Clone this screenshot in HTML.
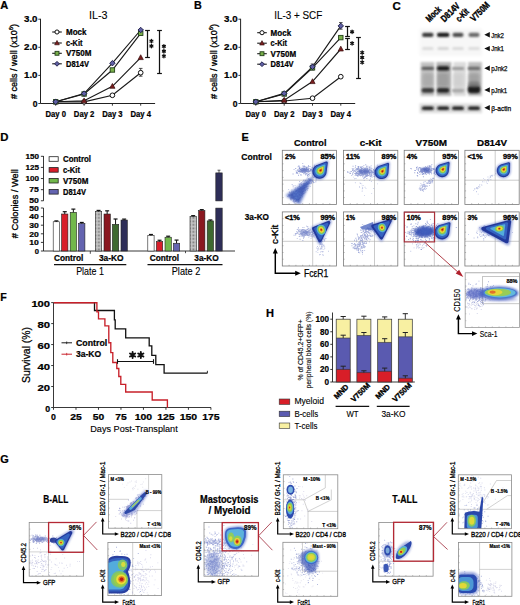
<!DOCTYPE html>
<html><head><meta charset="utf-8"><style>
html,body{margin:0;padding:0;background:#fff;width:520px;height:605px;overflow:hidden;}
svg{display:block;font-family:"Liberation Sans", sans-serif;}
text[font-weight=bold]{stroke:#000;stroke-width:0.22px;}
text[font-weight=normal]{stroke:#000;stroke-width:0.12px;}
</style></head><body>
<svg width="520" height="605" viewBox="0 0 520 605">
<defs>
<filter id="bl05" x="-20%" y="-20%" width="140%" height="140%"><feGaussianBlur stdDeviation="0.45"/></filter>
<filter id="bl07" x="-30%" y="-80%" width="160%" height="260%"><feGaussianBlur stdDeviation="0.95"/></filter>
<filter id="bl1" x="-30%" y="-30%" width="160%" height="160%"><feGaussianBlur stdDeviation="0.9"/></filter>
<filter id="bl2" x="-30%" y="-30%" width="160%" height="160%"><feGaussianBlur stdDeviation="1.8"/></filter>
<pattern id="dots" width="1.4" height="1.4" patternUnits="userSpaceOnUse"><rect width="1.4" height="1.4" fill="#c4c4c4"/><rect width="0.7" height="0.7" fill="#7a7a7a"/></pattern>
</defs>
<rect width="520" height="605" fill="#fff"/>
<text x="0.20" y="9.00" font-size="10.8" font-weight="bold" fill="#000" textLength="8.0" lengthAdjust="spacingAndGlyphs">A</text>
<line x1="40.50" y1="18.80" x2="40.50" y2="103.50" stroke="#222" stroke-width="1.0"/>
<line x1="40.50" y1="103.50" x2="155.10" y2="103.50" stroke="#222" stroke-width="1.0"/>
<line x1="38.30" y1="19.20" x2="40.50" y2="19.20" stroke="#222" stroke-width="0.9"/>
<text x="37.50" y="22.20" font-size="8.6" font-weight="bold" fill="#000" text-anchor="end" textLength="13.5" lengthAdjust="spacingAndGlyphs">3.0</text>
<line x1="38.30" y1="47.30" x2="40.50" y2="47.30" stroke="#222" stroke-width="0.9"/>
<text x="37.50" y="50.30" font-size="8.6" font-weight="bold" fill="#000" text-anchor="end" textLength="13.5" lengthAdjust="spacingAndGlyphs">2.0</text>
<line x1="38.30" y1="75.40" x2="40.50" y2="75.40" stroke="#222" stroke-width="0.9"/>
<text x="37.50" y="78.40" font-size="8.6" font-weight="bold" fill="#000" text-anchor="end" textLength="13.5" lengthAdjust="spacingAndGlyphs">1.0</text>
<line x1="38.30" y1="103.50" x2="40.50" y2="103.50" stroke="#222" stroke-width="0.9"/>
<text x="37.50" y="106.50" font-size="8.6" font-weight="bold" fill="#000" text-anchor="end">0</text>
<line x1="55.70" y1="103.50" x2="55.70" y2="105.70" stroke="#222" stroke-width="0.9"/>
<text x="55.70" y="116.70" font-size="8.3" font-weight="bold" fill="#000" text-anchor="middle" textLength="20.5" lengthAdjust="spacingAndGlyphs">Day 0</text>
<line x1="84.10" y1="103.50" x2="84.10" y2="105.70" stroke="#222" stroke-width="0.9"/>
<text x="84.10" y="116.70" font-size="8.3" font-weight="bold" fill="#000" text-anchor="middle" textLength="20.5" lengthAdjust="spacingAndGlyphs">Day 2</text>
<line x1="112.40" y1="103.50" x2="112.40" y2="105.70" stroke="#222" stroke-width="0.9"/>
<text x="112.40" y="116.70" font-size="8.3" font-weight="bold" fill="#000" text-anchor="middle" textLength="20.5" lengthAdjust="spacingAndGlyphs">Day 3</text>
<line x1="140.70" y1="103.50" x2="140.70" y2="105.70" stroke="#222" stroke-width="0.9"/>
<text x="140.70" y="116.70" font-size="8.3" font-weight="bold" fill="#000" text-anchor="middle" textLength="20.5" lengthAdjust="spacingAndGlyphs">Day 4</text>
<text x="89.00" y="18.90" font-size="10.8" font-weight="normal" fill="#000" textLength="18.5" lengthAdjust="spacingAndGlyphs">IL-3</text>
<text x="16.50" y="61.5" font-size="9.2" font-weight="normal" style="stroke-width:0.32px" text-anchor="middle" textLength="75" lengthAdjust="spacingAndGlyphs" transform="rotate(-90 16.50 61.5)"># cells / well (x10<tspan font-size="6" dy="-3.6">6</tspan><tspan dy="3.6">)</tspan></text>
<line x1="52.20" y1="32.00" x2="61.80" y2="32.00" stroke="#1a1a1a" stroke-width="1.1"/>
<circle cx="57.00" cy="32.00" r="2.07" fill="#fff" stroke="#111" stroke-width="1.0"/>
<text x="66.00" y="35.00" font-size="8.2" font-weight="bold" fill="#000" textLength="20.5" lengthAdjust="spacingAndGlyphs">Mock</text>
<line x1="52.20" y1="43.00" x2="61.80" y2="43.00" stroke="#1a1a1a" stroke-width="1.1"/>
<path d="M54.70,44.77 L59.30,44.77 L57.00,40.47Z" fill="#7a1e1e" stroke="#3a1010" stroke-width="0.7"/>
<text x="66.00" y="46.00" font-size="8.2" font-weight="bold" fill="#000" textLength="16.5" lengthAdjust="spacingAndGlyphs">c-Kit</text>
<line x1="52.20" y1="53.30" x2="61.80" y2="53.30" stroke="#1a1a1a" stroke-width="1.1"/>
<rect x="55.05" y="51.34" width="3.91" height="3.91" fill="#7ab04a" stroke="#22401a" stroke-width="0.9"/>
<text x="66.00" y="56.30" font-size="8.2" font-weight="bold" fill="#000" textLength="25.5" lengthAdjust="spacingAndGlyphs">V750M</text>
<line x1="52.20" y1="63.80" x2="61.80" y2="63.80" stroke="#1a1a1a" stroke-width="1.1"/>
<path d="M57.00,61.38 L59.41,63.80 L57.00,66.22 L54.59,63.80Z" fill="#6060a4" stroke="#1a1a44" stroke-width="0.9"/>
<text x="66.00" y="66.80" font-size="8.2" font-weight="bold" fill="#000" textLength="23" lengthAdjust="spacingAndGlyphs">D814V</text>
<polyline points="55.70,101.80 84.10,101.80 112.40,95.30 140.70,72.70" fill="none" stroke="#1a1a1a" stroke-width="1.15"/>
<polyline points="55.70,101.80 84.10,100.80 112.40,86.30 140.70,57.60" fill="none" stroke="#1a1a1a" stroke-width="1.15"/>
<polyline points="55.70,101.80 84.10,94.00 112.40,70.00 140.70,33.30" fill="none" stroke="#1a1a1a" stroke-width="1.15"/>
<polyline points="55.70,101.80 84.10,93.60 112.40,63.20 140.70,30.00" fill="none" stroke="#1a1a1a" stroke-width="1.15"/>
<line x1="140.70" y1="68.40" x2="140.70" y2="76.20" stroke="#222" stroke-width="0.8"/>
<line x1="138.90" y1="68.40" x2="142.50" y2="68.40" stroke="#222" stroke-width="0.8"/>
<line x1="138.90" y1="76.20" x2="142.50" y2="76.20" stroke="#222" stroke-width="0.8"/>
<circle cx="55.70" cy="101.80" r="2.34" fill="#fff" stroke="#111" stroke-width="1.0"/>
<circle cx="84.10" cy="101.80" r="2.34" fill="#fff" stroke="#111" stroke-width="1.0"/>
<circle cx="112.40" cy="95.30" r="2.34" fill="#fff" stroke="#111" stroke-width="1.0"/>
<circle cx="140.70" cy="72.70" r="2.34" fill="#fff" stroke="#111" stroke-width="1.0"/>
<path d="M53.10,103.80 L58.30,103.80 L55.70,98.94Z" fill="#7a1e1e" stroke="#3a1010" stroke-width="0.7"/>
<path d="M81.50,102.80 L86.70,102.80 L84.10,97.94Z" fill="#7a1e1e" stroke="#3a1010" stroke-width="0.7"/>
<path d="M109.80,88.30 L115.00,88.30 L112.40,83.44Z" fill="#7a1e1e" stroke="#3a1010" stroke-width="0.7"/>
<path d="M138.10,59.60 L143.30,59.60 L140.70,54.74Z" fill="#7a1e1e" stroke="#3a1010" stroke-width="0.7"/>
<rect x="53.49" y="99.59" width="4.42" height="4.42" fill="#7ab04a" stroke="#22401a" stroke-width="0.9"/>
<rect x="81.89" y="91.79" width="4.42" height="4.42" fill="#7ab04a" stroke="#22401a" stroke-width="0.9"/>
<rect x="110.19" y="67.79" width="4.42" height="4.42" fill="#7ab04a" stroke="#22401a" stroke-width="0.9"/>
<rect x="138.49" y="31.09" width="4.42" height="4.42" fill="#7ab04a" stroke="#22401a" stroke-width="0.9"/>
<path d="M55.70,99.07 L58.43,101.80 L55.70,104.53 L52.97,101.80Z" fill="#6060a4" stroke="#1a1a44" stroke-width="0.9"/>
<path d="M84.10,90.87 L86.83,93.60 L84.10,96.33 L81.37,93.60Z" fill="#6060a4" stroke="#1a1a44" stroke-width="0.9"/>
<path d="M112.40,60.47 L115.13,63.20 L112.40,65.93 L109.67,63.20Z" fill="#6060a4" stroke="#1a1a44" stroke-width="0.9"/>
<path d="M140.70,27.27 L143.43,30.00 L140.70,32.73 L137.97,30.00Z" fill="#6060a4" stroke="#1a1a44" stroke-width="0.9"/>
<line x1="147.50" y1="30.50" x2="147.50" y2="57.50" stroke="#111" stroke-width="1.25"/>
<line x1="145.10" y1="30.50" x2="149.90" y2="30.50" stroke="#111" stroke-width="1.2"/>
<line x1="145.10" y1="57.50" x2="149.90" y2="57.50" stroke="#111" stroke-width="1.2"/>
<path d="M151.40,39.45L151.40,42.85M152.87,40.30L149.93,42.00M152.87,42.00L149.93,40.30" stroke="#111" stroke-width="1.3" stroke-linecap="round"/>
<path d="M151.40,44.35L151.40,47.75M152.87,45.20L149.93,46.90M152.87,46.90L149.93,45.20" stroke="#111" stroke-width="1.3" stroke-linecap="round"/>
<line x1="159.50" y1="30.50" x2="159.50" y2="73.50" stroke="#111" stroke-width="1.25"/>
<line x1="157.10" y1="30.50" x2="161.90" y2="30.50" stroke="#111" stroke-width="1.2"/>
<line x1="157.10" y1="73.50" x2="161.90" y2="73.50" stroke="#111" stroke-width="1.2"/>
<path d="M163.90,44.60L163.90,48.00M165.37,45.45L162.43,47.15M165.37,47.15L162.43,45.45" stroke="#111" stroke-width="1.3" stroke-linecap="round"/>
<path d="M163.90,49.50L163.90,52.90M165.37,50.35L162.43,52.05M165.37,52.05L162.43,50.35" stroke="#111" stroke-width="1.3" stroke-linecap="round"/>
<path d="M163.90,54.40L163.90,57.80M165.37,55.25L162.43,56.95M165.37,56.95L162.43,55.25" stroke="#111" stroke-width="1.3" stroke-linecap="round"/>
<text x="194.00" y="8.80" font-size="10.8" font-weight="bold" fill="#000" textLength="7.8" lengthAdjust="spacingAndGlyphs">B</text>
<line x1="240.60" y1="18.80" x2="240.60" y2="103.50" stroke="#222" stroke-width="1.0"/>
<line x1="240.60" y1="103.50" x2="355.20" y2="103.50" stroke="#222" stroke-width="1.0"/>
<line x1="238.40" y1="19.20" x2="240.60" y2="19.20" stroke="#222" stroke-width="0.9"/>
<text x="237.60" y="22.20" font-size="8.6" font-weight="bold" fill="#000" text-anchor="end" textLength="13.5" lengthAdjust="spacingAndGlyphs">3.0</text>
<line x1="238.40" y1="47.30" x2="240.60" y2="47.30" stroke="#222" stroke-width="0.9"/>
<text x="237.60" y="50.30" font-size="8.6" font-weight="bold" fill="#000" text-anchor="end" textLength="13.5" lengthAdjust="spacingAndGlyphs">2.0</text>
<line x1="238.40" y1="75.40" x2="240.60" y2="75.40" stroke="#222" stroke-width="0.9"/>
<text x="237.60" y="78.40" font-size="8.6" font-weight="bold" fill="#000" text-anchor="end" textLength="13.5" lengthAdjust="spacingAndGlyphs">1.0</text>
<line x1="238.40" y1="103.50" x2="240.60" y2="103.50" stroke="#222" stroke-width="0.9"/>
<text x="237.60" y="106.50" font-size="8.6" font-weight="bold" fill="#000" text-anchor="end">0</text>
<line x1="255.80" y1="103.50" x2="255.80" y2="105.70" stroke="#222" stroke-width="0.9"/>
<text x="255.80" y="116.70" font-size="8.3" font-weight="bold" fill="#000" text-anchor="middle" textLength="20.5" lengthAdjust="spacingAndGlyphs">Day 0</text>
<line x1="284.20" y1="103.50" x2="284.20" y2="105.70" stroke="#222" stroke-width="0.9"/>
<text x="284.20" y="116.70" font-size="8.3" font-weight="bold" fill="#000" text-anchor="middle" textLength="20.5" lengthAdjust="spacingAndGlyphs">Day 2</text>
<line x1="312.50" y1="103.50" x2="312.50" y2="105.70" stroke="#222" stroke-width="0.9"/>
<text x="312.50" y="116.70" font-size="8.3" font-weight="bold" fill="#000" text-anchor="middle" textLength="20.5" lengthAdjust="spacingAndGlyphs">Day 3</text>
<line x1="340.80" y1="103.50" x2="340.80" y2="105.70" stroke="#222" stroke-width="0.9"/>
<text x="340.80" y="116.70" font-size="8.3" font-weight="bold" fill="#000" text-anchor="middle" textLength="20.5" lengthAdjust="spacingAndGlyphs">Day 4</text>
<text x="274.20" y="18.90" font-size="10.8" font-weight="normal" fill="#000" textLength="48" lengthAdjust="spacingAndGlyphs">IL-3 + SCF</text>
<text x="216.50" y="61.5" font-size="9.2" font-weight="normal" style="stroke-width:0.32px" text-anchor="middle" textLength="75" lengthAdjust="spacingAndGlyphs" transform="rotate(-90 216.50 61.5)"># cells / well (x10<tspan font-size="6" dy="-3.6">6</tspan><tspan dy="3.6">)</tspan></text>
<line x1="257.20" y1="32.70" x2="266.80" y2="32.70" stroke="#1a1a1a" stroke-width="1.1"/>
<circle cx="262.00" cy="32.70" r="2.07" fill="#fff" stroke="#111" stroke-width="1.0"/>
<text x="270.60" y="35.70" font-size="8.2" font-weight="bold" fill="#000" textLength="20.5" lengthAdjust="spacingAndGlyphs">Mock</text>
<line x1="257.20" y1="43.20" x2="266.80" y2="43.20" stroke="#1a1a1a" stroke-width="1.1"/>
<path d="M259.70,44.97 L264.30,44.97 L262.00,40.67Z" fill="#7a1e1e" stroke="#3a1010" stroke-width="0.7"/>
<text x="270.60" y="46.20" font-size="8.2" font-weight="bold" fill="#000" textLength="16.5" lengthAdjust="spacingAndGlyphs">c-Kit</text>
<line x1="257.20" y1="53.70" x2="266.80" y2="53.70" stroke="#1a1a1a" stroke-width="1.1"/>
<rect x="260.05" y="51.75" width="3.91" height="3.91" fill="#7ab04a" stroke="#22401a" stroke-width="0.9"/>
<text x="270.60" y="56.70" font-size="8.2" font-weight="bold" fill="#000" textLength="25.5" lengthAdjust="spacingAndGlyphs">V750M</text>
<line x1="257.20" y1="64.20" x2="266.80" y2="64.20" stroke="#1a1a1a" stroke-width="1.1"/>
<path d="M262.00,61.79 L264.42,64.20 L262.00,66.62 L259.58,64.20Z" fill="#6060a4" stroke="#1a1a44" stroke-width="0.9"/>
<text x="270.60" y="67.20" font-size="8.2" font-weight="bold" fill="#000" textLength="23" lengthAdjust="spacingAndGlyphs">D814V</text>
<polyline points="255.80,101.80 284.20,101.00 312.50,98.20 340.80,76.70" fill="none" stroke="#1a1a1a" stroke-width="1.15"/>
<polyline points="255.80,101.80 284.20,100.20 312.50,81.60 340.80,49.00" fill="none" stroke="#1a1a1a" stroke-width="1.15"/>
<polyline points="255.80,101.80 284.20,94.00 312.50,67.80 340.80,37.60" fill="none" stroke="#1a1a1a" stroke-width="1.15"/>
<polyline points="255.80,101.80 284.20,93.40 312.50,66.80 340.80,25.90" fill="none" stroke="#1a1a1a" stroke-width="1.15"/>
<line x1="340.80" y1="22.60" x2="340.80" y2="29.20" stroke="#222" stroke-width="0.8"/>
<line x1="339.00" y1="22.60" x2="342.60" y2="22.60" stroke="#222" stroke-width="0.8"/>
<line x1="339.00" y1="29.20" x2="342.60" y2="29.20" stroke="#222" stroke-width="0.8"/>
<line x1="312.50" y1="64.00" x2="312.50" y2="70.00" stroke="#222" stroke-width="0.8"/>
<line x1="310.70" y1="64.00" x2="314.30" y2="64.00" stroke="#222" stroke-width="0.8"/>
<line x1="310.70" y1="70.00" x2="314.30" y2="70.00" stroke="#222" stroke-width="0.8"/>
<circle cx="255.80" cy="101.80" r="2.34" fill="#fff" stroke="#111" stroke-width="1.0"/>
<circle cx="284.20" cy="101.00" r="2.34" fill="#fff" stroke="#111" stroke-width="1.0"/>
<circle cx="312.50" cy="98.20" r="2.34" fill="#fff" stroke="#111" stroke-width="1.0"/>
<circle cx="340.80" cy="76.70" r="2.34" fill="#fff" stroke="#111" stroke-width="1.0"/>
<path d="M253.20,103.80 L258.40,103.80 L255.80,98.94Z" fill="#7a1e1e" stroke="#3a1010" stroke-width="0.7"/>
<path d="M281.60,102.20 L286.80,102.20 L284.20,97.34Z" fill="#7a1e1e" stroke="#3a1010" stroke-width="0.7"/>
<path d="M309.90,83.60 L315.10,83.60 L312.50,78.74Z" fill="#7a1e1e" stroke="#3a1010" stroke-width="0.7"/>
<path d="M338.20,51.00 L343.40,51.00 L340.80,46.14Z" fill="#7a1e1e" stroke="#3a1010" stroke-width="0.7"/>
<rect x="253.59" y="99.59" width="4.42" height="4.42" fill="#7ab04a" stroke="#22401a" stroke-width="0.9"/>
<rect x="281.99" y="91.79" width="4.42" height="4.42" fill="#7ab04a" stroke="#22401a" stroke-width="0.9"/>
<rect x="310.29" y="65.59" width="4.42" height="4.42" fill="#7ab04a" stroke="#22401a" stroke-width="0.9"/>
<rect x="338.59" y="35.39" width="4.42" height="4.42" fill="#7ab04a" stroke="#22401a" stroke-width="0.9"/>
<path d="M255.80,99.07 L258.53,101.80 L255.80,104.53 L253.07,101.80Z" fill="#6060a4" stroke="#1a1a44" stroke-width="0.9"/>
<path d="M284.20,90.67 L286.93,93.40 L284.20,96.13 L281.47,93.40Z" fill="#6060a4" stroke="#1a1a44" stroke-width="0.9"/>
<path d="M312.50,64.07 L315.23,66.80 L312.50,69.53 L309.77,66.80Z" fill="#6060a4" stroke="#1a1a44" stroke-width="0.9"/>
<path d="M340.80,23.17 L343.53,25.90 L340.80,28.63 L338.07,25.90Z" fill="#6060a4" stroke="#1a1a44" stroke-width="0.9"/>
<line x1="347.50" y1="26.50" x2="347.50" y2="36.50" stroke="#111" stroke-width="1.25"/>
<line x1="345.10" y1="26.50" x2="349.90" y2="26.50" stroke="#111" stroke-width="1.2"/>
<line x1="345.10" y1="36.50" x2="349.90" y2="36.50" stroke="#111" stroke-width="1.2"/>
<path d="M352.10,30.10L352.10,33.50M353.57,30.95L350.63,32.65M353.57,32.65L350.63,30.95" stroke="#111" stroke-width="1.3" stroke-linecap="round"/>
<line x1="347.50" y1="38.50" x2="347.50" y2="49.50" stroke="#111" stroke-width="1.25"/>
<line x1="345.10" y1="38.50" x2="349.90" y2="38.50" stroke="#111" stroke-width="1.2"/>
<line x1="345.10" y1="49.50" x2="349.90" y2="49.50" stroke="#111" stroke-width="1.2"/>
<path d="M352.10,41.70L352.10,45.10M353.57,42.55L350.63,44.25M353.57,44.25L350.63,42.55" stroke="#111" stroke-width="1.3" stroke-linecap="round"/>
<line x1="358.50" y1="37.50" x2="358.50" y2="78.50" stroke="#111" stroke-width="1.25"/>
<line x1="356.10" y1="37.50" x2="360.90" y2="37.50" stroke="#111" stroke-width="1.2"/>
<line x1="356.10" y1="78.50" x2="360.90" y2="78.50" stroke="#111" stroke-width="1.2"/>
<path d="M362.20,50.90L362.20,54.30M363.67,51.75L360.73,53.45M363.67,53.45L360.73,51.75" stroke="#111" stroke-width="1.3" stroke-linecap="round"/>
<path d="M362.20,55.80L362.20,59.20M363.67,56.65L360.73,58.35M363.67,58.35L360.73,56.65" stroke="#111" stroke-width="1.3" stroke-linecap="round"/>
<path d="M362.20,60.70L362.20,64.10M363.67,61.55L360.73,63.25M363.67,63.25L360.73,61.55" stroke="#111" stroke-width="1.3" stroke-linecap="round"/>
<text x="392.60" y="9.90" font-size="10.8" font-weight="bold" fill="#000" textLength="8.3" lengthAdjust="spacingAndGlyphs">C</text>
<text x="429.60" y="22.40" font-size="9.4" font-weight="bold" fill="#000" textLength="17.5" lengthAdjust="spacingAndGlyphs" transform="rotate(-45 429.60 22.40)" style="stroke-width:0.4px">Mock</text>
<text x="444.60" y="22.40" font-size="9.4" font-weight="bold" fill="#000" textLength="22.5" lengthAdjust="spacingAndGlyphs" transform="rotate(-45 444.60 22.40)" style="stroke-width:0.4px">D814V</text>
<text x="459.40" y="22.40" font-size="9.4" font-weight="bold" fill="#000" textLength="14.5" lengthAdjust="spacingAndGlyphs" transform="rotate(-45 459.40 22.40)" style="stroke-width:0.4px">c-Kit</text>
<text x="474.00" y="22.00" font-size="9.4" font-weight="bold" fill="#000" textLength="23" lengthAdjust="spacingAndGlyphs" transform="rotate(-45 474.00 22.00)" style="stroke-width:0.4px">V750M</text>
<rect x="419.50" y="28.50" width="62.50" height="27.50" fill="#f7f7f7" stroke="none" stroke-width="0.6" filter="url(#bl2)"/>
<rect x="422.05" y="32.80" width="11.50" height="4.20" rx="2.10" fill="#3a3a3a" opacity="1.0" filter="url(#bl07)"/>
<rect x="436.95" y="32.80" width="12.50" height="4.20" rx="2.10" fill="#1a1a1a" opacity="1.0" filter="url(#bl07)"/>
<rect x="452.50" y="32.80" width="11.00" height="4.20" rx="2.10" fill="#4e4e4e" opacity="1.0" filter="url(#bl07)"/>
<rect x="468.50" y="32.80" width="11.00" height="4.20" rx="2.10" fill="#6a6a6a" opacity="1.0" filter="url(#bl07)"/>
<rect x="422.05" y="46.90" width="11.50" height="3.00" rx="1.50" fill="#dcdcdc" opacity="1.0" filter="url(#bl07)"/>
<rect x="437.45" y="46.90" width="11.50" height="3.00" rx="1.50" fill="#d4d4d4" opacity="1.0" filter="url(#bl07)"/>
<rect x="452.25" y="46.90" width="11.50" height="3.00" rx="1.50" fill="#dadada" opacity="1.0" filter="url(#bl07)"/>
<rect x="468.25" y="46.90" width="11.50" height="3.00" rx="1.50" fill="#dcdcdc" opacity="1.0" filter="url(#bl07)"/>
<rect x="420.60" y="62.00" width="13.70" height="34.00" fill="#c4c4c4" stroke="none" stroke-width="0.6" filter="url(#bl1)"/>
<rect x="436.40" y="62.00" width="14.90" height="34.00" fill="#b4b4b4" stroke="none" stroke-width="0.6" filter="url(#bl1)"/>
<rect x="453.40" y="62.00" width="12.60" height="34.00" fill="#dcdcdc" stroke="none" stroke-width="0.6" filter="url(#bl1)"/>
<rect x="468.20" y="62.00" width="13.70" height="34.00" fill="#c0c0c0" stroke="none" stroke-width="0.6" filter="url(#bl1)"/>
<rect x="422.30" y="73.00" width="11.00" height="14.00" rx="3.00" fill="#9a9a9a" opacity="0.55" filter="url(#bl2)"/>
<rect x="437.70" y="73.00" width="11.00" height="14.00" rx="3.00" fill="#8e8e8e" opacity="0.55" filter="url(#bl2)"/>
<rect x="452.50" y="73.00" width="11.00" height="14.00" rx="3.00" fill="#c8c8c8" opacity="0.55" filter="url(#bl2)"/>
<rect x="468.50" y="73.00" width="11.00" height="14.00" rx="3.00" fill="#8a8a8a" opacity="0.55" filter="url(#bl2)"/>
<rect x="421.55" y="66.70" width="12.50" height="3.40" rx="1.70" fill="#5a5a5a" opacity="1.0" filter="url(#bl07)"/>
<rect x="436.95" y="66.30" width="12.50" height="4.20" rx="2.10" fill="#151515" opacity="1.0" filter="url(#bl07)"/>
<rect x="451.75" y="66.90" width="12.50" height="3.00" rx="1.50" fill="#9a9a9a" opacity="1.0" filter="url(#bl07)"/>
<rect x="467.75" y="66.80" width="12.50" height="3.20" rx="1.60" fill="#6a6a6a" opacity="1.0" filter="url(#bl07)"/>
<rect x="421.55" y="88.00" width="12.50" height="4.80" rx="2.40" fill="#3a3a3a" opacity="1.0" filter="url(#bl07)"/>
<rect x="436.95" y="88.00" width="12.50" height="4.80" rx="2.40" fill="#262626" opacity="1.0" filter="url(#bl07)"/>
<rect x="451.75" y="88.80" width="12.50" height="3.60" rx="1.80" fill="#a8a8a8" opacity="1.0" filter="url(#bl07)"/>
<rect x="467.75" y="85.65" width="12.50" height="7.50" rx="3.00" fill="#1e1e1e" opacity="1.0" filter="url(#bl07)"/>
<rect x="468.25" y="81.50" width="11.50" height="6.00" rx="3.00" fill="#6a6a6a" opacity="0.6" filter="url(#bl1)"/>
<rect x="419.50" y="103.40" width="62.50" height="9.80" fill="#dedede" stroke="none" stroke-width="0.6" filter="url(#bl1)"/>
<rect x="421.80" y="106.50" width="12.00" height="3.60" rx="1.80" fill="#1a1a1a" opacity="1.0" filter="url(#bl07)"/>
<rect x="437.20" y="106.50" width="12.00" height="3.60" rx="1.80" fill="#1a1a1a" opacity="1.0" filter="url(#bl07)"/>
<rect x="452.00" y="106.50" width="12.00" height="3.60" rx="1.80" fill="#1a1a1a" opacity="1.0" filter="url(#bl07)"/>
<rect x="468.00" y="106.50" width="12.00" height="3.60" rx="1.80" fill="#1a1a1a" opacity="1.0" filter="url(#bl07)"/>
<path d="M484.3,34.80 L489.8,32.10 L489.8,37.50Z" fill="#111"/>
<text x="491.20" y="37.60" font-size="7.8" font-weight="normal" fill="#000" textLength="12.8" lengthAdjust="spacingAndGlyphs" style="stroke-width:0.25px">Jnk2</text>
<path d="M484.3,48.60 L489.8,45.90 L489.8,51.30Z" fill="#111"/>
<text x="491.20" y="51.40" font-size="7.8" font-weight="normal" fill="#000" textLength="12.8" lengthAdjust="spacingAndGlyphs" style="stroke-width:0.25px">Jnk1</text>
<path d="M484.3,68.20 L489.8,65.50 L489.8,70.90Z" fill="#111"/>
<text x="491.20" y="71.00" font-size="7.8" font-weight="normal" fill="#000" textLength="16.3" lengthAdjust="spacingAndGlyphs" style="stroke-width:0.25px">pJnk2</text>
<path d="M484.3,89.90 L489.8,87.20 L489.8,92.60Z" fill="#111"/>
<text x="491.20" y="92.70" font-size="7.8" font-weight="normal" fill="#000" textLength="16.0" lengthAdjust="spacingAndGlyphs" style="stroke-width:0.25px">pJnk1</text>
<path d="M484.3,107.80 L489.8,105.10 L489.8,110.50Z" fill="#111"/>
<text x="491.20" y="110.60" font-size="7.8" font-weight="normal" fill="#000" textLength="20.0" lengthAdjust="spacingAndGlyphs" style="stroke-width:0.25px">β-actin</text>
<text x="0.20" y="140.60" font-size="10.8" font-weight="bold" fill="#000" textLength="8.2" lengthAdjust="spacingAndGlyphs">D</text>
<line x1="43.50" y1="156.00" x2="43.50" y2="200.80" stroke="#222" stroke-width="0.9"/>
<line x1="40.90" y1="156.30" x2="43.50" y2="156.30" stroke="#222" stroke-width="0.9"/>
<text x="38.90" y="159.00" font-size="7.6" font-weight="bold" fill="#000" text-anchor="end" textLength="13.5" lengthAdjust="spacingAndGlyphs">150</text>
<line x1="40.90" y1="167.42" x2="43.50" y2="167.42" stroke="#222" stroke-width="0.9"/>
<text x="38.90" y="170.12" font-size="7.6" font-weight="bold" fill="#000" text-anchor="end" textLength="13.5" lengthAdjust="spacingAndGlyphs">125</text>
<line x1="40.90" y1="178.54" x2="43.50" y2="178.54" stroke="#222" stroke-width="0.9"/>
<text x="38.90" y="181.24" font-size="7.6" font-weight="bold" fill="#000" text-anchor="end" textLength="13.5" lengthAdjust="spacingAndGlyphs">100</text>
<line x1="40.90" y1="189.66" x2="43.50" y2="189.66" stroke="#222" stroke-width="0.9"/>
<text x="38.90" y="192.36" font-size="7.6" font-weight="bold" fill="#000" text-anchor="end" textLength="9.6" lengthAdjust="spacingAndGlyphs">75</text>
<line x1="40.90" y1="200.78" x2="43.50" y2="200.78" stroke="#222" stroke-width="0.9"/>
<text x="38.90" y="203.48" font-size="7.6" font-weight="bold" fill="#000" text-anchor="end" textLength="9.6" lengthAdjust="spacingAndGlyphs">50</text>
<line x1="43.50" y1="208.00" x2="43.50" y2="251.00" stroke="#222" stroke-width="0.9"/>
<line x1="40.90" y1="208.00" x2="43.50" y2="208.00" stroke="#222" stroke-width="0.9"/>
<text x="38.90" y="210.70" font-size="7.6" font-weight="bold" fill="#000" text-anchor="end" textLength="9.6" lengthAdjust="spacingAndGlyphs">50</text>
<line x1="40.90" y1="216.60" x2="43.50" y2="216.60" stroke="#222" stroke-width="0.9"/>
<text x="38.90" y="219.30" font-size="7.6" font-weight="bold" fill="#000" text-anchor="end" textLength="9.6" lengthAdjust="spacingAndGlyphs">40</text>
<line x1="40.90" y1="225.20" x2="43.50" y2="225.20" stroke="#222" stroke-width="0.9"/>
<text x="38.90" y="227.90" font-size="7.6" font-weight="bold" fill="#000" text-anchor="end" textLength="9.6" lengthAdjust="spacingAndGlyphs">30</text>
<line x1="40.90" y1="233.80" x2="43.50" y2="233.80" stroke="#222" stroke-width="0.9"/>
<text x="38.90" y="236.50" font-size="7.6" font-weight="bold" fill="#000" text-anchor="end" textLength="9.6" lengthAdjust="spacingAndGlyphs">20</text>
<line x1="40.90" y1="242.40" x2="43.50" y2="242.40" stroke="#222" stroke-width="0.9"/>
<text x="38.90" y="245.10" font-size="7.6" font-weight="bold" fill="#000" text-anchor="end" textLength="9.6" lengthAdjust="spacingAndGlyphs">10</text>
<line x1="40.90" y1="251.00" x2="43.50" y2="251.00" stroke="#222" stroke-width="0.9"/>
<text x="38.90" y="253.70" font-size="7.6" font-weight="bold" fill="#000" text-anchor="end">0</text>
<line x1="43.50" y1="251.00" x2="235.00" y2="251.00" stroke="#222" stroke-width="0.9"/>
<line x1="90.30" y1="251.00" x2="90.30" y2="253.80" stroke="#222" stroke-width="0.8"/>
<line x1="185.50" y1="251.00" x2="185.50" y2="253.20" stroke="#222" stroke-width="0.8"/>
<text x="17.70" y="203.70" font-size="9.3" font-weight="normal" fill="#000" text-anchor="middle" textLength="69" lengthAdjust="spacingAndGlyphs" transform="rotate(-90 17.70 203.70)" style="stroke-width:0.32px"># Colonies / Well</text>
<rect x="49.10" y="156.70" width="9.10" height="4.60" fill="#ffffff" stroke="#222" stroke-width="0.8"/>
<text x="63.00" y="162.00" font-size="8.2" font-weight="bold" fill="#000" textLength="28" lengthAdjust="spacingAndGlyphs">Control</text>
<rect x="49.10" y="167.60" width="9.10" height="4.60" fill="#d81e2a" stroke="#222" stroke-width="0.8"/>
<text x="63.00" y="172.90" font-size="8.2" font-weight="bold" fill="#000" textLength="17" lengthAdjust="spacingAndGlyphs">c-Kit</text>
<rect x="49.10" y="178.40" width="9.10" height="4.60" fill="#72b84c" stroke="#222" stroke-width="0.8"/>
<text x="63.00" y="183.70" font-size="8.2" font-weight="bold" fill="#000" textLength="25.5" lengthAdjust="spacingAndGlyphs">V750M</text>
<rect x="49.10" y="189.50" width="9.10" height="4.60" fill="#6464b0" stroke="#222" stroke-width="0.8"/>
<text x="63.00" y="194.80" font-size="8.2" font-weight="bold" fill="#000" textLength="23" lengthAdjust="spacingAndGlyphs">D814V</text>
<rect x="53.20" y="221.76" width="6.30" height="29.24" fill="#ffffff" stroke="#222" stroke-width="0.6"/>
<line x1="56.35" y1="221.76" x2="56.35" y2="220.90" stroke="#111" stroke-width="1.0"/>
<line x1="54.35" y1="220.90" x2="58.35" y2="220.90" stroke="#111" stroke-width="1.2"/>
<rect x="61.60" y="214.02" width="6.30" height="36.98" fill="#d81e2a" stroke="#222" stroke-width="0.6"/>
<line x1="64.75" y1="214.02" x2="64.75" y2="211.70" stroke="#111" stroke-width="1.0"/>
<line x1="62.75" y1="211.70" x2="66.75" y2="211.70" stroke="#111" stroke-width="1.2"/>
<rect x="70.20" y="212.30" width="6.30" height="38.70" fill="#72b84c" stroke="#222" stroke-width="0.6"/>
<line x1="73.35" y1="212.30" x2="73.35" y2="209.12" stroke="#111" stroke-width="1.0"/>
<line x1="71.35" y1="209.12" x2="75.35" y2="209.12" stroke="#111" stroke-width="1.2"/>
<rect x="78.60" y="223.48" width="6.30" height="27.52" fill="#6464b0" stroke="#222" stroke-width="0.6"/>
<line x1="81.75" y1="223.48" x2="81.75" y2="222.45" stroke="#111" stroke-width="1.0"/>
<line x1="79.75" y1="222.45" x2="83.75" y2="222.45" stroke="#111" stroke-width="1.2"/>
<rect x="95.40" y="211.44" width="6.30" height="39.56" fill="#a8a8a8" stroke="#222" stroke-width="0.6" style="fill:url(#dots)"/>
<line x1="98.55" y1="211.44" x2="98.55" y2="210.41" stroke="#111" stroke-width="1.0"/>
<line x1="96.55" y1="210.41" x2="100.55" y2="210.41" stroke="#111" stroke-width="1.2"/>
<rect x="104.00" y="214.02" width="6.30" height="36.98" fill="#8a1820" stroke="#222" stroke-width="0.6"/>
<line x1="107.15" y1="214.02" x2="107.15" y2="210.84" stroke="#111" stroke-width="1.0"/>
<line x1="105.15" y1="210.84" x2="109.15" y2="210.84" stroke="#111" stroke-width="1.2"/>
<rect x="112.40" y="224.34" width="6.30" height="26.66" fill="#3e6a30" stroke="#222" stroke-width="0.6"/>
<line x1="115.55" y1="224.34" x2="115.55" y2="219.01" stroke="#111" stroke-width="1.0"/>
<line x1="113.55" y1="219.01" x2="117.55" y2="219.01" stroke="#111" stroke-width="1.2"/>
<rect x="121.00" y="220.04" width="6.30" height="30.96" fill="#2e2e58" stroke="#222" stroke-width="0.6"/>
<line x1="124.15" y1="220.04" x2="124.15" y2="219.10" stroke="#111" stroke-width="1.0"/>
<line x1="122.15" y1="219.10" x2="126.15" y2="219.10" stroke="#111" stroke-width="1.2"/>
<rect x="147.80" y="235.52" width="6.30" height="15.48" fill="#ffffff" stroke="#222" stroke-width="0.6"/>
<line x1="150.95" y1="235.52" x2="150.95" y2="234.49" stroke="#111" stroke-width="1.0"/>
<line x1="148.95" y1="234.49" x2="152.95" y2="234.49" stroke="#111" stroke-width="1.2"/>
<rect x="156.40" y="241.54" width="6.30" height="9.46" fill="#d81e2a" stroke="#222" stroke-width="0.6"/>
<line x1="159.55" y1="241.54" x2="159.55" y2="240.25" stroke="#111" stroke-width="1.0"/>
<line x1="157.55" y1="240.25" x2="161.55" y2="240.25" stroke="#111" stroke-width="1.2"/>
<rect x="165.00" y="237.24" width="6.30" height="13.76" fill="#72b84c" stroke="#222" stroke-width="0.6"/>
<line x1="168.15" y1="237.24" x2="168.15" y2="236.21" stroke="#111" stroke-width="1.0"/>
<line x1="166.15" y1="236.21" x2="170.15" y2="236.21" stroke="#111" stroke-width="1.2"/>
<rect x="173.40" y="243.26" width="6.30" height="7.74" fill="#6464b0" stroke="#222" stroke-width="0.6"/>
<line x1="176.55" y1="243.26" x2="176.55" y2="240.08" stroke="#111" stroke-width="1.0"/>
<line x1="174.55" y1="240.08" x2="178.55" y2="240.08" stroke="#111" stroke-width="1.2"/>
<rect x="190.00" y="216.60" width="6.30" height="34.40" fill="#a8a8a8" stroke="#222" stroke-width="0.6" style="fill:url(#dots)"/>
<line x1="193.15" y1="216.60" x2="193.15" y2="215.66" stroke="#111" stroke-width="1.0"/>
<line x1="191.15" y1="215.66" x2="195.15" y2="215.66" stroke="#111" stroke-width="1.2"/>
<rect x="198.60" y="210.58" width="6.30" height="40.42" fill="#8a1820" stroke="#222" stroke-width="0.6"/>
<line x1="201.75" y1="210.58" x2="201.75" y2="209.64" stroke="#111" stroke-width="1.0"/>
<line x1="199.75" y1="209.64" x2="203.75" y2="209.64" stroke="#111" stroke-width="1.2"/>
<rect x="207.20" y="220.90" width="6.30" height="30.10" fill="#3e6a30" stroke="#222" stroke-width="0.6"/>
<line x1="210.35" y1="220.90" x2="210.35" y2="219.96" stroke="#111" stroke-width="1.0"/>
<line x1="208.35" y1="219.96" x2="212.35" y2="219.96" stroke="#111" stroke-width="1.2"/>
<rect x="215.80" y="172.90" width="6.40" height="28.00" fill="#2e2e58" stroke="#222" stroke-width="0.6"/>
<rect x="215.80" y="208.10" width="6.40" height="42.90" fill="#2e2e58" stroke="#222" stroke-width="0.6"/>
<line x1="219.00" y1="172.90" x2="219.00" y2="170.20" stroke="#222" stroke-width="0.7"/>
<line x1="217.50" y1="170.20" x2="220.50" y2="170.20" stroke="#222" stroke-width="0.7"/>
<text x="68.70" y="260.80" font-size="8.2" font-weight="bold" fill="#000" text-anchor="middle" textLength="29.4" lengthAdjust="spacingAndGlyphs">Control</text>
<text x="111.30" y="260.80" font-size="8.2" font-weight="bold" fill="#000" text-anchor="middle" textLength="24.7" lengthAdjust="spacingAndGlyphs">3a-KO</text>
<text x="164.40" y="260.80" font-size="8.2" font-weight="bold" fill="#000" text-anchor="middle" textLength="29.4" lengthAdjust="spacingAndGlyphs">Control</text>
<text x="206.60" y="260.80" font-size="8.2" font-weight="bold" fill="#000" text-anchor="middle" textLength="24.5" lengthAdjust="spacingAndGlyphs">3a-KO</text>
<line x1="54.00" y1="264.70" x2="126.30" y2="264.70" stroke="#111" stroke-width="1.2"/>
<line x1="147.50" y1="264.70" x2="222.50" y2="264.70" stroke="#111" stroke-width="1.2"/>
<text x="90.00" y="275.20" font-size="10.4" font-weight="normal" fill="#000" text-anchor="middle" textLength="27.7" lengthAdjust="spacingAndGlyphs">Plate 1</text>
<text x="186.00" y="275.20" font-size="10.4" font-weight="normal" fill="#000" text-anchor="middle" textLength="28.5" lengthAdjust="spacingAndGlyphs">Plate 2</text>
<text x="241.40" y="140.90" font-size="10.8" font-weight="bold" fill="#000" textLength="7.3" lengthAdjust="spacingAndGlyphs">E</text>
<text x="310.25" y="145.80" font-size="9.6" font-weight="bold" fill="#000" text-anchor="middle" textLength="32.5" lengthAdjust="spacingAndGlyphs">Control</text>
<text x="370.65" y="145.80" font-size="9.6" font-weight="bold" fill="#000" text-anchor="middle" textLength="22" lengthAdjust="spacingAndGlyphs">c-Kit</text>
<text x="431.35" y="145.80" font-size="9.6" font-weight="bold" fill="#000" text-anchor="middle" textLength="31.5" lengthAdjust="spacingAndGlyphs">V750M</text>
<text x="492.05" y="145.80" font-size="9.6" font-weight="bold" fill="#000" text-anchor="middle" textLength="30" lengthAdjust="spacingAndGlyphs">D814V</text>
<text x="241.30" y="160.00" font-size="9.0" font-weight="bold" fill="#000" textLength="30.5" lengthAdjust="spacingAndGlyphs">Control</text>
<text x="244.80" y="219.80" font-size="9.0" font-weight="bold" fill="#000" textLength="24.2" lengthAdjust="spacingAndGlyphs">3a-KO</text>
<clipPath id="c1"><rect x="282.3" y="150.3" width="54.3" height="54.1"/></clipPath>
<g clip-path="url(#c1)">
<line x1="312.70" y1="150.30" x2="312.70" y2="204.40" stroke="#a8a8a8" stroke-width="0.6"/>
<line x1="282.30" y1="180.20" x2="336.60" y2="180.20" stroke="#a8a8a8" stroke-width="0.6"/>
<path d="M287.0,195.5 L299.5,203.6 L311.5,178.0 Z" fill="#5a70c8" stroke="#5a70c8" stroke-width="3" stroke-linejoin="round" opacity="0.45" filter="url(#bl1)"/>
<path d="M288.5,195.5 L298.8,202.0 L309.5,180.5 Z" fill="#3050b0" stroke="#3050b0" stroke-width="1.5" stroke-linejoin="round" opacity="0.8" filter="url(#bl1)"/>
<ellipse cx="296.50" cy="194.50" rx="3.00" ry="4.50" fill="#5a80d0" opacity="0.7" transform="rotate(25 296.50 194.50)" filter="url(#bl1)"/>
<path d="M298.8 194.6h0.9v0.9h-0.9zM294.7 200.8h0.9v0.9h-0.9zM300.8 187.8h0.9v0.9h-0.9zM301.2 189.4h0.9v0.9h-0.9zM289.8 197.3h0.9v0.9h-0.9zM292.3 197.6h0.9v0.9h-0.9zM299.4 191.1h0.9v0.9h-0.9zM293.6 193.4h0.9v0.9h-0.9zM305.5 188.9h0.9v0.9h-0.9zM297.4 190.1h0.9v0.9h-0.9zM313.2 182.3h0.9v0.9h-0.9zM297.4 194.6h0.9v0.9h-0.9zM294.7 197.8h0.9v0.9h-0.9zM308.1 183.7h0.9v0.9h-0.9zM290.7 192.1h0.9v0.9h-0.9zM296.2 189.9h0.9v0.9h-0.9zM302.2 188.7h0.9v0.9h-0.9zM294.7 195.2h0.9v0.9h-0.9zM302.9 183.9h0.9v0.9h-0.9zM303.0 188.1h0.9v0.9h-0.9zM298.3 188.7h0.9v0.9h-0.9zM307.7 188.2h0.9v0.9h-0.9zM292.5 191.3h0.9v0.9h-0.9zM307.5 180.6h0.9v0.9h-0.9zM304.2 183.2h0.9v0.9h-0.9zM299.5 204.1h0.9v0.9h-0.9zM298.8 190.7h0.9v0.9h-0.9zM299.1 188.0h0.9v0.9h-0.9zM288.6 195.8h0.9v0.9h-0.9zM299.1 184.5h0.9v0.9h-0.9zM307.5 180.5h0.9v0.9h-0.9zM305.2 190.0h0.9v0.9h-0.9zM298.6 183.6h0.9v0.9h-0.9zM310.6 180.9h0.9v0.9h-0.9zM299.6 189.1h0.9v0.9h-0.9zM304.2 184.4h0.9v0.9h-0.9zM307.1 189.7h0.9v0.9h-0.9zM295.8 193.1h0.9v0.9h-0.9zM297.9 191.0h0.9v0.9h-0.9zM299.3 189.4h0.9v0.9h-0.9zM294.2 196.3h0.9v0.9h-0.9zM306.5 184.1h0.9v0.9h-0.9zM292.8 196.5h0.9v0.9h-0.9zM309.8 183.2h0.9v0.9h-0.9zM288.5 194.1h0.9v0.9h-0.9zM309.2 182.0h0.9v0.9h-0.9zM308.1 183.5h0.9v0.9h-0.9zM297.4 189.3h0.9v0.9h-0.9zM301.8 196.3h0.9v0.9h-0.9zM288.9 191.5h0.9v0.9h-0.9zM293.9 195.7h0.9v0.9h-0.9zM301.7 190.9h0.9v0.9h-0.9zM302.4 187.2h0.9v0.9h-0.9zM299.0 190.8h0.9v0.9h-0.9zM292.7 186.3h0.9v0.9h-0.9zM302.7 183.3h0.9v0.9h-0.9zM298.6 186.3h0.9v0.9h-0.9zM288.4 195.1h0.9v0.9h-0.9zM309.5 181.6h0.9v0.9h-0.9zM303.4 179.6h0.9v0.9h-0.9zM297.4 190.3h0.9v0.9h-0.9zM303.8 186.9h0.9v0.9h-0.9zM293.0 199.5h0.9v0.9h-0.9zM294.1 196.5h0.9v0.9h-0.9zM297.2 192.2h0.9v0.9h-0.9zM293.2 196.0h0.9v0.9h-0.9zM291.7 196.6h0.9v0.9h-0.9zM308.6 181.8h0.9v0.9h-0.9zM303.8 187.6h0.9v0.9h-0.9zM298.7 193.5h0.9v0.9h-0.9zM300.8 195.0h0.9v0.9h-0.9zM312.7 181.1h0.9v0.9h-0.9zM298.9 188.7h0.9v0.9h-0.9zM292.3 197.1h0.9v0.9h-0.9zM296.8 191.7h0.9v0.9h-0.9zM298.1 200.8h0.9v0.9h-0.9zM293.7 201.9h0.9v0.9h-0.9zM292.1 195.1h0.9v0.9h-0.9zM303.8 190.7h0.9v0.9h-0.9zM310.8 179.7h0.9v0.9h-0.9zM307.7 181.3h0.9v0.9h-0.9zM296.0 189.9h0.9v0.9h-0.9zM293.9 196.1h0.9v0.9h-0.9zM304.3 181.3h0.9v0.9h-0.9zM297.6 193.2h0.9v0.9h-0.9zM313.2 181.9h0.9v0.9h-0.9zM308.9 183.0h0.9v0.9h-0.9zM302.5 181.0h0.9v0.9h-0.9zM292.5 192.1h0.9v0.9h-0.9zM290.3 198.1h0.9v0.9h-0.9zM290.2 198.0h0.9v0.9h-0.9zM305.9 186.6h0.9v0.9h-0.9zM306.9 176.5h0.9v0.9h-0.9zM311.8 180.4h0.9v0.9h-0.9zM309.4 179.2h0.9v0.9h-0.9zM296.1 195.8h0.9v0.9h-0.9zM295.1 196.1h0.9v0.9h-0.9zM310.9 183.1h0.9v0.9h-0.9zM305.3 179.8h0.9v0.9h-0.9zM307.1 183.3h0.9v0.9h-0.9zM288.7 194.1h0.9v0.9h-0.9zM303.3 180.1h0.9v0.9h-0.9zM304.7 182.9h0.9v0.9h-0.9zM306.7 183.4h0.9v0.9h-0.9zM298.9 194.4h0.9v0.9h-0.9zM292.7 185.2h0.9v0.9h-0.9zM301.8 194.5h0.9v0.9h-0.9zM292.2 194.2h0.9v0.9h-0.9zM295.9 199.9h0.9v0.9h-0.9zM309.8 185.9h0.9v0.9h-0.9zM296.4 199.6h0.9v0.9h-0.9zM299.2 181.0h0.9v0.9h-0.9zM296.2 190.8h0.9v0.9h-0.9zM289.9 198.3h0.9v0.9h-0.9zM309.4 178.5h0.9v0.9h-0.9zM308.2 178.8h0.9v0.9h-0.9zM301.9 193.3h0.9v0.9h-0.9zM291.1 191.3h0.9v0.9h-0.9zM294.8 193.5h0.9v0.9h-0.9zM303.7 188.7h0.9v0.9h-0.9zM294.3 192.6h0.9v0.9h-0.9zM309.5 181.2h0.9v0.9h-0.9zM294.5 188.9h0.9v0.9h-0.9zM309.5 181.5h0.9v0.9h-0.9zM301.1 192.9h0.9v0.9h-0.9zM300.0 187.1h0.9v0.9h-0.9zM303.2 190.8h0.9v0.9h-0.9zM294.2 195.7h0.9v0.9h-0.9zM290.6 199.5h0.9v0.9h-0.9zM298.7 188.2h0.9v0.9h-0.9zM303.8 183.0h0.9v0.9h-0.9zM300.3 188.0h0.9v0.9h-0.9zM301.9 188.1h0.9v0.9h-0.9zM300.8 186.8h0.9v0.9h-0.9zM294.5 193.3h0.9v0.9h-0.9zM304.2 192.5h0.9v0.9h-0.9zM302.1 188.1h0.9v0.9h-0.9zM294.6 185.2h0.9v0.9h-0.9zM300.6 184.3h0.9v0.9h-0.9zM304.5 185.1h0.9v0.9h-0.9zM297.1 187.5h0.9v0.9h-0.9zM309.4 179.8h0.9v0.9h-0.9zM307.7 188.2h0.9v0.9h-0.9zM291.4 189.6h0.9v0.9h-0.9zM305.3 191.6h0.9v0.9h-0.9zM291.2 194.5h0.9v0.9h-0.9zM291.6 195.6h0.9v0.9h-0.9zM295.4 194.5h0.9v0.9h-0.9zM289.3 195.2h0.9v0.9h-0.9zM306.5 178.6h0.9v0.9h-0.9zM292.5 195.1h0.9v0.9h-0.9zM289.3 192.3h0.9v0.9h-0.9zM309.6 182.5h0.9v0.9h-0.9zM309.8 179.7h0.9v0.9h-0.9zM291.7 184.0h0.9v0.9h-0.9zM307.9 182.8h0.9v0.9h-0.9zM290.6 192.9h0.9v0.9h-0.9zM298.3 193.4h0.9v0.9h-0.9zM292.4 193.3h0.9v0.9h-0.9zM294.4 202.8h0.9v0.9h-0.9zM301.3 187.5h0.9v0.9h-0.9zM297.1 192.5h0.9v0.9h-0.9zM302.4 185.8h0.9v0.9h-0.9zM310.6 179.3h0.9v0.9h-0.9zM307.3 184.0h0.9v0.9h-0.9zM295.4 193.5h0.9v0.9h-0.9zM291.2 198.6h0.9v0.9h-0.9zM290.7 194.3h0.9v0.9h-0.9zM302.3 194.1h0.9v0.9h-0.9zM293.1 191.4h0.9v0.9h-0.9zM296.0 199.1h0.9v0.9h-0.9zM303.6 183.8h0.9v0.9h-0.9zM295.6 201.2h0.9v0.9h-0.9zM300.1 191.7h0.9v0.9h-0.9zM295.0 201.2h0.9v0.9h-0.9zM305.9 182.0h0.9v0.9h-0.9zM292.4 198.0h0.9v0.9h-0.9zM307.7 181.3h0.9v0.9h-0.9zM298.1 188.4h0.9v0.9h-0.9zM311.1 182.1h0.9v0.9h-0.9zM297.6 195.8h0.9v0.9h-0.9zM297.2 196.5h0.9v0.9h-0.9zM292.7 197.3h0.9v0.9h-0.9zM294.9 195.7h0.9v0.9h-0.9zM295.2 191.4h0.9v0.9h-0.9zM299.8 197.1h0.9v0.9h-0.9zM301.3 189.9h0.9v0.9h-0.9zM292.7 201.0h0.9v0.9h-0.9zM299.2 198.1h0.9v0.9h-0.9zM301.9 188.3h0.9v0.9h-0.9zM288.2 189.2h0.9v0.9h-0.9zM293.2 197.9h0.9v0.9h-0.9zM305.5 180.8h0.9v0.9h-0.9zM308.3 183.1h0.9v0.9h-0.9zM294.9 187.6h0.9v0.9h-0.9zM310.5 179.3h0.9v0.9h-0.9zM299.0 194.0h0.9v0.9h-0.9zM300.8 183.6h0.9v0.9h-0.9zM298.1 190.5h0.9v0.9h-0.9zM293.4 197.1h0.9v0.9h-0.9zM291.4 197.5h0.9v0.9h-0.9zM291.5 193.7h0.9v0.9h-0.9zM294.7 200.4h0.9v0.9h-0.9zM301.0 182.3h0.9v0.9h-0.9zM296.0 193.5h0.9v0.9h-0.9zM301.4 191.7h0.9v0.9h-0.9zM291.4 193.9h0.9v0.9h-0.9zM310.6 180.2h0.9v0.9h-0.9zM309.4 178.5h0.9v0.9h-0.9zM310.0 179.4h0.9v0.9h-0.9zM296.4 192.7h0.9v0.9h-0.9zM298.1 191.5h0.9v0.9h-0.9zM298.6 188.0h0.9v0.9h-0.9zM300.6 188.9h0.9v0.9h-0.9zM290.0 198.8h0.9v0.9h-0.9zM299.3 192.0h0.9v0.9h-0.9zM293.2 200.6h0.9v0.9h-0.9zM295.2 194.7h0.9v0.9h-0.9zM299.1 183.9h0.9v0.9h-0.9zM303.2 185.3h0.9v0.9h-0.9zM306.3 186.0h0.9v0.9h-0.9zM295.3 190.8h0.9v0.9h-0.9zM312.0 180.7h0.9v0.9h-0.9zM305.9 188.7h0.9v0.9h-0.9zM293.8 201.2h0.9v0.9h-0.9zM299.7 182.8h0.9v0.9h-0.9zM305.8 184.7h0.9v0.9h-0.9zM300.0 187.4h0.9v0.9h-0.9zM302.5 190.9h0.9v0.9h-0.9zM304.8 179.8h0.9v0.9h-0.9zM304.6 189.7h0.9v0.9h-0.9zM302.9 183.3h0.9v0.9h-0.9zM296.1 195.7h0.9v0.9h-0.9zM297.8 192.0h0.9v0.9h-0.9zM293.9 198.7h0.9v0.9h-0.9zM301.1 184.3h0.9v0.9h-0.9zM302.2 185.5h0.9v0.9h-0.9zM287.2 195.9h0.9v0.9h-0.9zM306.7 183.0h0.9v0.9h-0.9zM298.9 185.8h0.9v0.9h-0.9zM306.6 188.7h0.9v0.9h-0.9zM296.9 195.6h0.9v0.9h-0.9zM291.1 197.1h0.9v0.9h-0.9zM298.3 199.1h0.9v0.9h-0.9zM307.5 186.3h0.9v0.9h-0.9zM297.6 190.9h0.9v0.9h-0.9zM298.6 187.9h0.9v0.9h-0.9zM300.0 183.5h0.9v0.9h-0.9zM304.4 187.1h0.9v0.9h-0.9zM296.0 194.6h0.9v0.9h-0.9zM304.9 183.3h0.9v0.9h-0.9zM293.6 202.3h0.9v0.9h-0.9zM290.8 197.3h0.9v0.9h-0.9zM307.2 188.0h0.9v0.9h-0.9zM303.6 184.9h0.9v0.9h-0.9zM302.2 192.3h0.9v0.9h-0.9zM303.1 193.1h0.9v0.9h-0.9zM297.7 198.8h0.9v0.9h-0.9zM310.8 179.7h0.9v0.9h-0.9zM299.5 189.7h0.9v0.9h-0.9z" fill="#3a4eb0" opacity="0.4"/>
<path d="M315.8 178.6h0.9v0.9h-0.9zM310.7 178.5h0.9v0.9h-0.9zM311.1 180.3h0.9v0.9h-0.9zM312.8 177.3h0.9v0.9h-0.9zM307.6 175.2h0.9v0.9h-0.9zM309.6 178.8h0.9v0.9h-0.9zM312.7 173.1h0.9v0.9h-0.9zM313.8 177.0h0.9v0.9h-0.9zM311.5 180.7h0.9v0.9h-0.9zM308.5 178.7h0.9v0.9h-0.9zM307.9 178.1h0.9v0.9h-0.9zM311.2 178.9h0.9v0.9h-0.9zM309.5 178.6h0.9v0.9h-0.9zM315.6 177.9h0.9v0.9h-0.9zM309.0 180.0h0.9v0.9h-0.9zM307.9 176.2h0.9v0.9h-0.9zM315.0 175.4h0.9v0.9h-0.9zM308.9 175.2h0.9v0.9h-0.9zM308.8 173.5h0.9v0.9h-0.9zM315.4 181.6h0.9v0.9h-0.9zM310.8 177.3h0.9v0.9h-0.9zM309.7 180.4h0.9v0.9h-0.9zM310.1 180.3h0.9v0.9h-0.9zM314.8 175.0h0.9v0.9h-0.9zM310.6 178.8h0.9v0.9h-0.9zM311.5 181.3h0.9v0.9h-0.9zM313.6 182.0h0.9v0.9h-0.9zM314.1 175.8h0.9v0.9h-0.9zM315.4 181.0h0.9v0.9h-0.9zM311.6 175.7h0.9v0.9h-0.9zM315.6 179.8h0.9v0.9h-0.9zM312.6 179.1h0.9v0.9h-0.9zM313.8 176.1h0.9v0.9h-0.9zM308.7 178.7h0.9v0.9h-0.9zM316.3 177.7h0.9v0.9h-0.9zM312.2 180.0h0.9v0.9h-0.9zM310.9 178.5h0.9v0.9h-0.9zM308.1 174.2h0.9v0.9h-0.9zM313.2 176.7h0.9v0.9h-0.9zM313.0 180.5h0.9v0.9h-0.9z" fill="#3a4eb0" opacity="0.35"/>
<path d="M305.4 170.8h0.9v0.9h-0.9zM306.6 174.0h0.9v0.9h-0.9zM300.8 169.8h0.9v0.9h-0.9zM316.9 166.1h0.9v0.9h-0.9zM301.6 170.1h0.9v0.9h-0.9zM304.7 170.6h0.9v0.9h-0.9zM302.9 170.5h0.9v0.9h-0.9zM304.2 171.3h0.9v0.9h-0.9zM295.3 168.0h0.9v0.9h-0.9zM304.0 167.7h0.9v0.9h-0.9zM299.2 171.1h0.9v0.9h-0.9zM301.0 171.1h0.9v0.9h-0.9zM307.4 170.4h0.9v0.9h-0.9zM306.3 169.6h0.9v0.9h-0.9zM297.5 169.7h0.9v0.9h-0.9zM306.1 168.7h0.9v0.9h-0.9zM303.5 171.3h0.9v0.9h-0.9zM300.0 171.1h0.9v0.9h-0.9zM312.6 168.7h0.9v0.9h-0.9zM304.7 169.5h0.9v0.9h-0.9zM311.1 170.4h0.9v0.9h-0.9zM308.1 168.4h0.9v0.9h-0.9zM303.9 169.8h0.9v0.9h-0.9zM295.8 172.7h0.9v0.9h-0.9zM308.1 166.3h0.9v0.9h-0.9zM307.4 169.5h0.9v0.9h-0.9zM306.1 170.5h0.9v0.9h-0.9zM297.1 169.4h0.9v0.9h-0.9zM310.9 168.7h0.9v0.9h-0.9zM299.3 167.1h0.9v0.9h-0.9zM298.4 170.5h0.9v0.9h-0.9zM311.8 170.7h0.9v0.9h-0.9zM305.1 174.3h0.9v0.9h-0.9zM301.6 168.5h0.9v0.9h-0.9zM306.4 170.9h0.9v0.9h-0.9zM299.3 167.5h0.9v0.9h-0.9zM305.3 170.3h0.9v0.9h-0.9zM298.0 169.4h0.9v0.9h-0.9zM301.5 170.7h0.9v0.9h-0.9zM303.5 169.6h0.9v0.9h-0.9zM302.4 171.9h0.9v0.9h-0.9zM310.4 169.1h0.9v0.9h-0.9zM307.9 168.3h0.9v0.9h-0.9zM304.3 171.3h0.9v0.9h-0.9zM311.0 169.0h0.9v0.9h-0.9zM303.7 170.2h0.9v0.9h-0.9zM297.1 169.8h0.9v0.9h-0.9zM300.9 170.5h0.9v0.9h-0.9zM298.8 165.8h0.9v0.9h-0.9zM304.2 170.3h0.9v0.9h-0.9zM301.5 171.6h0.9v0.9h-0.9zM302.7 168.6h0.9v0.9h-0.9zM306.2 166.7h0.9v0.9h-0.9zM300.9 169.8h0.9v0.9h-0.9zM307.9 169.5h0.9v0.9h-0.9zM305.4 168.5h0.9v0.9h-0.9zM305.4 173.1h0.9v0.9h-0.9zM300.8 174.5h0.9v0.9h-0.9zM301.0 169.8h0.9v0.9h-0.9zM304.8 171.8h0.9v0.9h-0.9zM298.3 165.6h0.9v0.9h-0.9zM306.8 171.4h0.9v0.9h-0.9zM306.9 175.1h0.9v0.9h-0.9zM304.9 170.3h0.9v0.9h-0.9zM308.3 170.5h0.9v0.9h-0.9zM311.7 167.3h0.9v0.9h-0.9zM302.3 162.9h0.9v0.9h-0.9zM307.7 169.1h0.9v0.9h-0.9zM308.3 174.1h0.9v0.9h-0.9zM304.0 169.3h0.9v0.9h-0.9zM301.7 168.1h0.9v0.9h-0.9zM301.1 171.1h0.9v0.9h-0.9zM304.2 169.9h0.9v0.9h-0.9zM303.2 171.6h0.9v0.9h-0.9zM306.3 169.5h0.9v0.9h-0.9zM307.1 169.5h0.9v0.9h-0.9zM298.7 172.7h0.9v0.9h-0.9zM306.1 167.9h0.9v0.9h-0.9zM309.0 170.5h0.9v0.9h-0.9zM296.8 173.0h0.9v0.9h-0.9zM305.5 171.6h0.9v0.9h-0.9zM304.9 169.5h0.9v0.9h-0.9zM296.9 171.7h0.9v0.9h-0.9zM304.1 169.2h0.9v0.9h-0.9zM305.6 170.0h0.9v0.9h-0.9zM307.1 169.1h0.9v0.9h-0.9zM303.8 165.5h0.9v0.9h-0.9zM302.1 171.2h0.9v0.9h-0.9zM310.1 169.1h0.9v0.9h-0.9zM303.4 173.0h0.9v0.9h-0.9zM302.5 171.3h0.9v0.9h-0.9zM311.7 169.9h0.9v0.9h-0.9zM309.6 168.4h0.9v0.9h-0.9zM305.0 169.6h0.9v0.9h-0.9zM304.5 172.1h0.9v0.9h-0.9zM315.0 168.5h0.9v0.9h-0.9zM301.4 170.8h0.9v0.9h-0.9zM299.1 170.8h0.9v0.9h-0.9zM306.6 169.2h0.9v0.9h-0.9zM306.4 166.7h0.9v0.9h-0.9zM307.5 166.7h0.9v0.9h-0.9zM300.8 168.7h0.9v0.9h-0.9zM302.2 171.5h0.9v0.9h-0.9zM304.4 169.0h0.9v0.9h-0.9zM306.5 173.0h0.9v0.9h-0.9zM304.0 170.5h0.9v0.9h-0.9zM309.7 170.3h0.9v0.9h-0.9zM298.1 174.8h0.9v0.9h-0.9zM314.2 165.8h0.9v0.9h-0.9zM303.8 170.6h0.9v0.9h-0.9zM308.4 171.1h0.9v0.9h-0.9zM302.7 167.7h0.9v0.9h-0.9zM304.5 171.9h0.9v0.9h-0.9zM299.0 167.7h0.9v0.9h-0.9zM303.9 165.9h0.9v0.9h-0.9zM302.8 168.9h0.9v0.9h-0.9zM306.1 168.4h0.9v0.9h-0.9zM299.9 169.0h0.9v0.9h-0.9zM303.8 168.5h0.9v0.9h-0.9zM304.1 171.3h0.9v0.9h-0.9zM309.5 173.2h0.9v0.9h-0.9zM300.4 169.0h0.9v0.9h-0.9zM292.6 173.6h0.9v0.9h-0.9zM300.7 169.7h0.9v0.9h-0.9zM306.4 167.1h0.9v0.9h-0.9zM306.1 169.7h0.9v0.9h-0.9zM295.6 170.4h0.9v0.9h-0.9zM309.5 166.1h0.9v0.9h-0.9zM307.7 170.2h0.9v0.9h-0.9zM306.2 170.7h0.9v0.9h-0.9zM310.0 169.4h0.9v0.9h-0.9zM308.0 169.0h0.9v0.9h-0.9zM307.3 168.2h0.9v0.9h-0.9zM303.5 173.3h0.9v0.9h-0.9zM306.0 169.5h0.9v0.9h-0.9zM298.7 168.2h0.9v0.9h-0.9zM304.9 171.7h0.9v0.9h-0.9zM306.0 170.8h0.9v0.9h-0.9zM303.8 172.5h0.9v0.9h-0.9zM302.2 168.7h0.9v0.9h-0.9zM308.1 169.9h0.9v0.9h-0.9zM302.7 168.6h0.9v0.9h-0.9zM302.8 171.0h0.9v0.9h-0.9zM305.6 167.4h0.9v0.9h-0.9zM306.0 170.2h0.9v0.9h-0.9zM299.4 171.3h0.9v0.9h-0.9zM302.7 169.1h0.9v0.9h-0.9zM307.7 172.4h0.9v0.9h-0.9zM300.8 170.7h0.9v0.9h-0.9zM300.0 174.4h0.9v0.9h-0.9zM301.7 172.2h0.9v0.9h-0.9zM301.0 171.4h0.9v0.9h-0.9zM314.2 164.7h0.9v0.9h-0.9zM302.0 170.8h0.9v0.9h-0.9zM303.6 168.5h0.9v0.9h-0.9zM313.9 170.0h0.9v0.9h-0.9zM296.4 171.5h0.9v0.9h-0.9zM296.1 172.1h0.9v0.9h-0.9zM301.3 170.1h0.9v0.9h-0.9zM309.8 170.0h0.9v0.9h-0.9zM297.6 166.4h0.9v0.9h-0.9zM309.4 171.3h0.9v0.9h-0.9zM300.2 171.5h0.9v0.9h-0.9zM306.3 171.1h0.9v0.9h-0.9zM293.6 169.2h0.9v0.9h-0.9zM308.1 171.3h0.9v0.9h-0.9zM308.1 164.9h0.9v0.9h-0.9zM304.8 170.8h0.9v0.9h-0.9zM315.7 167.9h0.9v0.9h-0.9zM302.5 169.9h0.9v0.9h-0.9zM308.1 168.9h0.9v0.9h-0.9zM309.3 168.2h0.9v0.9h-0.9zM305.2 168.7h0.9v0.9h-0.9zM304.7 168.4h0.9v0.9h-0.9zM296.7 172.0h0.9v0.9h-0.9zM305.4 168.7h0.9v0.9h-0.9zM304.9 171.8h0.9v0.9h-0.9zM299.5 169.6h0.9v0.9h-0.9zM306.5 170.9h0.9v0.9h-0.9zM302.5 165.6h0.9v0.9h-0.9zM309.7 170.5h0.9v0.9h-0.9zM304.1 169.2h0.9v0.9h-0.9zM305.2 168.9h0.9v0.9h-0.9zM299.3 168.3h0.9v0.9h-0.9zM301.3 168.6h0.9v0.9h-0.9zM298.7 171.1h0.9v0.9h-0.9zM298.0 171.1h0.9v0.9h-0.9zM299.3 170.5h0.9v0.9h-0.9zM310.3 170.2h0.9v0.9h-0.9zM300.6 169.9h0.9v0.9h-0.9zM304.7 166.3h0.9v0.9h-0.9zM301.2 170.1h0.9v0.9h-0.9zM301.8 170.0h0.9v0.9h-0.9zM307.4 171.3h0.9v0.9h-0.9zM308.2 171.0h0.9v0.9h-0.9zM302.7 169.8h0.9v0.9h-0.9zM302.8 169.2h0.9v0.9h-0.9zM303.2 166.4h0.9v0.9h-0.9zM302.5 169.8h0.9v0.9h-0.9zM299.5 169.8h0.9v0.9h-0.9z" fill="#3a4eb0" opacity="0.55"/>
<ellipse cx="304.00" cy="169.80" rx="4.50" ry="1.80" fill="#3a52b4" opacity="0.5" transform="rotate(0 304.00 169.80)" filter="url(#bl1)"/>
<path d="M327.20,161.90 L325.80,172.60 L325.60,173.56 L325.26,174.47 L324.78,175.33 L324.18,176.11 L323.47,176.78 L322.67,177.34 L321.79,177.78 L320.86,178.08 L319.89,178.23 L318.91,178.24 L317.94,178.10 L317.01,177.81 L316.12,177.39 L315.31,176.84 L314.59,176.17 L313.98,175.41 L313.50,174.56 L313.14,173.65 L312.93,172.69 L312.86,171.71 L312.94,170.74 L313.17,169.78 L313.53,168.88 L314.03,168.03 L314.65,167.28 L315.38,166.62 L316.20,166.08 L317.09,165.67Z" fill="#4a60c0" stroke="#4a60c0" stroke-width="3.12" stroke-linejoin="round" opacity="0.55" filter="url(#bl1)"/>
<g filter="url(#bl05)"><path d="M326.50,162.80 L325.25,172.35 L325.07,173.21 L324.77,174.03 L324.34,174.79 L323.81,175.48 L323.18,176.09 L322.46,176.59 L321.68,176.98 L320.84,177.24 L319.98,177.38 L319.10,177.39 L318.24,177.26 L317.40,177.01 L316.61,176.63 L315.89,176.14 L315.25,175.54 L314.70,174.86 L314.27,174.10 L313.95,173.29 L313.76,172.43 L313.70,171.56 L313.77,170.69 L313.97,169.84 L314.30,169.03 L314.75,168.28 L315.30,167.60 L315.95,167.01 L316.68,166.53 L317.47,166.17Z" fill="#22389a" stroke="#22389a" stroke-width="2.60" stroke-linejoin="round"/><path d="M325.69,163.85 L324.61,172.06 L324.46,172.80 L324.20,173.51 L323.83,174.16 L323.37,174.76 L322.83,175.28 L322.21,175.71 L321.54,176.04 L320.82,176.27 L320.08,176.39 L319.33,176.39 L318.58,176.29 L317.86,176.07 L317.19,175.74 L316.56,175.32 L316.01,174.81 L315.54,174.22 L315.17,173.57 L314.90,172.87 L314.73,172.14 L314.68,171.38 L314.74,170.64 L314.92,169.90 L315.20,169.21 L315.58,168.56 L316.06,167.98 L316.61,167.47 L317.24,167.06 L317.93,166.74Z" fill="#3462c0" stroke="#3462c0" stroke-width="2.24" stroke-linejoin="round"/><path d="M324.53,165.35 L323.70,171.65 L323.59,172.22 L323.38,172.76 L323.10,173.26 L322.75,173.72 L322.33,174.12 L321.86,174.45 L321.34,174.71 L320.79,174.88 L320.22,174.97 L319.65,174.98 L319.08,174.89 L318.52,174.73 L318.00,174.48 L317.52,174.15 L317.10,173.76 L316.74,173.31 L316.45,172.81 L316.25,172.27 L316.12,171.71 L316.08,171.13 L316.13,170.56 L316.26,170.00 L316.48,169.46 L316.77,168.96 L317.14,168.52 L317.56,168.13 L318.05,167.81 L318.57,167.57Z" fill="#52acdc" stroke="#52acdc" stroke-width="1.72" stroke-linejoin="round"/><path d="M323.60,166.55 L322.98,171.33 L322.89,171.75 L322.73,172.16 L322.52,172.55 L322.25,172.89 L321.94,173.19 L321.58,173.44 L321.19,173.64 L320.77,173.77 L320.34,173.84 L319.90,173.84 L319.47,173.78 L319.05,173.65 L318.66,173.47 L318.29,173.22 L317.97,172.92 L317.70,172.58 L317.48,172.20 L317.33,171.79 L317.23,171.37 L317.20,170.93 L317.24,170.50 L317.34,170.07 L317.50,169.66 L317.72,169.29 L318.00,168.95 L318.32,168.66 L318.69,168.42 L319.09,168.23Z" fill="#86c852" stroke="#86c852" stroke-width="1.30" stroke-linejoin="round"/><path d="M322.79,167.60 L322.34,171.04 L322.27,171.35 L322.16,171.64 L322.01,171.92 L321.82,172.17 L321.59,172.38 L321.33,172.56 L321.05,172.70 L320.75,172.80 L320.44,172.85 L320.13,172.85 L319.81,172.81 L319.51,172.71 L319.23,172.58 L318.97,172.40 L318.74,172.19 L318.54,171.94 L318.38,171.67 L318.27,171.38 L318.20,171.07 L318.18,170.75 L318.21,170.44 L318.28,170.13 L318.40,169.84 L318.56,169.57 L318.76,169.33 L318.99,169.12 L319.25,168.94 L319.54,168.81Z" fill="#eedc36" stroke="#eedc36" stroke-width="0.94" stroke-linejoin="round"/><path d="M321.98,168.65 L321.70,170.75 L321.66,170.94 L321.59,171.12 L321.50,171.29 L321.38,171.44 L321.24,171.57 L321.09,171.68 L320.91,171.77 L320.73,171.83 L320.54,171.86 L320.35,171.86 L320.16,171.83 L319.97,171.78 L319.80,171.69 L319.64,171.58 L319.50,171.45 L319.38,171.30 L319.28,171.14 L319.22,170.96 L319.17,170.77 L319.16,170.58 L319.18,170.39 L319.22,170.20 L319.29,170.02 L319.39,169.85 L319.51,169.71 L319.65,169.58 L319.82,169.47 L319.99,169.39Z" fill="#e07a22" stroke="#e07a22" stroke-width="0.57" stroke-linejoin="round"/><path d="M321.34,169.48 L321.20,170.53 L321.18,170.62 L321.15,170.71 L321.10,170.79 L321.04,170.87 L320.97,170.94 L320.89,170.99 L320.81,171.03 L320.72,171.06 L320.62,171.08 L320.52,171.08 L320.43,171.07 L320.34,171.04 L320.25,171.00 L320.17,170.94 L320.10,170.88 L320.04,170.80 L319.99,170.72 L319.96,170.63 L319.94,170.53 L319.93,170.44 L319.94,170.34 L319.96,170.25 L320.00,170.16 L320.05,170.08 L320.11,170.00 L320.18,169.94 L320.26,169.89 L320.35,169.85Z" fill="#b81a12" stroke="#b81a12" stroke-width="0.29" stroke-linejoin="round"/></g>
</g>
<rect x="282.3" y="150.3" width="54.3" height="54.1" fill="none" stroke="#7a7a7a" stroke-width="0.8"/>
<path d="M289.1 204.4v-1.2M282.3 157.1h1.2M295.9 204.4v-1.2M282.3 163.8h1.2M302.7 204.4v-1.2M282.3 170.6h1.2M309.4 204.4v-1.2M282.3 177.4h1.2M316.2 204.4v-1.2M282.3 184.1h1.2M323.0 204.4v-1.2M282.3 190.9h1.2M329.8 204.4v-1.2M282.3 197.6h1.2" stroke="#7a7a7a" stroke-width="0.5"/>
<text x="284.90" y="158.50" font-size="7.3" font-weight="bold" fill="#000" textLength="10.5" lengthAdjust="spacingAndGlyphs" style="stroke-width:0.35px">2%</text>
<text x="335.20" y="158.50" font-size="7.3" font-weight="bold" fill="#000" text-anchor="end" textLength="14.8" lengthAdjust="spacingAndGlyphs" style="stroke-width:0.35px">85%</text>
<clipPath id="c2"><rect x="343.5" y="150.3" width="54.3" height="54.1"/></clipPath>
<g clip-path="url(#c2)">
<line x1="374.50" y1="150.30" x2="374.50" y2="204.40" stroke="#a8a8a8" stroke-width="0.6"/>
<line x1="343.50" y1="180.20" x2="397.80" y2="180.20" stroke="#a8a8a8" stroke-width="0.6"/>
<path d="M367.2 171.1h0.9v0.9h-0.9zM376.9 164.7h0.9v0.9h-0.9zM362.7 166.8h0.9v0.9h-0.9zM370.1 178.4h0.9v0.9h-0.9zM348.5 171.8h0.9v0.9h-0.9zM367.2 170.7h0.9v0.9h-0.9zM367.4 165.7h0.9v0.9h-0.9zM369.3 172.5h0.9v0.9h-0.9zM364.1 170.0h0.9v0.9h-0.9zM368.0 170.2h0.9v0.9h-0.9zM365.4 170.2h0.9v0.9h-0.9zM350.1 171.4h0.9v0.9h-0.9zM365.3 173.5h0.9v0.9h-0.9zM358.6 171.4h0.9v0.9h-0.9zM367.8 171.9h0.9v0.9h-0.9zM371.7 176.7h0.9v0.9h-0.9zM358.4 166.5h0.9v0.9h-0.9zM369.3 175.5h0.9v0.9h-0.9zM369.7 173.6h0.9v0.9h-0.9zM360.2 169.6h0.9v0.9h-0.9zM369.5 169.1h0.9v0.9h-0.9zM352.8 168.9h0.9v0.9h-0.9zM379.5 176.5h0.9v0.9h-0.9zM359.7 169.6h0.9v0.9h-0.9zM365.4 169.6h0.9v0.9h-0.9zM372.1 171.3h0.9v0.9h-0.9zM357.3 174.9h0.9v0.9h-0.9zM360.4 172.1h0.9v0.9h-0.9zM363.9 170.7h0.9v0.9h-0.9zM366.0 169.7h0.9v0.9h-0.9zM352.6 165.8h0.9v0.9h-0.9zM356.1 169.5h0.9v0.9h-0.9zM363.9 171.6h0.9v0.9h-0.9zM367.4 171.8h0.9v0.9h-0.9zM359.1 169.7h0.9v0.9h-0.9zM350.9 171.1h0.9v0.9h-0.9zM367.0 172.9h0.9v0.9h-0.9zM363.2 171.0h0.9v0.9h-0.9zM369.8 171.5h0.9v0.9h-0.9zM368.6 173.0h0.9v0.9h-0.9zM365.3 174.9h0.9v0.9h-0.9zM360.4 170.6h0.9v0.9h-0.9zM359.0 169.4h0.9v0.9h-0.9zM373.6 176.1h0.9v0.9h-0.9zM364.1 173.0h0.9v0.9h-0.9zM371.3 173.6h0.9v0.9h-0.9zM371.5 168.2h0.9v0.9h-0.9zM360.0 172.7h0.9v0.9h-0.9zM372.9 171.8h0.9v0.9h-0.9zM358.7 170.6h0.9v0.9h-0.9zM359.9 169.3h0.9v0.9h-0.9zM373.3 169.9h0.9v0.9h-0.9zM364.1 177.1h0.9v0.9h-0.9zM371.3 172.4h0.9v0.9h-0.9zM360.2 172.6h0.9v0.9h-0.9zM374.1 173.1h0.9v0.9h-0.9zM371.8 171.8h0.9v0.9h-0.9zM367.2 171.0h0.9v0.9h-0.9zM366.6 174.9h0.9v0.9h-0.9zM355.1 171.3h0.9v0.9h-0.9zM365.5 170.0h0.9v0.9h-0.9zM362.1 173.5h0.9v0.9h-0.9zM376.4 173.1h0.9v0.9h-0.9zM366.0 167.5h0.9v0.9h-0.9zM376.0 171.7h0.9v0.9h-0.9zM363.8 168.6h0.9v0.9h-0.9zM363.6 168.7h0.9v0.9h-0.9zM364.4 172.7h0.9v0.9h-0.9zM364.2 172.2h0.9v0.9h-0.9zM358.7 175.2h0.9v0.9h-0.9zM360.0 166.8h0.9v0.9h-0.9zM362.8 169.5h0.9v0.9h-0.9zM357.7 170.6h0.9v0.9h-0.9zM365.8 168.4h0.9v0.9h-0.9zM363.1 175.2h0.9v0.9h-0.9zM368.2 171.1h0.9v0.9h-0.9zM364.8 171.2h0.9v0.9h-0.9zM363.7 173.4h0.9v0.9h-0.9zM363.4 165.2h0.9v0.9h-0.9zM363.9 169.2h0.9v0.9h-0.9zM368.0 169.9h0.9v0.9h-0.9zM364.9 177.2h0.9v0.9h-0.9zM357.5 168.6h0.9v0.9h-0.9zM355.2 165.3h0.9v0.9h-0.9zM352.4 172.4h0.9v0.9h-0.9zM360.0 166.6h0.9v0.9h-0.9zM354.8 173.1h0.9v0.9h-0.9zM359.2 170.5h0.9v0.9h-0.9zM366.0 175.0h0.9v0.9h-0.9zM376.0 174.2h0.9v0.9h-0.9zM364.9 172.0h0.9v0.9h-0.9zM375.2 175.2h0.9v0.9h-0.9zM362.1 172.7h0.9v0.9h-0.9zM365.8 171.6h0.9v0.9h-0.9zM360.9 168.1h0.9v0.9h-0.9zM360.7 167.5h0.9v0.9h-0.9zM371.6 172.9h0.9v0.9h-0.9zM356.5 175.1h0.9v0.9h-0.9zM369.5 166.5h0.9v0.9h-0.9zM375.4 173.6h0.9v0.9h-0.9zM376.8 168.3h0.9v0.9h-0.9zM367.3 172.6h0.9v0.9h-0.9zM365.3 171.9h0.9v0.9h-0.9zM370.5 167.6h0.9v0.9h-0.9zM356.3 167.9h0.9v0.9h-0.9zM360.5 169.9h0.9v0.9h-0.9zM366.3 172.2h0.9v0.9h-0.9zM364.2 169.7h0.9v0.9h-0.9zM361.3 174.0h0.9v0.9h-0.9zM368.7 171.8h0.9v0.9h-0.9zM362.0 175.5h0.9v0.9h-0.9zM360.3 173.2h0.9v0.9h-0.9zM371.2 170.8h0.9v0.9h-0.9zM369.1 168.6h0.9v0.9h-0.9zM370.3 172.0h0.9v0.9h-0.9zM354.2 173.2h0.9v0.9h-0.9zM358.5 174.8h0.9v0.9h-0.9zM359.8 171.1h0.9v0.9h-0.9zM365.8 170.6h0.9v0.9h-0.9zM365.6 170.1h0.9v0.9h-0.9zM368.2 171.5h0.9v0.9h-0.9zM365.3 164.3h0.9v0.9h-0.9zM371.2 171.6h0.9v0.9h-0.9zM352.9 171.7h0.9v0.9h-0.9zM366.9 174.3h0.9v0.9h-0.9zM357.3 175.5h0.9v0.9h-0.9zM363.0 177.7h0.9v0.9h-0.9zM363.1 173.3h0.9v0.9h-0.9zM361.7 168.6h0.9v0.9h-0.9zM370.8 173.9h0.9v0.9h-0.9zM373.5 173.7h0.9v0.9h-0.9zM360.4 167.2h0.9v0.9h-0.9zM360.0 169.7h0.9v0.9h-0.9zM358.9 173.0h0.9v0.9h-0.9zM366.0 170.8h0.9v0.9h-0.9zM365.1 171.1h0.9v0.9h-0.9zM365.3 173.5h0.9v0.9h-0.9zM369.9 169.7h0.9v0.9h-0.9zM354.7 175.2h0.9v0.9h-0.9zM364.7 174.4h0.9v0.9h-0.9zM353.8 170.6h0.9v0.9h-0.9zM364.2 167.8h0.9v0.9h-0.9zM360.8 173.4h0.9v0.9h-0.9zM370.7 175.6h0.9v0.9h-0.9zM358.6 167.9h0.9v0.9h-0.9zM367.2 173.9h0.9v0.9h-0.9zM365.2 168.1h0.9v0.9h-0.9zM368.8 173.6h0.9v0.9h-0.9zM367.4 170.2h0.9v0.9h-0.9zM365.9 173.6h0.9v0.9h-0.9zM360.5 166.7h0.9v0.9h-0.9zM366.0 172.8h0.9v0.9h-0.9zM364.1 173.8h0.9v0.9h-0.9zM360.4 171.3h0.9v0.9h-0.9zM362.1 173.0h0.9v0.9h-0.9zM373.9 170.8h0.9v0.9h-0.9zM376.7 175.5h0.9v0.9h-0.9zM368.9 173.0h0.9v0.9h-0.9zM375.0 171.0h0.9v0.9h-0.9zM363.3 168.7h0.9v0.9h-0.9zM366.9 175.0h0.9v0.9h-0.9zM367.3 172.6h0.9v0.9h-0.9zM362.8 171.9h0.9v0.9h-0.9zM355.2 174.2h0.9v0.9h-0.9zM361.5 168.6h0.9v0.9h-0.9zM359.3 169.4h0.9v0.9h-0.9zM369.3 174.3h0.9v0.9h-0.9zM355.6 173.9h0.9v0.9h-0.9zM369.5 170.0h0.9v0.9h-0.9zM354.8 169.6h0.9v0.9h-0.9zM360.1 172.4h0.9v0.9h-0.9zM361.8 166.2h0.9v0.9h-0.9zM365.4 167.5h0.9v0.9h-0.9zM369.6 168.4h0.9v0.9h-0.9zM359.7 169.3h0.9v0.9h-0.9zM360.6 174.9h0.9v0.9h-0.9zM369.3 173.1h0.9v0.9h-0.9zM366.0 167.5h0.9v0.9h-0.9zM360.8 170.1h0.9v0.9h-0.9zM357.9 172.8h0.9v0.9h-0.9zM359.4 169.7h0.9v0.9h-0.9zM357.5 166.2h0.9v0.9h-0.9zM367.7 175.0h0.9v0.9h-0.9zM365.1 169.0h0.9v0.9h-0.9zM347.2 171.9h0.9v0.9h-0.9zM371.5 172.3h0.9v0.9h-0.9zM369.7 175.3h0.9v0.9h-0.9zM371.0 170.4h0.9v0.9h-0.9zM370.5 173.5h0.9v0.9h-0.9zM354.5 170.4h0.9v0.9h-0.9zM355.2 171.2h0.9v0.9h-0.9zM367.6 168.7h0.9v0.9h-0.9zM351.3 174.9h0.9v0.9h-0.9zM366.3 175.3h0.9v0.9h-0.9zM355.8 174.3h0.9v0.9h-0.9zM376.9 176.7h0.9v0.9h-0.9zM362.7 172.2h0.9v0.9h-0.9zM363.0 174.1h0.9v0.9h-0.9zM370.4 171.7h0.9v0.9h-0.9zM355.6 173.4h0.9v0.9h-0.9zM361.1 173.1h0.9v0.9h-0.9zM365.6 175.7h0.9v0.9h-0.9zM371.1 170.3h0.9v0.9h-0.9zM366.2 176.1h0.9v0.9h-0.9zM360.7 172.6h0.9v0.9h-0.9zM371.4 174.8h0.9v0.9h-0.9zM367.2 168.1h0.9v0.9h-0.9zM356.2 172.1h0.9v0.9h-0.9zM366.4 178.1h0.9v0.9h-0.9zM358.7 174.5h0.9v0.9h-0.9zM368.8 167.2h0.9v0.9h-0.9zM358.9 171.9h0.9v0.9h-0.9zM360.9 171.1h0.9v0.9h-0.9zM366.9 169.4h0.9v0.9h-0.9zM366.9 169.8h0.9v0.9h-0.9zM360.6 172.9h0.9v0.9h-0.9zM360.4 172.2h0.9v0.9h-0.9zM373.9 171.6h0.9v0.9h-0.9zM363.1 173.4h0.9v0.9h-0.9zM361.7 174.3h0.9v0.9h-0.9zM356.0 173.1h0.9v0.9h-0.9zM360.8 169.4h0.9v0.9h-0.9zM375.0 169.3h0.9v0.9h-0.9zM374.9 173.2h0.9v0.9h-0.9zM373.0 169.0h0.9v0.9h-0.9zM371.4 175.3h0.9v0.9h-0.9zM363.3 171.2h0.9v0.9h-0.9zM379.2 172.0h0.9v0.9h-0.9zM361.4 169.9h0.9v0.9h-0.9zM366.8 172.4h0.9v0.9h-0.9zM365.1 176.0h0.9v0.9h-0.9zM362.0 172.7h0.9v0.9h-0.9zM373.0 168.9h0.9v0.9h-0.9zM370.4 176.3h0.9v0.9h-0.9zM355.6 168.6h0.9v0.9h-0.9zM357.6 166.7h0.9v0.9h-0.9zM366.8 166.7h0.9v0.9h-0.9zM367.1 175.3h0.9v0.9h-0.9zM354.0 170.7h0.9v0.9h-0.9zM352.1 173.5h0.9v0.9h-0.9zM359.4 170.8h0.9v0.9h-0.9zM364.3 172.9h0.9v0.9h-0.9zM361.9 171.5h0.9v0.9h-0.9zM360.6 171.8h0.9v0.9h-0.9zM356.7 171.7h0.9v0.9h-0.9zM352.0 170.2h0.9v0.9h-0.9zM375.9 171.7h0.9v0.9h-0.9zM356.2 172.2h0.9v0.9h-0.9zM358.0 167.2h0.9v0.9h-0.9zM359.4 173.4h0.9v0.9h-0.9zM366.4 171.2h0.9v0.9h-0.9zM358.3 168.7h0.9v0.9h-0.9zM372.4 172.1h0.9v0.9h-0.9zM358.1 166.0h0.9v0.9h-0.9zM355.5 177.9h0.9v0.9h-0.9zM356.9 171.3h0.9v0.9h-0.9zM365.3 171.1h0.9v0.9h-0.9zM362.3 167.9h0.9v0.9h-0.9zM357.5 175.9h0.9v0.9h-0.9zM359.3 173.7h0.9v0.9h-0.9zM353.5 170.8h0.9v0.9h-0.9zM365.6 174.2h0.9v0.9h-0.9zM357.0 173.0h0.9v0.9h-0.9zM366.4 169.6h0.9v0.9h-0.9zM367.0 169.2h0.9v0.9h-0.9zM359.1 171.5h0.9v0.9h-0.9zM347.2 171.2h0.9v0.9h-0.9zM357.8 167.7h0.9v0.9h-0.9zM361.4 173.5h0.9v0.9h-0.9zM361.5 174.8h0.9v0.9h-0.9zM356.8 168.1h0.9v0.9h-0.9zM373.6 172.5h0.9v0.9h-0.9zM369.9 169.4h0.9v0.9h-0.9zM369.0 172.2h0.9v0.9h-0.9zM368.0 171.6h0.9v0.9h-0.9zM371.5 169.8h0.9v0.9h-0.9zM358.0 167.7h0.9v0.9h-0.9zM371.2 169.6h0.9v0.9h-0.9zM357.5 169.1h0.9v0.9h-0.9zM361.2 168.2h0.9v0.9h-0.9zM362.2 169.9h0.9v0.9h-0.9zM360.6 169.0h0.9v0.9h-0.9zM364.2 170.3h0.9v0.9h-0.9zM364.7 172.1h0.9v0.9h-0.9zM366.1 165.8h0.9v0.9h-0.9zM360.7 169.4h0.9v0.9h-0.9zM368.8 167.4h0.9v0.9h-0.9zM359.6 170.7h0.9v0.9h-0.9zM361.9 174.1h0.9v0.9h-0.9zM361.3 174.0h0.9v0.9h-0.9zM354.9 166.8h0.9v0.9h-0.9zM371.6 172.6h0.9v0.9h-0.9zM367.0 171.8h0.9v0.9h-0.9zM367.0 168.3h0.9v0.9h-0.9zM369.9 170.1h0.9v0.9h-0.9zM370.1 171.7h0.9v0.9h-0.9zM351.8 168.2h0.9v0.9h-0.9zM371.0 171.1h0.9v0.9h-0.9zM361.5 172.1h0.9v0.9h-0.9zM361.4 170.1h0.9v0.9h-0.9zM364.6 171.9h0.9v0.9h-0.9zM373.4 171.6h0.9v0.9h-0.9zM375.7 176.2h0.9v0.9h-0.9zM374.6 174.3h0.9v0.9h-0.9zM364.8 171.9h0.9v0.9h-0.9zM363.1 169.6h0.9v0.9h-0.9zM363.6 169.8h0.9v0.9h-0.9zM374.2 172.9h0.9v0.9h-0.9zM361.2 166.5h0.9v0.9h-0.9zM363.7 170.4h0.9v0.9h-0.9zM357.3 168.5h0.9v0.9h-0.9zM350.0 173.0h0.9v0.9h-0.9zM363.6 178.2h0.9v0.9h-0.9zM363.8 171.1h0.9v0.9h-0.9zM373.0 171.8h0.9v0.9h-0.9zM365.0 170.5h0.9v0.9h-0.9zM360.2 175.4h0.9v0.9h-0.9zM370.2 176.0h0.9v0.9h-0.9zM361.8 171.6h0.9v0.9h-0.9zM358.5 174.0h0.9v0.9h-0.9zM355.4 173.0h0.9v0.9h-0.9zM370.8 175.2h0.9v0.9h-0.9zM358.2 174.3h0.9v0.9h-0.9zM359.6 169.5h0.9v0.9h-0.9zM355.8 174.5h0.9v0.9h-0.9zM374.2 170.0h0.9v0.9h-0.9zM359.3 170.6h0.9v0.9h-0.9zM379.5 174.1h0.9v0.9h-0.9zM360.6 166.8h0.9v0.9h-0.9zM359.8 174.6h0.9v0.9h-0.9zM375.6 170.8h0.9v0.9h-0.9zM359.7 170.2h0.9v0.9h-0.9zM352.3 173.9h0.9v0.9h-0.9zM357.3 174.3h0.9v0.9h-0.9zM353.4 168.2h0.9v0.9h-0.9zM365.8 169.5h0.9v0.9h-0.9zM368.8 171.5h0.9v0.9h-0.9zM356.7 173.1h0.9v0.9h-0.9zM369.2 166.5h0.9v0.9h-0.9zM375.3 172.8h0.9v0.9h-0.9zM368.7 166.7h0.9v0.9h-0.9zM359.5 170.6h0.9v0.9h-0.9zM370.7 167.7h0.9v0.9h-0.9zM358.5 166.2h0.9v0.9h-0.9zM362.5 172.4h0.9v0.9h-0.9zM353.5 170.0h0.9v0.9h-0.9zM367.2 175.6h0.9v0.9h-0.9zM368.1 170.7h0.9v0.9h-0.9zM356.7 169.1h0.9v0.9h-0.9zM359.9 171.9h0.9v0.9h-0.9zM363.7 175.8h0.9v0.9h-0.9zM365.8 168.7h0.9v0.9h-0.9zM373.6 174.0h0.9v0.9h-0.9zM364.6 169.6h0.9v0.9h-0.9zM352.4 168.8h0.9v0.9h-0.9zM369.7 169.4h0.9v0.9h-0.9zM355.8 172.0h0.9v0.9h-0.9zM365.5 173.1h0.9v0.9h-0.9zM368.1 175.2h0.9v0.9h-0.9zM358.8 174.0h0.9v0.9h-0.9zM357.9 173.3h0.9v0.9h-0.9zM365.1 172.1h0.9v0.9h-0.9zM370.0 171.5h0.9v0.9h-0.9zM370.9 173.8h0.9v0.9h-0.9zM364.8 170.0h0.9v0.9h-0.9zM359.3 170.1h0.9v0.9h-0.9zM362.7 171.4h0.9v0.9h-0.9zM382.5 173.2h0.9v0.9h-0.9zM368.8 169.3h0.9v0.9h-0.9zM359.6 170.7h0.9v0.9h-0.9zM365.2 168.8h0.9v0.9h-0.9zM374.0 170.0h0.9v0.9h-0.9zM370.7 165.4h0.9v0.9h-0.9zM364.0 172.2h0.9v0.9h-0.9zM365.2 173.1h0.9v0.9h-0.9zM365.7 171.9h0.9v0.9h-0.9zM352.3 169.6h0.9v0.9h-0.9zM349.5 173.1h0.9v0.9h-0.9zM365.9 171.0h0.9v0.9h-0.9zM358.9 170.0h0.9v0.9h-0.9z" fill="#3a4eb0" opacity="0.5"/>
<ellipse cx="364.00" cy="171.50" rx="6.50" ry="2.60" fill="#3a52b4" opacity="0.6" transform="rotate(0 364.00 171.50)" filter="url(#bl1)"/>
<path d="M371.2 192.9h0.9v0.9h-0.9zM361.7 191.2h0.9v0.9h-0.9zM354.1 178.3h0.9v0.9h-0.9zM359.6 182.5h0.9v0.9h-0.9zM359.2 186.8h0.9v0.9h-0.9zM377.1 183.4h0.9v0.9h-0.9zM362.2 187.1h0.9v0.9h-0.9zM361.8 189.7h0.9v0.9h-0.9zM370.9 181.0h0.9v0.9h-0.9zM362.8 184.9h0.9v0.9h-0.9zM363.8 179.9h0.9v0.9h-0.9zM353.2 176.7h0.9v0.9h-0.9zM364.6 186.8h0.9v0.9h-0.9zM362.4 176.5h0.9v0.9h-0.9zM360.1 183.0h0.9v0.9h-0.9zM354.9 182.3h0.9v0.9h-0.9zM365.5 188.2h0.9v0.9h-0.9zM361.9 188.1h0.9v0.9h-0.9zM359.0 186.3h0.9v0.9h-0.9zM362.2 188.2h0.9v0.9h-0.9zM361.7 185.4h0.9v0.9h-0.9zM361.3 183.4h0.9v0.9h-0.9zM373.2 188.1h0.9v0.9h-0.9zM364.1 195.2h0.9v0.9h-0.9zM369.0 179.8h0.9v0.9h-0.9z" fill="#3a4eb0" opacity="0.3"/>
<path d="M388.44,163.36 L387.75,172.78 L387.60,173.73 L387.31,174.65 L386.89,175.52 L386.33,176.31 L385.66,177.00 L384.89,177.59 L384.05,178.05 L383.14,178.37 L382.19,178.55 L381.22,178.59 L380.26,178.47 L379.33,178.21 L378.46,177.81 L377.65,177.28 L376.93,176.63 L376.33,175.88 L375.84,175.04 L375.49,174.14 L375.28,173.20 L375.22,172.24 L375.31,171.28 L375.54,170.34 L375.92,169.45 L376.42,168.63 L377.05,167.89 L377.78,167.26 L378.60,166.75 L379.49,166.38Z" fill="#4a60c0" stroke="#4a60c0" stroke-width="3.12" stroke-linejoin="round" opacity="0.55" filter="url(#bl1)"/>
<g filter="url(#bl05)"><path d="M387.80,164.20 L387.19,172.61 L387.06,173.46 L386.80,174.28 L386.42,175.06 L385.92,175.76 L385.32,176.38 L384.64,176.90 L383.88,177.32 L383.07,177.60 L382.22,177.77 L381.36,177.79 L380.50,177.69 L379.67,177.46 L378.89,177.10 L378.17,176.63 L377.53,176.05 L376.99,175.38 L376.56,174.63 L376.24,173.83 L376.06,172.99 L376.00,172.13 L376.08,171.27 L376.29,170.43 L376.62,169.64 L377.07,168.90 L377.63,168.25 L378.29,167.69 L379.02,167.23 L379.81,166.89Z" fill="#22389a" stroke="#22389a" stroke-width="2.60" stroke-linejoin="round"/><path d="M387.06,165.18 L386.53,172.41 L386.42,173.14 L386.20,173.85 L385.87,174.52 L385.44,175.12 L384.93,175.66 L384.34,176.11 L383.69,176.46 L382.99,176.71 L382.26,176.85 L381.52,176.87 L380.78,176.78 L380.07,176.58 L379.40,176.27 L378.78,175.87 L378.23,175.37 L377.76,174.79 L377.39,174.15 L377.12,173.46 L376.96,172.74 L376.91,172.00 L376.98,171.26 L377.16,170.54 L377.44,169.86 L377.83,169.23 L378.31,168.66 L378.88,168.18 L379.51,167.79 L380.19,167.50Z" fill="#3462c0" stroke="#3462c0" stroke-width="2.24" stroke-linejoin="round"/><path d="M386.00,166.58 L385.59,172.13 L385.51,172.69 L385.34,173.23 L385.09,173.75 L384.76,174.21 L384.36,174.62 L383.91,174.97 L383.41,175.24 L382.87,175.43 L382.32,175.53 L381.75,175.55 L381.18,175.48 L380.63,175.33 L380.12,175.09 L379.64,174.78 L379.22,174.40 L378.86,173.96 L378.58,173.47 L378.37,172.94 L378.25,172.38 L378.21,171.81 L378.26,171.25 L378.40,170.69 L378.62,170.17 L378.92,169.68 L379.29,169.25 L379.72,168.88 L380.20,168.58 L380.73,168.36Z" fill="#52acdc" stroke="#52acdc" stroke-width="1.72" stroke-linejoin="round"/><path d="M385.15,167.70 L384.84,171.90 L384.78,172.33 L384.65,172.74 L384.46,173.13 L384.21,173.48 L383.91,173.79 L383.57,174.05 L383.19,174.26 L382.78,174.40 L382.36,174.48 L381.93,174.50 L381.50,174.45 L381.09,174.33 L380.69,174.15 L380.33,173.91 L380.02,173.62 L379.74,173.29 L379.53,172.92 L379.37,172.51 L379.28,172.09 L379.25,171.66 L379.29,171.23 L379.39,170.82 L379.56,170.42 L379.79,170.05 L380.07,169.72 L380.39,169.44 L380.76,169.22 L381.16,169.05Z" fill="#86c852" stroke="#86c852" stroke-width="1.30" stroke-linejoin="round"/><path d="M384.41,168.68 L384.19,171.71 L384.14,172.01 L384.05,172.31 L383.91,172.59 L383.73,172.84 L383.52,173.07 L383.27,173.25 L383.00,173.40 L382.70,173.51 L382.40,173.56 L382.09,173.57 L381.78,173.54 L381.48,173.45 L381.20,173.32 L380.94,173.15 L380.71,172.95 L380.52,172.70 L380.36,172.44 L380.25,172.15 L380.18,171.84 L380.16,171.53 L380.19,171.22 L380.26,170.92 L380.38,170.64 L380.55,170.37 L380.75,170.14 L380.98,169.93 L381.25,169.77 L381.53,169.65Z" fill="#eedc36" stroke="#eedc36" stroke-width="0.94" stroke-linejoin="round"/><path d="M383.67,169.66 L383.53,171.51 L383.50,171.70 L383.45,171.88 L383.36,172.05 L383.25,172.20 L383.12,172.34 L382.97,172.46 L382.80,172.55 L382.62,172.61 L382.44,172.64 L382.25,172.65 L382.06,172.63 L381.88,172.58 L381.71,172.50 L381.55,172.39 L381.41,172.27 L381.29,172.12 L381.19,171.96 L381.12,171.78 L381.08,171.59 L381.07,171.40 L381.09,171.22 L381.13,171.03 L381.21,170.86 L381.31,170.69 L381.43,170.55 L381.57,170.43 L381.73,170.33 L381.91,170.25Z" fill="#e07a22" stroke="#e07a22" stroke-width="0.57" stroke-linejoin="round"/><path d="M383.08,170.43 L383.02,171.35 L383.00,171.45 L382.97,171.54 L382.93,171.62 L382.88,171.70 L382.81,171.77 L382.74,171.83 L382.65,171.87 L382.56,171.90 L382.47,171.92 L382.37,171.93 L382.28,171.91 L382.19,171.89 L382.10,171.85 L382.02,171.80 L381.95,171.73 L381.89,171.66 L381.85,171.58 L381.81,171.49 L381.79,171.40 L381.79,171.30 L381.79,171.21 L381.82,171.12 L381.85,171.03 L381.90,170.95 L381.96,170.88 L382.04,170.81 L382.12,170.76 L382.20,170.73Z" fill="#b81a12" stroke="#b81a12" stroke-width="0.29" stroke-linejoin="round"/></g>
</g>
<rect x="343.5" y="150.3" width="54.3" height="54.1" fill="none" stroke="#7a7a7a" stroke-width="0.8"/>
<path d="M350.3 204.4v-1.2M343.5 157.1h1.2M357.1 204.4v-1.2M343.5 163.8h1.2M363.9 204.4v-1.2M343.5 170.6h1.2M370.6 204.4v-1.2M343.5 177.4h1.2M377.4 204.4v-1.2M343.5 184.1h1.2M384.2 204.4v-1.2M343.5 190.9h1.2M391.0 204.4v-1.2M343.5 197.6h1.2" stroke="#7a7a7a" stroke-width="0.5"/>
<text x="346.10" y="158.50" font-size="7.3" font-weight="bold" fill="#000" textLength="13.8" lengthAdjust="spacingAndGlyphs" style="stroke-width:0.35px">11%</text>
<text x="396.40" y="158.50" font-size="7.3" font-weight="bold" fill="#000" text-anchor="end" textLength="14.8" lengthAdjust="spacingAndGlyphs" style="stroke-width:0.35px">89%</text>
<clipPath id="c3"><rect x="404.2" y="150.3" width="54.3" height="54.1"/></clipPath>
<g clip-path="url(#c3)">
<line x1="434.30" y1="150.30" x2="434.30" y2="204.40" stroke="#a8a8a8" stroke-width="0.6"/>
<line x1="404.20" y1="180.20" x2="458.50" y2="180.20" stroke="#a8a8a8" stroke-width="0.6"/>
<path d="M428.8 171.7h0.9v0.9h-0.9zM434.0 172.8h0.9v0.9h-0.9zM429.1 167.3h0.9v0.9h-0.9zM421.9 170.5h0.9v0.9h-0.9zM427.9 167.7h0.9v0.9h-0.9zM424.0 169.0h0.9v0.9h-0.9zM426.0 170.6h0.9v0.9h-0.9zM424.4 167.2h0.9v0.9h-0.9zM431.2 173.4h0.9v0.9h-0.9zM425.2 172.2h0.9v0.9h-0.9zM427.7 171.4h0.9v0.9h-0.9zM427.8 168.2h0.9v0.9h-0.9zM428.2 172.1h0.9v0.9h-0.9zM421.8 174.2h0.9v0.9h-0.9zM434.9 173.9h0.9v0.9h-0.9zM434.5 171.5h0.9v0.9h-0.9zM424.2 168.6h0.9v0.9h-0.9zM422.1 170.2h0.9v0.9h-0.9zM425.6 171.4h0.9v0.9h-0.9zM416.8 175.0h0.9v0.9h-0.9zM435.7 169.8h0.9v0.9h-0.9zM428.7 170.9h0.9v0.9h-0.9zM426.9 169.4h0.9v0.9h-0.9zM425.2 168.1h0.9v0.9h-0.9zM426.5 169.8h0.9v0.9h-0.9zM427.1 168.0h0.9v0.9h-0.9zM425.9 170.0h0.9v0.9h-0.9zM428.4 167.6h0.9v0.9h-0.9zM427.5 172.1h0.9v0.9h-0.9zM428.3 169.1h0.9v0.9h-0.9zM423.5 169.4h0.9v0.9h-0.9zM428.9 173.3h0.9v0.9h-0.9zM425.0 168.5h0.9v0.9h-0.9zM427.4 170.3h0.9v0.9h-0.9zM421.7 168.3h0.9v0.9h-0.9zM425.3 171.4h0.9v0.9h-0.9zM420.5 167.7h0.9v0.9h-0.9zM427.9 167.2h0.9v0.9h-0.9zM426.2 170.7h0.9v0.9h-0.9zM425.2 167.7h0.9v0.9h-0.9zM425.4 169.2h0.9v0.9h-0.9zM427.2 168.1h0.9v0.9h-0.9zM430.5 166.2h0.9v0.9h-0.9zM424.9 169.9h0.9v0.9h-0.9zM429.9 168.6h0.9v0.9h-0.9zM428.1 168.7h0.9v0.9h-0.9zM428.9 173.7h0.9v0.9h-0.9zM423.9 170.9h0.9v0.9h-0.9zM421.6 172.0h0.9v0.9h-0.9zM431.0 170.0h0.9v0.9h-0.9zM420.7 170.8h0.9v0.9h-0.9zM430.8 172.3h0.9v0.9h-0.9zM429.3 165.9h0.9v0.9h-0.9zM422.7 173.0h0.9v0.9h-0.9zM420.3 172.4h0.9v0.9h-0.9zM434.0 171.6h0.9v0.9h-0.9zM430.6 169.2h0.9v0.9h-0.9zM420.3 169.7h0.9v0.9h-0.9zM424.8 169.8h0.9v0.9h-0.9zM428.8 169.6h0.9v0.9h-0.9zM426.5 170.8h0.9v0.9h-0.9zM425.7 174.0h0.9v0.9h-0.9zM427.6 170.1h0.9v0.9h-0.9zM424.8 168.5h0.9v0.9h-0.9zM431.6 170.2h0.9v0.9h-0.9zM421.0 168.7h0.9v0.9h-0.9zM425.1 168.9h0.9v0.9h-0.9zM430.5 167.3h0.9v0.9h-0.9zM427.9 170.2h0.9v0.9h-0.9zM420.5 170.0h0.9v0.9h-0.9zM425.3 171.0h0.9v0.9h-0.9zM423.7 170.6h0.9v0.9h-0.9zM418.4 167.5h0.9v0.9h-0.9zM429.2 172.2h0.9v0.9h-0.9zM425.6 168.6h0.9v0.9h-0.9zM430.5 165.3h0.9v0.9h-0.9zM422.2 171.4h0.9v0.9h-0.9zM428.6 167.6h0.9v0.9h-0.9zM417.4 173.1h0.9v0.9h-0.9zM426.4 167.9h0.9v0.9h-0.9zM425.9 171.9h0.9v0.9h-0.9zM414.3 172.3h0.9v0.9h-0.9zM429.0 165.3h0.9v0.9h-0.9zM429.1 166.0h0.9v0.9h-0.9zM430.7 170.8h0.9v0.9h-0.9zM435.6 168.6h0.9v0.9h-0.9zM425.7 172.2h0.9v0.9h-0.9zM422.9 168.3h0.9v0.9h-0.9zM424.1 169.7h0.9v0.9h-0.9zM420.9 171.0h0.9v0.9h-0.9zM428.1 170.1h0.9v0.9h-0.9zM433.2 169.2h0.9v0.9h-0.9zM431.4 168.7h0.9v0.9h-0.9zM429.0 165.6h0.9v0.9h-0.9zM426.6 169.5h0.9v0.9h-0.9zM423.5 168.6h0.9v0.9h-0.9zM424.2 168.3h0.9v0.9h-0.9zM416.1 168.6h0.9v0.9h-0.9zM423.3 168.7h0.9v0.9h-0.9zM421.0 169.6h0.9v0.9h-0.9zM429.2 169.3h0.9v0.9h-0.9zM423.5 172.9h0.9v0.9h-0.9zM430.0 171.9h0.9v0.9h-0.9zM430.8 169.2h0.9v0.9h-0.9zM425.1 172.3h0.9v0.9h-0.9zM423.3 169.6h0.9v0.9h-0.9zM427.4 170.7h0.9v0.9h-0.9zM424.5 172.1h0.9v0.9h-0.9zM424.9 171.5h0.9v0.9h-0.9zM430.4 171.4h0.9v0.9h-0.9zM428.9 167.3h0.9v0.9h-0.9zM419.9 168.5h0.9v0.9h-0.9zM427.8 173.2h0.9v0.9h-0.9zM420.3 170.6h0.9v0.9h-0.9zM421.9 168.3h0.9v0.9h-0.9zM424.5 171.4h0.9v0.9h-0.9zM426.6 172.5h0.9v0.9h-0.9zM421.4 171.9h0.9v0.9h-0.9zM429.8 170.1h0.9v0.9h-0.9zM427.8 168.7h0.9v0.9h-0.9zM420.9 169.0h0.9v0.9h-0.9zM422.9 176.3h0.9v0.9h-0.9zM423.6 173.5h0.9v0.9h-0.9zM426.6 170.6h0.9v0.9h-0.9zM429.0 168.2h0.9v0.9h-0.9zM429.7 170.7h0.9v0.9h-0.9zM419.0 171.2h0.9v0.9h-0.9zM428.1 170.9h0.9v0.9h-0.9zM432.7 169.0h0.9v0.9h-0.9zM428.0 171.5h0.9v0.9h-0.9zM421.7 172.5h0.9v0.9h-0.9zM419.3 167.0h0.9v0.9h-0.9zM428.0 167.5h0.9v0.9h-0.9zM425.2 166.3h0.9v0.9h-0.9zM426.0 167.4h0.9v0.9h-0.9zM427.2 166.5h0.9v0.9h-0.9zM427.7 169.3h0.9v0.9h-0.9zM426.0 169.8h0.9v0.9h-0.9zM426.3 167.0h0.9v0.9h-0.9zM414.4 170.0h0.9v0.9h-0.9zM421.6 168.9h0.9v0.9h-0.9zM427.6 165.5h0.9v0.9h-0.9zM422.3 168.6h0.9v0.9h-0.9zM421.0 170.6h0.9v0.9h-0.9zM425.1 168.1h0.9v0.9h-0.9zM421.4 171.7h0.9v0.9h-0.9zM422.8 171.2h0.9v0.9h-0.9zM427.7 165.7h0.9v0.9h-0.9zM420.9 169.9h0.9v0.9h-0.9zM427.2 171.6h0.9v0.9h-0.9zM429.2 172.2h0.9v0.9h-0.9zM424.1 169.4h0.9v0.9h-0.9zM429.1 169.0h0.9v0.9h-0.9zM430.3 166.4h0.9v0.9h-0.9zM428.6 169.5h0.9v0.9h-0.9zM417.0 172.1h0.9v0.9h-0.9zM427.1 169.9h0.9v0.9h-0.9zM421.0 168.9h0.9v0.9h-0.9zM432.4 168.1h0.9v0.9h-0.9zM410.4 168.0h0.9v0.9h-0.9zM420.4 169.6h0.9v0.9h-0.9zM424.0 167.9h0.9v0.9h-0.9zM422.0 172.2h0.9v0.9h-0.9zM419.4 174.2h0.9v0.9h-0.9zM423.3 167.5h0.9v0.9h-0.9zM429.2 171.1h0.9v0.9h-0.9zM421.1 171.5h0.9v0.9h-0.9zM417.6 167.9h0.9v0.9h-0.9zM430.7 169.3h0.9v0.9h-0.9zM420.0 171.0h0.9v0.9h-0.9zM429.7 169.9h0.9v0.9h-0.9zM417.8 169.1h0.9v0.9h-0.9zM427.5 171.6h0.9v0.9h-0.9zM433.9 169.3h0.9v0.9h-0.9zM423.6 169.8h0.9v0.9h-0.9zM431.0 167.8h0.9v0.9h-0.9zM431.4 163.9h0.9v0.9h-0.9zM429.2 168.4h0.9v0.9h-0.9zM427.7 171.4h0.9v0.9h-0.9zM420.5 169.7h0.9v0.9h-0.9zM426.8 171.2h0.9v0.9h-0.9zM421.6 167.7h0.9v0.9h-0.9zM417.2 175.5h0.9v0.9h-0.9zM424.9 169.4h0.9v0.9h-0.9zM419.1 171.9h0.9v0.9h-0.9zM423.3 173.1h0.9v0.9h-0.9zM429.4 169.9h0.9v0.9h-0.9zM428.9 167.5h0.9v0.9h-0.9zM424.3 168.6h0.9v0.9h-0.9zM420.1 169.9h0.9v0.9h-0.9zM425.1 173.1h0.9v0.9h-0.9zM410.9 168.4h0.9v0.9h-0.9zM421.7 168.9h0.9v0.9h-0.9zM427.6 170.8h0.9v0.9h-0.9zM425.8 168.9h0.9v0.9h-0.9zM427.9 170.7h0.9v0.9h-0.9zM417.6 169.3h0.9v0.9h-0.9zM419.7 167.3h0.9v0.9h-0.9zM426.3 170.0h0.9v0.9h-0.9zM426.2 168.0h0.9v0.9h-0.9zM424.8 167.9h0.9v0.9h-0.9zM427.4 171.4h0.9v0.9h-0.9zM433.4 172.7h0.9v0.9h-0.9zM422.2 168.9h0.9v0.9h-0.9zM421.6 170.6h0.9v0.9h-0.9zM434.4 171.5h0.9v0.9h-0.9zM416.0 167.1h0.9v0.9h-0.9zM420.0 171.0h0.9v0.9h-0.9zM425.7 170.6h0.9v0.9h-0.9zM433.5 168.1h0.9v0.9h-0.9zM422.0 174.2h0.9v0.9h-0.9zM427.2 168.2h0.9v0.9h-0.9zM416.8 166.5h0.9v0.9h-0.9zM414.9 170.1h0.9v0.9h-0.9zM425.9 172.1h0.9v0.9h-0.9zM425.1 168.4h0.9v0.9h-0.9zM422.4 174.1h0.9v0.9h-0.9zM417.9 170.3h0.9v0.9h-0.9zM425.8 171.3h0.9v0.9h-0.9zM423.9 171.0h0.9v0.9h-0.9z" fill="#3a4eb0" opacity="0.55"/>
<ellipse cx="425.70" cy="169.90" rx="4.50" ry="2.10" fill="#3048b0" opacity="0.65" transform="rotate(0 425.70 169.90)" filter="url(#bl1)"/>
<path d="M433.3 178.0h0.9v0.9h-0.9zM422.0 189.9h0.9v0.9h-0.9zM426.3 182.5h0.9v0.9h-0.9zM420.7 189.7h0.9v0.9h-0.9zM421.3 188.7h0.9v0.9h-0.9zM421.8 185.6h0.9v0.9h-0.9zM421.7 187.1h0.9v0.9h-0.9zM420.3 190.1h0.9v0.9h-0.9zM428.7 181.5h0.9v0.9h-0.9zM430.0 181.9h0.9v0.9h-0.9zM420.1 188.1h0.9v0.9h-0.9zM422.9 190.6h0.9v0.9h-0.9zM426.5 185.5h0.9v0.9h-0.9zM419.8 185.6h0.9v0.9h-0.9zM424.1 185.2h0.9v0.9h-0.9zM432.7 177.5h0.9v0.9h-0.9zM423.3 188.6h0.9v0.9h-0.9zM422.0 186.4h0.9v0.9h-0.9zM426.8 185.6h0.9v0.9h-0.9zM424.1 188.0h0.9v0.9h-0.9zM431.9 178.3h0.9v0.9h-0.9zM422.2 186.0h0.9v0.9h-0.9zM428.5 183.0h0.9v0.9h-0.9zM422.9 190.8h0.9v0.9h-0.9zM426.0 182.7h0.9v0.9h-0.9zM430.4 180.4h0.9v0.9h-0.9zM424.1 184.2h0.9v0.9h-0.9zM422.6 184.5h0.9v0.9h-0.9zM425.4 185.7h0.9v0.9h-0.9zM432.0 180.0h0.9v0.9h-0.9zM423.6 185.5h0.9v0.9h-0.9zM427.1 182.6h0.9v0.9h-0.9zM423.6 184.3h0.9v0.9h-0.9zM420.0 188.7h0.9v0.9h-0.9zM423.7 186.0h0.9v0.9h-0.9zM430.2 181.8h0.9v0.9h-0.9zM421.5 183.9h0.9v0.9h-0.9zM431.6 181.9h0.9v0.9h-0.9zM432.5 179.7h0.9v0.9h-0.9zM422.7 185.8h0.9v0.9h-0.9zM418.8 188.3h0.9v0.9h-0.9zM423.0 183.8h0.9v0.9h-0.9zM424.4 183.7h0.9v0.9h-0.9zM421.4 184.9h0.9v0.9h-0.9zM431.0 178.9h0.9v0.9h-0.9zM422.9 188.9h0.9v0.9h-0.9zM422.2 190.1h0.9v0.9h-0.9zM429.0 180.4h0.9v0.9h-0.9zM420.2 189.8h0.9v0.9h-0.9zM422.1 187.4h0.9v0.9h-0.9zM423.3 185.7h0.9v0.9h-0.9zM423.9 186.2h0.9v0.9h-0.9zM429.3 183.1h0.9v0.9h-0.9zM429.1 184.9h0.9v0.9h-0.9zM429.7 181.2h0.9v0.9h-0.9zM430.2 182.8h0.9v0.9h-0.9zM426.1 187.9h0.9v0.9h-0.9zM430.7 180.6h0.9v0.9h-0.9zM425.2 188.7h0.9v0.9h-0.9zM428.6 183.1h0.9v0.9h-0.9zM419.7 189.0h0.9v0.9h-0.9zM431.3 180.9h0.9v0.9h-0.9zM423.6 189.0h0.9v0.9h-0.9zM419.4 187.3h0.9v0.9h-0.9zM428.3 180.1h0.9v0.9h-0.9zM432.2 181.0h0.9v0.9h-0.9zM425.2 188.9h0.9v0.9h-0.9zM426.6 186.2h0.9v0.9h-0.9zM432.5 178.2h0.9v0.9h-0.9zM430.2 178.4h0.9v0.9h-0.9zM428.1 181.9h0.9v0.9h-0.9zM429.6 181.6h0.9v0.9h-0.9zM423.3 181.8h0.9v0.9h-0.9zM420.7 187.8h0.9v0.9h-0.9zM431.7 182.3h0.9v0.9h-0.9zM431.4 180.7h0.9v0.9h-0.9zM420.4 183.2h0.9v0.9h-0.9zM427.9 181.3h0.9v0.9h-0.9zM427.2 183.2h0.9v0.9h-0.9zM424.7 185.8h0.9v0.9h-0.9zM425.4 185.1h0.9v0.9h-0.9zM421.9 189.1h0.9v0.9h-0.9zM429.3 181.0h0.9v0.9h-0.9zM422.0 185.9h0.9v0.9h-0.9zM424.7 181.0h0.9v0.9h-0.9zM425.0 186.5h0.9v0.9h-0.9zM423.9 186.6h0.9v0.9h-0.9zM427.1 182.6h0.9v0.9h-0.9zM424.5 186.3h0.9v0.9h-0.9zM429.5 179.5h0.9v0.9h-0.9z" fill="#3a4eb0" opacity="0.4"/>
<path d="M448.94,162.48 L448.01,171.38 L447.84,172.28 L447.54,173.14 L447.11,173.95 L446.57,174.68 L445.91,175.32 L445.17,175.85 L444.35,176.26 L443.48,176.54 L442.58,176.68 L441.67,176.69 L440.77,176.55 L439.89,176.28 L439.08,175.87 L438.33,175.35 L437.67,174.71 L437.12,173.99 L436.68,173.18 L436.38,172.32 L436.20,171.43 L436.17,170.51 L436.28,169.61 L436.53,168.73 L436.91,167.90 L437.41,167.13 L438.02,166.46 L438.73,165.88 L439.52,165.42 L440.37,165.09Z" fill="#4a60c0" stroke="#4a60c0" stroke-width="3.12" stroke-linejoin="round" opacity="0.55" filter="url(#bl1)"/>
<g filter="url(#bl05)"><path d="M448.30,163.20 L447.47,171.15 L447.32,171.95 L447.06,172.72 L446.67,173.44 L446.18,174.09 L445.60,174.66 L444.94,175.14 L444.21,175.50 L443.43,175.75 L442.63,175.88 L441.81,175.89 L441.01,175.76 L440.23,175.52 L439.50,175.16 L438.83,174.69 L438.24,174.12 L437.75,173.47 L437.36,172.76 L437.09,171.99 L436.93,171.19 L436.90,170.37 L437.00,169.56 L437.22,168.78 L437.56,168.04 L438.01,167.36 L438.56,166.75 L439.19,166.24 L439.90,165.83 L440.65,165.53Z" fill="#22389a" stroke="#22389a" stroke-width="2.60" stroke-linejoin="round"/><path d="M447.56,164.04 L446.85,170.88 L446.72,171.57 L446.49,172.23 L446.16,172.85 L445.74,173.41 L445.24,173.90 L444.67,174.31 L444.04,174.62 L443.37,174.84 L442.68,174.95 L441.98,174.95 L441.28,174.84 L440.62,174.63 L439.99,174.32 L439.41,173.92 L438.91,173.43 L438.48,172.88 L438.15,172.26 L437.91,171.60 L437.78,170.91 L437.76,170.21 L437.84,169.51 L438.03,168.84 L438.32,168.20 L438.71,167.61 L439.18,167.09 L439.72,166.65 L440.33,166.30 L440.98,166.04Z" fill="#3462c0" stroke="#3462c0" stroke-width="2.24" stroke-linejoin="round"/><path d="M446.50,165.24 L445.95,170.49 L445.85,171.02 L445.68,171.52 L445.42,172.00 L445.10,172.43 L444.72,172.81 L444.28,173.12 L443.80,173.36 L443.29,173.53 L442.75,173.61 L442.22,173.61 L441.68,173.53 L441.17,173.37 L440.69,173.13 L440.25,172.82 L439.86,172.45 L439.53,172.02 L439.28,171.55 L439.10,171.04 L439.00,170.51 L438.98,169.97 L439.04,169.44 L439.19,168.92 L439.41,168.43 L439.71,167.98 L440.07,167.58 L440.49,167.24 L440.95,166.97 L441.45,166.78Z" fill="#52acdc" stroke="#52acdc" stroke-width="1.72" stroke-linejoin="round"/><path d="M445.65,166.20 L445.24,170.17 L445.16,170.58 L445.03,170.96 L444.84,171.32 L444.59,171.65 L444.30,171.93 L443.97,172.17 L443.60,172.35 L443.22,172.48 L442.81,172.54 L442.41,172.54 L442.00,172.48 L441.61,172.36 L441.25,172.18 L440.91,171.94 L440.62,171.66 L440.37,171.34 L440.18,170.98 L440.04,170.59 L439.97,170.19 L439.95,169.79 L440.00,169.38 L440.11,168.99 L440.28,168.62 L440.50,168.28 L440.78,167.98 L441.10,167.72 L441.45,167.51 L441.83,167.37Z" fill="#86c852" stroke="#86c852" stroke-width="1.30" stroke-linejoin="round"/><path d="M444.91,167.04 L444.61,169.90 L444.56,170.19 L444.46,170.47 L444.32,170.73 L444.15,170.96 L443.94,171.17 L443.70,171.34 L443.44,171.47 L443.16,171.56 L442.87,171.61 L442.57,171.61 L442.28,171.56 L442.00,171.47 L441.74,171.35 L441.50,171.18 L441.29,170.97 L441.11,170.74 L440.97,170.48 L440.87,170.20 L440.82,169.92 L440.81,169.62 L440.84,169.33 L440.92,169.05 L441.04,168.78 L441.20,168.54 L441.40,168.32 L441.63,168.13 L441.88,167.99 L442.16,167.88Z" fill="#eedc36" stroke="#eedc36" stroke-width="0.94" stroke-linejoin="round"/><path d="M444.17,167.88 L443.98,169.63 L443.95,169.81 L443.89,169.97 L443.81,170.13 L443.70,170.28 L443.57,170.40 L443.43,170.51 L443.27,170.59 L443.10,170.64 L442.92,170.67 L442.74,170.67 L442.56,170.64 L442.39,170.59 L442.23,170.51 L442.08,170.41 L441.95,170.28 L441.84,170.14 L441.76,169.98 L441.70,169.81 L441.67,169.64 L441.66,169.46 L441.68,169.28 L441.73,169.11 L441.80,168.94 L441.90,168.79 L442.02,168.66 L442.16,168.55 L442.32,168.46 L442.48,168.39Z" fill="#e07a22" stroke="#e07a22" stroke-width="0.57" stroke-linejoin="round"/><path d="M443.58,168.54 L443.49,169.41 L443.48,169.50 L443.45,169.59 L443.40,169.67 L443.35,169.74 L443.29,169.80 L443.21,169.85 L443.13,169.89 L443.05,169.92 L442.96,169.94 L442.87,169.94 L442.78,169.92 L442.70,169.90 L442.61,169.86 L442.54,169.80 L442.48,169.74 L442.42,169.67 L442.38,169.59 L442.35,169.51 L442.33,169.42 L442.33,169.33 L442.34,169.24 L442.36,169.15 L442.40,169.07 L442.45,169.00 L442.51,168.93 L442.58,168.87 L442.66,168.83 L442.74,168.80Z" fill="#b81a12" stroke="#b81a12" stroke-width="0.29" stroke-linejoin="round"/></g>
</g>
<rect x="404.2" y="150.3" width="54.3" height="54.1" fill="none" stroke="#7a7a7a" stroke-width="0.8"/>
<path d="M411.0 204.4v-1.2M404.2 157.1h1.2M417.8 204.4v-1.2M404.2 163.8h1.2M424.6 204.4v-1.2M404.2 170.6h1.2M431.3 204.4v-1.2M404.2 177.4h1.2M438.1 204.4v-1.2M404.2 184.1h1.2M444.9 204.4v-1.2M404.2 190.9h1.2M451.7 204.4v-1.2M404.2 197.6h1.2" stroke="#7a7a7a" stroke-width="0.5"/>
<text x="406.80" y="158.50" font-size="7.3" font-weight="bold" fill="#000" textLength="10.5" lengthAdjust="spacingAndGlyphs" style="stroke-width:0.35px">4%</text>
<text x="457.10" y="158.50" font-size="7.3" font-weight="bold" fill="#000" text-anchor="end" textLength="14.8" lengthAdjust="spacingAndGlyphs" style="stroke-width:0.35px">95%</text>
<clipPath id="c4"><rect x="464.9" y="150.3" width="54.3" height="54.1"/></clipPath>
<g clip-path="url(#c4)">
<line x1="495.20" y1="150.30" x2="495.20" y2="204.40" stroke="#a8a8a8" stroke-width="0.6"/>
<line x1="464.90" y1="180.20" x2="519.20" y2="180.20" stroke="#a8a8a8" stroke-width="0.6"/>
<path d="M476.1 187.4h0.9v0.9h-0.9zM482.1 181.3h0.9v0.9h-0.9zM490.0 176.8h0.9v0.9h-0.9zM479.0 185.4h0.9v0.9h-0.9zM481.0 184.6h0.9v0.9h-0.9zM479.5 186.4h0.9v0.9h-0.9zM477.0 187.3h0.9v0.9h-0.9zM474.4 188.1h0.9v0.9h-0.9zM479.3 184.2h0.9v0.9h-0.9zM476.9 188.4h0.9v0.9h-0.9zM477.8 193.7h0.9v0.9h-0.9zM489.7 177.0h0.9v0.9h-0.9zM474.3 189.2h0.9v0.9h-0.9zM483.1 177.9h0.9v0.9h-0.9zM474.3 188.2h0.9v0.9h-0.9zM477.2 187.9h0.9v0.9h-0.9zM486.8 183.0h0.9v0.9h-0.9zM487.3 179.0h0.9v0.9h-0.9zM487.9 180.5h0.9v0.9h-0.9zM478.0 186.0h0.9v0.9h-0.9zM478.6 186.9h0.9v0.9h-0.9zM490.2 176.6h0.9v0.9h-0.9zM491.3 175.0h0.9v0.9h-0.9zM487.5 179.6h0.9v0.9h-0.9zM492.0 175.5h0.9v0.9h-0.9zM490.1 176.0h0.9v0.9h-0.9zM491.2 175.3h0.9v0.9h-0.9zM476.2 186.9h0.9v0.9h-0.9zM490.9 175.1h0.9v0.9h-0.9zM485.9 181.6h0.9v0.9h-0.9zM481.5 184.7h0.9v0.9h-0.9zM473.2 189.9h0.9v0.9h-0.9zM484.4 179.2h0.9v0.9h-0.9zM487.5 176.6h0.9v0.9h-0.9zM493.7 174.7h0.9v0.9h-0.9zM483.6 181.4h0.9v0.9h-0.9zM476.1 188.0h0.9v0.9h-0.9zM476.1 191.4h0.9v0.9h-0.9zM488.6 178.6h0.9v0.9h-0.9zM495.0 173.3h0.9v0.9h-0.9zM476.0 191.0h0.9v0.9h-0.9zM477.5 188.1h0.9v0.9h-0.9zM490.4 179.1h0.9v0.9h-0.9zM491.8 174.8h0.9v0.9h-0.9zM489.8 175.5h0.9v0.9h-0.9z" fill="#3a4eb0" opacity="0.3"/>
<path d="M509.40,162.90 L509.29,170.83 L509.20,171.76 L508.97,172.67 L508.59,173.53 L508.09,174.32 L507.47,175.02 L506.74,175.62 L505.93,176.09 L505.06,176.43 L504.14,176.63 L503.21,176.68 L502.27,176.58 L501.37,176.34 L500.51,175.96 L499.73,175.44 L499.03,174.81 L498.44,174.08 L497.98,173.27 L497.65,172.39 L497.46,171.47 L497.42,170.54 L497.53,169.60 L497.78,168.70 L498.17,167.85 L498.69,167.07 L499.33,166.38 L500.06,165.80 L500.88,165.35 L501.76,165.02Z" fill="#4a60c0" stroke="#4a60c0" stroke-width="3.12" stroke-linejoin="round" opacity="0.55" filter="url(#bl1)"/>
<g filter="url(#bl05)"><path d="M508.80,163.60 L508.70,170.68 L508.62,171.51 L508.41,172.32 L508.08,173.09 L507.63,173.79 L507.07,174.42 L506.43,174.95 L505.70,175.37 L504.92,175.68 L504.11,175.85 L503.27,175.90 L502.44,175.81 L501.63,175.60 L500.86,175.25 L500.16,174.80 L499.54,174.23 L499.02,173.58 L498.60,172.85 L498.31,172.07 L498.14,171.25 L498.10,170.41 L498.20,169.58 L498.42,168.78 L498.77,168.02 L499.24,167.32 L499.81,166.70 L500.46,166.19 L501.20,165.78 L501.98,165.49Z" fill="#22389a" stroke="#22389a" stroke-width="2.60" stroke-linejoin="round"/><path d="M508.10,164.41 L508.01,170.50 L507.95,171.21 L507.77,171.91 L507.48,172.57 L507.09,173.18 L506.62,173.72 L506.06,174.17 L505.44,174.54 L504.77,174.80 L504.06,174.95 L503.34,174.99 L502.63,174.91 L501.93,174.73 L501.27,174.43 L500.67,174.04 L500.14,173.56 L499.69,173.00 L499.33,172.37 L499.08,171.70 L498.93,170.99 L498.90,170.27 L498.98,169.56 L499.18,168.86 L499.48,168.21 L499.88,167.61 L500.37,167.08 L500.93,166.64 L501.56,166.29 L502.24,166.04Z" fill="#3462c0" stroke="#3462c0" stroke-width="2.24" stroke-linejoin="round"/><path d="M507.10,165.57 L507.03,170.24 L506.98,170.79 L506.84,171.33 L506.62,171.83 L506.33,172.30 L505.96,172.71 L505.53,173.06 L505.06,173.34 L504.54,173.54 L504.00,173.66 L503.45,173.69 L502.90,173.63 L502.37,173.49 L501.86,173.26 L501.40,172.96 L500.99,172.59 L500.64,172.16 L500.37,171.68 L500.18,171.16 L500.06,170.62 L500.04,170.07 L500.10,169.52 L500.25,168.99 L500.48,168.49 L500.79,168.03 L501.16,167.62 L501.60,167.28 L502.08,167.01 L502.60,166.82Z" fill="#52acdc" stroke="#52acdc" stroke-width="1.72" stroke-linejoin="round"/><path d="M506.30,166.50 L506.25,170.04 L506.21,170.45 L506.11,170.86 L505.94,171.24 L505.71,171.60 L505.44,171.91 L505.11,172.18 L504.75,172.39 L504.36,172.54 L503.95,172.63 L503.53,172.65 L503.12,172.61 L502.71,172.50 L502.33,172.33 L501.98,172.10 L501.67,171.82 L501.41,171.49 L501.20,171.13 L501.05,170.74 L500.97,170.33 L500.95,169.91 L501.00,169.49 L501.11,169.09 L501.29,168.71 L501.52,168.36 L501.80,168.05 L502.13,167.79 L502.50,167.59 L502.89,167.45Z" fill="#86c852" stroke="#86c852" stroke-width="1.30" stroke-linejoin="round"/><path d="M505.60,167.31 L505.56,169.86 L505.54,170.16 L505.46,170.45 L505.34,170.73 L505.18,170.98 L504.98,171.21 L504.75,171.40 L504.49,171.55 L504.20,171.66 L503.91,171.72 L503.61,171.74 L503.31,171.71 L503.02,171.63 L502.74,171.51 L502.49,171.34 L502.27,171.14 L502.08,170.91 L501.93,170.64 L501.82,170.36 L501.76,170.07 L501.75,169.77 L501.78,169.47 L501.86,169.18 L501.99,168.90 L502.16,168.65 L502.36,168.43 L502.60,168.24 L502.86,168.10 L503.15,167.99Z" fill="#eedc36" stroke="#eedc36" stroke-width="0.94" stroke-linejoin="round"/><path d="M504.90,168.12 L504.88,169.68 L504.86,169.86 L504.81,170.04 L504.74,170.21 L504.64,170.37 L504.52,170.50 L504.38,170.62 L504.22,170.71 L504.05,170.78 L503.87,170.82 L503.68,170.83 L503.50,170.81 L503.32,170.76 L503.15,170.69 L503.00,170.59 L502.86,170.46 L502.75,170.32 L502.66,170.16 L502.59,169.99 L502.55,169.81 L502.55,169.62 L502.57,169.44 L502.62,169.26 L502.69,169.10 L502.80,168.94 L502.92,168.81 L503.07,168.69 L503.23,168.60 L503.40,168.54Z" fill="#e07a22" stroke="#e07a22" stroke-width="0.57" stroke-linejoin="round"/><path d="M504.35,168.76 L504.34,169.54 L504.33,169.63 L504.31,169.72 L504.27,169.81 L504.22,169.88 L504.16,169.95 L504.09,170.01 L504.01,170.06 L503.92,170.09 L503.83,170.11 L503.74,170.11 L503.65,170.11 L503.56,170.08 L503.48,170.04 L503.40,169.99 L503.33,169.93 L503.27,169.86 L503.23,169.78 L503.20,169.69 L503.18,169.60 L503.17,169.51 L503.18,169.42 L503.21,169.33 L503.25,169.25 L503.30,169.17 L503.36,169.10 L503.43,169.05 L503.51,169.00 L503.60,168.97Z" fill="#b81a12" stroke="#b81a12" stroke-width="0.29" stroke-linejoin="round"/></g>
</g>
<rect x="464.9" y="150.3" width="54.3" height="54.1" fill="none" stroke="#7a7a7a" stroke-width="0.8"/>
<path d="M471.7 204.4v-1.2M464.9 157.1h1.2M478.5 204.4v-1.2M464.9 163.8h1.2M485.3 204.4v-1.2M464.9 170.6h1.2M492.0 204.4v-1.2M464.9 177.4h1.2M498.8 204.4v-1.2M464.9 184.1h1.2M505.6 204.4v-1.2M464.9 190.9h1.2M512.4 204.4v-1.2M464.9 197.6h1.2" stroke="#7a7a7a" stroke-width="0.5"/>
<text x="467.50" y="158.50" font-size="7.3" font-weight="bold" fill="#000" textLength="15" lengthAdjust="spacingAndGlyphs" style="stroke-width:0.35px">&lt;1%</text>
<text x="517.80" y="158.50" font-size="7.3" font-weight="bold" fill="#000" text-anchor="end" textLength="14.8" lengthAdjust="spacingAndGlyphs" style="stroke-width:0.35px">99%</text>
<clipPath id="c5"><rect x="282.3" y="211.9" width="54.3" height="54.1"/></clipPath>
<g clip-path="url(#c5)">
<line x1="312.70" y1="211.90" x2="312.70" y2="266.00" stroke="#a8a8a8" stroke-width="0.6"/>
<line x1="282.30" y1="241.30" x2="336.60" y2="241.30" stroke="#a8a8a8" stroke-width="0.6"/>
<path d="M306.8 230.9h0.9v0.9h-0.9zM299.9 230.5h0.9v0.9h-0.9zM307.2 229.1h0.9v0.9h-0.9zM307.8 235.0h0.9v0.9h-0.9zM295.4 233.6h0.9v0.9h-0.9zM308.6 229.5h0.9v0.9h-0.9zM307.3 231.5h0.9v0.9h-0.9zM307.7 234.4h0.9v0.9h-0.9zM307.3 226.0h0.9v0.9h-0.9zM308.3 236.7h0.9v0.9h-0.9zM299.6 238.8h0.9v0.9h-0.9zM303.0 229.2h0.9v0.9h-0.9zM298.8 236.0h0.9v0.9h-0.9zM307.8 230.9h0.9v0.9h-0.9zM302.3 226.9h0.9v0.9h-0.9zM299.7 228.9h0.9v0.9h-0.9zM305.9 231.8h0.9v0.9h-0.9zM309.4 232.9h0.9v0.9h-0.9zM304.2 233.9h0.9v0.9h-0.9zM312.0 231.5h0.9v0.9h-0.9zM305.7 231.2h0.9v0.9h-0.9zM300.9 230.2h0.9v0.9h-0.9zM302.5 229.3h0.9v0.9h-0.9zM303.8 231.5h0.9v0.9h-0.9zM306.5 234.7h0.9v0.9h-0.9zM314.5 231.3h0.9v0.9h-0.9zM304.3 233.7h0.9v0.9h-0.9zM302.1 235.0h0.9v0.9h-0.9zM308.5 232.5h0.9v0.9h-0.9zM310.8 230.8h0.9v0.9h-0.9zM303.8 231.4h0.9v0.9h-0.9zM303.9 229.2h0.9v0.9h-0.9zM304.4 234.7h0.9v0.9h-0.9zM307.5 234.9h0.9v0.9h-0.9zM307.4 234.6h0.9v0.9h-0.9zM300.2 231.6h0.9v0.9h-0.9zM296.8 238.2h0.9v0.9h-0.9zM315.1 232.3h0.9v0.9h-0.9zM302.7 233.7h0.9v0.9h-0.9zM300.6 235.5h0.9v0.9h-0.9zM316.2 228.5h0.9v0.9h-0.9zM301.7 235.3h0.9v0.9h-0.9zM311.6 234.2h0.9v0.9h-0.9zM306.3 232.2h0.9v0.9h-0.9zM305.6 231.1h0.9v0.9h-0.9zM303.1 231.3h0.9v0.9h-0.9zM312.5 227.8h0.9v0.9h-0.9zM309.7 228.8h0.9v0.9h-0.9zM298.0 227.3h0.9v0.9h-0.9zM300.7 233.5h0.9v0.9h-0.9zM302.8 232.4h0.9v0.9h-0.9zM300.4 232.8h0.9v0.9h-0.9zM297.5 233.1h0.9v0.9h-0.9zM302.7 229.6h0.9v0.9h-0.9zM310.9 236.3h0.9v0.9h-0.9zM302.4 235.8h0.9v0.9h-0.9zM306.8 235.1h0.9v0.9h-0.9zM308.7 232.9h0.9v0.9h-0.9zM302.7 235.8h0.9v0.9h-0.9zM301.6 232.5h0.9v0.9h-0.9zM308.3 228.0h0.9v0.9h-0.9zM308.1 231.4h0.9v0.9h-0.9zM303.8 233.7h0.9v0.9h-0.9zM305.3 233.0h0.9v0.9h-0.9zM302.0 230.5h0.9v0.9h-0.9zM303.6 231.6h0.9v0.9h-0.9zM300.5 235.6h0.9v0.9h-0.9zM313.0 228.8h0.9v0.9h-0.9zM303.2 234.7h0.9v0.9h-0.9zM293.6 234.8h0.9v0.9h-0.9zM305.4 234.2h0.9v0.9h-0.9zM309.8 235.6h0.9v0.9h-0.9zM298.6 234.0h0.9v0.9h-0.9zM305.7 234.1h0.9v0.9h-0.9zM298.1 230.3h0.9v0.9h-0.9zM308.6 235.1h0.9v0.9h-0.9zM313.1 228.5h0.9v0.9h-0.9zM311.3 231.7h0.9v0.9h-0.9zM303.7 231.7h0.9v0.9h-0.9zM308.1 235.1h0.9v0.9h-0.9zM300.9 234.0h0.9v0.9h-0.9zM305.8 230.7h0.9v0.9h-0.9zM309.3 230.3h0.9v0.9h-0.9zM302.7 232.3h0.9v0.9h-0.9zM305.4 230.5h0.9v0.9h-0.9zM302.8 235.2h0.9v0.9h-0.9zM305.7 233.3h0.9v0.9h-0.9zM304.9 234.8h0.9v0.9h-0.9zM310.9 232.2h0.9v0.9h-0.9zM309.0 230.6h0.9v0.9h-0.9zM305.0 229.7h0.9v0.9h-0.9zM302.4 240.0h0.9v0.9h-0.9zM300.8 235.6h0.9v0.9h-0.9zM306.4 233.2h0.9v0.9h-0.9zM294.9 233.0h0.9v0.9h-0.9zM298.0 230.9h0.9v0.9h-0.9zM301.4 231.6h0.9v0.9h-0.9zM313.7 236.6h0.9v0.9h-0.9zM296.5 231.6h0.9v0.9h-0.9zM301.1 232.8h0.9v0.9h-0.9zM296.8 229.0h0.9v0.9h-0.9zM304.6 230.6h0.9v0.9h-0.9zM310.1 231.8h0.9v0.9h-0.9zM306.0 231.3h0.9v0.9h-0.9zM308.8 235.4h0.9v0.9h-0.9zM304.6 231.2h0.9v0.9h-0.9zM307.8 232.7h0.9v0.9h-0.9zM309.6 232.7h0.9v0.9h-0.9zM305.5 234.4h0.9v0.9h-0.9zM301.0 229.4h0.9v0.9h-0.9zM307.2 232.0h0.9v0.9h-0.9zM307.9 234.4h0.9v0.9h-0.9zM306.7 231.1h0.9v0.9h-0.9zM312.5 226.9h0.9v0.9h-0.9zM301.3 229.5h0.9v0.9h-0.9zM314.5 231.6h0.9v0.9h-0.9zM304.0 233.9h0.9v0.9h-0.9zM310.9 234.8h0.9v0.9h-0.9zM304.6 232.9h0.9v0.9h-0.9zM299.8 233.1h0.9v0.9h-0.9zM303.6 227.2h0.9v0.9h-0.9zM306.0 232.2h0.9v0.9h-0.9zM308.8 234.0h0.9v0.9h-0.9zM305.4 232.1h0.9v0.9h-0.9zM312.8 233.0h0.9v0.9h-0.9zM310.0 233.5h0.9v0.9h-0.9zM311.5 234.9h0.9v0.9h-0.9zM299.6 233.8h0.9v0.9h-0.9zM312.7 235.8h0.9v0.9h-0.9zM303.4 236.5h0.9v0.9h-0.9zM309.4 234.1h0.9v0.9h-0.9zM301.8 233.6h0.9v0.9h-0.9zM307.4 227.5h0.9v0.9h-0.9zM302.7 228.9h0.9v0.9h-0.9zM296.3 233.0h0.9v0.9h-0.9zM309.3 232.5h0.9v0.9h-0.9zM297.8 229.4h0.9v0.9h-0.9zM309.2 232.0h0.9v0.9h-0.9zM306.5 231.8h0.9v0.9h-0.9zM305.8 230.9h0.9v0.9h-0.9zM301.8 229.1h0.9v0.9h-0.9zM305.2 232.4h0.9v0.9h-0.9zM310.6 238.2h0.9v0.9h-0.9zM306.0 225.7h0.9v0.9h-0.9zM299.2 235.7h0.9v0.9h-0.9zM307.4 232.1h0.9v0.9h-0.9zM300.6 233.7h0.9v0.9h-0.9zM306.6 235.2h0.9v0.9h-0.9zM311.7 236.4h0.9v0.9h-0.9zM309.9 229.7h0.9v0.9h-0.9zM307.9 229.8h0.9v0.9h-0.9zM301.6 230.6h0.9v0.9h-0.9zM299.3 230.5h0.9v0.9h-0.9zM312.2 232.3h0.9v0.9h-0.9zM312.9 232.9h0.9v0.9h-0.9zM296.4 230.9h0.9v0.9h-0.9zM313.0 235.2h0.9v0.9h-0.9zM304.2 232.0h0.9v0.9h-0.9zM311.0 233.7h0.9v0.9h-0.9zM304.0 235.3h0.9v0.9h-0.9zM305.3 230.1h0.9v0.9h-0.9zM297.9 227.6h0.9v0.9h-0.9zM316.5 233.1h0.9v0.9h-0.9zM313.3 233.0h0.9v0.9h-0.9zM305.6 233.1h0.9v0.9h-0.9zM306.3 229.3h0.9v0.9h-0.9zM304.9 235.0h0.9v0.9h-0.9zM315.8 231.6h0.9v0.9h-0.9zM307.1 234.3h0.9v0.9h-0.9zM312.3 233.8h0.9v0.9h-0.9zM303.6 236.8h0.9v0.9h-0.9zM306.6 232.8h0.9v0.9h-0.9zM319.2 228.9h0.9v0.9h-0.9zM305.0 230.0h0.9v0.9h-0.9zM312.4 230.4h0.9v0.9h-0.9zM306.1 233.5h0.9v0.9h-0.9zM303.6 232.4h0.9v0.9h-0.9zM303.2 231.0h0.9v0.9h-0.9zM301.0 233.1h0.9v0.9h-0.9zM303.7 230.1h0.9v0.9h-0.9zM303.0 237.8h0.9v0.9h-0.9zM299.1 231.3h0.9v0.9h-0.9zM302.4 232.5h0.9v0.9h-0.9zM308.9 230.8h0.9v0.9h-0.9zM306.5 233.7h0.9v0.9h-0.9zM313.1 231.2h0.9v0.9h-0.9zM301.7 234.2h0.9v0.9h-0.9zM304.9 231.2h0.9v0.9h-0.9zM303.8 235.8h0.9v0.9h-0.9zM297.4 232.0h0.9v0.9h-0.9zM313.3 233.4h0.9v0.9h-0.9zM301.3 231.1h0.9v0.9h-0.9zM310.0 233.6h0.9v0.9h-0.9zM303.1 231.1h0.9v0.9h-0.9zM298.8 229.4h0.9v0.9h-0.9zM306.9 233.8h0.9v0.9h-0.9zM302.7 234.3h0.9v0.9h-0.9zM301.8 233.4h0.9v0.9h-0.9zM295.2 234.6h0.9v0.9h-0.9zM314.1 234.6h0.9v0.9h-0.9z" fill="#3a4eb0" opacity="0.45"/>
<ellipse cx="305.00" cy="232.50" rx="4.50" ry="2.00" fill="#3a52b4" opacity="0.4" transform="rotate(0 305.00 232.50)" filter="url(#bl1)"/>
<path d="M320.9 246.4h0.9v0.9h-0.9zM321.2 244.7h0.9v0.9h-0.9zM320.9 246.4h0.9v0.9h-0.9zM320.2 243.8h0.9v0.9h-0.9zM319.9 247.7h0.9v0.9h-0.9zM324.3 247.8h0.9v0.9h-0.9zM322.2 250.9h0.9v0.9h-0.9zM319.1 254.3h0.9v0.9h-0.9zM316.3 247.6h0.9v0.9h-0.9zM321.4 246.0h0.9v0.9h-0.9zM317.3 249.8h0.9v0.9h-0.9zM321.7 244.6h0.9v0.9h-0.9zM323.6 244.8h0.9v0.9h-0.9zM321.3 248.4h0.9v0.9h-0.9zM320.9 245.8h0.9v0.9h-0.9zM320.1 241.3h0.9v0.9h-0.9zM321.1 241.2h0.9v0.9h-0.9zM321.7 242.9h0.9v0.9h-0.9zM319.7 243.6h0.9v0.9h-0.9zM318.1 247.6h0.9v0.9h-0.9zM322.5 232.8h0.9v0.9h-0.9zM321.1 242.0h0.9v0.9h-0.9zM322.4 254.1h0.9v0.9h-0.9zM319.9 243.5h0.9v0.9h-0.9zM319.0 245.7h0.9v0.9h-0.9zM322.8 245.3h0.9v0.9h-0.9zM321.3 238.9h0.9v0.9h-0.9zM320.9 239.6h0.9v0.9h-0.9zM320.2 251.6h0.9v0.9h-0.9zM321.3 240.4h0.9v0.9h-0.9zM318.4 236.7h0.9v0.9h-0.9zM319.8 254.1h0.9v0.9h-0.9zM320.4 243.0h0.9v0.9h-0.9zM318.5 241.8h0.9v0.9h-0.9zM323.4 248.9h0.9v0.9h-0.9zM320.6 240.1h0.9v0.9h-0.9zM322.7 255.1h0.9v0.9h-0.9zM328.0 250.8h0.9v0.9h-0.9zM321.1 247.4h0.9v0.9h-0.9zM320.1 240.3h0.9v0.9h-0.9zM319.4 244.2h0.9v0.9h-0.9zM322.7 251.2h0.9v0.9h-0.9zM324.2 246.3h0.9v0.9h-0.9zM315.7 251.3h0.9v0.9h-0.9zM322.2 240.8h0.9v0.9h-0.9zM324.2 239.8h0.9v0.9h-0.9zM320.3 244.2h0.9v0.9h-0.9zM321.0 243.8h0.9v0.9h-0.9zM316.1 237.3h0.9v0.9h-0.9zM320.8 247.7h0.9v0.9h-0.9zM320.9 238.3h0.9v0.9h-0.9zM318.0 238.3h0.9v0.9h-0.9zM323.7 239.2h0.9v0.9h-0.9zM322.9 238.3h0.9v0.9h-0.9zM318.6 240.9h0.9v0.9h-0.9zM324.2 240.6h0.9v0.9h-0.9zM320.5 241.0h0.9v0.9h-0.9zM319.7 248.8h0.9v0.9h-0.9zM319.5 242.9h0.9v0.9h-0.9zM318.0 240.5h0.9v0.9h-0.9zM321.3 251.2h0.9v0.9h-0.9zM325.5 238.0h0.9v0.9h-0.9zM320.5 235.0h0.9v0.9h-0.9zM320.2 244.2h0.9v0.9h-0.9zM322.5 246.4h0.9v0.9h-0.9zM318.5 238.0h0.9v0.9h-0.9zM317.4 251.9h0.9v0.9h-0.9zM317.9 248.7h0.9v0.9h-0.9zM321.7 248.6h0.9v0.9h-0.9zM317.0 246.1h0.9v0.9h-0.9zM322.0 244.0h0.9v0.9h-0.9zM322.2 238.4h0.9v0.9h-0.9zM324.5 238.6h0.9v0.9h-0.9zM320.6 248.3h0.9v0.9h-0.9zM322.3 251.7h0.9v0.9h-0.9zM320.9 238.6h0.9v0.9h-0.9zM321.9 246.5h0.9v0.9h-0.9zM317.0 248.4h0.9v0.9h-0.9zM324.1 239.9h0.9v0.9h-0.9zM323.2 244.4h0.9v0.9h-0.9z" fill="#3a4eb0" opacity="0.35"/>
<path d="M312.68,228.42 L329.70,221.52 L319.81,242.22Z" fill="#4a60c0" stroke="#4a60c0" stroke-width="4" stroke-linejoin="round" opacity="0.55" filter="url(#bl1)"/>
<g filter="url(#bl05)"><path d="M313.80,228.60 L328.60,222.60 L320.00,240.60Z" fill="#22389a" stroke="#22389a" stroke-width="3.50" stroke-linejoin="round"/><path d="M315.45,228.86 L326.99,224.18 L320.29,238.22Z" fill="#3462c0" stroke="#3462c0" stroke-width="2.73" stroke-linejoin="round"/><ellipse cx="321.30" cy="229.80" rx="4.60" ry="5.40" fill="#52acdc" transform="rotate(-20 321.30 229.80)"/><ellipse cx="321.30" cy="229.80" rx="3.50" ry="4.20" fill="#86c852" transform="rotate(-20 321.30 229.80)"/><ellipse cx="321.30" cy="229.80" rx="2.40" ry="2.90" fill="#eedc36" transform="rotate(-20 321.30 229.80)"/><ellipse cx="321.30" cy="229.80" rx="1.30" ry="1.60" fill="#e07a22" transform="rotate(-20 321.30 229.80)"/><ellipse cx="321.30" cy="229.80" rx="0.70" ry="0.80" fill="#b81a12" transform="rotate(-20 321.30 229.80)"/></g>
</g>
<rect x="282.3" y="211.9" width="54.3" height="54.1" fill="none" stroke="#7a7a7a" stroke-width="0.8"/>
<path d="M289.1 266.0v-1.2M282.3 218.7h1.2M295.9 266.0v-1.2M282.3 225.4h1.2M302.7 266.0v-1.2M282.3 232.2h1.2M309.4 266.0v-1.2M282.3 239.0h1.2M316.2 266.0v-1.2M282.3 245.7h1.2M323.0 266.0v-1.2M282.3 252.5h1.2M329.8 266.0v-1.2M282.3 259.2h1.2" stroke="#7a7a7a" stroke-width="0.5"/>
<text x="284.90" y="220.10" font-size="7.3" font-weight="bold" fill="#000" textLength="15" lengthAdjust="spacingAndGlyphs" style="stroke-width:0.35px">&lt;1%</text>
<text x="335.20" y="220.10" font-size="7.3" font-weight="bold" fill="#000" text-anchor="end" textLength="14.8" lengthAdjust="spacingAndGlyphs" style="stroke-width:0.35px">99%</text>
<clipPath id="c6"><rect x="343.5" y="211.9" width="54.3" height="54.1"/></clipPath>
<g clip-path="url(#c6)">
<line x1="374.50" y1="211.90" x2="374.50" y2="266.00" stroke="#a8a8a8" stroke-width="0.6"/>
<line x1="343.50" y1="241.30" x2="397.80" y2="241.30" stroke="#a8a8a8" stroke-width="0.6"/>
<path d="M362.7 244.3h0.9v0.9h-0.9zM362.5 242.9h0.9v0.9h-0.9zM363.8 237.6h0.9v0.9h-0.9zM357.9 250.1h0.9v0.9h-0.9zM363.1 246.7h0.9v0.9h-0.9zM360.1 243.1h0.9v0.9h-0.9zM361.8 251.7h0.9v0.9h-0.9zM365.7 236.8h0.9v0.9h-0.9zM359.9 239.7h0.9v0.9h-0.9zM365.1 231.3h0.9v0.9h-0.9zM353.8 247.8h0.9v0.9h-0.9zM358.8 238.3h0.9v0.9h-0.9zM362.7 245.7h0.9v0.9h-0.9zM358.2 239.0h0.9v0.9h-0.9zM356.3 239.5h0.9v0.9h-0.9zM355.3 237.8h0.9v0.9h-0.9zM354.8 243.7h0.9v0.9h-0.9zM369.0 228.2h0.9v0.9h-0.9zM362.5 233.7h0.9v0.9h-0.9zM364.1 245.6h0.9v0.9h-0.9zM362.7 243.0h0.9v0.9h-0.9zM357.1 234.5h0.9v0.9h-0.9zM366.5 233.4h0.9v0.9h-0.9zM352.7 247.6h0.9v0.9h-0.9zM360.3 238.7h0.9v0.9h-0.9zM365.1 229.8h0.9v0.9h-0.9zM369.8 231.4h0.9v0.9h-0.9zM358.4 238.1h0.9v0.9h-0.9zM367.5 232.0h0.9v0.9h-0.9zM364.9 235.1h0.9v0.9h-0.9zM352.7 247.1h0.9v0.9h-0.9zM361.0 232.2h0.9v0.9h-0.9zM365.1 232.1h0.9v0.9h-0.9zM357.0 247.5h0.9v0.9h-0.9zM368.3 232.7h0.9v0.9h-0.9zM360.6 250.5h0.9v0.9h-0.9zM365.8 239.2h0.9v0.9h-0.9zM353.9 247.5h0.9v0.9h-0.9zM358.4 236.8h0.9v0.9h-0.9zM354.7 248.1h0.9v0.9h-0.9zM361.2 235.4h0.9v0.9h-0.9zM372.0 229.4h0.9v0.9h-0.9zM351.9 243.2h0.9v0.9h-0.9zM359.7 242.4h0.9v0.9h-0.9zM369.8 228.2h0.9v0.9h-0.9zM358.9 243.8h0.9v0.9h-0.9zM361.2 246.0h0.9v0.9h-0.9zM365.0 229.2h0.9v0.9h-0.9zM360.2 240.0h0.9v0.9h-0.9zM353.8 247.6h0.9v0.9h-0.9zM371.9 235.7h0.9v0.9h-0.9zM367.8 231.1h0.9v0.9h-0.9zM357.7 250.2h0.9v0.9h-0.9zM361.0 236.8h0.9v0.9h-0.9zM364.5 240.7h0.9v0.9h-0.9zM360.6 235.0h0.9v0.9h-0.9zM361.8 248.2h0.9v0.9h-0.9zM368.0 229.3h0.9v0.9h-0.9zM359.4 242.9h0.9v0.9h-0.9zM360.1 236.3h0.9v0.9h-0.9zM361.8 244.2h0.9v0.9h-0.9zM359.8 244.4h0.9v0.9h-0.9zM363.6 233.0h0.9v0.9h-0.9zM364.7 230.7h0.9v0.9h-0.9zM367.5 228.4h0.9v0.9h-0.9zM362.3 240.7h0.9v0.9h-0.9zM360.9 240.0h0.9v0.9h-0.9zM369.6 239.3h0.9v0.9h-0.9zM357.8 249.6h0.9v0.9h-0.9zM366.5 238.6h0.9v0.9h-0.9zM368.9 241.4h0.9v0.9h-0.9zM363.2 229.8h0.9v0.9h-0.9zM365.2 235.2h0.9v0.9h-0.9zM360.7 244.4h0.9v0.9h-0.9zM362.4 250.4h0.9v0.9h-0.9zM369.1 230.0h0.9v0.9h-0.9zM357.7 248.8h0.9v0.9h-0.9zM369.3 234.5h0.9v0.9h-0.9zM364.1 234.9h0.9v0.9h-0.9zM362.4 246.7h0.9v0.9h-0.9zM354.9 245.0h0.9v0.9h-0.9zM355.6 248.6h0.9v0.9h-0.9zM366.8 231.1h0.9v0.9h-0.9zM359.8 243.8h0.9v0.9h-0.9zM363.4 245.5h0.9v0.9h-0.9zM366.7 239.9h0.9v0.9h-0.9zM364.9 246.3h0.9v0.9h-0.9zM370.3 233.3h0.9v0.9h-0.9zM373.3 230.9h0.9v0.9h-0.9zM363.5 243.2h0.9v0.9h-0.9zM365.1 236.3h0.9v0.9h-0.9zM357.2 244.3h0.9v0.9h-0.9zM361.6 239.6h0.9v0.9h-0.9zM362.4 231.6h0.9v0.9h-0.9zM358.5 248.7h0.9v0.9h-0.9zM371.6 234.6h0.9v0.9h-0.9zM373.8 230.7h0.9v0.9h-0.9zM367.0 227.9h0.9v0.9h-0.9zM359.8 242.1h0.9v0.9h-0.9zM360.3 229.4h0.9v0.9h-0.9zM356.5 248.1h0.9v0.9h-0.9zM364.7 241.0h0.9v0.9h-0.9zM360.4 236.3h0.9v0.9h-0.9zM357.8 249.0h0.9v0.9h-0.9zM369.9 231.4h0.9v0.9h-0.9zM368.5 232.0h0.9v0.9h-0.9zM362.0 253.7h0.9v0.9h-0.9zM366.4 238.4h0.9v0.9h-0.9zM368.7 228.9h0.9v0.9h-0.9zM367.1 237.1h0.9v0.9h-0.9zM362.5 240.6h0.9v0.9h-0.9zM358.6 244.5h0.9v0.9h-0.9zM365.2 231.6h0.9v0.9h-0.9zM362.7 245.6h0.9v0.9h-0.9zM358.0 248.9h0.9v0.9h-0.9zM364.1 238.4h0.9v0.9h-0.9zM358.4 237.4h0.9v0.9h-0.9zM354.2 248.4h0.9v0.9h-0.9zM364.6 235.7h0.9v0.9h-0.9zM354.6 245.5h0.9v0.9h-0.9zM359.4 240.9h0.9v0.9h-0.9zM365.8 236.0h0.9v0.9h-0.9zM370.4 230.2h0.9v0.9h-0.9zM363.0 244.8h0.9v0.9h-0.9zM357.6 236.3h0.9v0.9h-0.9zM362.1 250.0h0.9v0.9h-0.9zM360.0 249.6h0.9v0.9h-0.9zM361.1 238.2h0.9v0.9h-0.9zM361.7 239.5h0.9v0.9h-0.9zM354.2 244.2h0.9v0.9h-0.9zM359.8 241.4h0.9v0.9h-0.9zM356.4 244.6h0.9v0.9h-0.9zM358.0 247.9h0.9v0.9h-0.9zM360.9 246.3h0.9v0.9h-0.9zM366.2 228.9h0.9v0.9h-0.9zM358.4 251.8h0.9v0.9h-0.9zM365.8 231.9h0.9v0.9h-0.9zM362.8 237.0h0.9v0.9h-0.9zM364.5 232.3h0.9v0.9h-0.9zM357.2 246.6h0.9v0.9h-0.9zM361.6 241.8h0.9v0.9h-0.9zM361.3 237.6h0.9v0.9h-0.9zM362.1 252.1h0.9v0.9h-0.9zM364.0 237.5h0.9v0.9h-0.9zM370.2 235.1h0.9v0.9h-0.9zM367.5 235.6h0.9v0.9h-0.9zM364.7 237.3h0.9v0.9h-0.9zM373.1 230.6h0.9v0.9h-0.9zM366.3 235.4h0.9v0.9h-0.9zM364.7 230.3h0.9v0.9h-0.9zM366.1 242.7h0.9v0.9h-0.9zM374.8 233.8h0.9v0.9h-0.9zM361.6 241.2h0.9v0.9h-0.9zM362.8 242.2h0.9v0.9h-0.9zM367.0 234.6h0.9v0.9h-0.9zM366.6 236.0h0.9v0.9h-0.9zM359.2 248.4h0.9v0.9h-0.9zM358.5 246.0h0.9v0.9h-0.9zM371.8 230.0h0.9v0.9h-0.9zM370.7 228.6h0.9v0.9h-0.9zM359.5 237.0h0.9v0.9h-0.9zM370.3 235.3h0.9v0.9h-0.9zM362.2 234.4h0.9v0.9h-0.9zM354.1 243.0h0.9v0.9h-0.9zM363.3 230.3h0.9v0.9h-0.9zM355.8 247.6h0.9v0.9h-0.9zM354.9 244.7h0.9v0.9h-0.9zM367.6 227.4h0.9v0.9h-0.9zM352.9 244.2h0.9v0.9h-0.9zM372.5 235.3h0.9v0.9h-0.9zM364.0 232.1h0.9v0.9h-0.9zM368.6 232.4h0.9v0.9h-0.9zM358.1 238.1h0.9v0.9h-0.9zM368.5 232.6h0.9v0.9h-0.9zM354.0 239.7h0.9v0.9h-0.9zM363.5 224.8h0.9v0.9h-0.9zM355.4 246.5h0.9v0.9h-0.9zM370.0 229.0h0.9v0.9h-0.9zM365.7 230.3h0.9v0.9h-0.9zM359.5 245.6h0.9v0.9h-0.9zM361.5 246.8h0.9v0.9h-0.9zM365.8 241.5h0.9v0.9h-0.9zM363.5 232.9h0.9v0.9h-0.9zM361.9 242.1h0.9v0.9h-0.9zM360.7 231.9h0.9v0.9h-0.9zM370.3 230.1h0.9v0.9h-0.9zM353.7 246.3h0.9v0.9h-0.9zM366.0 236.5h0.9v0.9h-0.9zM361.9 235.5h0.9v0.9h-0.9zM367.6 231.6h0.9v0.9h-0.9zM362.1 239.1h0.9v0.9h-0.9zM359.3 252.4h0.9v0.9h-0.9zM364.5 243.0h0.9v0.9h-0.9zM361.8 235.1h0.9v0.9h-0.9zM358.9 245.8h0.9v0.9h-0.9zM362.4 243.7h0.9v0.9h-0.9zM356.2 241.4h0.9v0.9h-0.9zM355.7 247.7h0.9v0.9h-0.9zM365.8 243.1h0.9v0.9h-0.9zM365.4 235.8h0.9v0.9h-0.9zM364.0 234.1h0.9v0.9h-0.9zM356.4 249.6h0.9v0.9h-0.9zM357.5 242.9h0.9v0.9h-0.9zM368.2 228.1h0.9v0.9h-0.9zM369.7 231.4h0.9v0.9h-0.9zM366.2 238.0h0.9v0.9h-0.9zM360.8 237.9h0.9v0.9h-0.9zM361.9 223.9h0.9v0.9h-0.9zM357.5 245.6h0.9v0.9h-0.9zM369.1 232.8h0.9v0.9h-0.9zM358.0 252.0h0.9v0.9h-0.9zM360.6 248.1h0.9v0.9h-0.9zM366.2 231.5h0.9v0.9h-0.9zM358.0 244.0h0.9v0.9h-0.9zM364.3 238.5h0.9v0.9h-0.9zM365.5 229.4h0.9v0.9h-0.9zM368.7 229.4h0.9v0.9h-0.9zM367.9 230.0h0.9v0.9h-0.9zM363.5 235.7h0.9v0.9h-0.9zM364.1 241.9h0.9v0.9h-0.9zM364.3 235.0h0.9v0.9h-0.9zM362.2 234.5h0.9v0.9h-0.9zM367.4 236.6h0.9v0.9h-0.9zM366.2 228.4h0.9v0.9h-0.9zM369.7 228.5h0.9v0.9h-0.9zM358.1 250.3h0.9v0.9h-0.9zM359.9 235.4h0.9v0.9h-0.9zM361.8 240.2h0.9v0.9h-0.9zM360.5 230.2h0.9v0.9h-0.9zM368.5 235.0h0.9v0.9h-0.9zM357.6 247.4h0.9v0.9h-0.9zM370.4 229.8h0.9v0.9h-0.9zM362.9 236.4h0.9v0.9h-0.9zM366.2 239.0h0.9v0.9h-0.9zM367.0 234.1h0.9v0.9h-0.9zM363.8 235.3h0.9v0.9h-0.9zM364.0 246.7h0.9v0.9h-0.9zM356.7 233.6h0.9v0.9h-0.9zM368.2 238.1h0.9v0.9h-0.9zM366.0 231.5h0.9v0.9h-0.9zM367.3 227.3h0.9v0.9h-0.9zM364.9 233.9h0.9v0.9h-0.9zM355.3 245.0h0.9v0.9h-0.9zM365.8 238.8h0.9v0.9h-0.9zM355.9 239.4h0.9v0.9h-0.9zM351.3 243.0h0.9v0.9h-0.9zM356.9 246.0h0.9v0.9h-0.9zM367.1 234.5h0.9v0.9h-0.9zM358.0 250.3h0.9v0.9h-0.9zM354.1 239.8h0.9v0.9h-0.9zM373.8 231.8h0.9v0.9h-0.9zM355.3 244.2h0.9v0.9h-0.9zM364.2 249.9h0.9v0.9h-0.9zM358.6 242.1h0.9v0.9h-0.9zM359.4 244.6h0.9v0.9h-0.9zM355.6 237.7h0.9v0.9h-0.9zM363.7 247.3h0.9v0.9h-0.9zM360.6 247.3h0.9v0.9h-0.9zM366.0 230.6h0.9v0.9h-0.9zM365.0 236.3h0.9v0.9h-0.9zM354.9 245.0h0.9v0.9h-0.9zM363.1 231.1h0.9v0.9h-0.9zM365.7 235.7h0.9v0.9h-0.9zM365.9 233.2h0.9v0.9h-0.9zM371.1 231.4h0.9v0.9h-0.9zM362.0 237.7h0.9v0.9h-0.9zM362.7 246.9h0.9v0.9h-0.9zM371.2 236.2h0.9v0.9h-0.9zM364.8 238.4h0.9v0.9h-0.9zM362.3 243.6h0.9v0.9h-0.9zM357.8 244.1h0.9v0.9h-0.9zM351.5 245.3h0.9v0.9h-0.9zM363.9 234.2h0.9v0.9h-0.9zM361.7 241.2h0.9v0.9h-0.9zM358.3 242.4h0.9v0.9h-0.9zM368.3 238.3h0.9v0.9h-0.9zM364.6 234.3h0.9v0.9h-0.9zM361.8 229.7h0.9v0.9h-0.9zM369.9 236.2h0.9v0.9h-0.9zM356.2 239.8h0.9v0.9h-0.9z" fill="#3a4eb0" opacity="0.45"/>
<path d="M360,227 L373,222 L374,230 L362,229.5Z" fill="#3a58b8" opacity="0.7" filter="url(#bl05)"/>
<path d="M371.65,225.99 L391.20,220.01 L381.31,239.33Z" fill="#4a60c0" stroke="#4a60c0" stroke-width="4" stroke-linejoin="round" opacity="0.55" filter="url(#bl1)"/>
<g filter="url(#bl05)"><path d="M373.00,226.20 L390.00,221.00 L381.40,237.80Z" fill="#22389a" stroke="#22389a" stroke-width="3.50" stroke-linejoin="round"/><path d="M374.98,226.51 L388.24,222.45 L381.53,235.56Z" fill="#3462c0" stroke="#3462c0" stroke-width="2.73" stroke-linejoin="round"/><ellipse cx="382.00" cy="227.60" rx="4.20" ry="4.60" fill="#52acdc" transform="rotate(-20 382.00 227.60)"/><ellipse cx="382.00" cy="227.60" rx="3.20" ry="3.50" fill="#86c852" transform="rotate(-20 382.00 227.60)"/><ellipse cx="382.00" cy="227.60" rx="2.20" ry="2.40" fill="#eedc36" transform="rotate(-20 382.00 227.60)"/><ellipse cx="382.00" cy="227.60" rx="1.20" ry="1.30" fill="#e07a22" transform="rotate(-20 382.00 227.60)"/><ellipse cx="382.00" cy="227.60" rx="0.60" ry="0.70" fill="#b81a12" transform="rotate(-20 382.00 227.60)"/></g>
</g>
<rect x="343.5" y="211.9" width="54.3" height="54.1" fill="none" stroke="#7a7a7a" stroke-width="0.8"/>
<path d="M350.3 266.0v-1.2M343.5 218.7h1.2M357.1 266.0v-1.2M343.5 225.4h1.2M363.9 266.0v-1.2M343.5 232.2h1.2M370.6 266.0v-1.2M343.5 239.0h1.2M377.4 266.0v-1.2M343.5 245.7h1.2M384.2 266.0v-1.2M343.5 252.5h1.2M391.0 266.0v-1.2M343.5 259.2h1.2" stroke="#7a7a7a" stroke-width="0.5"/>
<text x="346.10" y="220.10" font-size="7.3" font-weight="bold" fill="#000" textLength="9" lengthAdjust="spacingAndGlyphs" style="stroke-width:0.35px">1%</text>
<text x="396.40" y="220.10" font-size="7.3" font-weight="bold" fill="#000" text-anchor="end" textLength="14.8" lengthAdjust="spacingAndGlyphs" style="stroke-width:0.35px">98%</text>
<clipPath id="c7"><rect x="404.2" y="211.9" width="54.3" height="54.1"/></clipPath>
<g clip-path="url(#c7)">
<line x1="434.30" y1="211.90" x2="434.30" y2="266.00" stroke="#a8a8a8" stroke-width="0.6"/>
<line x1="404.20" y1="241.30" x2="458.50" y2="241.30" stroke="#a8a8a8" stroke-width="0.6"/>
<path d="M433.5 229.5h0.9v0.9h-0.9zM428.6 234.7h0.9v0.9h-0.9zM416.1 226.0h0.9v0.9h-0.9zM422.4 233.3h0.9v0.9h-0.9zM421.3 230.9h0.9v0.9h-0.9zM426.4 227.3h0.9v0.9h-0.9zM429.4 234.8h0.9v0.9h-0.9zM413.7 228.4h0.9v0.9h-0.9zM419.8 228.9h0.9v0.9h-0.9zM421.2 235.6h0.9v0.9h-0.9zM411.7 233.4h0.9v0.9h-0.9zM419.7 228.6h0.9v0.9h-0.9zM411.0 223.6h0.9v0.9h-0.9zM424.2 236.8h0.9v0.9h-0.9zM415.8 234.4h0.9v0.9h-0.9zM413.0 233.6h0.9v0.9h-0.9zM420.8 229.9h0.9v0.9h-0.9zM411.2 229.7h0.9v0.9h-0.9zM419.8 236.7h0.9v0.9h-0.9zM428.8 232.7h0.9v0.9h-0.9zM418.0 232.5h0.9v0.9h-0.9zM430.1 236.2h0.9v0.9h-0.9zM431.5 238.2h0.9v0.9h-0.9zM421.4 227.7h0.9v0.9h-0.9zM434.5 237.8h0.9v0.9h-0.9zM431.1 231.0h0.9v0.9h-0.9zM424.5 230.0h0.9v0.9h-0.9zM420.6 231.5h0.9v0.9h-0.9zM426.7 226.6h0.9v0.9h-0.9zM427.6 231.7h0.9v0.9h-0.9zM421.8 232.5h0.9v0.9h-0.9zM420.4 232.6h0.9v0.9h-0.9zM435.7 229.0h0.9v0.9h-0.9zM430.3 228.6h0.9v0.9h-0.9zM421.6 232.4h0.9v0.9h-0.9zM418.6 235.7h0.9v0.9h-0.9zM410.9 231.2h0.9v0.9h-0.9zM423.5 231.7h0.9v0.9h-0.9zM421.8 227.4h0.9v0.9h-0.9zM424.0 236.7h0.9v0.9h-0.9zM428.6 230.4h0.9v0.9h-0.9zM412.7 228.2h0.9v0.9h-0.9zM429.8 228.8h0.9v0.9h-0.9zM421.2 240.6h0.9v0.9h-0.9zM403.5 236.0h0.9v0.9h-0.9zM403.3 227.0h0.9v0.9h-0.9zM446.0 234.5h0.9v0.9h-0.9zM428.3 234.2h0.9v0.9h-0.9zM430.8 228.6h0.9v0.9h-0.9zM411.7 228.6h0.9v0.9h-0.9zM426.3 232.9h0.9v0.9h-0.9zM432.0 230.5h0.9v0.9h-0.9zM429.4 230.8h0.9v0.9h-0.9zM413.7 229.6h0.9v0.9h-0.9zM426.1 230.6h0.9v0.9h-0.9zM418.6 231.3h0.9v0.9h-0.9zM434.7 227.7h0.9v0.9h-0.9zM402.2 232.5h0.9v0.9h-0.9zM403.6 238.2h0.9v0.9h-0.9zM417.4 231.6h0.9v0.9h-0.9zM421.0 231.8h0.9v0.9h-0.9zM425.5 235.6h0.9v0.9h-0.9zM413.6 229.9h0.9v0.9h-0.9zM419.1 230.3h0.9v0.9h-0.9zM427.6 223.0h0.9v0.9h-0.9zM404.6 232.1h0.9v0.9h-0.9zM426.5 233.1h0.9v0.9h-0.9zM431.4 236.9h0.9v0.9h-0.9zM414.8 230.2h0.9v0.9h-0.9zM425.2 233.3h0.9v0.9h-0.9zM427.1 232.1h0.9v0.9h-0.9zM415.0 240.8h0.9v0.9h-0.9zM423.0 232.8h0.9v0.9h-0.9zM414.8 232.9h0.9v0.9h-0.9zM420.2 235.7h0.9v0.9h-0.9zM430.8 228.4h0.9v0.9h-0.9zM423.7 231.5h0.9v0.9h-0.9zM426.0 236.7h0.9v0.9h-0.9zM417.3 242.4h0.9v0.9h-0.9zM415.7 225.9h0.9v0.9h-0.9zM429.0 225.8h0.9v0.9h-0.9zM434.4 232.1h0.9v0.9h-0.9zM420.3 234.5h0.9v0.9h-0.9zM424.3 228.1h0.9v0.9h-0.9zM420.2 239.2h0.9v0.9h-0.9zM425.0 232.5h0.9v0.9h-0.9zM415.2 240.1h0.9v0.9h-0.9zM428.7 229.8h0.9v0.9h-0.9zM423.2 229.0h0.9v0.9h-0.9zM434.8 234.4h0.9v0.9h-0.9zM417.5 230.1h0.9v0.9h-0.9zM419.6 232.1h0.9v0.9h-0.9zM442.4 229.1h0.9v0.9h-0.9zM426.6 229.6h0.9v0.9h-0.9zM421.7 233.0h0.9v0.9h-0.9zM432.7 226.2h0.9v0.9h-0.9zM417.8 230.7h0.9v0.9h-0.9zM415.5 237.8h0.9v0.9h-0.9zM429.8 235.5h0.9v0.9h-0.9zM426.9 226.5h0.9v0.9h-0.9zM431.4 230.4h0.9v0.9h-0.9zM417.7 228.2h0.9v0.9h-0.9zM413.4 229.9h0.9v0.9h-0.9zM425.1 236.0h0.9v0.9h-0.9zM417.9 234.5h0.9v0.9h-0.9zM426.6 234.2h0.9v0.9h-0.9zM423.2 226.0h0.9v0.9h-0.9zM433.5 233.5h0.9v0.9h-0.9zM413.2 232.0h0.9v0.9h-0.9zM422.1 240.7h0.9v0.9h-0.9zM436.9 231.2h0.9v0.9h-0.9zM421.9 234.4h0.9v0.9h-0.9zM426.0 234.0h0.9v0.9h-0.9zM421.3 227.3h0.9v0.9h-0.9zM406.4 226.6h0.9v0.9h-0.9zM409.4 232.1h0.9v0.9h-0.9zM429.2 237.9h0.9v0.9h-0.9zM426.1 240.0h0.9v0.9h-0.9zM437.8 230.1h0.9v0.9h-0.9zM418.8 232.6h0.9v0.9h-0.9zM419.2 229.9h0.9v0.9h-0.9zM423.8 233.4h0.9v0.9h-0.9zM406.7 232.6h0.9v0.9h-0.9zM423.9 234.5h0.9v0.9h-0.9zM415.4 234.0h0.9v0.9h-0.9zM414.8 228.1h0.9v0.9h-0.9zM416.2 232.4h0.9v0.9h-0.9zM421.0 236.4h0.9v0.9h-0.9zM427.5 230.3h0.9v0.9h-0.9zM432.6 237.7h0.9v0.9h-0.9zM425.1 238.9h0.9v0.9h-0.9zM426.5 233.0h0.9v0.9h-0.9zM415.5 236.1h0.9v0.9h-0.9zM432.6 232.2h0.9v0.9h-0.9zM433.1 239.5h0.9v0.9h-0.9zM438.7 227.2h0.9v0.9h-0.9zM422.0 237.0h0.9v0.9h-0.9zM431.9 235.6h0.9v0.9h-0.9zM410.8 235.3h0.9v0.9h-0.9zM428.7 229.0h0.9v0.9h-0.9zM437.8 234.1h0.9v0.9h-0.9zM433.6 237.8h0.9v0.9h-0.9zM422.1 233.2h0.9v0.9h-0.9zM424.4 236.1h0.9v0.9h-0.9zM432.3 227.1h0.9v0.9h-0.9zM417.8 227.9h0.9v0.9h-0.9zM426.2 226.9h0.9v0.9h-0.9zM416.4 237.5h0.9v0.9h-0.9zM417.2 234.4h0.9v0.9h-0.9zM406.2 235.7h0.9v0.9h-0.9zM412.8 238.0h0.9v0.9h-0.9zM426.6 233.9h0.9v0.9h-0.9zM416.8 233.7h0.9v0.9h-0.9zM420.5 235.7h0.9v0.9h-0.9zM420.7 230.8h0.9v0.9h-0.9zM417.7 230.7h0.9v0.9h-0.9zM431.4 230.3h0.9v0.9h-0.9zM426.8 220.8h0.9v0.9h-0.9zM432.1 225.8h0.9v0.9h-0.9zM407.8 232.9h0.9v0.9h-0.9zM408.2 239.0h0.9v0.9h-0.9zM423.5 231.1h0.9v0.9h-0.9zM430.3 230.5h0.9v0.9h-0.9zM425.0 232.5h0.9v0.9h-0.9zM441.7 233.7h0.9v0.9h-0.9zM420.4 232.6h0.9v0.9h-0.9zM409.7 237.7h0.9v0.9h-0.9zM414.3 230.2h0.9v0.9h-0.9zM423.3 233.1h0.9v0.9h-0.9zM417.3 229.2h0.9v0.9h-0.9zM417.7 221.7h0.9v0.9h-0.9zM419.0 234.4h0.9v0.9h-0.9zM432.7 228.1h0.9v0.9h-0.9zM415.7 235.7h0.9v0.9h-0.9zM421.0 236.9h0.9v0.9h-0.9zM417.4 233.5h0.9v0.9h-0.9zM423.3 232.3h0.9v0.9h-0.9zM430.8 231.7h0.9v0.9h-0.9zM423.2 231.1h0.9v0.9h-0.9zM437.6 233.3h0.9v0.9h-0.9zM423.4 225.9h0.9v0.9h-0.9zM428.8 228.8h0.9v0.9h-0.9zM410.9 232.2h0.9v0.9h-0.9zM417.6 231.8h0.9v0.9h-0.9zM426.0 230.4h0.9v0.9h-0.9zM418.5 231.2h0.9v0.9h-0.9zM445.7 227.0h0.9v0.9h-0.9zM414.9 229.0h0.9v0.9h-0.9zM414.4 230.8h0.9v0.9h-0.9zM417.3 233.2h0.9v0.9h-0.9zM425.4 235.2h0.9v0.9h-0.9zM424.8 232.7h0.9v0.9h-0.9zM426.7 220.8h0.9v0.9h-0.9zM424.8 230.2h0.9v0.9h-0.9zM417.7 232.1h0.9v0.9h-0.9zM418.9 234.5h0.9v0.9h-0.9zM428.0 226.1h0.9v0.9h-0.9zM430.7 225.1h0.9v0.9h-0.9zM429.0 238.9h0.9v0.9h-0.9zM434.8 226.8h0.9v0.9h-0.9zM437.8 238.2h0.9v0.9h-0.9zM427.1 232.5h0.9v0.9h-0.9zM440.6 232.6h0.9v0.9h-0.9zM412.0 232.0h0.9v0.9h-0.9zM425.3 234.6h0.9v0.9h-0.9zM441.3 233.8h0.9v0.9h-0.9zM434.2 225.9h0.9v0.9h-0.9zM417.6 232.8h0.9v0.9h-0.9zM428.8 240.6h0.9v0.9h-0.9zM437.6 226.5h0.9v0.9h-0.9zM432.1 228.5h0.9v0.9h-0.9zM421.5 232.3h0.9v0.9h-0.9zM424.6 232.7h0.9v0.9h-0.9zM420.6 235.4h0.9v0.9h-0.9zM422.1 231.2h0.9v0.9h-0.9zM419.5 232.5h0.9v0.9h-0.9zM417.6 228.6h0.9v0.9h-0.9zM431.8 233.4h0.9v0.9h-0.9zM428.2 232.2h0.9v0.9h-0.9zM417.1 226.9h0.9v0.9h-0.9zM433.9 231.4h0.9v0.9h-0.9zM429.5 232.0h0.9v0.9h-0.9zM432.0 227.3h0.9v0.9h-0.9zM432.7 223.1h0.9v0.9h-0.9zM427.3 236.9h0.9v0.9h-0.9zM428.0 232.8h0.9v0.9h-0.9zM418.9 236.0h0.9v0.9h-0.9zM425.8 234.7h0.9v0.9h-0.9zM430.2 230.7h0.9v0.9h-0.9zM420.5 235.1h0.9v0.9h-0.9zM430.6 232.5h0.9v0.9h-0.9zM429.4 229.3h0.9v0.9h-0.9zM425.7 234.9h0.9v0.9h-0.9zM426.8 222.1h0.9v0.9h-0.9zM427.8 229.9h0.9v0.9h-0.9zM423.0 232.7h0.9v0.9h-0.9zM437.4 223.3h0.9v0.9h-0.9zM417.8 239.5h0.9v0.9h-0.9zM420.5 239.1h0.9v0.9h-0.9zM436.8 227.9h0.9v0.9h-0.9zM423.2 235.4h0.9v0.9h-0.9zM438.9 231.1h0.9v0.9h-0.9zM427.4 230.4h0.9v0.9h-0.9zM442.9 224.2h0.9v0.9h-0.9zM427.5 235.2h0.9v0.9h-0.9zM428.1 230.2h0.9v0.9h-0.9zM429.1 229.3h0.9v0.9h-0.9zM417.6 240.3h0.9v0.9h-0.9zM440.6 228.1h0.9v0.9h-0.9zM424.9 237.3h0.9v0.9h-0.9zM424.8 230.6h0.9v0.9h-0.9zM423.5 225.1h0.9v0.9h-0.9zM426.4 228.5h0.9v0.9h-0.9zM422.3 226.1h0.9v0.9h-0.9zM424.0 230.2h0.9v0.9h-0.9zM420.3 234.9h0.9v0.9h-0.9zM404.6 232.0h0.9v0.9h-0.9zM407.0 226.6h0.9v0.9h-0.9zM437.6 232.0h0.9v0.9h-0.9zM429.2 224.2h0.9v0.9h-0.9zM413.6 234.5h0.9v0.9h-0.9zM427.1 235.5h0.9v0.9h-0.9zM426.1 233.0h0.9v0.9h-0.9zM428.3 231.2h0.9v0.9h-0.9zM413.0 235.8h0.9v0.9h-0.9zM420.8 231.4h0.9v0.9h-0.9zM422.9 234.3h0.9v0.9h-0.9zM421.8 226.9h0.9v0.9h-0.9zM425.7 235.8h0.9v0.9h-0.9zM421.1 237.2h0.9v0.9h-0.9zM423.5 233.1h0.9v0.9h-0.9zM440.0 235.4h0.9v0.9h-0.9zM455.8 227.1h0.9v0.9h-0.9zM425.8 234.8h0.9v0.9h-0.9zM422.0 228.5h0.9v0.9h-0.9zM428.3 230.9h0.9v0.9h-0.9zM422.3 229.9h0.9v0.9h-0.9zM427.6 231.3h0.9v0.9h-0.9zM423.7 229.1h0.9v0.9h-0.9zM419.6 226.8h0.9v0.9h-0.9zM427.1 230.8h0.9v0.9h-0.9zM419.5 231.9h0.9v0.9h-0.9zM428.4 233.5h0.9v0.9h-0.9zM423.0 234.7h0.9v0.9h-0.9zM431.4 223.8h0.9v0.9h-0.9zM415.5 234.7h0.9v0.9h-0.9zM426.3 234.0h0.9v0.9h-0.9zM433.6 227.1h0.9v0.9h-0.9zM426.8 235.9h0.9v0.9h-0.9zM416.3 238.3h0.9v0.9h-0.9zM407.6 231.2h0.9v0.9h-0.9zM444.1 229.4h0.9v0.9h-0.9zM425.6 233.0h0.9v0.9h-0.9zM422.1 234.9h0.9v0.9h-0.9zM424.6 228.9h0.9v0.9h-0.9zM445.7 233.2h0.9v0.9h-0.9zM417.2 224.2h0.9v0.9h-0.9zM421.1 233.7h0.9v0.9h-0.9zM412.3 230.1h0.9v0.9h-0.9zM423.7 231.7h0.9v0.9h-0.9zM436.1 224.7h0.9v0.9h-0.9zM416.6 240.1h0.9v0.9h-0.9zM411.1 232.7h0.9v0.9h-0.9zM427.4 235.5h0.9v0.9h-0.9zM417.5 234.4h0.9v0.9h-0.9zM435.8 230.8h0.9v0.9h-0.9zM430.1 227.9h0.9v0.9h-0.9zM431.7 230.4h0.9v0.9h-0.9zM421.0 231.3h0.9v0.9h-0.9zM411.8 226.3h0.9v0.9h-0.9zM426.3 231.6h0.9v0.9h-0.9zM422.6 225.6h0.9v0.9h-0.9zM425.9 229.9h0.9v0.9h-0.9zM412.4 236.4h0.9v0.9h-0.9zM443.4 231.1h0.9v0.9h-0.9zM417.5 222.7h0.9v0.9h-0.9zM433.1 232.1h0.9v0.9h-0.9zM432.8 239.4h0.9v0.9h-0.9zM419.7 232.4h0.9v0.9h-0.9zM437.6 227.0h0.9v0.9h-0.9zM433.7 231.2h0.9v0.9h-0.9zM419.6 232.2h0.9v0.9h-0.9zM429.8 231.1h0.9v0.9h-0.9zM426.4 234.1h0.9v0.9h-0.9zM430.5 229.7h0.9v0.9h-0.9zM425.2 223.1h0.9v0.9h-0.9zM413.8 228.7h0.9v0.9h-0.9zM420.2 230.5h0.9v0.9h-0.9zM415.4 234.0h0.9v0.9h-0.9zM433.0 237.0h0.9v0.9h-0.9zM425.5 233.5h0.9v0.9h-0.9zM431.3 237.8h0.9v0.9h-0.9zM420.8 234.6h0.9v0.9h-0.9zM413.3 227.9h0.9v0.9h-0.9zM414.2 234.6h0.9v0.9h-0.9zM422.8 231.9h0.9v0.9h-0.9zM416.8 231.6h0.9v0.9h-0.9zM439.4 224.4h0.9v0.9h-0.9zM414.4 235.8h0.9v0.9h-0.9zM416.0 232.1h0.9v0.9h-0.9zM425.1 225.2h0.9v0.9h-0.9zM421.0 231.4h0.9v0.9h-0.9zM427.3 233.8h0.9v0.9h-0.9zM424.2 231.4h0.9v0.9h-0.9zM423.3 231.9h0.9v0.9h-0.9zM430.5 228.3h0.9v0.9h-0.9zM399.8 234.7h0.9v0.9h-0.9zM425.0 241.2h0.9v0.9h-0.9zM415.1 234.1h0.9v0.9h-0.9zM430.0 227.7h0.9v0.9h-0.9zM422.7 227.6h0.9v0.9h-0.9zM428.8 231.2h0.9v0.9h-0.9zM427.0 233.4h0.9v0.9h-0.9zM426.8 236.1h0.9v0.9h-0.9zM430.4 230.1h0.9v0.9h-0.9zM417.8 233.5h0.9v0.9h-0.9zM410.6 229.7h0.9v0.9h-0.9zM432.5 234.5h0.9v0.9h-0.9zM442.0 229.3h0.9v0.9h-0.9zM423.2 235.0h0.9v0.9h-0.9zM434.5 226.2h0.9v0.9h-0.9zM433.0 232.0h0.9v0.9h-0.9zM439.1 231.3h0.9v0.9h-0.9zM420.3 229.5h0.9v0.9h-0.9zM421.0 229.8h0.9v0.9h-0.9zM409.3 233.0h0.9v0.9h-0.9zM418.3 236.7h0.9v0.9h-0.9zM430.8 229.1h0.9v0.9h-0.9zM422.3 233.5h0.9v0.9h-0.9zM434.7 235.4h0.9v0.9h-0.9zM431.6 231.3h0.9v0.9h-0.9zM430.3 226.8h0.9v0.9h-0.9zM428.8 231.1h0.9v0.9h-0.9zM421.9 231.2h0.9v0.9h-0.9zM418.0 230.4h0.9v0.9h-0.9zM435.6 228.9h0.9v0.9h-0.9zM413.2 234.3h0.9v0.9h-0.9zM420.6 229.5h0.9v0.9h-0.9zM435.6 230.7h0.9v0.9h-0.9zM429.0 232.3h0.9v0.9h-0.9zM438.6 233.7h0.9v0.9h-0.9zM412.4 239.0h0.9v0.9h-0.9zM420.1 230.4h0.9v0.9h-0.9zM430.9 230.9h0.9v0.9h-0.9zM421.1 230.3h0.9v0.9h-0.9zM421.9 236.2h0.9v0.9h-0.9zM427.4 236.7h0.9v0.9h-0.9zM440.2 233.9h0.9v0.9h-0.9zM417.4 232.5h0.9v0.9h-0.9zM427.8 226.4h0.9v0.9h-0.9zM423.3 227.4h0.9v0.9h-0.9zM433.9 224.2h0.9v0.9h-0.9zM421.4 232.8h0.9v0.9h-0.9zM425.8 227.9h0.9v0.9h-0.9zM430.4 231.1h0.9v0.9h-0.9zM436.6 231.5h0.9v0.9h-0.9zM431.0 224.9h0.9v0.9h-0.9zM426.0 231.9h0.9v0.9h-0.9zM415.4 223.3h0.9v0.9h-0.9zM430.6 236.2h0.9v0.9h-0.9zM419.4 235.2h0.9v0.9h-0.9zM429.6 229.1h0.9v0.9h-0.9zM419.4 242.7h0.9v0.9h-0.9zM429.7 233.0h0.9v0.9h-0.9zM421.3 226.2h0.9v0.9h-0.9zM426.5 230.9h0.9v0.9h-0.9zM427.0 231.4h0.9v0.9h-0.9zM409.3 230.7h0.9v0.9h-0.9zM425.3 230.0h0.9v0.9h-0.9zM426.4 232.6h0.9v0.9h-0.9zM423.3 229.9h0.9v0.9h-0.9zM438.2 232.0h0.9v0.9h-0.9zM427.1 233.5h0.9v0.9h-0.9zM425.8 224.0h0.9v0.9h-0.9zM420.9 232.9h0.9v0.9h-0.9zM428.6 231.7h0.9v0.9h-0.9zM415.0 230.9h0.9v0.9h-0.9zM427.7 231.8h0.9v0.9h-0.9zM446.8 232.6h0.9v0.9h-0.9zM428.4 230.8h0.9v0.9h-0.9zM406.3 236.2h0.9v0.9h-0.9zM418.8 237.0h0.9v0.9h-0.9zM420.8 230.6h0.9v0.9h-0.9zM433.1 229.6h0.9v0.9h-0.9zM410.6 234.0h0.9v0.9h-0.9zM428.1 233.1h0.9v0.9h-0.9zM423.0 233.0h0.9v0.9h-0.9zM416.9 231.9h0.9v0.9h-0.9zM429.9 219.2h0.9v0.9h-0.9zM429.2 235.9h0.9v0.9h-0.9zM437.3 229.7h0.9v0.9h-0.9zM428.7 231.1h0.9v0.9h-0.9zM416.3 233.5h0.9v0.9h-0.9zM432.3 234.5h0.9v0.9h-0.9zM408.7 231.8h0.9v0.9h-0.9zM423.5 232.0h0.9v0.9h-0.9zM412.9 240.0h0.9v0.9h-0.9zM411.5 228.5h0.9v0.9h-0.9zM438.7 232.1h0.9v0.9h-0.9zM417.8 229.2h0.9v0.9h-0.9zM430.0 228.8h0.9v0.9h-0.9zM430.7 233.4h0.9v0.9h-0.9zM428.1 234.8h0.9v0.9h-0.9zM419.0 226.3h0.9v0.9h-0.9zM410.6 232.3h0.9v0.9h-0.9zM418.0 238.1h0.9v0.9h-0.9zM416.9 238.3h0.9v0.9h-0.9zM423.2 231.8h0.9v0.9h-0.9zM408.5 232.2h0.9v0.9h-0.9zM436.1 225.3h0.9v0.9h-0.9zM435.2 234.2h0.9v0.9h-0.9zM431.7 227.3h0.9v0.9h-0.9zM437.2 226.5h0.9v0.9h-0.9zM437.8 235.5h0.9v0.9h-0.9zM410.1 238.3h0.9v0.9h-0.9zM439.4 230.5h0.9v0.9h-0.9zM411.2 231.4h0.9v0.9h-0.9zM422.0 235.1h0.9v0.9h-0.9zM416.0 228.4h0.9v0.9h-0.9zM426.2 232.8h0.9v0.9h-0.9zM409.6 234.2h0.9v0.9h-0.9zM419.6 230.1h0.9v0.9h-0.9zM429.6 234.1h0.9v0.9h-0.9zM428.8 238.3h0.9v0.9h-0.9zM426.5 231.6h0.9v0.9h-0.9zM427.5 237.3h0.9v0.9h-0.9zM429.8 232.6h0.9v0.9h-0.9zM432.7 225.2h0.9v0.9h-0.9zM433.0 234.3h0.9v0.9h-0.9zM421.6 225.9h0.9v0.9h-0.9zM410.3 223.8h0.9v0.9h-0.9zM427.3 231.0h0.9v0.9h-0.9zM416.9 235.5h0.9v0.9h-0.9zM416.3 236.1h0.9v0.9h-0.9zM431.1 233.4h0.9v0.9h-0.9zM414.8 227.8h0.9v0.9h-0.9zM425.1 235.8h0.9v0.9h-0.9zM415.5 232.9h0.9v0.9h-0.9zM431.4 224.5h0.9v0.9h-0.9zM440.2 230.0h0.9v0.9h-0.9zM419.9 232.6h0.9v0.9h-0.9zM422.7 228.0h0.9v0.9h-0.9zM419.1 230.9h0.9v0.9h-0.9zM415.4 236.0h0.9v0.9h-0.9zM429.8 234.2h0.9v0.9h-0.9zM410.4 230.5h0.9v0.9h-0.9zM428.7 231.0h0.9v0.9h-0.9zM408.8 233.9h0.9v0.9h-0.9zM441.5 234.8h0.9v0.9h-0.9zM423.3 226.9h0.9v0.9h-0.9zM433.2 233.4h0.9v0.9h-0.9zM421.5 230.5h0.9v0.9h-0.9zM431.2 230.8h0.9v0.9h-0.9zM418.3 227.3h0.9v0.9h-0.9zM421.0 230.6h0.9v0.9h-0.9zM420.8 249.0h0.9v0.9h-0.9zM413.4 225.4h0.9v0.9h-0.9zM418.5 235.4h0.9v0.9h-0.9zM440.7 224.2h0.9v0.9h-0.9zM419.6 234.3h0.9v0.9h-0.9z" fill="#3a4eb0" opacity="0.5"/>
<ellipse cx="424.50" cy="231.50" rx="10.50" ry="5.20" fill="#2f4ab0" opacity="0.85" transform="rotate(-3 424.50 231.50)" filter="url(#bl1)"/>
<ellipse cx="426.00" cy="231.00" rx="6.00" ry="3.50" fill="#4060c0" opacity="0.6" transform="rotate(-3 426.00 231.00)" filter="url(#bl1)"/>
<path d="M416.5 245.8h0.9v0.9h-0.9zM418.4 247.5h0.9v0.9h-0.9zM420.9 249.2h0.9v0.9h-0.9zM413.6 247.4h0.9v0.9h-0.9zM418.3 247.5h0.9v0.9h-0.9zM417.4 246.6h0.9v0.9h-0.9zM425.5 245.0h0.9v0.9h-0.9zM415.0 242.1h0.9v0.9h-0.9zM417.7 243.5h0.9v0.9h-0.9zM425.2 240.6h0.9v0.9h-0.9zM419.5 244.3h0.9v0.9h-0.9zM420.3 241.4h0.9v0.9h-0.9zM426.7 244.0h0.9v0.9h-0.9zM416.3 243.9h0.9v0.9h-0.9zM426.0 245.8h0.9v0.9h-0.9zM426.1 245.7h0.9v0.9h-0.9zM418.1 239.9h0.9v0.9h-0.9zM415.9 244.0h0.9v0.9h-0.9zM412.1 243.4h0.9v0.9h-0.9zM416.1 247.6h0.9v0.9h-0.9zM410.3 250.8h0.9v0.9h-0.9zM423.9 242.8h0.9v0.9h-0.9zM420.7 248.9h0.9v0.9h-0.9zM423.8 243.3h0.9v0.9h-0.9zM417.5 239.9h0.9v0.9h-0.9zM421.8 246.7h0.9v0.9h-0.9zM419.9 244.2h0.9v0.9h-0.9zM416.3 244.6h0.9v0.9h-0.9zM422.8 240.5h0.9v0.9h-0.9zM423.7 243.4h0.9v0.9h-0.9zM422.8 244.2h0.9v0.9h-0.9zM422.1 244.9h0.9v0.9h-0.9zM424.1 242.1h0.9v0.9h-0.9zM419.9 240.8h0.9v0.9h-0.9zM420.7 247.4h0.9v0.9h-0.9zM419.0 247.2h0.9v0.9h-0.9zM418.1 245.3h0.9v0.9h-0.9zM426.3 245.1h0.9v0.9h-0.9zM422.4 248.2h0.9v0.9h-0.9zM423.5 247.0h0.9v0.9h-0.9z" fill="#3a4eb0" opacity="0.35"/>
<path d="M450.02,222.80 L448.73,233.16 L448.52,234.19 L448.16,235.18 L447.65,236.09 L447.01,236.92 L446.25,237.64 L445.38,238.23 L444.44,238.69 L443.43,238.99 L442.40,239.14 L441.35,239.13 L440.31,238.96 L439.32,238.63 L438.39,238.15 L437.54,237.54 L436.79,236.80 L436.17,235.96 L435.68,235.03 L435.34,234.04 L435.15,233.01 L435.13,231.96 L435.27,230.92 L435.56,229.91 L436.00,228.96 L436.59,228.09 L437.30,227.32 L438.12,226.67 L439.03,226.15 L440.01,225.77Z" fill="#4a60c0" stroke="#4a60c0" stroke-width="3.12" stroke-linejoin="round" opacity="0.55" filter="url(#bl1)"/>
<g filter="url(#bl05)"><path d="M449.20,223.50 L448.05,232.75 L447.87,233.67 L447.54,234.55 L447.09,235.36 L446.51,236.10 L445.83,236.74 L445.06,237.28 L444.22,237.68 L443.32,237.95 L442.40,238.09 L441.46,238.08 L440.54,237.92 L439.65,237.63 L438.82,237.20 L438.06,236.65 L437.39,236.00 L436.83,235.24 L436.40,234.42 L436.10,233.53 L435.93,232.61 L435.91,231.67 L436.03,230.75 L436.29,229.85 L436.69,229.00 L437.21,228.22 L437.85,227.53 L438.58,226.95 L439.39,226.49 L440.26,226.15Z" fill="#22389a" stroke="#22389a" stroke-width="2.60" stroke-linejoin="round"/><path d="M448.25,224.31 L447.26,232.27 L447.10,233.06 L446.82,233.81 L446.43,234.51 L445.94,235.15 L445.35,235.70 L444.69,236.16 L443.96,236.51 L443.19,236.74 L442.40,236.86 L441.59,236.85 L440.80,236.72 L440.03,236.46 L439.32,236.10 L438.67,235.62 L438.09,235.06 L437.61,234.41 L437.24,233.70 L436.98,232.94 L436.84,232.15 L436.82,231.34 L436.92,230.54 L437.15,229.77 L437.49,229.04 L437.94,228.37 L438.48,227.78 L439.11,227.28 L439.81,226.88 L440.56,226.59Z" fill="#3462c0" stroke="#3462c0" stroke-width="2.24" stroke-linejoin="round"/><path d="M446.89,225.47 L446.13,231.58 L446.01,232.18 L445.79,232.76 L445.49,233.30 L445.12,233.79 L444.67,234.21 L444.16,234.56 L443.60,234.83 L443.01,235.01 L442.40,235.10 L441.78,235.09 L441.17,234.99 L440.58,234.80 L440.03,234.52 L439.53,234.15 L439.09,233.72 L438.73,233.22 L438.44,232.68 L438.24,232.09 L438.13,231.48 L438.12,230.87 L438.20,230.25 L438.37,229.66 L438.63,229.10 L438.98,228.59 L439.39,228.13 L439.88,227.75 L440.41,227.44 L440.99,227.22Z" fill="#52acdc" stroke="#52acdc" stroke-width="1.72" stroke-linejoin="round"/><path d="M445.80,226.40 L445.23,231.03 L445.13,231.48 L444.97,231.92 L444.74,232.33 L444.46,232.70 L444.12,233.02 L443.73,233.29 L443.31,233.49 L442.86,233.63 L442.40,233.69 L441.93,233.69 L441.47,233.61 L441.02,233.46 L440.61,233.25 L440.23,232.98 L439.90,232.65 L439.62,232.27 L439.40,231.86 L439.25,231.42 L439.17,230.95 L439.15,230.49 L439.22,230.02 L439.35,229.57 L439.54,229.15 L439.81,228.76 L440.12,228.42 L440.49,228.13 L440.90,227.89 L441.33,227.73Z" fill="#86c852" stroke="#86c852" stroke-width="1.30" stroke-linejoin="round"/><path d="M444.85,227.21 L444.44,230.54 L444.37,230.87 L444.25,231.19 L444.09,231.48 L443.88,231.75 L443.64,231.98 L443.36,232.17 L443.05,232.32 L442.73,232.42 L442.40,232.46 L442.06,232.46 L441.73,232.40 L441.41,232.30 L441.11,232.15 L440.84,231.95 L440.60,231.71 L440.40,231.44 L440.24,231.14 L440.13,230.82 L440.07,230.49 L440.06,230.15 L440.11,229.82 L440.20,229.50 L440.34,229.19 L440.53,228.91 L440.76,228.66 L441.02,228.45 L441.32,228.29 L441.63,228.17Z" fill="#eedc36" stroke="#eedc36" stroke-width="0.94" stroke-linejoin="round"/><path d="M443.90,228.02 L443.64,230.06 L443.60,230.26 L443.53,230.45 L443.43,230.63 L443.31,230.80 L443.16,230.94 L442.99,231.05 L442.80,231.14 L442.60,231.20 L442.40,231.23 L442.19,231.23 L441.99,231.20 L441.79,231.13 L441.61,231.04 L441.44,230.92 L441.30,230.77 L441.18,230.61 L441.08,230.43 L441.01,230.23 L440.98,230.03 L440.97,229.82 L441.00,229.62 L441.06,229.42 L441.14,229.23 L441.26,229.06 L441.40,228.91 L441.56,228.78 L441.74,228.68 L441.93,228.61Z" fill="#e07a22" stroke="#e07a22" stroke-width="0.57" stroke-linejoin="round"/><path d="M443.15,228.66 L443.02,229.68 L443.00,229.78 L442.97,229.88 L442.92,229.97 L442.85,230.05 L442.78,230.12 L442.69,230.18 L442.60,230.22 L442.50,230.25 L442.40,230.27 L442.30,230.27 L442.20,230.25 L442.10,230.22 L442.01,230.17 L441.92,230.11 L441.85,230.04 L441.79,229.95 L441.74,229.86 L441.71,229.77 L441.69,229.66 L441.69,229.56 L441.70,229.46 L441.73,229.36 L441.77,229.27 L441.83,229.18 L441.90,229.11 L441.98,229.04 L442.07,228.99 L442.17,228.95Z" fill="#b81a12" stroke="#b81a12" stroke-width="0.29" stroke-linejoin="round"/></g>
</g>
<rect x="404.2" y="211.9" width="54.3" height="54.1" fill="none" stroke="#7a7a7a" stroke-width="0.8"/>
<path d="M411.0 266.0v-1.2M404.2 218.7h1.2M417.8 266.0v-1.2M404.2 225.4h1.2M424.6 266.0v-1.2M404.2 232.2h1.2M431.3 266.0v-1.2M404.2 239.0h1.2M438.1 266.0v-1.2M404.2 245.7h1.2M444.9 266.0v-1.2M404.2 252.5h1.2M451.7 266.0v-1.2M404.2 259.2h1.2" stroke="#7a7a7a" stroke-width="0.5"/>
<text x="406.80" y="220.10" font-size="7.3" font-weight="bold" fill="#000" textLength="14" lengthAdjust="spacingAndGlyphs" style="stroke-width:0.35px">10%</text>
<text x="457.10" y="220.10" font-size="7.3" font-weight="bold" fill="#000" text-anchor="end" textLength="14.8" lengthAdjust="spacingAndGlyphs" style="stroke-width:0.35px">89%</text>
<clipPath id="c8"><rect x="464.9" y="211.9" width="54.3" height="54.1"/></clipPath>
<g clip-path="url(#c8)">
<line x1="495.20" y1="211.90" x2="495.20" y2="266.00" stroke="#a8a8a8" stroke-width="0.6"/>
<line x1="464.90" y1="241.30" x2="519.20" y2="241.30" stroke="#a8a8a8" stroke-width="0.6"/>
<path d="M488.0 229.4h0.9v0.9h-0.9zM496.1 227.1h0.9v0.9h-0.9zM499.4 228.0h0.9v0.9h-0.9zM493.3 233.0h0.9v0.9h-0.9zM483.3 238.1h0.9v0.9h-0.9zM490.6 230.5h0.9v0.9h-0.9zM481.9 227.7h0.9v0.9h-0.9zM476.6 230.7h0.9v0.9h-0.9zM494.7 229.0h0.9v0.9h-0.9zM499.1 226.8h0.9v0.9h-0.9zM479.3 234.5h0.9v0.9h-0.9zM487.9 227.4h0.9v0.9h-0.9zM501.7 230.0h0.9v0.9h-0.9zM479.6 231.6h0.9v0.9h-0.9zM484.2 235.6h0.9v0.9h-0.9zM486.4 230.1h0.9v0.9h-0.9zM493.7 235.2h0.9v0.9h-0.9zM501.2 229.2h0.9v0.9h-0.9zM488.0 229.8h0.9v0.9h-0.9zM497.6 226.8h0.9v0.9h-0.9zM490.6 233.1h0.9v0.9h-0.9zM484.3 225.1h0.9v0.9h-0.9zM486.0 229.5h0.9v0.9h-0.9zM482.9 230.8h0.9v0.9h-0.9zM496.1 225.8h0.9v0.9h-0.9zM481.2 232.4h0.9v0.9h-0.9zM497.2 227.5h0.9v0.9h-0.9zM495.4 233.3h0.9v0.9h-0.9zM484.8 231.5h0.9v0.9h-0.9zM497.1 230.5h0.9v0.9h-0.9zM485.8 231.5h0.9v0.9h-0.9zM488.5 231.6h0.9v0.9h-0.9zM492.7 231.1h0.9v0.9h-0.9zM485.9 231.9h0.9v0.9h-0.9zM492.6 230.1h0.9v0.9h-0.9zM502.5 227.5h0.9v0.9h-0.9zM473.6 237.5h0.9v0.9h-0.9zM486.9 232.7h0.9v0.9h-0.9zM488.9 234.1h0.9v0.9h-0.9zM486.5 233.4h0.9v0.9h-0.9zM502.6 230.7h0.9v0.9h-0.9zM484.8 237.1h0.9v0.9h-0.9zM498.9 229.5h0.9v0.9h-0.9zM479.5 233.7h0.9v0.9h-0.9zM489.9 232.5h0.9v0.9h-0.9zM492.2 235.3h0.9v0.9h-0.9zM491.5 229.7h0.9v0.9h-0.9zM487.4 232.5h0.9v0.9h-0.9zM493.6 226.8h0.9v0.9h-0.9zM483.0 235.1h0.9v0.9h-0.9zM489.1 234.4h0.9v0.9h-0.9zM488.6 229.4h0.9v0.9h-0.9zM494.0 231.2h0.9v0.9h-0.9zM512.0 231.9h0.9v0.9h-0.9zM489.8 231.9h0.9v0.9h-0.9zM494.7 231.8h0.9v0.9h-0.9zM496.0 229.9h0.9v0.9h-0.9zM486.5 227.1h0.9v0.9h-0.9zM488.3 234.5h0.9v0.9h-0.9zM491.9 231.7h0.9v0.9h-0.9zM479.0 226.9h0.9v0.9h-0.9zM494.5 228.0h0.9v0.9h-0.9zM484.8 226.1h0.9v0.9h-0.9zM502.2 233.1h0.9v0.9h-0.9zM476.2 231.9h0.9v0.9h-0.9zM488.6 232.6h0.9v0.9h-0.9zM496.9 229.7h0.9v0.9h-0.9zM489.6 232.8h0.9v0.9h-0.9zM476.8 233.0h0.9v0.9h-0.9zM490.1 231.9h0.9v0.9h-0.9zM481.9 230.5h0.9v0.9h-0.9zM481.0 232.2h0.9v0.9h-0.9zM483.3 239.5h0.9v0.9h-0.9zM485.8 235.5h0.9v0.9h-0.9zM485.1 230.7h0.9v0.9h-0.9zM496.9 229.0h0.9v0.9h-0.9zM507.2 229.4h0.9v0.9h-0.9zM477.3 237.3h0.9v0.9h-0.9zM468.1 233.9h0.9v0.9h-0.9zM483.6 232.2h0.9v0.9h-0.9zM483.6 230.8h0.9v0.9h-0.9zM487.4 233.7h0.9v0.9h-0.9zM482.7 231.2h0.9v0.9h-0.9zM508.7 233.8h0.9v0.9h-0.9zM499.1 229.5h0.9v0.9h-0.9zM485.6 232.1h0.9v0.9h-0.9zM480.3 236.1h0.9v0.9h-0.9zM483.1 225.8h0.9v0.9h-0.9zM498.9 233.9h0.9v0.9h-0.9zM497.4 231.6h0.9v0.9h-0.9zM494.6 234.8h0.9v0.9h-0.9zM499.7 224.7h0.9v0.9h-0.9zM494.5 230.0h0.9v0.9h-0.9zM502.6 228.0h0.9v0.9h-0.9zM486.3 226.8h0.9v0.9h-0.9zM490.7 231.9h0.9v0.9h-0.9zM501.1 228.5h0.9v0.9h-0.9zM498.6 235.9h0.9v0.9h-0.9zM481.5 235.7h0.9v0.9h-0.9zM489.0 226.2h0.9v0.9h-0.9zM483.8 232.3h0.9v0.9h-0.9zM481.7 234.5h0.9v0.9h-0.9zM484.5 235.2h0.9v0.9h-0.9zM487.9 235.1h0.9v0.9h-0.9zM499.4 232.2h0.9v0.9h-0.9zM500.9 237.7h0.9v0.9h-0.9zM496.9 224.9h0.9v0.9h-0.9zM487.2 234.4h0.9v0.9h-0.9zM497.9 228.0h0.9v0.9h-0.9zM494.2 230.6h0.9v0.9h-0.9zM487.9 230.1h0.9v0.9h-0.9zM491.1 234.6h0.9v0.9h-0.9zM477.2 236.6h0.9v0.9h-0.9zM491.1 226.1h0.9v0.9h-0.9zM492.4 230.2h0.9v0.9h-0.9zM483.1 234.0h0.9v0.9h-0.9zM488.6 234.9h0.9v0.9h-0.9zM501.2 230.5h0.9v0.9h-0.9zM493.0 227.7h0.9v0.9h-0.9zM490.6 234.5h0.9v0.9h-0.9z" fill="#3a4eb0" opacity="0.4"/>
<path d="M480.54,228.60 L510.90,220.78 L507.91,243.55Z" fill="#4a60c0" stroke="#4a60c0" stroke-width="4" stroke-linejoin="round" opacity="0.55" filter="url(#bl1)"/>
<g filter="url(#bl05)"><path d="M483.00,228.60 L509.40,221.80 L506.80,241.60Z" fill="#22389a" stroke="#22389a" stroke-width="3.50" stroke-linejoin="round"/><path d="M487.26,228.60 L506.80,223.57 L504.88,238.22Z" fill="#3462c0" stroke="#3462c0" stroke-width="2.59" stroke-linejoin="round"/><path d="M491.20,228.60 L504.40,225.20 L503.10,235.10Z" fill="#52acdc" stroke="#52acdc" stroke-width="1.75" stroke-linejoin="round"/><ellipse cx="499.40" cy="228.60" rx="4.40" ry="2.90" fill="#86c852" transform="rotate(-8 499.40 228.60)"/><ellipse cx="499.40" cy="228.60" rx="3.00" ry="2.00" fill="#eedc36" transform="rotate(-8 499.40 228.60)"/><ellipse cx="499.40" cy="228.60" rx="1.50" ry="1.10" fill="#e07a22" transform="rotate(-8 499.40 228.60)"/><ellipse cx="499.40" cy="228.60" rx="0.80" ry="0.60" fill="#b81a12" transform="rotate(-8 499.40 228.60)"/></g>
</g>
<rect x="464.9" y="211.9" width="54.3" height="54.1" fill="none" stroke="#7a7a7a" stroke-width="0.8"/>
<path d="M471.7 266.0v-1.2M464.9 218.7h1.2M478.5 266.0v-1.2M464.9 225.4h1.2M485.3 266.0v-1.2M464.9 232.2h1.2M492.0 266.0v-1.2M464.9 239.0h1.2M498.8 266.0v-1.2M464.9 245.7h1.2M505.6 266.0v-1.2M464.9 252.5h1.2M512.4 266.0v-1.2M464.9 259.2h1.2" stroke="#7a7a7a" stroke-width="0.5"/>
<text x="467.50" y="220.10" font-size="7.3" font-weight="bold" fill="#000" textLength="10" lengthAdjust="spacingAndGlyphs" style="stroke-width:0.35px">3%</text>
<text x="517.80" y="220.10" font-size="7.3" font-weight="bold" fill="#000" text-anchor="end" textLength="14.8" lengthAdjust="spacingAndGlyphs" style="stroke-width:0.35px">96%</text>
<rect x="404.30" y="212.20" width="30.30" height="29.70" fill="none" stroke="#a82a36" stroke-width="1.1"/>
<path d="M424.8,242.3 L458.5,272.6" stroke="#a82a34" stroke-width="0.9"/>
<path d="M463.3,277.0 L455.7,273.5 L459.1,269.8Z" fill="#b0202c"/>
<path d="M275.3,251.5 L275.3,273.3 L296.5,273.3" stroke="#000" stroke-width="1.45" fill="none"/>
<path d="M275.3,248.0 L272.8,253.6 L277.8,253.6Z" fill="#000"/>
<path d="M300.8,273.3 L295.2,270.8 L295.2,275.8Z" fill="#000"/>
<text x="277.80" y="234.30" font-size="8.4" font-weight="normal" fill="#000" text-anchor="middle" textLength="19.2" lengthAdjust="spacingAndGlyphs" transform="rotate(-90 277.80 234.30)" style="stroke-width:0.35px">c-Kit</text>
<text x="303.90" y="277.40" font-size="10.4" font-weight="normal" fill="#000" textLength="24.4" lengthAdjust="spacingAndGlyphs" style="stroke-width:0.25px">FcεR1</text>
<clipPath id="c9"><rect x="465.2" y="272.8" width="54.3" height="54.7"/></clipPath>
<g clip-path="url(#c9)">
<rect x="482.70" y="276.50" width="37.00" height="27.30" fill="none" stroke="#a0a0a0" stroke-width="0.6"/>
<path d="M491.8 286.2h0.9v0.9h-0.9zM478.3 294.0h0.9v0.9h-0.9zM493.7 295.8h0.9v0.9h-0.9zM493.1 284.9h0.9v0.9h-0.9zM462.1 294.8h0.9v0.9h-0.9zM464.8 285.3h0.9v0.9h-0.9zM472.8 292.1h0.9v0.9h-0.9zM477.3 301.0h0.9v0.9h-0.9zM468.5 290.9h0.9v0.9h-0.9zM464.0 294.6h0.9v0.9h-0.9zM484.9 299.1h0.9v0.9h-0.9zM457.7 296.4h0.9v0.9h-0.9zM473.8 291.7h0.9v0.9h-0.9zM466.7 291.7h0.9v0.9h-0.9zM478.7 297.3h0.9v0.9h-0.9zM482.8 290.4h0.9v0.9h-0.9zM476.3 290.1h0.9v0.9h-0.9zM483.5 294.4h0.9v0.9h-0.9zM465.4 298.9h0.9v0.9h-0.9zM490.2 286.3h0.9v0.9h-0.9zM491.0 296.5h0.9v0.9h-0.9zM475.5 283.8h0.9v0.9h-0.9zM465.7 289.7h0.9v0.9h-0.9zM482.7 293.6h0.9v0.9h-0.9zM477.8 294.7h0.9v0.9h-0.9zM479.9 292.6h0.9v0.9h-0.9zM487.0 283.9h0.9v0.9h-0.9zM468.5 292.3h0.9v0.9h-0.9zM469.0 300.1h0.9v0.9h-0.9zM472.5 285.4h0.9v0.9h-0.9zM471.7 291.9h0.9v0.9h-0.9zM469.4 291.0h0.9v0.9h-0.9zM471.9 297.3h0.9v0.9h-0.9zM474.9 295.6h0.9v0.9h-0.9zM475.5 299.7h0.9v0.9h-0.9zM476.6 295.5h0.9v0.9h-0.9zM485.2 300.3h0.9v0.9h-0.9zM486.3 290.7h0.9v0.9h-0.9zM465.4 306.5h0.9v0.9h-0.9zM464.9 290.9h0.9v0.9h-0.9zM464.6 295.4h0.9v0.9h-0.9zM476.0 283.4h0.9v0.9h-0.9zM485.4 291.8h0.9v0.9h-0.9zM485.6 298.7h0.9v0.9h-0.9zM476.5 298.9h0.9v0.9h-0.9zM469.9 294.3h0.9v0.9h-0.9zM474.8 294.8h0.9v0.9h-0.9zM480.8 295.0h0.9v0.9h-0.9zM472.8 297.2h0.9v0.9h-0.9zM473.4 298.0h0.9v0.9h-0.9zM469.4 288.8h0.9v0.9h-0.9zM494.7 288.2h0.9v0.9h-0.9zM482.9 301.7h0.9v0.9h-0.9zM482.2 296.2h0.9v0.9h-0.9zM475.5 293.9h0.9v0.9h-0.9zM469.6 296.6h0.9v0.9h-0.9zM482.1 288.1h0.9v0.9h-0.9zM459.1 308.3h0.9v0.9h-0.9zM475.0 289.3h0.9v0.9h-0.9zM467.9 297.8h0.9v0.9h-0.9zM486.9 290.0h0.9v0.9h-0.9zM473.6 296.8h0.9v0.9h-0.9zM472.4 295.7h0.9v0.9h-0.9zM479.6 297.5h0.9v0.9h-0.9zM484.6 294.8h0.9v0.9h-0.9zM471.5 288.1h0.9v0.9h-0.9zM475.8 289.7h0.9v0.9h-0.9zM472.9 293.2h0.9v0.9h-0.9zM475.6 298.4h0.9v0.9h-0.9zM479.0 294.6h0.9v0.9h-0.9zM489.4 294.4h0.9v0.9h-0.9zM490.9 294.1h0.9v0.9h-0.9zM479.5 289.6h0.9v0.9h-0.9zM477.1 290.1h0.9v0.9h-0.9zM487.7 295.2h0.9v0.9h-0.9zM487.7 296.5h0.9v0.9h-0.9zM468.4 283.8h0.9v0.9h-0.9zM475.6 291.7h0.9v0.9h-0.9zM472.9 295.7h0.9v0.9h-0.9zM477.4 293.0h0.9v0.9h-0.9zM479.0 291.2h0.9v0.9h-0.9zM469.2 292.1h0.9v0.9h-0.9zM484.9 297.1h0.9v0.9h-0.9zM473.7 296.2h0.9v0.9h-0.9zM481.6 289.6h0.9v0.9h-0.9zM491.7 292.7h0.9v0.9h-0.9zM467.9 294.7h0.9v0.9h-0.9zM478.1 300.3h0.9v0.9h-0.9zM486.8 292.4h0.9v0.9h-0.9zM472.3 292.9h0.9v0.9h-0.9zM474.0 289.9h0.9v0.9h-0.9zM475.7 299.9h0.9v0.9h-0.9zM483.9 292.9h0.9v0.9h-0.9zM466.6 297.3h0.9v0.9h-0.9zM486.4 288.0h0.9v0.9h-0.9zM480.8 302.2h0.9v0.9h-0.9zM485.4 297.2h0.9v0.9h-0.9zM476.1 291.6h0.9v0.9h-0.9zM479.2 299.8h0.9v0.9h-0.9zM482.4 298.1h0.9v0.9h-0.9zM475.7 293.3h0.9v0.9h-0.9zM487.9 294.8h0.9v0.9h-0.9zM484.0 292.2h0.9v0.9h-0.9zM468.1 295.0h0.9v0.9h-0.9zM478.5 280.7h0.9v0.9h-0.9zM469.5 295.8h0.9v0.9h-0.9zM474.2 288.8h0.9v0.9h-0.9zM475.9 296.3h0.9v0.9h-0.9zM487.2 285.8h0.9v0.9h-0.9zM476.4 291.3h0.9v0.9h-0.9zM494.0 296.0h0.9v0.9h-0.9zM467.7 297.3h0.9v0.9h-0.9zM483.1 298.8h0.9v0.9h-0.9zM484.7 292.1h0.9v0.9h-0.9zM466.1 295.4h0.9v0.9h-0.9zM475.6 292.3h0.9v0.9h-0.9zM462.0 297.0h0.9v0.9h-0.9zM480.6 299.6h0.9v0.9h-0.9zM479.5 293.3h0.9v0.9h-0.9zM468.7 292.6h0.9v0.9h-0.9zM468.8 293.1h0.9v0.9h-0.9zM469.7 298.8h0.9v0.9h-0.9zM474.8 296.0h0.9v0.9h-0.9zM476.1 292.7h0.9v0.9h-0.9zM460.2 292.3h0.9v0.9h-0.9zM472.5 299.0h0.9v0.9h-0.9zM466.8 297.3h0.9v0.9h-0.9zM481.2 293.8h0.9v0.9h-0.9zM475.4 298.1h0.9v0.9h-0.9zM478.0 304.6h0.9v0.9h-0.9zM457.0 289.9h0.9v0.9h-0.9zM491.9 296.0h0.9v0.9h-0.9zM460.4 283.9h0.9v0.9h-0.9zM464.9 287.2h0.9v0.9h-0.9zM460.7 291.3h0.9v0.9h-0.9zM473.9 288.9h0.9v0.9h-0.9zM474.9 291.7h0.9v0.9h-0.9zM482.6 288.0h0.9v0.9h-0.9zM475.3 294.6h0.9v0.9h-0.9zM482.4 288.7h0.9v0.9h-0.9zM475.8 288.2h0.9v0.9h-0.9zM481.8 296.2h0.9v0.9h-0.9zM485.1 292.8h0.9v0.9h-0.9zM489.5 291.7h0.9v0.9h-0.9zM462.6 290.6h0.9v0.9h-0.9zM475.3 298.8h0.9v0.9h-0.9zM471.7 291.4h0.9v0.9h-0.9zM480.7 288.2h0.9v0.9h-0.9zM483.3 296.2h0.9v0.9h-0.9zM467.7 293.6h0.9v0.9h-0.9zM470.5 290.0h0.9v0.9h-0.9zM478.2 292.5h0.9v0.9h-0.9zM483.1 294.2h0.9v0.9h-0.9zM463.0 294.9h0.9v0.9h-0.9zM481.6 295.4h0.9v0.9h-0.9zM464.6 291.1h0.9v0.9h-0.9zM465.8 292.8h0.9v0.9h-0.9zM470.0 297.9h0.9v0.9h-0.9zM478.8 305.3h0.9v0.9h-0.9zM480.1 287.4h0.9v0.9h-0.9zM474.2 302.0h0.9v0.9h-0.9zM473.0 294.5h0.9v0.9h-0.9zM483.2 300.2h0.9v0.9h-0.9zM485.0 293.6h0.9v0.9h-0.9zM466.8 291.6h0.9v0.9h-0.9zM480.6 286.9h0.9v0.9h-0.9zM477.0 300.9h0.9v0.9h-0.9zM466.5 297.3h0.9v0.9h-0.9zM469.6 290.6h0.9v0.9h-0.9zM479.3 296.8h0.9v0.9h-0.9zM475.2 296.0h0.9v0.9h-0.9zM481.4 301.8h0.9v0.9h-0.9zM468.6 289.7h0.9v0.9h-0.9zM489.6 297.7h0.9v0.9h-0.9zM470.6 296.7h0.9v0.9h-0.9zM488.9 292.4h0.9v0.9h-0.9zM478.9 298.0h0.9v0.9h-0.9zM471.1 289.2h0.9v0.9h-0.9zM482.5 294.0h0.9v0.9h-0.9zM477.6 290.6h0.9v0.9h-0.9zM481.0 298.3h0.9v0.9h-0.9zM476.5 294.3h0.9v0.9h-0.9zM468.8 291.3h0.9v0.9h-0.9zM465.9 294.3h0.9v0.9h-0.9zM477.5 291.2h0.9v0.9h-0.9zM466.2 293.2h0.9v0.9h-0.9zM481.1 300.1h0.9v0.9h-0.9zM462.2 294.6h0.9v0.9h-0.9zM486.6 290.5h0.9v0.9h-0.9zM472.8 297.9h0.9v0.9h-0.9zM477.6 290.2h0.9v0.9h-0.9zM467.4 291.7h0.9v0.9h-0.9zM475.7 294.9h0.9v0.9h-0.9zM482.7 290.3h0.9v0.9h-0.9zM479.8 295.8h0.9v0.9h-0.9zM473.7 297.3h0.9v0.9h-0.9zM475.5 296.1h0.9v0.9h-0.9zM471.3 290.3h0.9v0.9h-0.9zM471.9 301.8h0.9v0.9h-0.9zM479.4 295.3h0.9v0.9h-0.9zM470.1 294.8h0.9v0.9h-0.9zM467.0 295.5h0.9v0.9h-0.9zM475.8 291.6h0.9v0.9h-0.9zM479.9 288.5h0.9v0.9h-0.9zM466.2 297.1h0.9v0.9h-0.9zM467.6 287.9h0.9v0.9h-0.9zM485.3 296.8h0.9v0.9h-0.9zM479.8 294.1h0.9v0.9h-0.9zM467.4 296.0h0.9v0.9h-0.9zM475.8 291.0h0.9v0.9h-0.9zM477.3 296.0h0.9v0.9h-0.9zM476.0 297.6h0.9v0.9h-0.9zM480.2 289.1h0.9v0.9h-0.9zM479.9 292.3h0.9v0.9h-0.9zM488.1 281.3h0.9v0.9h-0.9zM473.7 296.6h0.9v0.9h-0.9zM484.4 289.7h0.9v0.9h-0.9zM476.3 296.0h0.9v0.9h-0.9zM471.8 297.0h0.9v0.9h-0.9zM470.8 290.8h0.9v0.9h-0.9zM485.5 290.6h0.9v0.9h-0.9zM473.5 303.7h0.9v0.9h-0.9zM486.1 292.5h0.9v0.9h-0.9zM478.9 290.9h0.9v0.9h-0.9zM467.8 292.1h0.9v0.9h-0.9zM482.3 296.3h0.9v0.9h-0.9zM470.0 284.2h0.9v0.9h-0.9zM485.9 291.1h0.9v0.9h-0.9zM482.2 297.5h0.9v0.9h-0.9zM486.0 291.5h0.9v0.9h-0.9zM468.5 291.3h0.9v0.9h-0.9zM479.2 295.2h0.9v0.9h-0.9zM467.4 296.1h0.9v0.9h-0.9zM469.2 293.9h0.9v0.9h-0.9zM474.1 296.2h0.9v0.9h-0.9zM496.0 291.2h0.9v0.9h-0.9zM465.1 288.9h0.9v0.9h-0.9zM476.2 294.9h0.9v0.9h-0.9zM480.7 289.8h0.9v0.9h-0.9zM466.3 293.6h0.9v0.9h-0.9zM487.5 298.1h0.9v0.9h-0.9zM484.3 296.5h0.9v0.9h-0.9zM484.4 291.8h0.9v0.9h-0.9zM485.3 297.4h0.9v0.9h-0.9zM482.9 292.2h0.9v0.9h-0.9zM473.1 291.6h0.9v0.9h-0.9zM487.2 288.0h0.9v0.9h-0.9zM472.8 295.1h0.9v0.9h-0.9zM465.8 294.8h0.9v0.9h-0.9zM484.5 296.8h0.9v0.9h-0.9zM466.9 294.1h0.9v0.9h-0.9zM468.4 282.7h0.9v0.9h-0.9zM482.7 296.9h0.9v0.9h-0.9zM465.5 298.9h0.9v0.9h-0.9zM482.8 304.3h0.9v0.9h-0.9zM479.9 301.2h0.9v0.9h-0.9zM473.7 293.0h0.9v0.9h-0.9zM491.4 297.7h0.9v0.9h-0.9zM489.5 293.2h0.9v0.9h-0.9zM475.8 297.7h0.9v0.9h-0.9zM470.5 297.3h0.9v0.9h-0.9zM465.3 285.2h0.9v0.9h-0.9zM472.7 296.8h0.9v0.9h-0.9zM492.4 293.5h0.9v0.9h-0.9zM477.6 293.1h0.9v0.9h-0.9zM478.5 299.7h0.9v0.9h-0.9zM480.9 295.9h0.9v0.9h-0.9zM479.2 293.0h0.9v0.9h-0.9zM482.2 302.6h0.9v0.9h-0.9zM467.6 303.3h0.9v0.9h-0.9zM458.3 286.5h0.9v0.9h-0.9zM481.2 292.0h0.9v0.9h-0.9zM493.9 296.7h0.9v0.9h-0.9zM463.9 294.3h0.9v0.9h-0.9zM479.5 299.1h0.9v0.9h-0.9zM471.4 287.2h0.9v0.9h-0.9zM465.7 298.3h0.9v0.9h-0.9zM485.7 286.3h0.9v0.9h-0.9zM479.2 291.1h0.9v0.9h-0.9zM477.4 297.5h0.9v0.9h-0.9zM474.2 293.7h0.9v0.9h-0.9zM460.9 294.1h0.9v0.9h-0.9zM488.3 291.5h0.9v0.9h-0.9zM479.5 296.3h0.9v0.9h-0.9zM495.4 290.4h0.9v0.9h-0.9zM483.0 293.0h0.9v0.9h-0.9zM476.0 294.2h0.9v0.9h-0.9zM462.8 297.0h0.9v0.9h-0.9zM470.7 295.0h0.9v0.9h-0.9zM483.2 293.3h0.9v0.9h-0.9zM464.4 289.4h0.9v0.9h-0.9zM481.4 299.7h0.9v0.9h-0.9zM490.8 288.7h0.9v0.9h-0.9zM477.7 294.7h0.9v0.9h-0.9zM470.8 293.3h0.9v0.9h-0.9zM468.6 294.8h0.9v0.9h-0.9zM472.7 293.0h0.9v0.9h-0.9zM487.2 289.6h0.9v0.9h-0.9zM476.9 291.2h0.9v0.9h-0.9zM473.3 293.7h0.9v0.9h-0.9zM476.2 295.0h0.9v0.9h-0.9zM470.2 296.8h0.9v0.9h-0.9zM467.1 288.9h0.9v0.9h-0.9zM469.3 299.5h0.9v0.9h-0.9zM485.8 291.7h0.9v0.9h-0.9zM491.4 295.5h0.9v0.9h-0.9zM464.3 295.9h0.9v0.9h-0.9zM468.1 288.8h0.9v0.9h-0.9zM458.5 294.8h0.9v0.9h-0.9zM479.4 289.4h0.9v0.9h-0.9zM481.0 295.9h0.9v0.9h-0.9zM480.6 297.0h0.9v0.9h-0.9zM470.1 295.7h0.9v0.9h-0.9zM480.1 291.4h0.9v0.9h-0.9zM473.6 288.5h0.9v0.9h-0.9zM477.6 289.1h0.9v0.9h-0.9zM479.5 294.4h0.9v0.9h-0.9zM474.7 296.7h0.9v0.9h-0.9zM473.7 301.5h0.9v0.9h-0.9zM479.3 288.9h0.9v0.9h-0.9z" fill="#4a5ab8" opacity="0.5"/>
<path d="M470.8 304.8h0.9v0.9h-0.9zM484.2 300.2h0.9v0.9h-0.9zM483.1 303.9h0.9v0.9h-0.9zM481.8 300.1h0.9v0.9h-0.9zM469.4 301.2h0.9v0.9h-0.9zM474.3 298.2h0.9v0.9h-0.9zM466.8 306.6h0.9v0.9h-0.9zM480.2 302.8h0.9v0.9h-0.9zM471.2 308.4h0.9v0.9h-0.9zM463.7 306.6h0.9v0.9h-0.9zM475.4 306.3h0.9v0.9h-0.9zM476.3 308.0h0.9v0.9h-0.9zM477.6 303.0h0.9v0.9h-0.9zM479.1 298.3h0.9v0.9h-0.9zM475.4 304.9h0.9v0.9h-0.9zM464.7 305.7h0.9v0.9h-0.9zM476.8 307.5h0.9v0.9h-0.9zM474.3 309.0h0.9v0.9h-0.9zM479.8 306.1h0.9v0.9h-0.9zM454.5 303.3h0.9v0.9h-0.9zM475.6 303.2h0.9v0.9h-0.9zM467.8 307.5h0.9v0.9h-0.9zM471.5 302.3h0.9v0.9h-0.9zM476.2 308.7h0.9v0.9h-0.9zM471.7 298.0h0.9v0.9h-0.9zM476.3 304.1h0.9v0.9h-0.9zM462.8 299.9h0.9v0.9h-0.9zM474.6 294.2h0.9v0.9h-0.9zM481.0 296.8h0.9v0.9h-0.9zM478.8 297.8h0.9v0.9h-0.9zM471.6 299.7h0.9v0.9h-0.9zM472.0 293.6h0.9v0.9h-0.9zM469.8 307.2h0.9v0.9h-0.9zM476.8 313.1h0.9v0.9h-0.9zM462.7 310.0h0.9v0.9h-0.9zM474.7 296.5h0.9v0.9h-0.9zM465.5 300.4h0.9v0.9h-0.9zM474.6 300.5h0.9v0.9h-0.9zM483.0 302.5h0.9v0.9h-0.9zM470.0 298.4h0.9v0.9h-0.9zM467.1 302.4h0.9v0.9h-0.9zM472.9 298.9h0.9v0.9h-0.9zM475.9 299.3h0.9v0.9h-0.9zM470.9 308.2h0.9v0.9h-0.9zM480.4 301.0h0.9v0.9h-0.9zM484.3 300.8h0.9v0.9h-0.9zM481.1 303.9h0.9v0.9h-0.9zM471.2 302.8h0.9v0.9h-0.9zM471.8 304.0h0.9v0.9h-0.9zM473.5 302.2h0.9v0.9h-0.9zM468.3 305.1h0.9v0.9h-0.9zM479.4 297.8h0.9v0.9h-0.9zM473.9 307.4h0.9v0.9h-0.9zM479.1 299.0h0.9v0.9h-0.9zM488.9 299.0h0.9v0.9h-0.9zM478.3 304.8h0.9v0.9h-0.9zM489.7 299.9h0.9v0.9h-0.9zM481.8 305.5h0.9v0.9h-0.9zM468.8 303.1h0.9v0.9h-0.9zM469.2 304.1h0.9v0.9h-0.9zM475.1 293.3h0.9v0.9h-0.9zM477.8 304.6h0.9v0.9h-0.9zM480.2 303.3h0.9v0.9h-0.9zM469.2 306.5h0.9v0.9h-0.9zM479.9 292.5h0.9v0.9h-0.9zM480.4 305.9h0.9v0.9h-0.9zM471.3 298.2h0.9v0.9h-0.9zM471.7 308.3h0.9v0.9h-0.9zM475.4 306.7h0.9v0.9h-0.9zM471.4 296.3h0.9v0.9h-0.9zM469.1 313.5h0.9v0.9h-0.9zM479.3 306.3h0.9v0.9h-0.9zM477.2 302.8h0.9v0.9h-0.9zM472.8 301.2h0.9v0.9h-0.9zM476.2 302.1h0.9v0.9h-0.9zM474.2 305.1h0.9v0.9h-0.9zM477.5 304.9h0.9v0.9h-0.9zM475.3 305.1h0.9v0.9h-0.9zM480.8 309.0h0.9v0.9h-0.9zM482.4 299.7h0.9v0.9h-0.9z" fill="#7a80c0" opacity="0.35"/>
<ellipse cx="476.00" cy="293.50" rx="9.50" ry="5.00" fill="#5060c0" opacity="0.7" transform="rotate(0 476.00 293.50)" filter="url(#bl1)"/>
<ellipse cx="500.00" cy="299.50" rx="18.00" ry="2.00" fill="#8a90d0" opacity="0.5" transform="rotate(0 500.00 299.50)" filter="url(#bl1)"/>
<ellipse cx="499" cy="293.2" rx="19.5" ry="7.0" fill="#4664c4" opacity="0.85" filter="url(#bl1)"/>
<g filter="url(#bl05)"><ellipse cx="500" cy="293.0" rx="17" ry="5.4" fill="#4a78cc"/><ellipse cx="500" cy="292.8" rx="15.5" ry="4.6" fill="#62b8dc"/><ellipse cx="498" cy="292.5" rx="13" ry="3.8" fill="#98cc58"/><ellipse cx="495" cy="292.3" rx="7.5" ry="2.9" fill="#e4d63a"/><ellipse cx="492.6" cy="292.1" rx="3.0" ry="1.7" fill="#e0702a"/></g>
</g>
<rect x="465.2" y="272.8" width="54.3" height="54.7" fill="none" stroke="#9a9a9a" stroke-width="0.8"/>
<path d="M472.0 327.5v-1.2M465.2 279.6h1.2M478.8 327.5v-1.2M465.2 286.5h1.2M485.6 327.5v-1.2M465.2 293.3h1.2M492.3 327.5v-1.2M465.2 300.2h1.2M499.1 327.5v-1.2M465.2 307.0h1.2M505.9 327.5v-1.2M465.2 313.8h1.2M512.7 327.5v-1.2M465.2 320.7h1.2" stroke="#9a9a9a" stroke-width="0.5"/>
<text x="517.50" y="282.60" font-size="6.0" font-weight="bold" fill="#000" text-anchor="end" textLength="11" lengthAdjust="spacingAndGlyphs">88%</text>
<path d="M458.4,317.5 L458.4,333.6 L473.8,333.6" stroke="#000" stroke-width="1.45" fill="none"/>
<path d="M458.4,314.2 L456.0,319.6 L460.8,319.6Z" fill="#000"/>
<path d="M477.4,333.6 L472.0,331.2 L472.0,336.0Z" fill="#000"/>
<text x="460.40" y="300.40" font-size="8.6" font-weight="normal" fill="#000" text-anchor="middle" textLength="22.8" lengthAdjust="spacingAndGlyphs" transform="rotate(-90 460.40 300.40)">CD150</text>
<text x="479.80" y="336.60" font-size="8.4" font-weight="normal" fill="#000" textLength="17.8" lengthAdjust="spacingAndGlyphs">Sca-1</text>
<text x="0.20" y="300.80" font-size="10.8" font-weight="bold" fill="#000" textLength="6.5" lengthAdjust="spacingAndGlyphs">F</text>
<line x1="53.50" y1="302.50" x2="53.50" y2="407.50" stroke="#222" stroke-width="0.9"/>
<line x1="53.50" y1="407.50" x2="211.00" y2="407.50" stroke="#222" stroke-width="0.9"/>
<line x1="51.20" y1="407.50" x2="53.50" y2="407.50" stroke="#222" stroke-width="0.9"/>
<text x="50.10" y="411.50" font-size="8.6" font-weight="bold" fill="#000" text-anchor="end" textLength="4.9" lengthAdjust="spacingAndGlyphs">0</text>
<line x1="51.20" y1="386.52" x2="53.50" y2="386.52" stroke="#222" stroke-width="0.9"/>
<text x="50.10" y="390.52" font-size="8.6" font-weight="bold" fill="#000" text-anchor="end" textLength="12.6" lengthAdjust="spacingAndGlyphs">20</text>
<line x1="51.20" y1="365.54" x2="53.50" y2="365.54" stroke="#222" stroke-width="0.9"/>
<text x="50.10" y="369.54" font-size="8.6" font-weight="bold" fill="#000" text-anchor="end" textLength="12.6" lengthAdjust="spacingAndGlyphs">40</text>
<line x1="51.20" y1="344.56" x2="53.50" y2="344.56" stroke="#222" stroke-width="0.9"/>
<text x="50.10" y="348.56" font-size="8.6" font-weight="bold" fill="#000" text-anchor="end" textLength="12.6" lengthAdjust="spacingAndGlyphs">60</text>
<line x1="51.20" y1="323.58" x2="53.50" y2="323.58" stroke="#222" stroke-width="0.9"/>
<text x="50.10" y="327.58" font-size="8.6" font-weight="bold" fill="#000" text-anchor="end" textLength="12.6" lengthAdjust="spacingAndGlyphs">80</text>
<line x1="51.20" y1="302.60" x2="53.50" y2="302.60" stroke="#222" stroke-width="0.9"/>
<text x="50.10" y="306.60" font-size="8.6" font-weight="bold" fill="#000" text-anchor="end" textLength="18.7" lengthAdjust="spacingAndGlyphs">100</text>
<line x1="53.50" y1="407.50" x2="53.50" y2="409.80" stroke="#222" stroke-width="0.9"/>
<text x="53.50" y="419.50" font-size="8.6" font-weight="bold" fill="#000" text-anchor="middle" textLength="4.9" lengthAdjust="spacingAndGlyphs">0</text>
<line x1="75.99" y1="407.50" x2="75.99" y2="409.80" stroke="#222" stroke-width="0.9"/>
<text x="75.99" y="419.50" font-size="8.6" font-weight="bold" fill="#000" text-anchor="middle" textLength="11.5" lengthAdjust="spacingAndGlyphs">25</text>
<line x1="98.47" y1="407.50" x2="98.47" y2="409.80" stroke="#222" stroke-width="0.9"/>
<text x="98.47" y="419.50" font-size="8.6" font-weight="bold" fill="#000" text-anchor="middle" textLength="11.5" lengthAdjust="spacingAndGlyphs">50</text>
<line x1="120.96" y1="407.50" x2="120.96" y2="409.80" stroke="#222" stroke-width="0.9"/>
<text x="120.96" y="419.50" font-size="8.6" font-weight="bold" fill="#000" text-anchor="middle" textLength="11.5" lengthAdjust="spacingAndGlyphs">75</text>
<line x1="143.45" y1="407.50" x2="143.45" y2="409.80" stroke="#222" stroke-width="0.9"/>
<text x="143.45" y="419.50" font-size="8.6" font-weight="bold" fill="#000" text-anchor="middle" textLength="17.5" lengthAdjust="spacingAndGlyphs">100</text>
<line x1="165.94" y1="407.50" x2="165.94" y2="409.80" stroke="#222" stroke-width="0.9"/>
<text x="165.94" y="419.50" font-size="8.6" font-weight="bold" fill="#000" text-anchor="middle" textLength="17.5" lengthAdjust="spacingAndGlyphs">125</text>
<line x1="188.42" y1="407.50" x2="188.42" y2="409.80" stroke="#222" stroke-width="0.9"/>
<text x="188.42" y="419.50" font-size="8.6" font-weight="bold" fill="#000" text-anchor="middle" textLength="17.5" lengthAdjust="spacingAndGlyphs">150</text>
<line x1="210.91" y1="407.50" x2="210.91" y2="409.80" stroke="#222" stroke-width="0.9"/>
<text x="210.91" y="419.50" font-size="8.6" font-weight="bold" fill="#000" text-anchor="middle" textLength="17.5" lengthAdjust="spacingAndGlyphs">175</text>
<text x="134.00" y="432.00" font-size="9.4" font-weight="normal" fill="#000" text-anchor="middle" textLength="87.5" lengthAdjust="spacingAndGlyphs">Days Post-Transplant</text>
<text x="29.50" y="355.00" font-size="10.2" font-weight="normal" fill="#000" text-anchor="middle" textLength="56" lengthAdjust="spacingAndGlyphs" transform="rotate(-90 29.50 355.00)" style="stroke-width:0.25px">Survival (%)</text>
<path d="M53.8,302.7 L94.5,302.7 L94.5,310.5 L114.4,310.5 L114.4,319.8 L115.2,319.8 L115.2,328.8 L125.7,328.8 L125.7,337.9 L149.2,337.9 L149.2,345.8 L151.8,345.8 L151.8,355.3 L155.8,355.3 L155.8,364.6 L164.1,364.6 L164.1,373.2 L207.4,373.2" stroke="#111" stroke-width="1.3" fill="none"/>
<line x1="207.40" y1="373.20" x2="207.40" y2="370.80" stroke="#1a1a1a" stroke-width="0.9"/>
<path d="M94.5,302.7 L96.9,302.7 L96.9,311.9 L98.5,311.9 L98.5,318.8 L104.9,318.8 L104.9,325.8 L108.8,325.8 L108.8,342.7 L110.8,342.7 L110.8,352.6 L112.8,352.6 L112.8,362.5 L116.8,362.5 L116.8,368.5 L118.8,368.5 L118.8,376.5 L120.8,376.5 L120.8,384.4 L125.7,384.4 L125.7,392.0 L152.2,392.0 L152.2,400.0 L167.4,400.0 L167.4,407.8" stroke="#c8202a" stroke-width="1.35" fill="none"/>
<line x1="53.80" y1="302.70" x2="94.50" y2="302.70" stroke="#c8202a" stroke-width="1.35"/>
<line x1="61.50" y1="342.80" x2="72.00" y2="342.80" stroke="#1a1a1a" stroke-width="1.0"/>
<line x1="66.70" y1="341.50" x2="66.70" y2="344.10" stroke="#1a1a1a" stroke-width="0.8"/>
<text x="76.00" y="346.00" font-size="8.8" font-weight="bold" fill="#000" textLength="31.2" lengthAdjust="spacingAndGlyphs">Control</text>
<line x1="61.50" y1="354.20" x2="72.00" y2="354.20" stroke="#c8202a" stroke-width="1.0"/>
<line x1="66.70" y1="352.90" x2="66.70" y2="355.50" stroke="#c8202a" stroke-width="0.8"/>
<text x="76.00" y="357.40" font-size="8.8" font-weight="bold" fill="#000" textLength="25.2" lengthAdjust="spacingAndGlyphs">3a-KO</text>
<line x1="117.50" y1="361.50" x2="153.50" y2="361.50" stroke="#111" stroke-width="1.2"/>
<line x1="117.50" y1="359.20" x2="117.50" y2="363.80" stroke="#111" stroke-width="1.1"/>
<line x1="153.50" y1="359.20" x2="153.50" y2="363.80" stroke="#111" stroke-width="1.1"/>
<path d="M132.60,352.00L132.60,358.00M135.20,353.50L130.00,356.50M135.20,356.50L130.00,353.50" stroke="#111" stroke-width="1.9" stroke-linecap="round"/>
<path d="M140.80,352.00L140.80,358.00M143.40,353.50L138.20,356.50M143.40,356.50L138.20,353.50" stroke="#111" stroke-width="1.9" stroke-linecap="round"/>
<text x="266.00" y="316.70" font-size="10.8" font-weight="bold" fill="#000" textLength="8.0" lengthAdjust="spacingAndGlyphs">H</text>
<line x1="332.50" y1="312.50" x2="332.50" y2="382.00" stroke="#222" stroke-width="0.9"/>
<line x1="332.50" y1="382.00" x2="414.80" y2="382.00" stroke="#222" stroke-width="0.9"/>
<line x1="330.30" y1="382.00" x2="332.50" y2="382.00" stroke="#222" stroke-width="0.9"/>
<text x="329.10" y="384.90" font-size="8.2" font-weight="bold" fill="#000" text-anchor="end">0</text>
<line x1="330.30" y1="369.44" x2="332.50" y2="369.44" stroke="#222" stroke-width="0.9"/>
<text x="329.10" y="372.34" font-size="8.2" font-weight="bold" fill="#000" text-anchor="end" textLength="9.0" lengthAdjust="spacingAndGlyphs">20</text>
<line x1="330.30" y1="356.88" x2="332.50" y2="356.88" stroke="#222" stroke-width="0.9"/>
<text x="329.10" y="359.78" font-size="8.2" font-weight="bold" fill="#000" text-anchor="end" textLength="9.0" lengthAdjust="spacingAndGlyphs">40</text>
<line x1="330.30" y1="344.32" x2="332.50" y2="344.32" stroke="#222" stroke-width="0.9"/>
<text x="329.10" y="347.22" font-size="8.2" font-weight="bold" fill="#000" text-anchor="end" textLength="9.0" lengthAdjust="spacingAndGlyphs">60</text>
<line x1="330.30" y1="331.76" x2="332.50" y2="331.76" stroke="#222" stroke-width="0.9"/>
<text x="329.10" y="334.66" font-size="8.2" font-weight="bold" fill="#000" text-anchor="end" textLength="9.0" lengthAdjust="spacingAndGlyphs">80</text>
<line x1="330.30" y1="319.20" x2="332.50" y2="319.20" stroke="#222" stroke-width="0.9"/>
<text x="329.10" y="322.10" font-size="8.2" font-weight="bold" fill="#000" text-anchor="end" textLength="13.5" lengthAdjust="spacingAndGlyphs">100</text>
<text x="302.60" y="350.00" font-size="6.8" font-weight="normal" fill="#000" text-anchor="middle" textLength="61" lengthAdjust="spacingAndGlyphs" transform="rotate(-90 302.60 350.00)">% of CD45.2+GFP+</text>
<text x="311.40" y="350.00" font-size="6.8" font-weight="normal" fill="#000" text-anchor="middle" textLength="77" lengthAdjust="spacingAndGlyphs" transform="rotate(-90 311.40 350.00)">peripheral blood cells (%)</text>
<rect x="336.20" y="319.20" width="14.00" height="62.80" fill="#f8f0a2" stroke="none" stroke-width="0.6"/>
<rect x="336.20" y="338.04" width="14.00" height="43.96" fill="#5a5ab0" stroke="none" stroke-width="0.6"/>
<rect x="336.20" y="369.44" width="14.00" height="12.56" fill="#d81e28" stroke="none" stroke-width="0.6"/>
<rect x="336.20" y="319.20" width="14.00" height="62.80" fill="none" stroke="#333" stroke-width="0.7"/>
<line x1="336.20" y1="338.04" x2="350.20" y2="338.04" stroke="#333" stroke-width="0.6"/>
<line x1="336.20" y1="369.44" x2="350.20" y2="369.44" stroke="#333" stroke-width="0.6"/>
<line x1="343.20" y1="319.20" x2="343.20" y2="316.50" stroke="#222" stroke-width="0.9"/>
<line x1="340.60" y1="316.50" x2="345.80" y2="316.50" stroke="#222" stroke-width="1.0"/>
<line x1="343.20" y1="338.04" x2="343.20" y2="335.20" stroke="#222" stroke-width="0.9"/>
<line x1="340.60" y1="335.20" x2="345.80" y2="335.20" stroke="#222" stroke-width="1.0"/>
<line x1="343.20" y1="369.44" x2="343.20" y2="366.20" stroke="#222" stroke-width="0.9"/>
<line x1="340.60" y1="366.20" x2="345.80" y2="366.20" stroke="#222" stroke-width="1.0"/>
<rect x="356.90" y="319.20" width="14.00" height="62.80" fill="#f8f0a2" stroke="none" stroke-width="0.6"/>
<rect x="356.90" y="335.53" width="14.00" height="46.47" fill="#5a5ab0" stroke="none" stroke-width="0.6"/>
<rect x="356.90" y="372.58" width="14.00" height="9.42" fill="#d81e28" stroke="none" stroke-width="0.6"/>
<rect x="356.90" y="319.20" width="14.00" height="62.80" fill="none" stroke="#333" stroke-width="0.7"/>
<line x1="356.90" y1="335.53" x2="370.90" y2="335.53" stroke="#333" stroke-width="0.6"/>
<line x1="356.90" y1="372.58" x2="370.90" y2="372.58" stroke="#333" stroke-width="0.6"/>
<line x1="363.90" y1="319.20" x2="363.90" y2="316.20" stroke="#222" stroke-width="0.9"/>
<line x1="361.30" y1="316.20" x2="366.50" y2="316.20" stroke="#222" stroke-width="1.0"/>
<line x1="363.90" y1="335.53" x2="363.90" y2="332.50" stroke="#222" stroke-width="0.9"/>
<line x1="361.30" y1="332.50" x2="366.50" y2="332.50" stroke="#222" stroke-width="1.0"/>
<line x1="363.90" y1="372.58" x2="363.90" y2="370.80" stroke="#222" stroke-width="0.9"/>
<line x1="361.30" y1="370.80" x2="366.50" y2="370.80" stroke="#222" stroke-width="1.0"/>
<rect x="377.70" y="319.20" width="14.00" height="62.80" fill="#f8f0a2" stroke="none" stroke-width="0.6"/>
<rect x="377.70" y="342.44" width="14.00" height="39.56" fill="#5a5ab0" stroke="none" stroke-width="0.6"/>
<rect x="377.70" y="371.32" width="14.00" height="10.68" fill="#d81e28" stroke="none" stroke-width="0.6"/>
<rect x="377.70" y="319.20" width="14.00" height="62.80" fill="none" stroke="#333" stroke-width="0.7"/>
<line x1="377.70" y1="342.44" x2="391.70" y2="342.44" stroke="#333" stroke-width="0.6"/>
<line x1="377.70" y1="371.32" x2="391.70" y2="371.32" stroke="#333" stroke-width="0.6"/>
<line x1="384.70" y1="319.20" x2="384.70" y2="316.90" stroke="#222" stroke-width="0.9"/>
<line x1="382.10" y1="316.90" x2="387.30" y2="316.90" stroke="#222" stroke-width="1.0"/>
<line x1="384.70" y1="342.44" x2="384.70" y2="338.70" stroke="#222" stroke-width="0.9"/>
<line x1="382.10" y1="338.70" x2="387.30" y2="338.70" stroke="#222" stroke-width="1.0"/>
<line x1="384.70" y1="371.32" x2="384.70" y2="368.10" stroke="#222" stroke-width="0.9"/>
<line x1="382.10" y1="368.10" x2="387.30" y2="368.10" stroke="#222" stroke-width="1.0"/>
<rect x="398.30" y="319.20" width="14.00" height="62.80" fill="#f8f0a2" stroke="none" stroke-width="0.6"/>
<rect x="398.30" y="336.78" width="14.00" height="45.22" fill="#5a5ab0" stroke="none" stroke-width="0.6"/>
<rect x="398.30" y="378.23" width="14.00" height="3.77" fill="#d81e28" stroke="none" stroke-width="0.6"/>
<rect x="398.30" y="319.20" width="14.00" height="62.80" fill="none" stroke="#333" stroke-width="0.7"/>
<line x1="398.30" y1="336.78" x2="412.30" y2="336.78" stroke="#333" stroke-width="0.6"/>
<line x1="398.30" y1="378.23" x2="412.30" y2="378.23" stroke="#333" stroke-width="0.6"/>
<line x1="405.30" y1="319.20" x2="405.30" y2="313.70" stroke="#222" stroke-width="0.9"/>
<line x1="402.70" y1="313.70" x2="407.90" y2="313.70" stroke="#222" stroke-width="1.0"/>
<line x1="405.30" y1="336.78" x2="405.30" y2="332.50" stroke="#222" stroke-width="0.9"/>
<line x1="402.70" y1="332.50" x2="407.90" y2="332.50" stroke="#222" stroke-width="1.0"/>
<line x1="405.30" y1="378.23" x2="405.30" y2="375.80" stroke="#222" stroke-width="0.9"/>
<line x1="402.70" y1="375.80" x2="407.90" y2="375.80" stroke="#222" stroke-width="1.0"/>
<text x="337.00" y="399.50" font-size="7.6" font-weight="bold" fill="#000" textLength="17" lengthAdjust="spacingAndGlyphs" transform="rotate(-45 337.00 399.50)" style="stroke-width:0.35px">MND</text>
<text x="354.00" y="402.50" font-size="7.6" font-weight="bold" fill="#000" textLength="23.5" lengthAdjust="spacingAndGlyphs" transform="rotate(-45 354.00 402.50)" style="stroke-width:0.35px">V750M</text>
<text x="378.50" y="399.50" font-size="7.6" font-weight="bold" fill="#000" textLength="17" lengthAdjust="spacingAndGlyphs" transform="rotate(-45 378.50 399.50)" style="stroke-width:0.35px">MND</text>
<text x="395.50" y="402.50" font-size="7.6" font-weight="bold" fill="#000" textLength="23.5" lengthAdjust="spacingAndGlyphs" transform="rotate(-45 395.50 402.50)" style="stroke-width:0.35px">V750M</text>
<line x1="335.60" y1="406.40" x2="369.20" y2="406.40" stroke="#111" stroke-width="1.2"/>
<line x1="376.80" y1="406.40" x2="409.60" y2="406.40" stroke="#111" stroke-width="1.2"/>
<text x="352.50" y="417.10" font-size="9.0" font-weight="normal" fill="#000" text-anchor="middle" textLength="12.1" lengthAdjust="spacingAndGlyphs">WT</text>
<text x="393.50" y="417.10" font-size="9.0" font-weight="normal" fill="#000" text-anchor="middle" textLength="24.2" lengthAdjust="spacingAndGlyphs">3a-KO</text>
<rect x="279.20" y="399.00" width="10.60" height="5.40" fill="#d81e28" stroke="#333" stroke-width="0.6"/>
<text x="294.40" y="404.40" font-size="9.0" font-weight="normal" fill="#000" textLength="29.6" lengthAdjust="spacingAndGlyphs">Myeloid</text>
<rect x="279.20" y="411.20" width="10.60" height="5.40" fill="#5a5ab0" stroke="#333" stroke-width="0.6"/>
<text x="294.40" y="417.10" font-size="9.0" font-weight="normal" fill="#000" textLength="23.7" lengthAdjust="spacingAndGlyphs">B-cells</text>
<rect x="279.20" y="423.00" width="10.60" height="5.40" fill="#f8f0a2" stroke="#333" stroke-width="0.6"/>
<text x="294.40" y="429.20" font-size="9.0" font-weight="normal" fill="#000" textLength="23.1" lengthAdjust="spacingAndGlyphs">T-cells</text>
<text x="0.20" y="462.90" font-size="10.8" font-weight="bold" fill="#000" textLength="8.5" lengthAdjust="spacingAndGlyphs">G</text>
<text x="55.80" y="502.80" font-size="10.2" font-weight="bold" fill="#000" text-anchor="middle" textLength="25" lengthAdjust="spacingAndGlyphs">B-ALL</text>
<clipPath id="c10"><rect x="29.2" y="522.4" width="54.3" height="53.8"/></clipPath>
<g clip-path="url(#c10)">
<line x1="48.50" y1="522.40" x2="48.50" y2="576.20" stroke="#b4b4b4" stroke-width="0.6"/>
<line x1="29.20" y1="551.90" x2="83.50" y2="551.90" stroke="#b4b4b4" stroke-width="0.6"/>
<path d="M41.4 539.2h0.9v0.9h-0.9zM49.1 541.5h0.9v0.9h-0.9zM41.9 542.1h0.9v0.9h-0.9zM46.4 537.2h0.9v0.9h-0.9zM43.2 539.5h0.9v0.9h-0.9zM37.8 541.3h0.9v0.9h-0.9zM42.5 536.8h0.9v0.9h-0.9zM35.3 538.7h0.9v0.9h-0.9zM45.3 539.7h0.9v0.9h-0.9zM44.4 538.6h0.9v0.9h-0.9zM46.0 538.6h0.9v0.9h-0.9zM43.3 538.6h0.9v0.9h-0.9zM37.8 539.6h0.9v0.9h-0.9zM33.9 539.1h0.9v0.9h-0.9zM41.9 537.1h0.9v0.9h-0.9zM39.2 538.7h0.9v0.9h-0.9zM34.8 536.1h0.9v0.9h-0.9zM45.0 538.3h0.9v0.9h-0.9zM53.4 542.8h0.9v0.9h-0.9zM30.0 540.2h0.9v0.9h-0.9zM38.2 539.9h0.9v0.9h-0.9zM33.2 540.6h0.9v0.9h-0.9zM56.1 537.3h0.9v0.9h-0.9zM32.2 538.4h0.9v0.9h-0.9zM38.8 539.6h0.9v0.9h-0.9zM37.1 538.9h0.9v0.9h-0.9zM46.4 539.6h0.9v0.9h-0.9zM44.7 538.8h0.9v0.9h-0.9zM37.3 538.6h0.9v0.9h-0.9zM37.5 536.7h0.9v0.9h-0.9zM40.6 538.8h0.9v0.9h-0.9zM38.1 540.5h0.9v0.9h-0.9zM51.3 537.7h0.9v0.9h-0.9zM42.8 537.3h0.9v0.9h-0.9zM45.0 538.9h0.9v0.9h-0.9zM32.3 537.3h0.9v0.9h-0.9zM43.2 538.0h0.9v0.9h-0.9zM39.2 542.9h0.9v0.9h-0.9zM35.5 539.9h0.9v0.9h-0.9zM24.1 536.0h0.9v0.9h-0.9zM41.6 539.2h0.9v0.9h-0.9zM47.7 538.2h0.9v0.9h-0.9zM28.0 540.6h0.9v0.9h-0.9zM30.6 538.7h0.9v0.9h-0.9zM48.2 537.6h0.9v0.9h-0.9zM40.2 537.1h0.9v0.9h-0.9zM46.1 540.7h0.9v0.9h-0.9zM31.4 538.5h0.9v0.9h-0.9zM36.8 540.2h0.9v0.9h-0.9zM44.9 539.3h0.9v0.9h-0.9zM43.9 539.7h0.9v0.9h-0.9zM41.2 538.8h0.9v0.9h-0.9zM36.0 539.8h0.9v0.9h-0.9zM35.9 539.8h0.9v0.9h-0.9zM36.0 538.8h0.9v0.9h-0.9zM44.5 540.7h0.9v0.9h-0.9zM39.9 538.8h0.9v0.9h-0.9zM40.0 540.0h0.9v0.9h-0.9zM35.8 543.1h0.9v0.9h-0.9zM39.5 539.2h0.9v0.9h-0.9zM43.3 539.7h0.9v0.9h-0.9zM39.8 538.5h0.9v0.9h-0.9zM33.1 537.8h0.9v0.9h-0.9zM39.4 538.0h0.9v0.9h-0.9zM52.4 535.6h0.9v0.9h-0.9zM50.4 539.6h0.9v0.9h-0.9zM37.8 539.2h0.9v0.9h-0.9zM38.7 538.3h0.9v0.9h-0.9zM30.7 538.3h0.9v0.9h-0.9zM33.5 539.4h0.9v0.9h-0.9zM36.8 537.8h0.9v0.9h-0.9zM38.5 538.2h0.9v0.9h-0.9zM41.4 538.5h0.9v0.9h-0.9zM33.2 539.4h0.9v0.9h-0.9zM32.6 536.1h0.9v0.9h-0.9zM32.9 539.8h0.9v0.9h-0.9zM33.5 537.3h0.9v0.9h-0.9zM49.7 538.5h0.9v0.9h-0.9zM41.2 537.7h0.9v0.9h-0.9zM46.3 541.1h0.9v0.9h-0.9zM36.5 537.0h0.9v0.9h-0.9zM29.5 539.3h0.9v0.9h-0.9zM34.2 536.4h0.9v0.9h-0.9zM41.5 538.7h0.9v0.9h-0.9zM41.7 536.9h0.9v0.9h-0.9zM33.3 539.0h0.9v0.9h-0.9zM47.1 539.7h0.9v0.9h-0.9zM37.9 540.2h0.9v0.9h-0.9zM43.9 537.0h0.9v0.9h-0.9zM50.0 540.7h0.9v0.9h-0.9zM39.4 539.6h0.9v0.9h-0.9zM32.7 541.0h0.9v0.9h-0.9zM51.3 539.3h0.9v0.9h-0.9zM41.3 538.7h0.9v0.9h-0.9zM39.8 537.4h0.9v0.9h-0.9zM40.1 540.6h0.9v0.9h-0.9zM38.0 540.6h0.9v0.9h-0.9zM32.5 538.0h0.9v0.9h-0.9zM37.6 538.4h0.9v0.9h-0.9zM45.0 537.2h0.9v0.9h-0.9zM43.9 537.6h0.9v0.9h-0.9zM39.4 534.8h0.9v0.9h-0.9zM29.0 539.4h0.9v0.9h-0.9zM43.8 539.7h0.9v0.9h-0.9zM39.7 540.6h0.9v0.9h-0.9zM41.3 540.3h0.9v0.9h-0.9zM32.9 542.0h0.9v0.9h-0.9zM37.5 537.2h0.9v0.9h-0.9zM36.1 540.6h0.9v0.9h-0.9zM39.9 538.8h0.9v0.9h-0.9zM46.4 540.8h0.9v0.9h-0.9zM42.0 537.7h0.9v0.9h-0.9zM43.6 538.4h0.9v0.9h-0.9zM40.8 538.7h0.9v0.9h-0.9zM30.6 538.4h0.9v0.9h-0.9zM38.1 536.4h0.9v0.9h-0.9zM33.6 541.7h0.9v0.9h-0.9zM38.8 542.2h0.9v0.9h-0.9zM42.4 538.3h0.9v0.9h-0.9zM36.0 541.6h0.9v0.9h-0.9zM35.0 540.0h0.9v0.9h-0.9zM37.2 537.6h0.9v0.9h-0.9zM37.2 538.2h0.9v0.9h-0.9zM47.6 537.9h0.9v0.9h-0.9zM36.5 535.5h0.9v0.9h-0.9zM36.4 535.8h0.9v0.9h-0.9zM35.0 534.4h0.9v0.9h-0.9zM33.2 540.7h0.9v0.9h-0.9zM40.5 536.6h0.9v0.9h-0.9zM36.9 541.2h0.9v0.9h-0.9zM38.1 536.8h0.9v0.9h-0.9zM40.5 536.6h0.9v0.9h-0.9zM37.9 539.3h0.9v0.9h-0.9zM39.2 537.6h0.9v0.9h-0.9zM48.7 541.6h0.9v0.9h-0.9zM42.7 541.3h0.9v0.9h-0.9zM40.9 539.4h0.9v0.9h-0.9zM36.0 538.2h0.9v0.9h-0.9zM41.9 538.4h0.9v0.9h-0.9zM33.6 537.9h0.9v0.9h-0.9zM36.8 535.6h0.9v0.9h-0.9zM33.1 539.7h0.9v0.9h-0.9zM27.4 539.0h0.9v0.9h-0.9zM45.5 537.9h0.9v0.9h-0.9zM42.5 539.3h0.9v0.9h-0.9zM36.6 536.4h0.9v0.9h-0.9zM36.4 539.3h0.9v0.9h-0.9zM39.1 538.8h0.9v0.9h-0.9zM45.3 539.9h0.9v0.9h-0.9zM38.3 539.9h0.9v0.9h-0.9zM35.3 535.5h0.9v0.9h-0.9zM36.1 540.3h0.9v0.9h-0.9zM41.3 539.5h0.9v0.9h-0.9zM41.7 538.2h0.9v0.9h-0.9zM46.8 538.3h0.9v0.9h-0.9zM38.3 539.6h0.9v0.9h-0.9zM33.9 540.8h0.9v0.9h-0.9zM46.8 539.5h0.9v0.9h-0.9zM36.3 541.7h0.9v0.9h-0.9zM36.1 539.0h0.9v0.9h-0.9zM39.7 541.0h0.9v0.9h-0.9zM32.6 541.2h0.9v0.9h-0.9zM44.4 539.3h0.9v0.9h-0.9zM32.5 541.3h0.9v0.9h-0.9zM26.9 537.6h0.9v0.9h-0.9zM47.9 540.2h0.9v0.9h-0.9zM37.4 538.0h0.9v0.9h-0.9zM32.6 540.2h0.9v0.9h-0.9zM34.2 538.8h0.9v0.9h-0.9zM43.3 538.2h0.9v0.9h-0.9zM38.8 541.1h0.9v0.9h-0.9zM31.4 539.1h0.9v0.9h-0.9zM47.2 538.6h0.9v0.9h-0.9zM37.2 539.5h0.9v0.9h-0.9zM31.1 538.7h0.9v0.9h-0.9zM41.6 538.5h0.9v0.9h-0.9zM47.9 536.1h0.9v0.9h-0.9zM41.4 539.4h0.9v0.9h-0.9zM41.5 537.1h0.9v0.9h-0.9zM47.9 539.3h0.9v0.9h-0.9zM41.2 539.0h0.9v0.9h-0.9zM37.3 538.7h0.9v0.9h-0.9zM37.7 539.0h0.9v0.9h-0.9zM46.9 540.2h0.9v0.9h-0.9zM35.8 538.6h0.9v0.9h-0.9zM39.9 538.4h0.9v0.9h-0.9zM42.6 539.6h0.9v0.9h-0.9zM31.8 539.4h0.9v0.9h-0.9zM33.5 538.7h0.9v0.9h-0.9zM37.0 538.0h0.9v0.9h-0.9zM42.3 538.5h0.9v0.9h-0.9zM47.5 539.3h0.9v0.9h-0.9zM43.8 538.4h0.9v0.9h-0.9zM49.3 537.8h0.9v0.9h-0.9zM35.1 536.4h0.9v0.9h-0.9zM47.2 540.6h0.9v0.9h-0.9zM37.5 536.1h0.9v0.9h-0.9zM35.4 539.0h0.9v0.9h-0.9zM43.4 540.5h0.9v0.9h-0.9zM43.1 539.1h0.9v0.9h-0.9zM36.6 534.5h0.9v0.9h-0.9zM45.8 537.4h0.9v0.9h-0.9zM40.1 540.8h0.9v0.9h-0.9zM30.6 538.4h0.9v0.9h-0.9zM41.3 537.3h0.9v0.9h-0.9zM33.3 541.1h0.9v0.9h-0.9zM36.1 538.3h0.9v0.9h-0.9zM45.1 538.6h0.9v0.9h-0.9zM44.8 535.5h0.9v0.9h-0.9zM41.7 542.0h0.9v0.9h-0.9zM33.1 534.9h0.9v0.9h-0.9zM41.3 541.3h0.9v0.9h-0.9zM48.1 536.9h0.9v0.9h-0.9zM31.7 534.8h0.9v0.9h-0.9zM47.4 542.1h0.9v0.9h-0.9zM41.0 539.7h0.9v0.9h-0.9zM35.1 539.5h0.9v0.9h-0.9zM36.4 539.0h0.9v0.9h-0.9zM33.9 538.1h0.9v0.9h-0.9zM41.3 539.8h0.9v0.9h-0.9z" fill="#4a58b0" opacity="0.5"/>
<ellipse cx="39.50" cy="539.00" rx="6.00" ry="1.60" fill="#4a5ab8" opacity="0.6" transform="rotate(0 39.50 539.00)" filter="url(#bl1)"/>
<path d="M27.2 581.7h0.9v0.9h-0.9zM48.3 564.4h0.9v0.9h-0.9zM44.7 554.0h0.9v0.9h-0.9zM42.7 577.9h0.9v0.9h-0.9zM27.3 557.9h0.9v0.9h-0.9zM33.0 565.4h0.9v0.9h-0.9zM39.7 552.5h0.9v0.9h-0.9zM36.9 541.5h0.9v0.9h-0.9zM44.5 556.6h0.9v0.9h-0.9zM41.4 558.7h0.9v0.9h-0.9zM40.1 572.9h0.9v0.9h-0.9zM34.5 554.9h0.9v0.9h-0.9zM36.0 563.0h0.9v0.9h-0.9zM44.1 554.3h0.9v0.9h-0.9zM38.3 573.2h0.9v0.9h-0.9zM36.8 563.7h0.9v0.9h-0.9zM40.2 567.0h0.9v0.9h-0.9zM43.4 566.4h0.9v0.9h-0.9zM23.6 564.2h0.9v0.9h-0.9zM50.1 553.7h0.9v0.9h-0.9zM41.1 560.7h0.9v0.9h-0.9zM37.6 573.9h0.9v0.9h-0.9zM42.2 560.1h0.9v0.9h-0.9zM31.6 575.9h0.9v0.9h-0.9zM31.7 562.0h0.9v0.9h-0.9zM40.5 552.0h0.9v0.9h-0.9zM34.6 563.4h0.9v0.9h-0.9zM40.1 560.9h0.9v0.9h-0.9zM38.1 562.1h0.9v0.9h-0.9zM28.2 561.4h0.9v0.9h-0.9zM45.5 563.5h0.9v0.9h-0.9zM42.5 569.1h0.9v0.9h-0.9zM49.7 550.9h0.9v0.9h-0.9zM41.2 554.7h0.9v0.9h-0.9zM48.4 553.4h0.9v0.9h-0.9zM32.2 555.0h0.9v0.9h-0.9zM43.6 570.9h0.9v0.9h-0.9zM55.6 558.4h0.9v0.9h-0.9zM30.4 560.6h0.9v0.9h-0.9zM35.5 560.1h0.9v0.9h-0.9zM42.4 563.7h0.9v0.9h-0.9zM37.1 547.8h0.9v0.9h-0.9zM42.8 565.6h0.9v0.9h-0.9zM27.1 561.1h0.9v0.9h-0.9zM42.8 561.1h0.9v0.9h-0.9zM32.3 561.8h0.9v0.9h-0.9zM31.6 563.7h0.9v0.9h-0.9zM28.9 572.3h0.9v0.9h-0.9zM19.3 546.0h0.9v0.9h-0.9zM52.2 579.4h0.9v0.9h-0.9zM38.9 572.9h0.9v0.9h-0.9zM39.6 552.5h0.9v0.9h-0.9zM45.7 560.8h0.9v0.9h-0.9zM42.4 565.1h0.9v0.9h-0.9zM29.4 563.3h0.9v0.9h-0.9zM29.9 576.4h0.9v0.9h-0.9zM40.7 564.8h0.9v0.9h-0.9zM45.8 569.2h0.9v0.9h-0.9zM38.0 556.1h0.9v0.9h-0.9zM27.7 557.3h0.9v0.9h-0.9zM32.3 561.7h0.9v0.9h-0.9zM27.7 565.7h0.9v0.9h-0.9zM46.3 552.4h0.9v0.9h-0.9zM31.5 565.2h0.9v0.9h-0.9zM43.7 561.0h0.9v0.9h-0.9zM40.6 555.5h0.9v0.9h-0.9zM47.2 558.6h0.9v0.9h-0.9zM36.0 562.5h0.9v0.9h-0.9zM34.5 563.0h0.9v0.9h-0.9zM34.0 568.0h0.9v0.9h-0.9zM41.0 556.7h0.9v0.9h-0.9zM37.5 577.1h0.9v0.9h-0.9zM27.0 560.2h0.9v0.9h-0.9zM49.4 559.6h0.9v0.9h-0.9zM29.5 562.4h0.9v0.9h-0.9zM55.1 564.3h0.9v0.9h-0.9zM37.7 559.6h0.9v0.9h-0.9zM43.4 565.7h0.9v0.9h-0.9zM45.0 564.4h0.9v0.9h-0.9zM37.1 566.5h0.9v0.9h-0.9zM32.8 580.1h0.9v0.9h-0.9zM39.3 562.2h0.9v0.9h-0.9zM42.8 568.7h0.9v0.9h-0.9zM42.5 566.7h0.9v0.9h-0.9zM41.0 563.0h0.9v0.9h-0.9zM47.2 556.6h0.9v0.9h-0.9zM40.0 549.4h0.9v0.9h-0.9zM36.0 561.8h0.9v0.9h-0.9zM31.7 575.3h0.9v0.9h-0.9zM31.9 554.6h0.9v0.9h-0.9zM35.0 560.9h0.9v0.9h-0.9zM41.3 571.2h0.9v0.9h-0.9zM31.7 577.8h0.9v0.9h-0.9zM47.3 564.6h0.9v0.9h-0.9zM36.8 561.2h0.9v0.9h-0.9zM33.1 548.2h0.9v0.9h-0.9zM35.1 557.5h0.9v0.9h-0.9zM44.6 560.3h0.9v0.9h-0.9zM34.1 557.1h0.9v0.9h-0.9zM32.7 568.1h0.9v0.9h-0.9zM37.5 562.4h0.9v0.9h-0.9zM36.0 562.4h0.9v0.9h-0.9zM41.5 568.8h0.9v0.9h-0.9zM44.9 569.5h0.9v0.9h-0.9zM49.1 572.2h0.9v0.9h-0.9zM43.6 565.7h0.9v0.9h-0.9zM35.2 565.8h0.9v0.9h-0.9zM49.7 544.8h0.9v0.9h-0.9zM41.0 558.8h0.9v0.9h-0.9zM44.0 570.1h0.9v0.9h-0.9zM36.3 579.5h0.9v0.9h-0.9zM34.9 566.1h0.9v0.9h-0.9zM46.4 566.7h0.9v0.9h-0.9zM36.7 571.0h0.9v0.9h-0.9zM28.2 563.0h0.9v0.9h-0.9zM28.5 579.3h0.9v0.9h-0.9zM48.4 574.2h0.9v0.9h-0.9zM45.3 561.8h0.9v0.9h-0.9zM32.0 559.7h0.9v0.9h-0.9zM31.4 563.0h0.9v0.9h-0.9z" fill="#7070b8" opacity="0.35"/>
<path d="M59.0 570.4h0.9v0.9h-0.9zM58.0 567.2h0.9v0.9h-0.9zM51.3 566.9h0.9v0.9h-0.9zM54.2 563.7h0.9v0.9h-0.9zM61.4 562.6h0.9v0.9h-0.9zM62.3 570.7h0.9v0.9h-0.9zM50.4 550.5h0.9v0.9h-0.9zM74.3 579.2h0.9v0.9h-0.9zM53.8 573.1h0.9v0.9h-0.9zM69.7 563.8h0.9v0.9h-0.9zM48.5 578.6h0.9v0.9h-0.9zM64.2 557.5h0.9v0.9h-0.9zM67.1 566.9h0.9v0.9h-0.9zM54.6 578.4h0.9v0.9h-0.9zM66.1 564.8h0.9v0.9h-0.9zM64.9 577.7h0.9v0.9h-0.9zM86.6 564.7h0.9v0.9h-0.9zM55.1 572.8h0.9v0.9h-0.9zM79.0 561.0h0.9v0.9h-0.9zM50.6 569.2h0.9v0.9h-0.9zM69.6 565.5h0.9v0.9h-0.9zM61.7 563.2h0.9v0.9h-0.9zM63.7 567.8h0.9v0.9h-0.9zM61.9 576.0h0.9v0.9h-0.9zM56.5 564.8h0.9v0.9h-0.9zM59.1 562.6h0.9v0.9h-0.9zM51.0 561.6h0.9v0.9h-0.9zM62.3 554.2h0.9v0.9h-0.9zM60.6 573.3h0.9v0.9h-0.9zM77.0 560.9h0.9v0.9h-0.9z" fill="#8080c0" opacity="0.3"/>
<ellipse cx="53.50" cy="540.20" rx="3.60" ry="2.60" fill="#1d3090" opacity="0.9" transform="rotate(0 53.50 540.20)" filter="url(#bl05)"/>
<path d="M55.83,540.99 L72.04,531.33 L62.84,549.50Z" fill="#4a60c0" stroke="#4a60c0" stroke-width="4" stroke-linejoin="round" opacity="0.55" filter="url(#bl1)"/>
<g filter="url(#bl05)"><path d="M56.50,541.20 L70.60,532.80 L62.60,548.60Z" fill="#22389a" stroke="#22389a" stroke-width="3.50" stroke-linejoin="round"/><path d="M57.49,541.51 L68.49,534.96 L62.25,547.28Z" fill="#3462c0" stroke="#3462c0" stroke-width="2.73" stroke-linejoin="round"/><ellipse cx="61.00" cy="542.60" rx="3.60" ry="3.60" fill="#52acdc" transform="rotate(0 61.00 542.60)"/><ellipse cx="61.00" cy="542.60" rx="2.80" ry="2.80" fill="#86c852" transform="rotate(0 61.00 542.60)"/><ellipse cx="61.00" cy="542.60" rx="1.90" ry="1.90" fill="#eedc36" transform="rotate(0 61.00 542.60)"/><ellipse cx="61.00" cy="542.60" rx="1.10" ry="1.10" fill="#e07a22" transform="rotate(0 61.00 542.60)"/><ellipse cx="61.00" cy="542.60" rx="0.60" ry="0.60" fill="#b81a12" transform="rotate(0 61.00 542.60)"/></g>
</g>
<rect x="29.2" y="522.4" width="54.3" height="53.8" fill="none" stroke="#8a8a8a" stroke-width="0.8"/>
<path d="M36.0 576.2v-1.2M29.2 529.1h1.2M42.8 576.2v-1.2M29.2 535.9h1.2M49.6 576.2v-1.2M29.2 542.6h1.2M56.3 576.2v-1.2M29.2 549.3h1.2M63.1 576.2v-1.2M29.2 556.0h1.2M69.9 576.2v-1.2M29.2 562.8h1.2M76.7 576.2v-1.2M29.2 569.5h1.2" stroke="#8a8a8a" stroke-width="0.5"/>
<rect x="48.60" y="522.50" width="34.90" height="29.80" fill="none" stroke="#b42834" stroke-width="1.3"/>
<text x="81.20" y="529.80" font-size="6.6" font-weight="bold" fill="#000" text-anchor="end" textLength="12.5" lengthAdjust="spacingAndGlyphs">96%</text>
<path d="M23.5,568.4 L23.5,582.7 L38.4,582.7" stroke="#000" stroke-width="1.2" fill="none"/>
<path d="M23.5,565.8 L21.7,570.0 L25.3,570.0Z" fill="#000"/>
<path d="M41.0,582.7 L36.8,580.9 L36.8,584.5Z" fill="#000"/>
<text x="26.09" y="552.70" font-size="7.2" font-weight="normal" fill="#000" text-anchor="middle" textLength="19.5" lengthAdjust="spacingAndGlyphs" transform="rotate(-90 26.09 552.70)" style="stroke-width:0.3px">CD45.2</text>
<text x="43.00" y="585.29" font-size="7.2" font-weight="normal" fill="#000" textLength="12.4" lengthAdjust="spacingAndGlyphs" style="stroke-width:0.3px">GFP</text>
<clipPath id="c11"><rect x="108.4" y="474.6" width="53.4" height="53.6"/></clipPath>
<g clip-path="url(#c11)">
<line x1="148.60" y1="474.60" x2="148.60" y2="489.70" stroke="#b4b4b4" stroke-width="0.6"/>
<line x1="108.40" y1="499.30" x2="128.60" y2="499.30" stroke="#b4b4b4" stroke-width="0.6"/>
<line x1="137.00" y1="510.60" x2="137.00" y2="528.20" stroke="#b4b4b4" stroke-width="0.6"/>
<line x1="137.00" y1="510.60" x2="161.80" y2="510.60" stroke="#b4b4b4" stroke-width="0.6"/>
<path d="M128.0 511.5h0.9v0.9h-0.9zM130.7 504.5h0.9v0.9h-0.9zM140.1 495.0h0.9v0.9h-0.9zM128.0 499.5h0.9v0.9h-0.9zM126.2 510.8h0.9v0.9h-0.9zM121.4 514.7h0.9v0.9h-0.9zM126.4 514.9h0.9v0.9h-0.9zM135.3 510.9h0.9v0.9h-0.9zM133.5 506.2h0.9v0.9h-0.9zM140.6 495.9h0.9v0.9h-0.9zM136.4 497.0h0.9v0.9h-0.9zM128.5 509.2h0.9v0.9h-0.9zM133.1 502.6h0.9v0.9h-0.9zM135.3 503.1h0.9v0.9h-0.9zM128.4 507.3h0.9v0.9h-0.9zM141.5 499.2h0.9v0.9h-0.9zM119.0 507.8h0.9v0.9h-0.9zM129.2 514.0h0.9v0.9h-0.9zM139.9 501.1h0.9v0.9h-0.9zM136.6 502.1h0.9v0.9h-0.9zM132.4 501.6h0.9v0.9h-0.9zM141.1 494.6h0.9v0.9h-0.9zM133.0 501.1h0.9v0.9h-0.9zM133.0 505.2h0.9v0.9h-0.9zM122.1 510.4h0.9v0.9h-0.9zM129.6 504.9h0.9v0.9h-0.9zM135.2 504.5h0.9v0.9h-0.9zM128.4 506.5h0.9v0.9h-0.9zM131.4 509.1h0.9v0.9h-0.9zM143.6 494.8h0.9v0.9h-0.9zM138.0 500.3h0.9v0.9h-0.9zM128.3 504.9h0.9v0.9h-0.9zM130.9 508.7h0.9v0.9h-0.9zM131.4 514.8h0.9v0.9h-0.9zM142.9 495.6h0.9v0.9h-0.9zM126.6 508.0h0.9v0.9h-0.9zM123.7 515.1h0.9v0.9h-0.9zM142.2 496.9h0.9v0.9h-0.9zM126.3 509.1h0.9v0.9h-0.9zM137.9 501.2h0.9v0.9h-0.9zM128.5 505.5h0.9v0.9h-0.9zM128.3 512.1h0.9v0.9h-0.9zM138.2 494.4h0.9v0.9h-0.9zM119.3 508.3h0.9v0.9h-0.9zM135.2 497.8h0.9v0.9h-0.9zM132.5 506.3h0.9v0.9h-0.9zM138.5 500.3h0.9v0.9h-0.9zM124.7 515.7h0.9v0.9h-0.9zM129.9 503.1h0.9v0.9h-0.9zM143.4 498.1h0.9v0.9h-0.9zM123.0 512.6h0.9v0.9h-0.9zM133.8 501.9h0.9v0.9h-0.9zM142.9 496.1h0.9v0.9h-0.9zM138.9 500.7h0.9v0.9h-0.9zM130.5 509.4h0.9v0.9h-0.9zM133.8 502.6h0.9v0.9h-0.9zM141.3 499.5h0.9v0.9h-0.9zM125.7 511.7h0.9v0.9h-0.9zM141.6 494.1h0.9v0.9h-0.9zM142.1 494.2h0.9v0.9h-0.9zM127.0 516.2h0.9v0.9h-0.9zM129.1 505.1h0.9v0.9h-0.9zM127.6 506.5h0.9v0.9h-0.9zM124.8 517.3h0.9v0.9h-0.9zM127.7 514.1h0.9v0.9h-0.9zM125.6 506.2h0.9v0.9h-0.9zM130.8 502.1h0.9v0.9h-0.9zM126.2 509.0h0.9v0.9h-0.9zM138.6 498.2h0.9v0.9h-0.9zM125.3 512.4h0.9v0.9h-0.9zM143.4 497.5h0.9v0.9h-0.9zM126.0 512.8h0.9v0.9h-0.9zM127.7 512.3h0.9v0.9h-0.9zM126.7 506.1h0.9v0.9h-0.9zM132.8 509.0h0.9v0.9h-0.9zM130.0 503.1h0.9v0.9h-0.9zM143.3 497.6h0.9v0.9h-0.9zM132.6 507.9h0.9v0.9h-0.9zM143.0 494.0h0.9v0.9h-0.9zM132.8 503.7h0.9v0.9h-0.9zM126.2 508.2h0.9v0.9h-0.9zM126.5 514.5h0.9v0.9h-0.9zM136.4 499.7h0.9v0.9h-0.9zM130.9 504.7h0.9v0.9h-0.9zM125.7 511.9h0.9v0.9h-0.9zM128.4 507.6h0.9v0.9h-0.9zM119.5 513.4h0.9v0.9h-0.9zM137.1 499.8h0.9v0.9h-0.9zM128.0 510.6h0.9v0.9h-0.9zM127.8 512.5h0.9v0.9h-0.9zM127.0 506.6h0.9v0.9h-0.9zM127.1 510.1h0.9v0.9h-0.9zM131.1 509.9h0.9v0.9h-0.9zM139.9 499.2h0.9v0.9h-0.9zM139.4 494.4h0.9v0.9h-0.9zM136.8 502.0h0.9v0.9h-0.9zM126.0 512.8h0.9v0.9h-0.9zM124.0 506.7h0.9v0.9h-0.9zM134.3 502.6h0.9v0.9h-0.9zM131.7 506.8h0.9v0.9h-0.9zM142.9 503.7h0.9v0.9h-0.9zM134.7 513.7h0.9v0.9h-0.9zM129.3 512.0h0.9v0.9h-0.9zM142.2 498.9h0.9v0.9h-0.9zM131.7 510.0h0.9v0.9h-0.9zM141.4 496.3h0.9v0.9h-0.9zM127.3 512.5h0.9v0.9h-0.9zM141.8 500.4h0.9v0.9h-0.9zM136.7 500.7h0.9v0.9h-0.9zM128.1 509.7h0.9v0.9h-0.9zM144.2 494.9h0.9v0.9h-0.9zM121.4 513.5h0.9v0.9h-0.9zM124.9 510.6h0.9v0.9h-0.9zM132.8 507.7h0.9v0.9h-0.9zM125.0 511.7h0.9v0.9h-0.9zM134.8 501.1h0.9v0.9h-0.9zM123.9 510.0h0.9v0.9h-0.9zM141.9 497.4h0.9v0.9h-0.9zM128.1 511.5h0.9v0.9h-0.9zM131.1 502.5h0.9v0.9h-0.9zM138.3 500.3h0.9v0.9h-0.9zM141.3 495.9h0.9v0.9h-0.9zM140.4 497.8h0.9v0.9h-0.9zM121.9 515.1h0.9v0.9h-0.9zM136.1 503.6h0.9v0.9h-0.9zM140.1 499.7h0.9v0.9h-0.9zM141.6 498.1h0.9v0.9h-0.9zM139.0 502.7h0.9v0.9h-0.9zM140.9 499.9h0.9v0.9h-0.9zM132.5 508.5h0.9v0.9h-0.9zM131.4 511.3h0.9v0.9h-0.9zM126.0 514.2h0.9v0.9h-0.9zM126.7 515.1h0.9v0.9h-0.9zM128.2 505.3h0.9v0.9h-0.9zM130.1 506.4h0.9v0.9h-0.9zM140.7 499.5h0.9v0.9h-0.9zM143.2 496.1h0.9v0.9h-0.9zM143.1 499.1h0.9v0.9h-0.9zM132.4 502.8h0.9v0.9h-0.9zM138.7 498.0h0.9v0.9h-0.9zM127.2 509.9h0.9v0.9h-0.9zM125.5 515.2h0.9v0.9h-0.9zM129.8 505.9h0.9v0.9h-0.9zM136.0 506.3h0.9v0.9h-0.9zM140.9 499.9h0.9v0.9h-0.9zM140.5 499.4h0.9v0.9h-0.9zM123.9 511.5h0.9v0.9h-0.9zM138.2 498.7h0.9v0.9h-0.9zM127.8 506.7h0.9v0.9h-0.9zM126.5 513.8h0.9v0.9h-0.9zM138.5 496.7h0.9v0.9h-0.9zM128.5 507.5h0.9v0.9h-0.9zM140.1 501.2h0.9v0.9h-0.9zM140.1 495.3h0.9v0.9h-0.9zM133.2 509.4h0.9v0.9h-0.9zM141.1 497.2h0.9v0.9h-0.9zM127.6 505.6h0.9v0.9h-0.9zM130.7 512.7h0.9v0.9h-0.9zM126.4 507.0h0.9v0.9h-0.9zM125.8 516.0h0.9v0.9h-0.9zM128.3 520.5h0.9v0.9h-0.9zM138.0 496.4h0.9v0.9h-0.9zM133.5 503.7h0.9v0.9h-0.9zM130.3 506.2h0.9v0.9h-0.9zM142.0 495.6h0.9v0.9h-0.9zM126.3 515.8h0.9v0.9h-0.9zM138.0 503.8h0.9v0.9h-0.9zM138.6 497.1h0.9v0.9h-0.9zM118.4 510.1h0.9v0.9h-0.9zM122.6 516.1h0.9v0.9h-0.9zM129.0 516.3h0.9v0.9h-0.9zM133.8 504.4h0.9v0.9h-0.9zM132.6 503.4h0.9v0.9h-0.9zM141.8 496.2h0.9v0.9h-0.9zM130.7 503.7h0.9v0.9h-0.9zM131.5 513.3h0.9v0.9h-0.9zM136.3 500.4h0.9v0.9h-0.9zM128.4 509.0h0.9v0.9h-0.9zM137.9 496.7h0.9v0.9h-0.9zM132.1 510.1h0.9v0.9h-0.9zM130.0 504.2h0.9v0.9h-0.9zM135.1 504.3h0.9v0.9h-0.9zM141.6 493.4h0.9v0.9h-0.9zM125.0 518.7h0.9v0.9h-0.9zM131.1 503.5h0.9v0.9h-0.9zM141.5 498.1h0.9v0.9h-0.9zM138.8 501.4h0.9v0.9h-0.9zM136.9 494.6h0.9v0.9h-0.9zM140.0 505.5h0.9v0.9h-0.9zM123.6 515.6h0.9v0.9h-0.9zM135.0 503.9h0.9v0.9h-0.9zM128.9 508.8h0.9v0.9h-0.9zM126.1 516.7h0.9v0.9h-0.9zM142.9 496.9h0.9v0.9h-0.9zM129.8 504.2h0.9v0.9h-0.9zM127.3 507.8h0.9v0.9h-0.9zM142.7 493.8h0.9v0.9h-0.9zM142.7 494.6h0.9v0.9h-0.9zM119.6 510.3h0.9v0.9h-0.9zM124.1 512.7h0.9v0.9h-0.9zM132.1 507.5h0.9v0.9h-0.9zM145.3 496.0h0.9v0.9h-0.9zM122.4 506.7h0.9v0.9h-0.9zM128.5 512.7h0.9v0.9h-0.9zM123.5 515.0h0.9v0.9h-0.9zM132.8 503.6h0.9v0.9h-0.9zM136.8 506.1h0.9v0.9h-0.9zM134.3 502.0h0.9v0.9h-0.9zM139.6 503.3h0.9v0.9h-0.9zM136.0 498.6h0.9v0.9h-0.9zM128.7 510.1h0.9v0.9h-0.9zM119.9 512.1h0.9v0.9h-0.9zM126.7 512.5h0.9v0.9h-0.9zM142.9 499.1h0.9v0.9h-0.9zM138.0 496.1h0.9v0.9h-0.9zM133.4 505.9h0.9v0.9h-0.9zM139.3 500.9h0.9v0.9h-0.9zM143.8 494.4h0.9v0.9h-0.9zM129.9 508.4h0.9v0.9h-0.9zM128.9 507.6h0.9v0.9h-0.9z" fill="#5058b0" opacity="0.45"/>
<path d="M126.6 513.8h0.9v0.9h-0.9zM124.2 514.6h0.9v0.9h-0.9zM125.6 511.3h0.9v0.9h-0.9zM130.9 516.6h0.9v0.9h-0.9zM126.6 512.6h0.9v0.9h-0.9zM126.4 506.5h0.9v0.9h-0.9zM125.8 520.2h0.9v0.9h-0.9zM126.8 514.7h0.9v0.9h-0.9zM130.9 516.3h0.9v0.9h-0.9zM128.0 514.6h0.9v0.9h-0.9zM127.0 520.4h0.9v0.9h-0.9zM129.9 511.6h0.9v0.9h-0.9zM134.4 509.1h0.9v0.9h-0.9zM133.0 519.8h0.9v0.9h-0.9zM123.1 513.9h0.9v0.9h-0.9zM125.3 512.3h0.9v0.9h-0.9zM127.1 504.7h0.9v0.9h-0.9zM134.0 511.9h0.9v0.9h-0.9zM132.8 509.8h0.9v0.9h-0.9zM126.2 510.7h0.9v0.9h-0.9zM121.0 518.5h0.9v0.9h-0.9zM134.3 516.9h0.9v0.9h-0.9zM131.4 510.9h0.9v0.9h-0.9zM130.3 522.8h0.9v0.9h-0.9zM136.2 513.2h0.9v0.9h-0.9zM122.7 514.6h0.9v0.9h-0.9zM115.3 515.9h0.9v0.9h-0.9zM125.2 511.3h0.9v0.9h-0.9zM134.0 517.6h0.9v0.9h-0.9zM127.1 508.7h0.9v0.9h-0.9zM119.6 508.2h0.9v0.9h-0.9zM131.5 513.4h0.9v0.9h-0.9zM125.3 512.5h0.9v0.9h-0.9zM127.1 507.5h0.9v0.9h-0.9zM126.5 516.8h0.9v0.9h-0.9zM137.0 509.9h0.9v0.9h-0.9zM129.2 508.0h0.9v0.9h-0.9zM131.5 511.8h0.9v0.9h-0.9zM128.2 516.6h0.9v0.9h-0.9zM132.3 513.8h0.9v0.9h-0.9zM130.8 514.5h0.9v0.9h-0.9zM118.7 513.6h0.9v0.9h-0.9zM125.9 517.9h0.9v0.9h-0.9zM128.3 509.3h0.9v0.9h-0.9zM125.2 515.7h0.9v0.9h-0.9zM128.6 512.4h0.9v0.9h-0.9zM134.6 514.4h0.9v0.9h-0.9zM127.6 516.8h0.9v0.9h-0.9zM131.5 513.9h0.9v0.9h-0.9zM130.2 502.5h0.9v0.9h-0.9zM133.5 510.6h0.9v0.9h-0.9zM131.9 509.9h0.9v0.9h-0.9zM128.5 507.6h0.9v0.9h-0.9zM132.5 509.2h0.9v0.9h-0.9zM136.0 512.6h0.9v0.9h-0.9zM130.1 509.3h0.9v0.9h-0.9zM124.1 513.4h0.9v0.9h-0.9zM126.8 511.9h0.9v0.9h-0.9zM120.6 510.7h0.9v0.9h-0.9zM129.9 507.5h0.9v0.9h-0.9z" fill="#7a70b8" opacity="0.35"/>
<path d="M127.5 482.5h0.9v0.9h-0.9zM135.2 484.8h0.9v0.9h-0.9zM126.4 484.7h0.9v0.9h-0.9zM135.8 482.1h0.9v0.9h-0.9zM135.7 497.3h0.9v0.9h-0.9zM122.2 483.7h0.9v0.9h-0.9zM132.1 488.0h0.9v0.9h-0.9zM142.3 486.8h0.9v0.9h-0.9zM129.5 481.5h0.9v0.9h-0.9zM112.9 479.7h0.9v0.9h-0.9zM142.9 481.6h0.9v0.9h-0.9zM137.4 488.8h0.9v0.9h-0.9zM131.0 480.5h0.9v0.9h-0.9zM148.3 490.1h0.9v0.9h-0.9zM136.0 480.5h0.9v0.9h-0.9zM135.5 480.7h0.9v0.9h-0.9zM123.9 486.9h0.9v0.9h-0.9zM133.7 488.0h0.9v0.9h-0.9zM134.7 486.1h0.9v0.9h-0.9zM134.6 481.4h0.9v0.9h-0.9zM132.6 489.3h0.9v0.9h-0.9zM145.3 478.3h0.9v0.9h-0.9zM141.9 483.5h0.9v0.9h-0.9zM140.5 484.0h0.9v0.9h-0.9zM132.8 487.1h0.9v0.9h-0.9z" fill="#a0a0c0" opacity="0.3"/>
<path d="M124.5,514 L146,492.6 L134.5,510.5Z" fill="#5a6cc8" stroke="#5a6cc8" stroke-width="5" stroke-linejoin="round" opacity="0.5" filter="url(#bl1)"/>
<g filter="url(#bl05)"><path d="M126,512.5 L145.2,493.6 L133.6,509Z" fill="#2f4aa8" stroke="#2f4aa8" stroke-width="3.0" stroke-linejoin="round"/><path d="M130.5,508.5 L140.5,498.5" stroke="#5aa8d8" stroke-width="2.6" stroke-linecap="round"/><path d="M132.5,506.5 L138.5,500.5" stroke="#a8c860" stroke-width="1.5" stroke-linecap="round"/></g>
</g>
<rect x="108.4" y="474.6" width="53.4" height="53.6" fill="none" stroke="#8a8a8a" stroke-width="0.8"/>
<path d="M115.1 528.2v-1.2M108.4 481.3h1.2M121.8 528.2v-1.2M108.4 488.0h1.2M128.4 528.2v-1.2M108.4 494.7h1.2M135.1 528.2v-1.2M108.4 501.4h1.2M141.8 528.2v-1.2M108.4 508.1h1.2M148.4 528.2v-1.2M108.4 514.8h1.2M155.1 528.2v-1.2M108.4 521.5h1.2" stroke="#8a8a8a" stroke-width="0.5"/>
<text x="110.40" y="480.60" font-size="5.0" font-weight="bold" fill="#000" textLength="13.5" lengthAdjust="spacingAndGlyphs">M &lt;1%</text>
<text x="161.30" y="493.60" font-size="5.0" font-weight="bold" fill="#000" text-anchor="end" textLength="15.5" lengthAdjust="spacingAndGlyphs">B - 99%</text>
<text x="160.80" y="525.90" font-size="5.0" font-weight="bold" fill="#000" text-anchor="end" textLength="13.5" lengthAdjust="spacingAndGlyphs">T &lt;1%</text>
<clipPath id="c12"><rect x="107.9" y="542.4" width="53.6" height="53.2"/></clipPath>
<g clip-path="url(#c12)">
<line x1="132.70" y1="542.40" x2="132.70" y2="595.60" stroke="#b4b4b4" stroke-width="0.6"/>
<line x1="132.70" y1="569.40" x2="161.50" y2="569.40" stroke="#b4b4b4" stroke-width="0.6"/>
<path d="M139.4 578.0h0.9v0.9h-0.9zM146.2 586.7h0.9v0.9h-0.9zM134.4 586.2h0.9v0.9h-0.9zM141.3 564.0h0.9v0.9h-0.9zM131.9 591.5h0.9v0.9h-0.9zM147.7 568.6h0.9v0.9h-0.9zM145.4 568.5h0.9v0.9h-0.9zM143.6 600.4h0.9v0.9h-0.9zM139.1 592.2h0.9v0.9h-0.9zM134.4 576.3h0.9v0.9h-0.9zM136.3 596.4h0.9v0.9h-0.9zM142.9 571.4h0.9v0.9h-0.9zM131.3 575.0h0.9v0.9h-0.9zM145.1 588.8h0.9v0.9h-0.9zM135.9 587.1h0.9v0.9h-0.9zM140.8 575.8h0.9v0.9h-0.9zM142.1 599.4h0.9v0.9h-0.9zM137.9 578.4h0.9v0.9h-0.9zM139.4 573.8h0.9v0.9h-0.9zM141.7 575.2h0.9v0.9h-0.9zM127.4 582.3h0.9v0.9h-0.9zM128.0 579.2h0.9v0.9h-0.9zM140.8 594.0h0.9v0.9h-0.9zM147.4 583.8h0.9v0.9h-0.9zM132.6 579.9h0.9v0.9h-0.9zM153.7 584.4h0.9v0.9h-0.9zM144.3 606.5h0.9v0.9h-0.9zM140.2 563.2h0.9v0.9h-0.9zM146.1 582.2h0.9v0.9h-0.9zM131.2 595.2h0.9v0.9h-0.9zM139.0 601.1h0.9v0.9h-0.9zM132.0 592.5h0.9v0.9h-0.9zM145.8 579.3h0.9v0.9h-0.9zM146.1 561.7h0.9v0.9h-0.9zM157.6 587.9h0.9v0.9h-0.9zM142.8 602.0h0.9v0.9h-0.9zM157.4 562.4h0.9v0.9h-0.9zM140.3 561.1h0.9v0.9h-0.9zM138.5 572.7h0.9v0.9h-0.9zM146.2 577.5h0.9v0.9h-0.9zM129.1 584.5h0.9v0.9h-0.9zM136.1 587.5h0.9v0.9h-0.9zM130.7 568.8h0.9v0.9h-0.9zM136.8 574.4h0.9v0.9h-0.9zM138.9 585.1h0.9v0.9h-0.9zM143.5 580.3h0.9v0.9h-0.9zM141.5 574.6h0.9v0.9h-0.9zM128.9 572.9h0.9v0.9h-0.9zM136.8 574.7h0.9v0.9h-0.9zM127.1 572.7h0.9v0.9h-0.9zM136.6 568.8h0.9v0.9h-0.9zM137.2 577.3h0.9v0.9h-0.9zM143.9 587.3h0.9v0.9h-0.9zM132.6 583.6h0.9v0.9h-0.9zM138.2 576.9h0.9v0.9h-0.9zM148.3 585.9h0.9v0.9h-0.9zM142.2 566.9h0.9v0.9h-0.9zM138.0 589.1h0.9v0.9h-0.9zM135.1 569.4h0.9v0.9h-0.9zM132.9 580.1h0.9v0.9h-0.9zM133.5 606.1h0.9v0.9h-0.9zM140.1 579.4h0.9v0.9h-0.9zM136.5 583.4h0.9v0.9h-0.9zM143.2 575.1h0.9v0.9h-0.9zM136.9 589.6h0.9v0.9h-0.9zM141.0 585.7h0.9v0.9h-0.9zM140.2 573.0h0.9v0.9h-0.9zM143.2 585.8h0.9v0.9h-0.9zM140.1 578.3h0.9v0.9h-0.9zM146.2 569.9h0.9v0.9h-0.9zM143.4 577.1h0.9v0.9h-0.9zM141.2 586.5h0.9v0.9h-0.9zM130.2 577.2h0.9v0.9h-0.9zM140.0 580.3h0.9v0.9h-0.9zM155.0 571.5h0.9v0.9h-0.9zM141.3 587.0h0.9v0.9h-0.9zM126.6 586.5h0.9v0.9h-0.9zM145.7 573.4h0.9v0.9h-0.9zM138.7 572.1h0.9v0.9h-0.9zM148.8 571.5h0.9v0.9h-0.9zM131.3 570.9h0.9v0.9h-0.9zM135.3 579.6h0.9v0.9h-0.9zM140.5 588.5h0.9v0.9h-0.9zM128.1 581.3h0.9v0.9h-0.9zM138.4 578.7h0.9v0.9h-0.9zM135.7 574.2h0.9v0.9h-0.9zM143.9 589.8h0.9v0.9h-0.9zM130.0 582.9h0.9v0.9h-0.9zM134.0 585.1h0.9v0.9h-0.9zM137.9 564.6h0.9v0.9h-0.9zM135.3 579.0h0.9v0.9h-0.9zM146.8 592.4h0.9v0.9h-0.9zM147.4 580.2h0.9v0.9h-0.9zM143.5 575.5h0.9v0.9h-0.9zM149.9 570.1h0.9v0.9h-0.9zM133.5 588.1h0.9v0.9h-0.9zM130.7 581.1h0.9v0.9h-0.9zM148.4 581.6h0.9v0.9h-0.9zM144.6 580.4h0.9v0.9h-0.9zM142.2 565.7h0.9v0.9h-0.9zM151.8 575.6h0.9v0.9h-0.9zM137.5 580.6h0.9v0.9h-0.9zM149.2 575.7h0.9v0.9h-0.9zM139.7 588.7h0.9v0.9h-0.9zM145.0 574.7h0.9v0.9h-0.9zM138.3 579.1h0.9v0.9h-0.9zM134.9 567.6h0.9v0.9h-0.9zM135.4 565.0h0.9v0.9h-0.9zM154.3 569.7h0.9v0.9h-0.9zM144.5 559.5h0.9v0.9h-0.9zM136.7 595.1h0.9v0.9h-0.9zM139.1 562.6h0.9v0.9h-0.9zM137.3 561.6h0.9v0.9h-0.9zM126.5 594.6h0.9v0.9h-0.9zM137.8 580.7h0.9v0.9h-0.9zM148.9 571.3h0.9v0.9h-0.9zM141.9 579.4h0.9v0.9h-0.9zM135.1 575.1h0.9v0.9h-0.9zM132.1 564.0h0.9v0.9h-0.9zM144.9 573.2h0.9v0.9h-0.9zM119.1 595.9h0.9v0.9h-0.9zM139.9 576.7h0.9v0.9h-0.9zM150.4 554.3h0.9v0.9h-0.9zM140.5 569.1h0.9v0.9h-0.9zM142.1 589.1h0.9v0.9h-0.9zM141.3 569.6h0.9v0.9h-0.9zM138.8 587.1h0.9v0.9h-0.9zM144.9 583.5h0.9v0.9h-0.9zM141.8 569.3h0.9v0.9h-0.9zM142.2 565.7h0.9v0.9h-0.9zM140.0 573.9h0.9v0.9h-0.9zM142.4 590.7h0.9v0.9h-0.9zM141.0 586.0h0.9v0.9h-0.9zM138.9 572.8h0.9v0.9h-0.9zM144.9 577.4h0.9v0.9h-0.9zM131.8 578.3h0.9v0.9h-0.9zM139.3 582.6h0.9v0.9h-0.9zM143.5 571.1h0.9v0.9h-0.9zM145.2 558.5h0.9v0.9h-0.9zM152.0 565.9h0.9v0.9h-0.9zM143.4 592.0h0.9v0.9h-0.9zM137.7 562.5h0.9v0.9h-0.9zM132.6 576.6h0.9v0.9h-0.9zM141.6 589.9h0.9v0.9h-0.9zM137.7 574.8h0.9v0.9h-0.9zM138.7 577.7h0.9v0.9h-0.9zM133.2 572.9h0.9v0.9h-0.9zM135.5 586.4h0.9v0.9h-0.9zM136.7 574.6h0.9v0.9h-0.9zM154.6 579.4h0.9v0.9h-0.9zM145.5 550.0h0.9v0.9h-0.9zM141.6 583.1h0.9v0.9h-0.9zM143.2 579.1h0.9v0.9h-0.9zM137.3 563.0h0.9v0.9h-0.9zM146.3 573.9h0.9v0.9h-0.9zM127.9 593.6h0.9v0.9h-0.9zM149.9 566.6h0.9v0.9h-0.9zM150.0 557.3h0.9v0.9h-0.9zM142.6 570.4h0.9v0.9h-0.9zM140.7 584.8h0.9v0.9h-0.9z" fill="#8a88c8" opacity="0.35"/>
<path d="M126.7 582.3h0.9v0.9h-0.9zM121.3 586.1h0.9v0.9h-0.9zM113.5 580.1h0.9v0.9h-0.9zM117.0 563.7h0.9v0.9h-0.9zM121.0 582.7h0.9v0.9h-0.9zM123.4 591.6h0.9v0.9h-0.9zM114.7 560.9h0.9v0.9h-0.9zM119.5 593.5h0.9v0.9h-0.9zM106.7 573.1h0.9v0.9h-0.9zM118.7 580.6h0.9v0.9h-0.9zM117.0 576.4h0.9v0.9h-0.9zM123.8 561.5h0.9v0.9h-0.9zM119.3 564.0h0.9v0.9h-0.9zM122.0 587.1h0.9v0.9h-0.9zM128.6 566.8h0.9v0.9h-0.9zM118.6 589.0h0.9v0.9h-0.9zM105.7 604.1h0.9v0.9h-0.9zM110.5 585.9h0.9v0.9h-0.9zM122.9 567.9h0.9v0.9h-0.9zM121.7 575.1h0.9v0.9h-0.9zM104.8 584.4h0.9v0.9h-0.9zM126.4 598.6h0.9v0.9h-0.9zM117.0 571.1h0.9v0.9h-0.9zM121.0 563.2h0.9v0.9h-0.9zM122.3 577.6h0.9v0.9h-0.9zM115.6 570.1h0.9v0.9h-0.9zM139.9 591.1h0.9v0.9h-0.9zM120.7 591.2h0.9v0.9h-0.9zM126.6 553.8h0.9v0.9h-0.9zM127.4 579.8h0.9v0.9h-0.9zM134.1 576.5h0.9v0.9h-0.9zM122.2 579.7h0.9v0.9h-0.9zM121.4 553.5h0.9v0.9h-0.9zM132.1 565.3h0.9v0.9h-0.9zM128.8 588.9h0.9v0.9h-0.9zM121.8 571.2h0.9v0.9h-0.9zM119.2 565.5h0.9v0.9h-0.9zM116.3 566.3h0.9v0.9h-0.9zM131.7 574.0h0.9v0.9h-0.9zM116.7 578.8h0.9v0.9h-0.9zM121.4 574.7h0.9v0.9h-0.9zM129.9 604.4h0.9v0.9h-0.9zM116.4 579.7h0.9v0.9h-0.9zM117.3 580.9h0.9v0.9h-0.9zM108.5 540.2h0.9v0.9h-0.9zM123.9 571.5h0.9v0.9h-0.9zM118.0 577.2h0.9v0.9h-0.9zM123.6 564.2h0.9v0.9h-0.9zM113.7 577.0h0.9v0.9h-0.9zM119.2 605.5h0.9v0.9h-0.9zM121.2 575.3h0.9v0.9h-0.9zM125.5 579.6h0.9v0.9h-0.9zM117.5 582.2h0.9v0.9h-0.9zM105.6 562.1h0.9v0.9h-0.9zM116.3 591.0h0.9v0.9h-0.9zM120.4 561.7h0.9v0.9h-0.9zM112.1 570.6h0.9v0.9h-0.9zM119.6 578.7h0.9v0.9h-0.9zM130.0 580.6h0.9v0.9h-0.9zM121.6 575.9h0.9v0.9h-0.9zM132.5 566.1h0.9v0.9h-0.9zM118.1 590.1h0.9v0.9h-0.9zM117.9 577.0h0.9v0.9h-0.9zM129.0 582.5h0.9v0.9h-0.9zM114.7 562.8h0.9v0.9h-0.9zM123.7 591.6h0.9v0.9h-0.9zM119.2 582.1h0.9v0.9h-0.9zM128.4 570.6h0.9v0.9h-0.9zM127.1 575.5h0.9v0.9h-0.9zM118.6 566.5h0.9v0.9h-0.9zM119.7 559.4h0.9v0.9h-0.9zM112.4 560.8h0.9v0.9h-0.9zM122.0 574.0h0.9v0.9h-0.9zM125.2 562.5h0.9v0.9h-0.9zM119.5 579.1h0.9v0.9h-0.9zM131.7 565.7h0.9v0.9h-0.9zM120.0 575.5h0.9v0.9h-0.9zM133.3 597.2h0.9v0.9h-0.9zM110.5 576.1h0.9v0.9h-0.9zM122.7 574.3h0.9v0.9h-0.9zM118.8 586.3h0.9v0.9h-0.9zM111.7 569.8h0.9v0.9h-0.9zM126.5 573.3h0.9v0.9h-0.9zM116.2 563.2h0.9v0.9h-0.9zM129.2 569.8h0.9v0.9h-0.9zM111.6 582.1h0.9v0.9h-0.9zM123.0 575.9h0.9v0.9h-0.9zM121.8 566.9h0.9v0.9h-0.9zM113.0 588.4h0.9v0.9h-0.9zM115.9 586.8h0.9v0.9h-0.9zM116.1 567.1h0.9v0.9h-0.9zM119.4 550.8h0.9v0.9h-0.9zM123.7 575.3h0.9v0.9h-0.9zM120.0 571.6h0.9v0.9h-0.9zM123.7 566.6h0.9v0.9h-0.9zM114.1 551.1h0.9v0.9h-0.9zM122.4 576.4h0.9v0.9h-0.9zM117.0 592.8h0.9v0.9h-0.9zM122.1 562.9h0.9v0.9h-0.9zM114.2 573.0h0.9v0.9h-0.9zM120.0 556.1h0.9v0.9h-0.9zM124.0 573.3h0.9v0.9h-0.9zM118.7 592.9h0.9v0.9h-0.9zM130.7 569.7h0.9v0.9h-0.9zM118.8 569.3h0.9v0.9h-0.9zM104.7 586.5h0.9v0.9h-0.9zM112.4 577.7h0.9v0.9h-0.9zM117.2 556.5h0.9v0.9h-0.9zM122.9 572.7h0.9v0.9h-0.9zM123.3 587.4h0.9v0.9h-0.9zM111.8 580.0h0.9v0.9h-0.9zM120.1 550.5h0.9v0.9h-0.9zM113.9 559.4h0.9v0.9h-0.9zM110.4 587.4h0.9v0.9h-0.9zM125.6 580.1h0.9v0.9h-0.9zM125.7 583.3h0.9v0.9h-0.9zM126.3 591.4h0.9v0.9h-0.9zM122.9 561.5h0.9v0.9h-0.9zM107.9 576.5h0.9v0.9h-0.9zM117.2 585.4h0.9v0.9h-0.9zM113.6 587.8h0.9v0.9h-0.9zM116.8 591.0h0.9v0.9h-0.9zM125.3 590.7h0.9v0.9h-0.9zM137.8 553.0h0.9v0.9h-0.9zM116.3 566.2h0.9v0.9h-0.9zM120.3 566.9h0.9v0.9h-0.9zM110.6 567.4h0.9v0.9h-0.9zM121.4 560.7h0.9v0.9h-0.9zM125.3 576.9h0.9v0.9h-0.9zM124.1 560.0h0.9v0.9h-0.9zM121.0 584.0h0.9v0.9h-0.9zM122.3 584.5h0.9v0.9h-0.9zM119.0 577.3h0.9v0.9h-0.9zM114.1 586.9h0.9v0.9h-0.9zM124.1 589.0h0.9v0.9h-0.9zM111.1 592.4h0.9v0.9h-0.9zM123.2 566.8h0.9v0.9h-0.9zM114.5 569.2h0.9v0.9h-0.9zM112.7 582.9h0.9v0.9h-0.9zM129.9 582.5h0.9v0.9h-0.9zM124.4 584.5h0.9v0.9h-0.9zM112.7 558.7h0.9v0.9h-0.9zM119.2 565.2h0.9v0.9h-0.9zM120.3 573.8h0.9v0.9h-0.9zM119.5 574.1h0.9v0.9h-0.9zM121.6 600.0h0.9v0.9h-0.9zM119.6 572.3h0.9v0.9h-0.9zM116.6 581.5h0.9v0.9h-0.9zM115.5 581.4h0.9v0.9h-0.9zM110.4 561.7h0.9v0.9h-0.9zM112.9 573.7h0.9v0.9h-0.9zM133.2 558.2h0.9v0.9h-0.9zM116.9 580.5h0.9v0.9h-0.9zM115.5 567.2h0.9v0.9h-0.9zM123.5 595.9h0.9v0.9h-0.9zM126.6 571.0h0.9v0.9h-0.9zM112.5 554.3h0.9v0.9h-0.9zM116.0 585.4h0.9v0.9h-0.9zM122.8 570.7h0.9v0.9h-0.9zM112.0 567.5h0.9v0.9h-0.9zM120.1 578.8h0.9v0.9h-0.9zM130.3 562.0h0.9v0.9h-0.9zM133.9 599.8h0.9v0.9h-0.9zM109.3 573.8h0.9v0.9h-0.9zM128.3 584.2h0.9v0.9h-0.9zM124.0 587.6h0.9v0.9h-0.9zM123.7 594.0h0.9v0.9h-0.9zM116.8 570.2h0.9v0.9h-0.9zM124.2 579.3h0.9v0.9h-0.9zM119.0 588.2h0.9v0.9h-0.9zM108.6 600.5h0.9v0.9h-0.9zM127.2 569.4h0.9v0.9h-0.9zM114.5 562.6h0.9v0.9h-0.9zM124.3 554.2h0.9v0.9h-0.9zM117.6 583.7h0.9v0.9h-0.9zM116.2 595.1h0.9v0.9h-0.9zM120.7 566.4h0.9v0.9h-0.9zM111.8 579.9h0.9v0.9h-0.9zM121.3 584.4h0.9v0.9h-0.9zM116.0 546.8h0.9v0.9h-0.9zM123.2 581.3h0.9v0.9h-0.9zM129.4 589.1h0.9v0.9h-0.9zM123.4 575.5h0.9v0.9h-0.9zM115.9 577.8h0.9v0.9h-0.9zM101.6 584.9h0.9v0.9h-0.9zM109.0 592.5h0.9v0.9h-0.9zM116.4 556.4h0.9v0.9h-0.9zM116.2 581.4h0.9v0.9h-0.9zM110.8 572.6h0.9v0.9h-0.9zM116.2 570.9h0.9v0.9h-0.9zM125.3 588.1h0.9v0.9h-0.9zM110.5 567.1h0.9v0.9h-0.9zM141.6 579.7h0.9v0.9h-0.9zM120.9 573.9h0.9v0.9h-0.9zM122.5 585.9h0.9v0.9h-0.9zM118.0 559.5h0.9v0.9h-0.9zM128.9 560.8h0.9v0.9h-0.9zM118.0 564.6h0.9v0.9h-0.9zM122.9 584.5h0.9v0.9h-0.9zM118.5 563.6h0.9v0.9h-0.9z" fill="#3a50b0" opacity="0.45"/>
<g filter="url(#bl05)"><path d="M108.4,559 Q112,555 120,556 Q129,555.5 130.5,560 Q131.5,566 128,571.5 Q131,579 130,586 Q129,593 122,593.5 L108.4,593.5 Z" fill="#2a40a0"/><path d="M108.4,561 Q112,557.5 120,558 Q127.5,557.5 128.5,561 Q129.5,566 125.5,571.5 Q129,579 128,585.5 Q127,591 121,591.5 L108.4,591.5 Z" fill="#3462c0"/><path d="M108.4,563 Q113,560 120,560.5 Q126,560 126.5,563 Q127,567 123,572 Q126.5,579 125.5,585 Q124.5,589 120,589.5 L108.4,589.5 Z" fill="#52acdc"/><ellipse cx="122.5" cy="565.0" rx="4.8" ry="5.4" fill="#7cc470"/><ellipse cx="119.5" cy="579.4" rx="8.6" ry="8.4" fill="#7cc470"/><ellipse cx="120.4" cy="579.4" rx="7.0" ry="7.0" fill="#98cc4a"/><ellipse cx="123.3" cy="564.4" rx="2.2" ry="2.6" fill="#d8dc3c"/><ellipse cx="121.2" cy="579.4" rx="5.0" ry="5.0" fill="#eedc36"/><ellipse cx="121.5" cy="579.3" rx="3.2" ry="3.1" fill="#e07a22"/><ellipse cx="121.6" cy="579.3" rx="1.8" ry="1.7" fill="#b81a12"/></g>
</g>
<rect x="107.9" y="542.4" width="53.6" height="53.2" fill="none" stroke="#8a8a8a" stroke-width="0.8"/>
<path d="M114.6 595.6v-1.2M107.9 549.0h1.2M121.3 595.6v-1.2M107.9 555.7h1.2M128.0 595.6v-1.2M107.9 562.4h1.2M134.7 595.6v-1.2M107.9 569.0h1.2M141.4 595.6v-1.2M107.9 575.6h1.2M148.1 595.6v-1.2M107.9 582.3h1.2M154.8 595.6v-1.2M107.9 588.9h1.2" stroke="#8a8a8a" stroke-width="0.5"/>
<text x="160.40" y="548.10" font-size="5.0" font-weight="bold" fill="#000" text-anchor="end" textLength="20.8" lengthAdjust="spacingAndGlyphs">Mast &lt;1%</text>
<path d="M102.7,520.0 L102.7,534.0 L116.4,534.0" stroke="#000" stroke-width="1.2" fill="none"/>
<path d="M102.7,517.4 L100.9,521.6 L104.5,521.6Z" fill="#000"/>
<path d="M119.0,534.0 L114.8,532.2 L114.8,535.8Z" fill="#000"/>
<text x="105.22" y="488.50" font-size="7.0" font-weight="normal" fill="#000" text-anchor="middle" textLength="54" lengthAdjust="spacingAndGlyphs" transform="rotate(-90 105.22 488.50)" style="stroke-width:0.3px">B220 / Gr-1 / Mac-1</text>
<text x="120.50" y="536.52" font-size="7.0" font-weight="normal" fill="#000" textLength="50.5" lengthAdjust="spacingAndGlyphs" style="stroke-width:0.3px">B220 / CD4 / CD8</text>
<path d="M102.7,587.0 L102.7,602.1 L116.4,602.1" stroke="#000" stroke-width="1.2" fill="none"/>
<path d="M102.7,584.4 L100.9,588.6 L104.5,588.6Z" fill="#000"/>
<path d="M119.0,602.1 L114.8,600.3 L114.8,603.9Z" fill="#000"/>
<text x="105.22" y="575.90" font-size="7.0" font-weight="normal" fill="#000" text-anchor="middle" textLength="12.5" lengthAdjust="spacingAndGlyphs" transform="rotate(-90 105.22 575.90)" style="stroke-width:0.3px">c-Kit</text>
<text x="122.60" y="604.62" font-size="7.0" font-weight="normal" fill="#000" textLength="12.7" lengthAdjust="spacingAndGlyphs" style="stroke-width:0.3px">FcεR1</text>
<line x1="83.50" y1="535.40" x2="96.50" y2="521.90" stroke="#a02838" stroke-width="0.8"/>
<line x1="83.50" y1="535.40" x2="97.30" y2="550.00" stroke="#a02838" stroke-width="0.8"/>
<text x="229.20" y="502.60" font-size="10.2" font-weight="bold" fill="#000" text-anchor="middle" textLength="58.5" lengthAdjust="spacingAndGlyphs">Mastocytosis</text>
<text x="229.50" y="514.30" font-size="10.2" font-weight="bold" fill="#000" text-anchor="middle" textLength="42" lengthAdjust="spacingAndGlyphs">/ Myeloid</text>
<clipPath id="c13"><rect x="204.0" y="522.6" width="54.6" height="53.6"/></clipPath>
<g clip-path="url(#c13)">
<line x1="222.30" y1="522.60" x2="222.30" y2="576.20" stroke="#b4b4b4" stroke-width="0.6"/>
<line x1="204.00" y1="550.80" x2="258.60" y2="550.80" stroke="#b4b4b4" stroke-width="0.6"/>
<path d="M214.4 566.9h0.9v0.9h-0.9zM219.9 541.1h0.9v0.9h-0.9zM215.3 558.8h0.9v0.9h-0.9zM217.3 568.6h0.9v0.9h-0.9zM214.1 565.3h0.9v0.9h-0.9zM214.2 558.6h0.9v0.9h-0.9zM211.9 561.8h0.9v0.9h-0.9zM225.4 563.0h0.9v0.9h-0.9zM206.4 552.0h0.9v0.9h-0.9zM220.5 552.9h0.9v0.9h-0.9zM215.1 570.1h0.9v0.9h-0.9zM214.3 572.8h0.9v0.9h-0.9zM224.4 551.2h0.9v0.9h-0.9zM227.6 580.1h0.9v0.9h-0.9zM219.3 544.5h0.9v0.9h-0.9zM231.5 558.6h0.9v0.9h-0.9zM225.1 556.5h0.9v0.9h-0.9zM226.1 559.2h0.9v0.9h-0.9zM229.1 546.6h0.9v0.9h-0.9zM223.4 559.2h0.9v0.9h-0.9zM225.6 544.7h0.9v0.9h-0.9zM211.0 555.3h0.9v0.9h-0.9zM208.2 567.6h0.9v0.9h-0.9zM218.3 567.2h0.9v0.9h-0.9zM220.6 569.8h0.9v0.9h-0.9zM228.1 548.4h0.9v0.9h-0.9zM232.5 563.5h0.9v0.9h-0.9zM222.7 565.3h0.9v0.9h-0.9zM220.6 556.1h0.9v0.9h-0.9zM205.2 562.4h0.9v0.9h-0.9zM232.4 556.9h0.9v0.9h-0.9zM207.5 548.9h0.9v0.9h-0.9zM207.8 557.7h0.9v0.9h-0.9zM217.4 543.5h0.9v0.9h-0.9zM232.4 550.6h0.9v0.9h-0.9zM225.2 580.2h0.9v0.9h-0.9zM224.2 570.2h0.9v0.9h-0.9zM209.4 552.6h0.9v0.9h-0.9zM223.8 562.5h0.9v0.9h-0.9zM222.2 575.2h0.9v0.9h-0.9zM225.9 532.6h0.9v0.9h-0.9zM214.7 586.4h0.9v0.9h-0.9zM211.7 584.1h0.9v0.9h-0.9zM210.1 568.8h0.9v0.9h-0.9zM216.7 586.7h0.9v0.9h-0.9zM213.2 550.1h0.9v0.9h-0.9zM207.7 551.0h0.9v0.9h-0.9zM219.7 571.8h0.9v0.9h-0.9zM225.0 561.7h0.9v0.9h-0.9zM220.5 573.4h0.9v0.9h-0.9zM207.4 569.7h0.9v0.9h-0.9zM210.7 554.0h0.9v0.9h-0.9zM212.6 566.6h0.9v0.9h-0.9zM210.6 553.4h0.9v0.9h-0.9zM206.8 560.4h0.9v0.9h-0.9zM219.3 548.0h0.9v0.9h-0.9zM216.9 566.0h0.9v0.9h-0.9zM210.5 566.6h0.9v0.9h-0.9zM223.1 565.4h0.9v0.9h-0.9zM209.8 560.6h0.9v0.9h-0.9zM214.3 579.0h0.9v0.9h-0.9zM223.0 556.7h0.9v0.9h-0.9zM216.1 534.5h0.9v0.9h-0.9zM219.6 550.7h0.9v0.9h-0.9zM223.3 550.1h0.9v0.9h-0.9zM221.1 586.5h0.9v0.9h-0.9zM221.0 552.9h0.9v0.9h-0.9zM212.0 560.9h0.9v0.9h-0.9zM221.7 583.6h0.9v0.9h-0.9zM209.0 550.8h0.9v0.9h-0.9zM224.5 555.0h0.9v0.9h-0.9zM214.1 581.7h0.9v0.9h-0.9zM219.0 570.7h0.9v0.9h-0.9zM225.9 565.1h0.9v0.9h-0.9zM216.2 571.6h0.9v0.9h-0.9zM227.2 534.6h0.9v0.9h-0.9zM198.0 554.8h0.9v0.9h-0.9zM206.8 592.7h0.9v0.9h-0.9zM217.9 539.0h0.9v0.9h-0.9zM217.2 584.6h0.9v0.9h-0.9zM220.5 554.3h0.9v0.9h-0.9zM216.9 558.7h0.9v0.9h-0.9zM218.0 555.2h0.9v0.9h-0.9zM212.9 560.4h0.9v0.9h-0.9zM210.7 556.5h0.9v0.9h-0.9zM204.4 555.6h0.9v0.9h-0.9zM194.6 557.5h0.9v0.9h-0.9zM229.1 542.3h0.9v0.9h-0.9zM227.5 571.9h0.9v0.9h-0.9zM202.4 555.0h0.9v0.9h-0.9zM211.9 589.1h0.9v0.9h-0.9zM203.0 573.0h0.9v0.9h-0.9zM213.5 570.5h0.9v0.9h-0.9zM203.8 574.1h0.9v0.9h-0.9zM202.3 551.1h0.9v0.9h-0.9zM218.5 567.5h0.9v0.9h-0.9zM203.4 538.9h0.9v0.9h-0.9zM211.5 564.5h0.9v0.9h-0.9zM216.3 557.3h0.9v0.9h-0.9zM216.9 565.4h0.9v0.9h-0.9zM212.8 568.9h0.9v0.9h-0.9zM211.7 576.0h0.9v0.9h-0.9zM227.2 557.2h0.9v0.9h-0.9zM207.7 550.1h0.9v0.9h-0.9zM209.5 576.1h0.9v0.9h-0.9zM212.6 549.7h0.9v0.9h-0.9zM213.5 547.0h0.9v0.9h-0.9zM223.2 576.7h0.9v0.9h-0.9zM224.9 580.9h0.9v0.9h-0.9zM209.4 551.8h0.9v0.9h-0.9zM213.8 566.9h0.9v0.9h-0.9zM218.3 538.6h0.9v0.9h-0.9zM211.5 567.7h0.9v0.9h-0.9zM211.7 562.5h0.9v0.9h-0.9zM199.7 539.1h0.9v0.9h-0.9zM218.2 566.8h0.9v0.9h-0.9zM223.5 543.3h0.9v0.9h-0.9zM214.7 552.9h0.9v0.9h-0.9zM218.4 570.6h0.9v0.9h-0.9zM209.3 555.1h0.9v0.9h-0.9zM219.1 543.9h0.9v0.9h-0.9zM217.5 551.2h0.9v0.9h-0.9zM226.1 560.7h0.9v0.9h-0.9zM216.1 572.2h0.9v0.9h-0.9zM214.3 533.5h0.9v0.9h-0.9zM209.6 563.8h0.9v0.9h-0.9zM219.2 564.5h0.9v0.9h-0.9zM221.0 571.2h0.9v0.9h-0.9zM207.3 571.8h0.9v0.9h-0.9zM217.9 555.2h0.9v0.9h-0.9zM215.6 553.6h0.9v0.9h-0.9zM234.3 554.4h0.9v0.9h-0.9zM218.2 557.8h0.9v0.9h-0.9zM213.5 545.4h0.9v0.9h-0.9zM214.4 575.4h0.9v0.9h-0.9zM222.0 555.4h0.9v0.9h-0.9zM229.8 543.0h0.9v0.9h-0.9zM202.9 556.6h0.9v0.9h-0.9zM212.4 570.0h0.9v0.9h-0.9zM228.9 564.2h0.9v0.9h-0.9zM213.0 554.1h0.9v0.9h-0.9zM219.7 538.8h0.9v0.9h-0.9zM219.7 544.2h0.9v0.9h-0.9zM210.6 563.5h0.9v0.9h-0.9zM208.8 554.1h0.9v0.9h-0.9zM210.1 548.0h0.9v0.9h-0.9zM217.8 559.0h0.9v0.9h-0.9zM211.3 566.3h0.9v0.9h-0.9zM211.5 553.6h0.9v0.9h-0.9zM232.2 574.0h0.9v0.9h-0.9zM215.2 565.8h0.9v0.9h-0.9zM215.3 570.3h0.9v0.9h-0.9zM214.3 582.4h0.9v0.9h-0.9zM219.3 573.2h0.9v0.9h-0.9zM228.8 568.8h0.9v0.9h-0.9zM216.2 559.4h0.9v0.9h-0.9zM218.9 551.7h0.9v0.9h-0.9zM217.5 561.6h0.9v0.9h-0.9zM205.5 585.2h0.9v0.9h-0.9zM212.2 575.3h0.9v0.9h-0.9zM233.7 574.8h0.9v0.9h-0.9zM208.9 555.4h0.9v0.9h-0.9zM215.1 559.0h0.9v0.9h-0.9zM221.7 568.1h0.9v0.9h-0.9zM227.7 553.4h0.9v0.9h-0.9zM229.7 542.4h0.9v0.9h-0.9zM208.5 582.4h0.9v0.9h-0.9zM225.1 545.6h0.9v0.9h-0.9zM215.4 563.9h0.9v0.9h-0.9zM229.9 546.7h0.9v0.9h-0.9zM224.0 556.9h0.9v0.9h-0.9zM213.5 556.3h0.9v0.9h-0.9zM230.3 579.5h0.9v0.9h-0.9zM217.3 544.4h0.9v0.9h-0.9zM212.0 556.1h0.9v0.9h-0.9zM225.0 542.9h0.9v0.9h-0.9zM218.2 575.5h0.9v0.9h-0.9zM220.8 561.6h0.9v0.9h-0.9zM228.0 562.1h0.9v0.9h-0.9zM222.1 565.5h0.9v0.9h-0.9zM235.0 546.4h0.9v0.9h-0.9zM230.0 561.7h0.9v0.9h-0.9zM208.9 561.1h0.9v0.9h-0.9zM215.6 578.1h0.9v0.9h-0.9zM210.8 573.6h0.9v0.9h-0.9zM223.1 544.7h0.9v0.9h-0.9zM216.4 556.2h0.9v0.9h-0.9zM235.1 559.3h0.9v0.9h-0.9zM213.6 573.0h0.9v0.9h-0.9zM199.0 556.3h0.9v0.9h-0.9zM229.4 578.4h0.9v0.9h-0.9zM201.7 583.3h0.9v0.9h-0.9zM223.3 562.8h0.9v0.9h-0.9zM232.2 557.4h0.9v0.9h-0.9zM206.7 580.3h0.9v0.9h-0.9zM206.6 592.9h0.9v0.9h-0.9zM215.2 545.1h0.9v0.9h-0.9zM209.5 556.8h0.9v0.9h-0.9zM208.0 548.3h0.9v0.9h-0.9zM216.1 564.6h0.9v0.9h-0.9zM222.8 575.6h0.9v0.9h-0.9zM201.6 556.7h0.9v0.9h-0.9zM203.0 547.0h0.9v0.9h-0.9zM215.3 561.9h0.9v0.9h-0.9zM215.1 532.8h0.9v0.9h-0.9zM224.2 566.3h0.9v0.9h-0.9zM225.7 570.7h0.9v0.9h-0.9zM219.2 564.0h0.9v0.9h-0.9zM213.9 569.1h0.9v0.9h-0.9zM200.7 568.9h0.9v0.9h-0.9zM210.9 573.1h0.9v0.9h-0.9zM212.4 534.6h0.9v0.9h-0.9zM222.8 545.2h0.9v0.9h-0.9zM212.2 563.5h0.9v0.9h-0.9zM216.6 562.1h0.9v0.9h-0.9zM220.2 566.7h0.9v0.9h-0.9zM209.9 580.0h0.9v0.9h-0.9zM212.4 569.4h0.9v0.9h-0.9zM229.2 556.5h0.9v0.9h-0.9zM226.0 582.8h0.9v0.9h-0.9zM223.8 566.3h0.9v0.9h-0.9zM204.5 558.6h0.9v0.9h-0.9zM208.4 570.0h0.9v0.9h-0.9zM221.7 561.6h0.9v0.9h-0.9zM204.4 568.5h0.9v0.9h-0.9zM221.0 560.6h0.9v0.9h-0.9zM216.2 575.2h0.9v0.9h-0.9zM218.7 579.4h0.9v0.9h-0.9zM230.1 576.4h0.9v0.9h-0.9zM226.8 565.5h0.9v0.9h-0.9zM208.5 526.6h0.9v0.9h-0.9zM208.7 553.8h0.9v0.9h-0.9zM210.0 571.8h0.9v0.9h-0.9zM214.9 572.5h0.9v0.9h-0.9zM213.9 553.4h0.9v0.9h-0.9zM219.7 548.2h0.9v0.9h-0.9zM200.8 559.8h0.9v0.9h-0.9zM210.7 581.8h0.9v0.9h-0.9zM215.1 539.3h0.9v0.9h-0.9zM215.3 575.3h0.9v0.9h-0.9zM223.6 567.2h0.9v0.9h-0.9zM200.8 560.6h0.9v0.9h-0.9zM213.1 553.2h0.9v0.9h-0.9zM217.0 553.2h0.9v0.9h-0.9zM210.3 548.3h0.9v0.9h-0.9zM219.1 541.2h0.9v0.9h-0.9zM206.0 560.7h0.9v0.9h-0.9zM223.1 564.9h0.9v0.9h-0.9zM220.0 578.3h0.9v0.9h-0.9zM199.6 570.6h0.9v0.9h-0.9zM222.0 582.4h0.9v0.9h-0.9zM205.8 599.8h0.9v0.9h-0.9zM212.2 561.1h0.9v0.9h-0.9zM219.2 562.6h0.9v0.9h-0.9zM226.6 571.7h0.9v0.9h-0.9zM216.7 544.7h0.9v0.9h-0.9zM218.3 566.1h0.9v0.9h-0.9zM219.8 560.1h0.9v0.9h-0.9zM219.4 566.6h0.9v0.9h-0.9zM218.9 570.2h0.9v0.9h-0.9zM198.4 583.5h0.9v0.9h-0.9zM220.3 572.3h0.9v0.9h-0.9zM205.1 555.8h0.9v0.9h-0.9zM231.9 565.8h0.9v0.9h-0.9zM217.4 570.7h0.9v0.9h-0.9zM214.2 579.9h0.9v0.9h-0.9zM208.3 567.7h0.9v0.9h-0.9zM217.2 558.5h0.9v0.9h-0.9zM212.0 553.6h0.9v0.9h-0.9zM204.4 564.2h0.9v0.9h-0.9zM226.2 568.4h0.9v0.9h-0.9zM233.7 550.1h0.9v0.9h-0.9zM205.9 559.5h0.9v0.9h-0.9zM213.8 578.3h0.9v0.9h-0.9zM205.7 546.6h0.9v0.9h-0.9zM214.9 542.5h0.9v0.9h-0.9zM216.7 553.1h0.9v0.9h-0.9zM214.5 554.3h0.9v0.9h-0.9zM215.4 577.1h0.9v0.9h-0.9zM216.3 575.7h0.9v0.9h-0.9zM205.6 566.2h0.9v0.9h-0.9zM226.4 548.9h0.9v0.9h-0.9zM210.1 548.7h0.9v0.9h-0.9zM218.7 553.2h0.9v0.9h-0.9zM198.8 541.7h0.9v0.9h-0.9zM214.5 560.0h0.9v0.9h-0.9zM211.9 562.0h0.9v0.9h-0.9zM223.8 554.1h0.9v0.9h-0.9zM224.3 551.0h0.9v0.9h-0.9zM246.3 561.4h0.9v0.9h-0.9zM207.4 554.2h0.9v0.9h-0.9zM196.5 571.7h0.9v0.9h-0.9zM226.7 573.9h0.9v0.9h-0.9zM213.8 578.1h0.9v0.9h-0.9zM204.7 559.7h0.9v0.9h-0.9zM220.5 566.9h0.9v0.9h-0.9zM207.3 554.7h0.9v0.9h-0.9zM224.1 559.1h0.9v0.9h-0.9zM197.1 580.3h0.9v0.9h-0.9zM208.3 567.8h0.9v0.9h-0.9zM223.7 570.6h0.9v0.9h-0.9zM216.3 558.6h0.9v0.9h-0.9zM220.7 556.3h0.9v0.9h-0.9zM216.7 555.5h0.9v0.9h-0.9zM208.4 562.9h0.9v0.9h-0.9zM229.7 561.4h0.9v0.9h-0.9zM217.7 573.2h0.9v0.9h-0.9zM203.2 569.8h0.9v0.9h-0.9zM210.8 561.0h0.9v0.9h-0.9zM229.8 581.6h0.9v0.9h-0.9zM234.7 554.0h0.9v0.9h-0.9zM206.7 571.9h0.9v0.9h-0.9zM218.3 532.7h0.9v0.9h-0.9zM227.7 572.5h0.9v0.9h-0.9zM225.5 590.8h0.9v0.9h-0.9zM227.3 562.2h0.9v0.9h-0.9zM199.5 562.6h0.9v0.9h-0.9zM210.3 562.8h0.9v0.9h-0.9zM218.5 557.9h0.9v0.9h-0.9zM214.8 565.4h0.9v0.9h-0.9zM221.2 581.2h0.9v0.9h-0.9zM208.4 555.5h0.9v0.9h-0.9zM239.3 566.2h0.9v0.9h-0.9zM220.2 546.7h0.9v0.9h-0.9zM227.1 579.8h0.9v0.9h-0.9zM225.2 541.9h0.9v0.9h-0.9zM211.6 560.8h0.9v0.9h-0.9zM218.3 578.2h0.9v0.9h-0.9zM224.4 542.2h0.9v0.9h-0.9zM215.3 565.7h0.9v0.9h-0.9zM222.9 568.2h0.9v0.9h-0.9zM233.0 560.6h0.9v0.9h-0.9zM211.0 562.1h0.9v0.9h-0.9zM213.5 553.6h0.9v0.9h-0.9zM217.5 564.4h0.9v0.9h-0.9zM201.7 559.4h0.9v0.9h-0.9zM210.5 579.1h0.9v0.9h-0.9zM219.4 562.0h0.9v0.9h-0.9zM214.8 576.1h0.9v0.9h-0.9zM199.7 553.3h0.9v0.9h-0.9zM224.3 546.7h0.9v0.9h-0.9zM199.3 554.1h0.9v0.9h-0.9zM207.2 564.2h0.9v0.9h-0.9zM205.6 577.4h0.9v0.9h-0.9zM218.3 553.3h0.9v0.9h-0.9zM220.2 555.9h0.9v0.9h-0.9zM219.9 555.1h0.9v0.9h-0.9zM229.8 572.6h0.9v0.9h-0.9zM209.5 566.1h0.9v0.9h-0.9zM212.2 542.9h0.9v0.9h-0.9zM214.5 564.9h0.9v0.9h-0.9zM207.3 577.7h0.9v0.9h-0.9zM235.9 549.1h0.9v0.9h-0.9zM207.7 559.3h0.9v0.9h-0.9zM219.6 551.6h0.9v0.9h-0.9zM212.1 576.2h0.9v0.9h-0.9zM207.5 563.1h0.9v0.9h-0.9zM204.3 562.7h0.9v0.9h-0.9zM211.2 578.4h0.9v0.9h-0.9zM215.7 556.2h0.9v0.9h-0.9zM212.6 578.4h0.9v0.9h-0.9zM223.6 560.0h0.9v0.9h-0.9zM202.8 562.2h0.9v0.9h-0.9zM226.4 564.5h0.9v0.9h-0.9zM203.2 567.0h0.9v0.9h-0.9zM213.9 562.9h0.9v0.9h-0.9zM214.5 552.1h0.9v0.9h-0.9zM208.1 573.8h0.9v0.9h-0.9zM220.2 550.7h0.9v0.9h-0.9zM200.3 575.3h0.9v0.9h-0.9zM221.0 564.3h0.9v0.9h-0.9zM211.7 584.7h0.9v0.9h-0.9zM202.7 558.1h0.9v0.9h-0.9zM221.1 567.8h0.9v0.9h-0.9zM221.0 546.2h0.9v0.9h-0.9zM222.9 576.8h0.9v0.9h-0.9zM211.6 574.7h0.9v0.9h-0.9zM213.2 562.5h0.9v0.9h-0.9zM215.9 560.4h0.9v0.9h-0.9zM216.9 577.3h0.9v0.9h-0.9zM228.1 570.2h0.9v0.9h-0.9zM221.0 548.1h0.9v0.9h-0.9zM214.2 568.3h0.9v0.9h-0.9zM216.8 557.2h0.9v0.9h-0.9zM207.8 574.1h0.9v0.9h-0.9zM221.6 529.9h0.9v0.9h-0.9zM241.4 569.8h0.9v0.9h-0.9zM217.7 576.1h0.9v0.9h-0.9zM221.2 582.8h0.9v0.9h-0.9zM212.2 574.0h0.9v0.9h-0.9zM223.3 541.9h0.9v0.9h-0.9zM235.3 558.2h0.9v0.9h-0.9zM204.2 562.1h0.9v0.9h-0.9zM225.6 551.1h0.9v0.9h-0.9zM214.5 557.8h0.9v0.9h-0.9zM214.5 531.6h0.9v0.9h-0.9zM228.7 551.1h0.9v0.9h-0.9zM222.3 563.1h0.9v0.9h-0.9zM199.5 561.6h0.9v0.9h-0.9zM207.2 560.7h0.9v0.9h-0.9zM210.2 561.0h0.9v0.9h-0.9zM214.9 565.2h0.9v0.9h-0.9zM221.2 550.8h0.9v0.9h-0.9zM227.8 586.9h0.9v0.9h-0.9zM218.4 587.3h0.9v0.9h-0.9zM228.0 578.3h0.9v0.9h-0.9zM212.1 578.0h0.9v0.9h-0.9zM198.0 540.2h0.9v0.9h-0.9zM221.7 583.0h0.9v0.9h-0.9zM219.4 550.2h0.9v0.9h-0.9zM203.5 565.6h0.9v0.9h-0.9zM219.0 546.4h0.9v0.9h-0.9zM214.2 559.7h0.9v0.9h-0.9zM210.8 533.8h0.9v0.9h-0.9zM206.2 562.2h0.9v0.9h-0.9zM232.7 580.0h0.9v0.9h-0.9zM212.7 551.0h0.9v0.9h-0.9zM219.4 556.5h0.9v0.9h-0.9zM216.9 571.3h0.9v0.9h-0.9zM219.3 574.5h0.9v0.9h-0.9zM233.1 546.7h0.9v0.9h-0.9zM230.0 538.9h0.9v0.9h-0.9zM208.6 577.7h0.9v0.9h-0.9zM207.4 554.1h0.9v0.9h-0.9zM218.1 553.1h0.9v0.9h-0.9zM212.9 564.3h0.9v0.9h-0.9zM213.7 555.5h0.9v0.9h-0.9zM209.8 549.4h0.9v0.9h-0.9zM221.4 600.5h0.9v0.9h-0.9zM212.8 543.8h0.9v0.9h-0.9zM233.7 576.7h0.9v0.9h-0.9zM213.0 555.3h0.9v0.9h-0.9zM213.7 566.0h0.9v0.9h-0.9zM205.9 564.7h0.9v0.9h-0.9zM195.7 549.4h0.9v0.9h-0.9zM206.3 556.5h0.9v0.9h-0.9zM214.6 558.4h0.9v0.9h-0.9zM216.8 576.8h0.9v0.9h-0.9zM238.9 557.9h0.9v0.9h-0.9zM219.3 558.7h0.9v0.9h-0.9zM217.3 555.8h0.9v0.9h-0.9zM212.0 566.1h0.9v0.9h-0.9zM228.5 564.4h0.9v0.9h-0.9zM215.3 559.1h0.9v0.9h-0.9zM204.4 550.1h0.9v0.9h-0.9zM216.8 573.7h0.9v0.9h-0.9zM216.6 551.9h0.9v0.9h-0.9zM214.8 573.5h0.9v0.9h-0.9zM215.7 575.0h0.9v0.9h-0.9zM202.5 566.5h0.9v0.9h-0.9zM205.9 539.5h0.9v0.9h-0.9zM216.1 568.9h0.9v0.9h-0.9zM220.3 576.5h0.9v0.9h-0.9zM216.9 533.9h0.9v0.9h-0.9zM222.5 573.7h0.9v0.9h-0.9zM212.1 556.9h0.9v0.9h-0.9zM216.1 562.9h0.9v0.9h-0.9zM205.1 574.7h0.9v0.9h-0.9zM232.0 570.2h0.9v0.9h-0.9zM217.6 522.1h0.9v0.9h-0.9zM220.4 568.7h0.9v0.9h-0.9zM221.4 565.4h0.9v0.9h-0.9zM208.1 564.7h0.9v0.9h-0.9zM215.2 563.4h0.9v0.9h-0.9zM223.7 565.8h0.9v0.9h-0.9zM212.6 551.1h0.9v0.9h-0.9zM199.3 584.0h0.9v0.9h-0.9zM213.4 575.7h0.9v0.9h-0.9zM219.2 563.8h0.9v0.9h-0.9zM220.5 563.4h0.9v0.9h-0.9zM230.7 556.9h0.9v0.9h-0.9zM213.8 561.6h0.9v0.9h-0.9zM219.2 580.6h0.9v0.9h-0.9zM209.3 532.5h0.9v0.9h-0.9zM220.0 570.7h0.9v0.9h-0.9zM215.2 562.4h0.9v0.9h-0.9zM221.9 551.4h0.9v0.9h-0.9zM207.3 542.0h0.9v0.9h-0.9zM214.2 552.3h0.9v0.9h-0.9zM214.6 548.3h0.9v0.9h-0.9zM196.8 575.8h0.9v0.9h-0.9zM219.2 575.3h0.9v0.9h-0.9zM227.5 541.8h0.9v0.9h-0.9zM223.2 547.9h0.9v0.9h-0.9zM196.1 548.4h0.9v0.9h-0.9zM210.2 584.0h0.9v0.9h-0.9zM213.4 559.7h0.9v0.9h-0.9zM219.6 566.4h0.9v0.9h-0.9zM214.5 587.4h0.9v0.9h-0.9zM206.3 547.2h0.9v0.9h-0.9zM197.4 547.1h0.9v0.9h-0.9zM206.7 555.6h0.9v0.9h-0.9zM212.4 580.0h0.9v0.9h-0.9zM223.1 556.7h0.9v0.9h-0.9zM217.4 553.8h0.9v0.9h-0.9zM213.4 560.7h0.9v0.9h-0.9zM234.3 547.9h0.9v0.9h-0.9zM205.9 567.8h0.9v0.9h-0.9zM207.2 550.4h0.9v0.9h-0.9zM218.9 549.6h0.9v0.9h-0.9zM228.2 570.1h0.9v0.9h-0.9zM211.0 560.6h0.9v0.9h-0.9zM209.9 580.8h0.9v0.9h-0.9zM216.7 564.4h0.9v0.9h-0.9zM208.1 581.7h0.9v0.9h-0.9zM215.5 553.8h0.9v0.9h-0.9zM229.7 566.3h0.9v0.9h-0.9zM211.9 573.5h0.9v0.9h-0.9zM210.9 560.8h0.9v0.9h-0.9zM224.7 548.1h0.9v0.9h-0.9zM214.0 561.4h0.9v0.9h-0.9zM219.0 549.6h0.9v0.9h-0.9zM205.5 558.5h0.9v0.9h-0.9zM207.5 564.0h0.9v0.9h-0.9zM214.7 564.2h0.9v0.9h-0.9zM217.3 548.8h0.9v0.9h-0.9zM212.3 564.7h0.9v0.9h-0.9zM226.9 565.9h0.9v0.9h-0.9zM216.1 586.9h0.9v0.9h-0.9zM211.6 578.5h0.9v0.9h-0.9zM221.6 547.7h0.9v0.9h-0.9zM215.4 571.9h0.9v0.9h-0.9zM205.1 579.5h0.9v0.9h-0.9zM211.1 567.7h0.9v0.9h-0.9zM213.7 567.2h0.9v0.9h-0.9zM208.9 581.3h0.9v0.9h-0.9zM208.4 582.3h0.9v0.9h-0.9zM212.8 551.3h0.9v0.9h-0.9zM222.9 563.4h0.9v0.9h-0.9zM213.0 547.5h0.9v0.9h-0.9zM213.2 560.4h0.9v0.9h-0.9zM207.9 547.2h0.9v0.9h-0.9zM206.9 549.2h0.9v0.9h-0.9zM225.2 572.1h0.9v0.9h-0.9zM211.1 549.0h0.9v0.9h-0.9zM214.3 567.6h0.9v0.9h-0.9zM209.9 559.9h0.9v0.9h-0.9zM224.8 558.6h0.9v0.9h-0.9zM211.7 576.7h0.9v0.9h-0.9zM214.6 561.1h0.9v0.9h-0.9zM206.8 574.3h0.9v0.9h-0.9zM217.5 557.9h0.9v0.9h-0.9zM214.3 578.4h0.9v0.9h-0.9zM214.5 559.8h0.9v0.9h-0.9zM216.6 562.8h0.9v0.9h-0.9zM224.2 558.2h0.9v0.9h-0.9zM211.5 553.1h0.9v0.9h-0.9zM216.7 545.8h0.9v0.9h-0.9zM210.6 542.7h0.9v0.9h-0.9zM214.3 559.0h0.9v0.9h-0.9zM213.4 555.0h0.9v0.9h-0.9zM207.4 564.2h0.9v0.9h-0.9zM194.9 548.7h0.9v0.9h-0.9zM230.1 564.8h0.9v0.9h-0.9zM228.9 585.0h0.9v0.9h-0.9zM216.6 550.1h0.9v0.9h-0.9zM219.3 551.0h0.9v0.9h-0.9zM216.1 564.9h0.9v0.9h-0.9zM229.7 559.8h0.9v0.9h-0.9zM213.8 559.0h0.9v0.9h-0.9zM236.7 560.5h0.9v0.9h-0.9zM223.3 552.4h0.9v0.9h-0.9zM211.9 594.9h0.9v0.9h-0.9zM207.7 568.5h0.9v0.9h-0.9zM220.7 568.8h0.9v0.9h-0.9zM224.6 558.8h0.9v0.9h-0.9zM229.2 566.1h0.9v0.9h-0.9zM213.7 568.4h0.9v0.9h-0.9zM216.7 560.2h0.9v0.9h-0.9zM220.5 552.2h0.9v0.9h-0.9zM219.6 558.2h0.9v0.9h-0.9zM192.7 575.0h0.9v0.9h-0.9zM214.7 558.6h0.9v0.9h-0.9zM212.2 543.5h0.9v0.9h-0.9zM204.1 567.5h0.9v0.9h-0.9zM212.7 575.6h0.9v0.9h-0.9zM232.8 556.0h0.9v0.9h-0.9zM201.6 577.8h0.9v0.9h-0.9zM221.1 582.0h0.9v0.9h-0.9zM218.1 565.5h0.9v0.9h-0.9zM208.4 582.1h0.9v0.9h-0.9zM216.3 579.3h0.9v0.9h-0.9zM215.9 555.5h0.9v0.9h-0.9zM222.0 574.6h0.9v0.9h-0.9zM194.1 557.0h0.9v0.9h-0.9zM220.8 575.3h0.9v0.9h-0.9zM215.8 552.9h0.9v0.9h-0.9zM218.7 557.2h0.9v0.9h-0.9zM190.7 539.5h0.9v0.9h-0.9zM219.4 552.4h0.9v0.9h-0.9zM221.5 572.9h0.9v0.9h-0.9zM193.3 563.2h0.9v0.9h-0.9zM201.9 575.2h0.9v0.9h-0.9zM198.1 576.7h0.9v0.9h-0.9zM212.8 561.5h0.9v0.9h-0.9zM216.7 551.5h0.9v0.9h-0.9zM214.6 600.5h0.9v0.9h-0.9zM216.1 552.8h0.9v0.9h-0.9zM235.5 573.9h0.9v0.9h-0.9zM216.8 566.4h0.9v0.9h-0.9zM202.8 556.1h0.9v0.9h-0.9zM206.8 581.6h0.9v0.9h-0.9zM225.2 563.6h0.9v0.9h-0.9zM205.8 542.6h0.9v0.9h-0.9zM209.8 549.0h0.9v0.9h-0.9zM216.4 543.1h0.9v0.9h-0.9zM217.4 561.6h0.9v0.9h-0.9zM207.9 564.5h0.9v0.9h-0.9zM207.4 557.2h0.9v0.9h-0.9zM208.2 585.6h0.9v0.9h-0.9zM203.4 564.6h0.9v0.9h-0.9zM207.3 555.0h0.9v0.9h-0.9zM223.7 560.1h0.9v0.9h-0.9zM214.6 536.2h0.9v0.9h-0.9zM210.2 585.9h0.9v0.9h-0.9zM223.4 525.1h0.9v0.9h-0.9zM202.3 559.4h0.9v0.9h-0.9zM201.9 562.8h0.9v0.9h-0.9zM206.6 580.0h0.9v0.9h-0.9zM227.9 576.4h0.9v0.9h-0.9zM206.0 565.5h0.9v0.9h-0.9zM226.4 551.2h0.9v0.9h-0.9zM215.2 549.4h0.9v0.9h-0.9zM216.7 579.3h0.9v0.9h-0.9zM214.5 588.5h0.9v0.9h-0.9zM213.1 571.7h0.9v0.9h-0.9zM229.9 550.7h0.9v0.9h-0.9zM224.2 544.4h0.9v0.9h-0.9zM210.3 556.9h0.9v0.9h-0.9zM228.9 548.3h0.9v0.9h-0.9zM227.5 545.4h0.9v0.9h-0.9zM216.5 572.3h0.9v0.9h-0.9zM215.8 588.1h0.9v0.9h-0.9zM216.6 545.5h0.9v0.9h-0.9zM214.0 574.8h0.9v0.9h-0.9zM199.4 535.9h0.9v0.9h-0.9zM233.5 547.7h0.9v0.9h-0.9zM225.2 568.2h0.9v0.9h-0.9zM208.6 552.6h0.9v0.9h-0.9zM220.1 555.8h0.9v0.9h-0.9zM223.8 565.0h0.9v0.9h-0.9zM213.4 583.8h0.9v0.9h-0.9zM214.9 546.6h0.9v0.9h-0.9zM211.3 556.3h0.9v0.9h-0.9zM230.6 570.9h0.9v0.9h-0.9zM209.7 554.2h0.9v0.9h-0.9zM216.0 562.5h0.9v0.9h-0.9zM233.6 554.4h0.9v0.9h-0.9zM208.4 557.7h0.9v0.9h-0.9zM211.6 573.9h0.9v0.9h-0.9zM216.2 555.8h0.9v0.9h-0.9zM213.4 552.3h0.9v0.9h-0.9zM213.9 561.1h0.9v0.9h-0.9zM230.7 549.9h0.9v0.9h-0.9zM227.4 562.6h0.9v0.9h-0.9zM207.3 585.2h0.9v0.9h-0.9zM219.4 547.6h0.9v0.9h-0.9zM212.2 556.6h0.9v0.9h-0.9zM205.6 563.9h0.9v0.9h-0.9zM215.3 578.9h0.9v0.9h-0.9zM213.6 540.7h0.9v0.9h-0.9zM226.8 575.4h0.9v0.9h-0.9zM208.6 579.3h0.9v0.9h-0.9zM216.8 549.3h0.9v0.9h-0.9zM222.2 565.7h0.9v0.9h-0.9zM211.8 568.4h0.9v0.9h-0.9zM209.6 562.6h0.9v0.9h-0.9zM218.5 570.0h0.9v0.9h-0.9zM220.4 534.6h0.9v0.9h-0.9zM212.1 567.3h0.9v0.9h-0.9zM222.6 550.6h0.9v0.9h-0.9zM225.2 551.8h0.9v0.9h-0.9zM226.6 564.7h0.9v0.9h-0.9zM218.2 545.7h0.9v0.9h-0.9zM209.1 565.1h0.9v0.9h-0.9zM218.1 560.4h0.9v0.9h-0.9zM213.1 579.0h0.9v0.9h-0.9zM209.8 569.2h0.9v0.9h-0.9zM223.8 567.4h0.9v0.9h-0.9zM217.3 547.9h0.9v0.9h-0.9zM230.8 579.5h0.9v0.9h-0.9zM207.9 552.3h0.9v0.9h-0.9zM206.9 545.1h0.9v0.9h-0.9zM215.1 550.5h0.9v0.9h-0.9zM216.2 567.9h0.9v0.9h-0.9zM209.5 547.6h0.9v0.9h-0.9zM223.6 573.3h0.9v0.9h-0.9zM214.1 551.5h0.9v0.9h-0.9zM219.7 565.4h0.9v0.9h-0.9zM224.2 564.5h0.9v0.9h-0.9zM210.4 552.9h0.9v0.9h-0.9zM217.0 544.4h0.9v0.9h-0.9zM208.7 573.0h0.9v0.9h-0.9zM222.9 569.2h0.9v0.9h-0.9zM228.0 558.9h0.9v0.9h-0.9zM210.3 563.8h0.9v0.9h-0.9zM223.6 550.6h0.9v0.9h-0.9zM232.8 577.5h0.9v0.9h-0.9zM204.7 552.2h0.9v0.9h-0.9zM222.2 566.6h0.9v0.9h-0.9z" fill="#4a5cb8" opacity="0.45"/>
<ellipse cx="213.00" cy="564.60" rx="7.00" ry="11.00" fill="#5a70c0" opacity="0.45" transform="rotate(0 213.00 564.60)" filter="url(#bl2)"/>
<path d="M219.4 541.7h0.9v0.9h-0.9zM212.2 540.3h0.9v0.9h-0.9zM215.4 541.8h0.9v0.9h-0.9zM208.8 540.6h0.9v0.9h-0.9zM213.2 540.4h0.9v0.9h-0.9zM206.3 541.9h0.9v0.9h-0.9zM203.9 541.1h0.9v0.9h-0.9zM208.3 541.1h0.9v0.9h-0.9zM221.1 544.5h0.9v0.9h-0.9zM217.3 540.8h0.9v0.9h-0.9zM206.1 540.7h0.9v0.9h-0.9zM214.8 538.7h0.9v0.9h-0.9zM209.5 541.6h0.9v0.9h-0.9zM214.8 540.4h0.9v0.9h-0.9zM206.8 541.5h0.9v0.9h-0.9zM207.0 544.1h0.9v0.9h-0.9zM211.6 540.3h0.9v0.9h-0.9zM219.7 539.7h0.9v0.9h-0.9zM209.6 542.1h0.9v0.9h-0.9zM204.5 541.6h0.9v0.9h-0.9zM208.8 539.2h0.9v0.9h-0.9zM212.8 540.9h0.9v0.9h-0.9zM212.5 541.7h0.9v0.9h-0.9zM207.0 542.7h0.9v0.9h-0.9zM222.9 538.8h0.9v0.9h-0.9zM209.6 541.0h0.9v0.9h-0.9zM204.6 541.5h0.9v0.9h-0.9zM212.0 540.7h0.9v0.9h-0.9zM216.1 540.4h0.9v0.9h-0.9zM209.8 541.9h0.9v0.9h-0.9zM213.6 542.0h0.9v0.9h-0.9zM219.7 539.5h0.9v0.9h-0.9zM214.9 542.9h0.9v0.9h-0.9zM213.6 541.1h0.9v0.9h-0.9zM215.6 541.9h0.9v0.9h-0.9zM214.2 540.4h0.9v0.9h-0.9zM215.1 540.2h0.9v0.9h-0.9zM213.8 540.8h0.9v0.9h-0.9zM200.8 540.8h0.9v0.9h-0.9zM215.1 541.7h0.9v0.9h-0.9zM212.5 539.6h0.9v0.9h-0.9zM204.8 538.0h0.9v0.9h-0.9zM214.3 542.5h0.9v0.9h-0.9zM220.7 543.8h0.9v0.9h-0.9zM205.9 542.0h0.9v0.9h-0.9zM207.8 538.2h0.9v0.9h-0.9zM212.1 540.3h0.9v0.9h-0.9zM216.2 542.1h0.9v0.9h-0.9zM213.8 543.3h0.9v0.9h-0.9zM223.7 540.6h0.9v0.9h-0.9zM218.2 543.4h0.9v0.9h-0.9zM211.5 540.5h0.9v0.9h-0.9zM214.1 540.3h0.9v0.9h-0.9zM216.7 542.6h0.9v0.9h-0.9zM211.0 542.3h0.9v0.9h-0.9zM212.2 544.2h0.9v0.9h-0.9zM216.8 543.5h0.9v0.9h-0.9zM217.8 540.1h0.9v0.9h-0.9zM210.2 541.9h0.9v0.9h-0.9zM207.5 543.0h0.9v0.9h-0.9zM212.2 544.4h0.9v0.9h-0.9zM208.2 539.5h0.9v0.9h-0.9zM219.5 540.8h0.9v0.9h-0.9zM204.3 543.4h0.9v0.9h-0.9zM214.3 541.2h0.9v0.9h-0.9zM209.1 541.6h0.9v0.9h-0.9zM214.3 540.4h0.9v0.9h-0.9zM212.2 542.0h0.9v0.9h-0.9zM207.9 543.5h0.9v0.9h-0.9zM212.7 540.2h0.9v0.9h-0.9zM214.7 539.3h0.9v0.9h-0.9zM216.7 543.1h0.9v0.9h-0.9zM203.3 541.0h0.9v0.9h-0.9zM214.2 539.9h0.9v0.9h-0.9zM205.1 539.5h0.9v0.9h-0.9zM204.4 541.9h0.9v0.9h-0.9zM205.2 541.4h0.9v0.9h-0.9zM210.2 543.2h0.9v0.9h-0.9zM210.0 541.9h0.9v0.9h-0.9zM215.0 540.3h0.9v0.9h-0.9zM209.0 542.2h0.9v0.9h-0.9zM211.1 539.3h0.9v0.9h-0.9zM213.6 542.3h0.9v0.9h-0.9zM211.1 543.0h0.9v0.9h-0.9zM207.0 537.8h0.9v0.9h-0.9zM206.9 543.0h0.9v0.9h-0.9zM206.3 540.7h0.9v0.9h-0.9zM212.5 541.5h0.9v0.9h-0.9zM221.6 542.7h0.9v0.9h-0.9zM218.8 540.2h0.9v0.9h-0.9zM217.9 542.4h0.9v0.9h-0.9zM202.7 541.1h0.9v0.9h-0.9zM206.5 536.8h0.9v0.9h-0.9zM209.1 542.9h0.9v0.9h-0.9zM209.3 543.9h0.9v0.9h-0.9zM219.1 541.8h0.9v0.9h-0.9zM213.8 540.6h0.9v0.9h-0.9zM209.7 541.2h0.9v0.9h-0.9zM203.9 542.8h0.9v0.9h-0.9zM224.3 543.3h0.9v0.9h-0.9zM212.9 543.8h0.9v0.9h-0.9zM211.8 538.3h0.9v0.9h-0.9zM214.9 543.2h0.9v0.9h-0.9zM209.5 542.4h0.9v0.9h-0.9zM215.9 540.7h0.9v0.9h-0.9zM207.5 541.9h0.9v0.9h-0.9zM218.7 542.2h0.9v0.9h-0.9zM218.3 543.1h0.9v0.9h-0.9zM218.6 541.9h0.9v0.9h-0.9zM226.7 542.8h0.9v0.9h-0.9zM218.3 540.5h0.9v0.9h-0.9zM209.9 539.8h0.9v0.9h-0.9zM207.6 540.4h0.9v0.9h-0.9zM210.4 538.3h0.9v0.9h-0.9zM214.7 540.3h0.9v0.9h-0.9zM210.0 539.5h0.9v0.9h-0.9zM223.7 542.7h0.9v0.9h-0.9zM215.2 539.5h0.9v0.9h-0.9zM212.5 541.8h0.9v0.9h-0.9zM213.0 542.0h0.9v0.9h-0.9z" fill="#4a5ab8" opacity="0.45"/>
<path d="M226.6 560.3h0.9v0.9h-0.9zM242.5 565.7h0.9v0.9h-0.9zM235.1 569.0h0.9v0.9h-0.9zM222.1 564.9h0.9v0.9h-0.9zM240.6 568.8h0.9v0.9h-0.9zM237.2 549.3h0.9v0.9h-0.9zM232.2 547.1h0.9v0.9h-0.9zM233.4 573.0h0.9v0.9h-0.9zM233.9 566.7h0.9v0.9h-0.9zM235.2 560.6h0.9v0.9h-0.9zM230.3 564.8h0.9v0.9h-0.9zM232.4 587.5h0.9v0.9h-0.9zM243.0 554.1h0.9v0.9h-0.9zM239.6 559.3h0.9v0.9h-0.9zM231.7 558.7h0.9v0.9h-0.9zM240.6 561.5h0.9v0.9h-0.9zM220.1 560.9h0.9v0.9h-0.9zM229.3 545.3h0.9v0.9h-0.9zM238.3 566.0h0.9v0.9h-0.9zM240.6 543.1h0.9v0.9h-0.9zM216.6 574.7h0.9v0.9h-0.9zM235.9 553.1h0.9v0.9h-0.9zM236.4 564.5h0.9v0.9h-0.9zM231.0 556.9h0.9v0.9h-0.9zM230.0 563.0h0.9v0.9h-0.9zM221.3 558.6h0.9v0.9h-0.9zM236.3 563.7h0.9v0.9h-0.9zM221.6 550.4h0.9v0.9h-0.9zM228.8 568.3h0.9v0.9h-0.9zM232.1 557.2h0.9v0.9h-0.9zM220.5 560.9h0.9v0.9h-0.9zM251.2 554.8h0.9v0.9h-0.9zM252.4 543.9h0.9v0.9h-0.9zM223.4 573.0h0.9v0.9h-0.9zM224.7 556.5h0.9v0.9h-0.9zM240.4 550.3h0.9v0.9h-0.9zM226.5 547.8h0.9v0.9h-0.9zM242.6 564.6h0.9v0.9h-0.9zM243.5 565.6h0.9v0.9h-0.9zM237.9 562.0h0.9v0.9h-0.9zM236.4 552.5h0.9v0.9h-0.9zM229.3 551.3h0.9v0.9h-0.9zM242.7 551.0h0.9v0.9h-0.9zM230.6 568.8h0.9v0.9h-0.9zM237.7 567.3h0.9v0.9h-0.9zM234.6 565.1h0.9v0.9h-0.9zM230.5 556.2h0.9v0.9h-0.9zM229.6 555.0h0.9v0.9h-0.9zM219.7 572.5h0.9v0.9h-0.9zM215.8 570.5h0.9v0.9h-0.9zM232.3 576.1h0.9v0.9h-0.9zM233.0 561.4h0.9v0.9h-0.9zM241.0 547.3h0.9v0.9h-0.9zM231.7 576.3h0.9v0.9h-0.9zM243.8 557.5h0.9v0.9h-0.9zM224.6 556.1h0.9v0.9h-0.9zM238.3 552.1h0.9v0.9h-0.9zM241.1 550.8h0.9v0.9h-0.9zM238.5 565.0h0.9v0.9h-0.9zM231.6 581.5h0.9v0.9h-0.9z" fill="#7a80c0" opacity="0.3"/>
<path d="M224,534 Q224,528 230,527 L238,526 Q246,526 247,531 Q248,537 245,543 Q242,550 236,550 Q229,550 227,545 Q223,541 224,534Z" fill="#4a64c4" opacity="0.6" filter="url(#bl1)"/>
<g filter="url(#bl05)"><path d="M225,534 Q225,529 230,528 L238,527.2 Q245,527.2 246,531 Q246.5,537 244,542.5 Q241,549 236,549 Q230,549 228,545 Q224.5,541 225,534Z" fill="#3c66c6"/><path d="M226.5,534 Q226.5,530 231,529.5 L238,529 Q243.5,529 244,532 Q244.5,537 242,542 Q239.5,547 236,547 Q231,547 229.5,544 Q226.5,540 226.5,534Z" fill="#5cb2dc"/><ellipse cx="231" cy="537.5" rx="3.2" ry="5" fill="#8ccc60"/><ellipse cx="237.5" cy="540.8" rx="4.2" ry="5.2" fill="#8ccc60"/><ellipse cx="230.8" cy="538.6" rx="1.6" ry="2.4" fill="#d8dc40"/><ellipse cx="237.2" cy="541.3" rx="2.8" ry="3.4" fill="#eed838"/><ellipse cx="237.1" cy="541.5" rx="1.7" ry="2.2" fill="#e06424"/><ellipse cx="237.1" cy="541.6" rx="0.9" ry="1.2" fill="#b81a12"/></g>
</g>
<rect x="204.0" y="522.6" width="54.6" height="53.6" fill="none" stroke="#8a8a8a" stroke-width="0.8"/>
<path d="M210.8 576.2v-1.2M204.0 529.3h1.2M217.7 576.2v-1.2M204.0 536.0h1.2M224.5 576.2v-1.2M204.0 542.7h1.2M231.3 576.2v-1.2M204.0 549.4h1.2M238.1 576.2v-1.2M204.0 556.1h1.2M244.9 576.2v-1.2M204.0 562.8h1.2M251.8 576.2v-1.2M204.0 569.5h1.2" stroke="#8a8a8a" stroke-width="0.5"/>
<rect x="222.20" y="522.60" width="36.20" height="28.20" fill="none" stroke="#b42834" stroke-width="1.3"/>
<text x="256.60" y="530.00" font-size="6.6" font-weight="bold" fill="#000" text-anchor="end" textLength="12.5" lengthAdjust="spacingAndGlyphs">89%</text>
<path d="M198.3,567.2 L198.3,581.9 L213.2,581.9" stroke="#000" stroke-width="1.2" fill="none"/>
<path d="M198.3,564.6 L196.5,568.8 L200.1,568.8Z" fill="#000"/>
<path d="M215.8,581.9 L211.6,580.1 L211.6,583.7Z" fill="#000"/>
<text x="200.89" y="551.00" font-size="7.2" font-weight="normal" fill="#000" text-anchor="middle" textLength="19.5" lengthAdjust="spacingAndGlyphs" transform="rotate(-90 200.89 551.00)" style="stroke-width:0.3px">CD45.2</text>
<text x="217.50" y="584.49" font-size="7.2" font-weight="normal" fill="#000" textLength="12.4" lengthAdjust="spacingAndGlyphs" style="stroke-width:0.3px">GFP</text>
<clipPath id="c14"><rect x="283.3" y="474.8" width="54.5" height="53.9"/></clipPath>
<g clip-path="url(#c14)">
<line x1="283.30" y1="499.80" x2="303.80" y2="499.80" stroke="#b4b4b4" stroke-width="0.6"/>
<line x1="303.80" y1="499.80" x2="325.30" y2="487.90" stroke="#b4b4b4" stroke-width="0.6"/>
<line x1="325.30" y1="487.90" x2="325.30" y2="474.80" stroke="#b4b4b4" stroke-width="0.6"/>
<line x1="308.00" y1="511.40" x2="331.30" y2="499.80" stroke="#b4b4b4" stroke-width="0.6"/>
<line x1="331.30" y1="499.80" x2="331.30" y2="489.50" stroke="#b4b4b4" stroke-width="0.6"/>
<line x1="303.80" y1="499.80" x2="308.00" y2="511.40" stroke="#b4b4b4" stroke-width="0.6"/>
<line x1="308.00" y1="511.40" x2="308.00" y2="528.70" stroke="#b4b4b4" stroke-width="0.6"/>
<line x1="308.00" y1="511.40" x2="337.80" y2="511.40" stroke="#b4b4b4" stroke-width="0.6"/>
<path d="M291.5 515.5h0.9v0.9h-0.9zM295.3 500.7h0.9v0.9h-0.9zM291.8 520.5h0.9v0.9h-0.9zM291.0 504.6h0.9v0.9h-0.9zM290.3 517.7h0.9v0.9h-0.9zM291.0 522.5h0.9v0.9h-0.9zM287.9 507.3h0.9v0.9h-0.9zM293.4 491.5h0.9v0.9h-0.9zM292.8 505.4h0.9v0.9h-0.9zM293.2 499.0h0.9v0.9h-0.9zM290.8 489.8h0.9v0.9h-0.9zM292.7 503.7h0.9v0.9h-0.9zM290.8 498.7h0.9v0.9h-0.9zM293.5 509.2h0.9v0.9h-0.9zM293.4 497.2h0.9v0.9h-0.9zM289.9 517.8h0.9v0.9h-0.9zM295.6 531.7h0.9v0.9h-0.9zM293.1 520.4h0.9v0.9h-0.9zM292.7 496.0h0.9v0.9h-0.9zM290.1 490.3h0.9v0.9h-0.9zM287.0 506.0h0.9v0.9h-0.9zM291.6 515.4h0.9v0.9h-0.9zM295.9 491.5h0.9v0.9h-0.9zM288.3 499.6h0.9v0.9h-0.9zM292.3 502.1h0.9v0.9h-0.9zM287.7 513.9h0.9v0.9h-0.9zM290.0 497.6h0.9v0.9h-0.9zM294.1 519.0h0.9v0.9h-0.9zM289.2 509.2h0.9v0.9h-0.9zM289.6 500.9h0.9v0.9h-0.9zM289.0 504.3h0.9v0.9h-0.9zM288.8 511.5h0.9v0.9h-0.9zM292.7 504.7h0.9v0.9h-0.9zM286.8 518.4h0.9v0.9h-0.9zM289.4 527.8h0.9v0.9h-0.9zM292.7 507.0h0.9v0.9h-0.9zM294.9 494.8h0.9v0.9h-0.9zM291.0 516.2h0.9v0.9h-0.9zM291.2 507.6h0.9v0.9h-0.9zM287.9 523.8h0.9v0.9h-0.9zM287.6 474.3h0.9v0.9h-0.9zM289.2 519.9h0.9v0.9h-0.9zM290.8 503.9h0.9v0.9h-0.9zM290.6 512.5h0.9v0.9h-0.9zM289.7 499.4h0.9v0.9h-0.9zM289.8 497.9h0.9v0.9h-0.9zM292.8 506.0h0.9v0.9h-0.9zM292.3 499.4h0.9v0.9h-0.9zM287.6 536.0h0.9v0.9h-0.9zM294.2 514.5h0.9v0.9h-0.9zM291.9 505.6h0.9v0.9h-0.9zM293.2 481.9h0.9v0.9h-0.9zM291.1 520.4h0.9v0.9h-0.9zM292.8 501.2h0.9v0.9h-0.9zM289.4 499.8h0.9v0.9h-0.9zM293.0 523.6h0.9v0.9h-0.9zM287.9 503.3h0.9v0.9h-0.9zM290.9 493.9h0.9v0.9h-0.9zM294.5 496.9h0.9v0.9h-0.9zM291.8 505.6h0.9v0.9h-0.9zM290.2 496.9h0.9v0.9h-0.9zM287.6 517.3h0.9v0.9h-0.9zM292.6 513.6h0.9v0.9h-0.9zM289.2 496.9h0.9v0.9h-0.9zM290.3 496.5h0.9v0.9h-0.9zM290.0 492.6h0.9v0.9h-0.9zM295.7 492.4h0.9v0.9h-0.9zM281.9 501.0h0.9v0.9h-0.9zM293.3 491.8h0.9v0.9h-0.9zM294.7 495.6h0.9v0.9h-0.9zM293.7 514.5h0.9v0.9h-0.9zM293.7 504.5h0.9v0.9h-0.9zM296.5 488.0h0.9v0.9h-0.9zM295.6 497.8h0.9v0.9h-0.9zM289.8 481.5h0.9v0.9h-0.9zM288.9 500.0h0.9v0.9h-0.9zM286.3 492.6h0.9v0.9h-0.9zM289.3 522.2h0.9v0.9h-0.9zM294.6 496.8h0.9v0.9h-0.9zM287.9 501.0h0.9v0.9h-0.9zM295.0 497.4h0.9v0.9h-0.9zM290.4 528.4h0.9v0.9h-0.9zM290.6 497.9h0.9v0.9h-0.9zM286.3 503.9h0.9v0.9h-0.9zM288.4 532.9h0.9v0.9h-0.9zM289.2 501.7h0.9v0.9h-0.9zM288.4 504.1h0.9v0.9h-0.9zM290.8 525.1h0.9v0.9h-0.9zM287.7 496.7h0.9v0.9h-0.9zM289.2 508.6h0.9v0.9h-0.9zM290.3 500.4h0.9v0.9h-0.9zM292.0 499.1h0.9v0.9h-0.9zM289.3 487.8h0.9v0.9h-0.9zM287.3 502.8h0.9v0.9h-0.9zM291.5 530.5h0.9v0.9h-0.9zM291.2 495.1h0.9v0.9h-0.9zM291.4 513.3h0.9v0.9h-0.9zM291.0 533.3h0.9v0.9h-0.9zM290.8 517.9h0.9v0.9h-0.9zM291.5 492.4h0.9v0.9h-0.9zM291.4 510.8h0.9v0.9h-0.9zM294.5 485.5h0.9v0.9h-0.9zM285.0 516.2h0.9v0.9h-0.9zM292.0 515.7h0.9v0.9h-0.9zM292.1 508.5h0.9v0.9h-0.9zM291.4 511.2h0.9v0.9h-0.9zM288.8 507.1h0.9v0.9h-0.9zM286.0 508.6h0.9v0.9h-0.9zM290.2 487.8h0.9v0.9h-0.9zM288.2 496.8h0.9v0.9h-0.9zM288.2 487.9h0.9v0.9h-0.9zM293.0 496.9h0.9v0.9h-0.9zM290.3 494.3h0.9v0.9h-0.9zM290.9 514.7h0.9v0.9h-0.9zM294.4 516.6h0.9v0.9h-0.9zM287.5 520.0h0.9v0.9h-0.9zM291.0 508.4h0.9v0.9h-0.9zM289.4 489.6h0.9v0.9h-0.9zM290.7 497.3h0.9v0.9h-0.9zM290.3 526.4h0.9v0.9h-0.9zM291.2 516.0h0.9v0.9h-0.9zM293.9 488.8h0.9v0.9h-0.9zM290.2 532.5h0.9v0.9h-0.9zM295.3 507.5h0.9v0.9h-0.9zM285.5 515.5h0.9v0.9h-0.9zM294.6 494.3h0.9v0.9h-0.9zM293.6 503.9h0.9v0.9h-0.9zM288.3 520.0h0.9v0.9h-0.9zM289.9 489.2h0.9v0.9h-0.9zM291.6 522.6h0.9v0.9h-0.9zM295.3 495.4h0.9v0.9h-0.9zM295.5 511.6h0.9v0.9h-0.9zM291.9 500.3h0.9v0.9h-0.9zM289.8 500.3h0.9v0.9h-0.9zM291.4 504.6h0.9v0.9h-0.9zM286.6 505.3h0.9v0.9h-0.9zM289.5 523.0h0.9v0.9h-0.9zM291.8 524.4h0.9v0.9h-0.9zM292.8 481.2h0.9v0.9h-0.9zM289.0 515.1h0.9v0.9h-0.9zM287.3 514.5h0.9v0.9h-0.9zM288.1 506.7h0.9v0.9h-0.9zM291.7 502.7h0.9v0.9h-0.9zM287.1 498.1h0.9v0.9h-0.9zM288.5 481.9h0.9v0.9h-0.9zM292.4 503.1h0.9v0.9h-0.9zM291.8 527.2h0.9v0.9h-0.9zM289.5 535.6h0.9v0.9h-0.9zM286.2 501.4h0.9v0.9h-0.9zM291.4 493.9h0.9v0.9h-0.9zM290.9 491.8h0.9v0.9h-0.9zM293.8 507.8h0.9v0.9h-0.9zM297.7 510.1h0.9v0.9h-0.9zM292.9 512.0h0.9v0.9h-0.9zM289.1 506.3h0.9v0.9h-0.9zM288.7 496.4h0.9v0.9h-0.9zM292.4 508.3h0.9v0.9h-0.9zM295.6 533.2h0.9v0.9h-0.9zM288.7 509.3h0.9v0.9h-0.9zM291.3 489.5h0.9v0.9h-0.9zM292.4 478.6h0.9v0.9h-0.9zM288.9 525.9h0.9v0.9h-0.9zM290.5 506.9h0.9v0.9h-0.9zM293.4 518.8h0.9v0.9h-0.9zM291.8 507.9h0.9v0.9h-0.9zM288.5 513.7h0.9v0.9h-0.9zM293.8 521.5h0.9v0.9h-0.9zM288.5 517.6h0.9v0.9h-0.9zM292.6 510.7h0.9v0.9h-0.9zM295.5 496.5h0.9v0.9h-0.9zM292.2 515.0h0.9v0.9h-0.9zM289.3 475.9h0.9v0.9h-0.9zM293.1 502.6h0.9v0.9h-0.9zM293.8 501.3h0.9v0.9h-0.9zM288.9 499.1h0.9v0.9h-0.9zM288.8 515.3h0.9v0.9h-0.9zM287.9 505.5h0.9v0.9h-0.9zM287.4 503.9h0.9v0.9h-0.9zM288.4 514.6h0.9v0.9h-0.9zM292.8 506.9h0.9v0.9h-0.9zM291.2 509.6h0.9v0.9h-0.9zM287.7 489.2h0.9v0.9h-0.9zM291.3 513.5h0.9v0.9h-0.9zM291.3 507.1h0.9v0.9h-0.9zM290.1 517.5h0.9v0.9h-0.9zM288.5 531.0h0.9v0.9h-0.9zM289.7 498.6h0.9v0.9h-0.9zM292.1 489.0h0.9v0.9h-0.9zM292.6 489.2h0.9v0.9h-0.9zM291.8 527.7h0.9v0.9h-0.9zM290.6 488.1h0.9v0.9h-0.9zM290.4 492.0h0.9v0.9h-0.9zM290.9 483.2h0.9v0.9h-0.9zM293.7 523.3h0.9v0.9h-0.9zM290.5 502.6h0.9v0.9h-0.9zM290.4 482.5h0.9v0.9h-0.9zM288.4 508.8h0.9v0.9h-0.9zM295.3 507.2h0.9v0.9h-0.9zM294.9 504.6h0.9v0.9h-0.9zM294.2 508.3h0.9v0.9h-0.9zM290.1 515.6h0.9v0.9h-0.9zM288.1 508.2h0.9v0.9h-0.9zM293.0 489.2h0.9v0.9h-0.9zM289.4 509.8h0.9v0.9h-0.9zM291.7 509.8h0.9v0.9h-0.9zM294.5 491.1h0.9v0.9h-0.9zM293.3 506.2h0.9v0.9h-0.9zM288.3 502.1h0.9v0.9h-0.9zM290.0 494.4h0.9v0.9h-0.9zM288.4 509.3h0.9v0.9h-0.9zM294.6 528.4h0.9v0.9h-0.9zM296.1 481.9h0.9v0.9h-0.9zM289.1 503.7h0.9v0.9h-0.9zM289.2 506.0h0.9v0.9h-0.9zM287.2 494.5h0.9v0.9h-0.9zM293.6 509.0h0.9v0.9h-0.9zM286.9 514.0h0.9v0.9h-0.9zM297.4 518.6h0.9v0.9h-0.9zM289.3 541.9h0.9v0.9h-0.9zM287.1 503.4h0.9v0.9h-0.9zM292.2 508.3h0.9v0.9h-0.9zM293.8 513.2h0.9v0.9h-0.9zM292.3 507.5h0.9v0.9h-0.9zM290.3 498.4h0.9v0.9h-0.9zM289.1 505.5h0.9v0.9h-0.9zM288.9 499.6h0.9v0.9h-0.9zM291.0 531.7h0.9v0.9h-0.9zM291.3 501.1h0.9v0.9h-0.9zM292.4 518.4h0.9v0.9h-0.9zM289.8 501.4h0.9v0.9h-0.9zM290.4 487.0h0.9v0.9h-0.9zM293.6 517.8h0.9v0.9h-0.9zM286.5 515.3h0.9v0.9h-0.9zM289.8 513.8h0.9v0.9h-0.9zM291.2 499.0h0.9v0.9h-0.9zM288.2 494.9h0.9v0.9h-0.9zM293.8 510.9h0.9v0.9h-0.9zM294.3 502.1h0.9v0.9h-0.9zM291.5 509.0h0.9v0.9h-0.9zM289.2 514.1h0.9v0.9h-0.9zM286.6 495.6h0.9v0.9h-0.9zM291.9 509.6h0.9v0.9h-0.9zM292.2 504.0h0.9v0.9h-0.9zM288.4 497.2h0.9v0.9h-0.9zM289.8 507.1h0.9v0.9h-0.9zM292.3 508.8h0.9v0.9h-0.9zM288.0 521.8h0.9v0.9h-0.9zM295.1 512.7h0.9v0.9h-0.9zM292.3 516.3h0.9v0.9h-0.9zM293.6 508.3h0.9v0.9h-0.9zM290.2 524.4h0.9v0.9h-0.9zM289.0 513.9h0.9v0.9h-0.9zM288.4 502.9h0.9v0.9h-0.9zM291.2 505.9h0.9v0.9h-0.9zM296.0 502.2h0.9v0.9h-0.9zM296.3 521.3h0.9v0.9h-0.9zM285.7 515.8h0.9v0.9h-0.9zM292.9 513.0h0.9v0.9h-0.9zM288.9 507.9h0.9v0.9h-0.9zM291.3 493.0h0.9v0.9h-0.9z" fill="#4a58b0" opacity="0.5"/>
<path d="M295.7 504.6h0.9v0.9h-0.9zM301.8 498.7h0.9v0.9h-0.9zM294.6 507.4h0.9v0.9h-0.9zM285.4 498.2h0.9v0.9h-0.9zM298.8 495.2h0.9v0.9h-0.9zM295.1 515.2h0.9v0.9h-0.9zM303.1 495.4h0.9v0.9h-0.9zM295.6 503.1h0.9v0.9h-0.9zM306.9 510.9h0.9v0.9h-0.9zM294.5 496.7h0.9v0.9h-0.9zM295.1 489.9h0.9v0.9h-0.9zM299.0 498.2h0.9v0.9h-0.9zM305.0 499.9h0.9v0.9h-0.9zM296.8 510.4h0.9v0.9h-0.9zM301.5 510.3h0.9v0.9h-0.9zM303.3 491.1h0.9v0.9h-0.9zM292.7 513.1h0.9v0.9h-0.9zM291.9 503.5h0.9v0.9h-0.9zM294.4 518.9h0.9v0.9h-0.9zM287.4 487.1h0.9v0.9h-0.9zM291.2 492.6h0.9v0.9h-0.9zM295.3 508.9h0.9v0.9h-0.9zM303.1 498.7h0.9v0.9h-0.9zM286.9 512.3h0.9v0.9h-0.9zM292.8 511.9h0.9v0.9h-0.9zM295.3 513.3h0.9v0.9h-0.9zM298.0 486.1h0.9v0.9h-0.9zM294.7 503.0h0.9v0.9h-0.9zM298.6 501.7h0.9v0.9h-0.9zM293.4 510.5h0.9v0.9h-0.9zM291.1 510.8h0.9v0.9h-0.9zM302.8 503.8h0.9v0.9h-0.9zM293.1 506.1h0.9v0.9h-0.9zM296.7 510.8h0.9v0.9h-0.9zM303.8 496.8h0.9v0.9h-0.9zM290.0 508.7h0.9v0.9h-0.9zM295.4 514.7h0.9v0.9h-0.9zM299.4 496.8h0.9v0.9h-0.9zM302.1 486.4h0.9v0.9h-0.9zM304.9 499.4h0.9v0.9h-0.9zM306.3 495.3h0.9v0.9h-0.9zM295.3 509.3h0.9v0.9h-0.9zM294.9 500.8h0.9v0.9h-0.9zM301.0 498.1h0.9v0.9h-0.9zM288.5 499.5h0.9v0.9h-0.9zM299.6 495.3h0.9v0.9h-0.9zM294.2 488.9h0.9v0.9h-0.9zM294.6 505.9h0.9v0.9h-0.9zM297.3 511.2h0.9v0.9h-0.9zM286.3 508.9h0.9v0.9h-0.9zM299.5 485.9h0.9v0.9h-0.9zM302.4 493.7h0.9v0.9h-0.9zM311.3 521.1h0.9v0.9h-0.9zM304.3 515.5h0.9v0.9h-0.9zM300.2 518.5h0.9v0.9h-0.9zM295.6 510.8h0.9v0.9h-0.9zM294.4 523.6h0.9v0.9h-0.9zM293.7 500.2h0.9v0.9h-0.9zM307.5 508.8h0.9v0.9h-0.9zM295.2 489.5h0.9v0.9h-0.9z" fill="#8a80c0" opacity="0.3"/>
<g filter="url(#bl05)"><ellipse cx="290.5" cy="489.7" rx="4.0" ry="5.0" fill="#2e4cb0"/><ellipse cx="290.5" cy="489.7" rx="2.4" ry="3.2" fill="#7ab4e0"/><ellipse cx="290.1" cy="509" rx="4.2" ry="9.5" fill="#2e4cb0"/><ellipse cx="290.1" cy="508" rx="3.3" ry="6.5" fill="#5aa8d8"/><ellipse cx="289.9" cy="507.5" rx="2.6" ry="4.4" fill="#94cc50"/><ellipse cx="289.7" cy="507.4" rx="1.6" ry="2.6" fill="#e8d030"/><ellipse cx="289.6" cy="507.5" rx="0.7" ry="0.9" fill="#d04018"/></g>
</g>
<rect x="283.3" y="474.8" width="54.5" height="53.9" fill="none" stroke="#8a8a8a" stroke-width="0.8"/>
<path d="M290.1 528.7v-1.2M283.3 481.5h1.2M296.9 528.7v-1.2M283.3 488.3h1.2M303.7 528.7v-1.2M283.3 495.0h1.2M310.6 528.7v-1.2M283.3 501.8h1.2M317.4 528.7v-1.2M283.3 508.5h1.2M324.2 528.7v-1.2M283.3 515.2h1.2M331.0 528.7v-1.2M283.3 522.0h1.2" stroke="#8a8a8a" stroke-width="0.5"/>
<text x="303.20" y="480.70" font-size="5.0" font-weight="bold" fill="#000" textLength="16.8" lengthAdjust="spacingAndGlyphs">M -10%</text>
<text x="315.80" y="500.40" font-size="5.0" font-weight="bold" fill="#000" textLength="13.7" lengthAdjust="spacingAndGlyphs">B &lt;1%</text>
<text x="336.00" y="526.60" font-size="5.0" font-weight="bold" fill="#000" text-anchor="end" textLength="13.7" lengthAdjust="spacingAndGlyphs">T &lt;1%</text>
<clipPath id="c15"><rect x="282.9" y="542.3" width="54.8" height="54.0"/></clipPath>
<g clip-path="url(#c15)">
<line x1="302.50" y1="542.30" x2="302.50" y2="571.20" stroke="#b4b4b4" stroke-width="0.6"/>
<line x1="302.50" y1="571.20" x2="337.70" y2="571.20" stroke="#b4b4b4" stroke-width="0.6"/>
<path d="M311.5 548.0h0.9v0.9h-0.9zM299.0 555.0h0.9v0.9h-0.9zM307.7 564.8h0.9v0.9h-0.9zM309.2 565.8h0.9v0.9h-0.9zM301.7 572.0h0.9v0.9h-0.9zM298.4 556.6h0.9v0.9h-0.9zM302.8 565.5h0.9v0.9h-0.9zM305.0 570.3h0.9v0.9h-0.9zM291.6 567.5h0.9v0.9h-0.9zM303.9 569.0h0.9v0.9h-0.9zM302.5 551.7h0.9v0.9h-0.9zM314.7 566.5h0.9v0.9h-0.9zM296.8 561.3h0.9v0.9h-0.9zM307.8 564.2h0.9v0.9h-0.9zM309.3 565.2h0.9v0.9h-0.9zM312.3 560.1h0.9v0.9h-0.9zM308.8 566.8h0.9v0.9h-0.9zM301.0 563.0h0.9v0.9h-0.9zM305.0 560.4h0.9v0.9h-0.9zM304.5 560.5h0.9v0.9h-0.9zM304.5 552.5h0.9v0.9h-0.9zM306.6 557.3h0.9v0.9h-0.9zM304.0 571.9h0.9v0.9h-0.9zM291.3 568.3h0.9v0.9h-0.9zM292.2 568.6h0.9v0.9h-0.9zM304.0 555.0h0.9v0.9h-0.9zM303.3 563.0h0.9v0.9h-0.9zM301.5 563.1h0.9v0.9h-0.9zM311.5 541.4h0.9v0.9h-0.9zM299.9 561.7h0.9v0.9h-0.9zM305.5 551.1h0.9v0.9h-0.9zM313.0 569.0h0.9v0.9h-0.9zM309.1 551.2h0.9v0.9h-0.9zM298.3 557.5h0.9v0.9h-0.9zM312.3 579.9h0.9v0.9h-0.9zM300.3 556.2h0.9v0.9h-0.9zM302.8 555.4h0.9v0.9h-0.9zM297.1 557.5h0.9v0.9h-0.9zM296.9 553.7h0.9v0.9h-0.9zM311.3 559.0h0.9v0.9h-0.9zM308.5 569.2h0.9v0.9h-0.9zM309.5 564.7h0.9v0.9h-0.9zM309.3 560.0h0.9v0.9h-0.9zM310.5 545.6h0.9v0.9h-0.9zM313.1 553.3h0.9v0.9h-0.9zM303.8 554.9h0.9v0.9h-0.9zM309.4 565.3h0.9v0.9h-0.9zM298.3 555.5h0.9v0.9h-0.9zM304.6 563.9h0.9v0.9h-0.9zM308.8 566.8h0.9v0.9h-0.9zM307.6 569.0h0.9v0.9h-0.9zM306.6 558.9h0.9v0.9h-0.9zM303.7 562.3h0.9v0.9h-0.9zM298.4 556.7h0.9v0.9h-0.9zM300.5 564.9h0.9v0.9h-0.9zM296.3 568.4h0.9v0.9h-0.9zM310.2 560.9h0.9v0.9h-0.9zM314.9 558.6h0.9v0.9h-0.9zM308.1 582.0h0.9v0.9h-0.9zM308.7 565.9h0.9v0.9h-0.9zM308.1 564.1h0.9v0.9h-0.9zM304.2 555.7h0.9v0.9h-0.9zM308.4 556.8h0.9v0.9h-0.9zM295.5 568.1h0.9v0.9h-0.9zM304.2 566.2h0.9v0.9h-0.9zM307.1 567.5h0.9v0.9h-0.9zM305.1 551.2h0.9v0.9h-0.9zM296.3 566.5h0.9v0.9h-0.9zM307.8 569.1h0.9v0.9h-0.9zM299.9 559.8h0.9v0.9h-0.9zM306.4 566.6h0.9v0.9h-0.9zM306.5 560.2h0.9v0.9h-0.9zM303.6 549.1h0.9v0.9h-0.9zM304.8 567.8h0.9v0.9h-0.9zM305.1 553.8h0.9v0.9h-0.9zM309.3 561.1h0.9v0.9h-0.9zM296.0 556.2h0.9v0.9h-0.9zM307.2 556.6h0.9v0.9h-0.9zM300.3 569.8h0.9v0.9h-0.9zM301.8 553.1h0.9v0.9h-0.9zM300.5 553.9h0.9v0.9h-0.9zM305.8 557.1h0.9v0.9h-0.9zM298.0 568.0h0.9v0.9h-0.9zM305.0 543.0h0.9v0.9h-0.9zM305.6 565.5h0.9v0.9h-0.9zM298.0 560.5h0.9v0.9h-0.9zM308.5 555.6h0.9v0.9h-0.9zM308.2 557.1h0.9v0.9h-0.9zM306.9 552.9h0.9v0.9h-0.9zM306.0 570.2h0.9v0.9h-0.9zM310.3 560.9h0.9v0.9h-0.9zM301.2 562.0h0.9v0.9h-0.9zM306.7 551.7h0.9v0.9h-0.9zM306.6 554.1h0.9v0.9h-0.9zM309.2 560.3h0.9v0.9h-0.9zM303.9 569.9h0.9v0.9h-0.9zM307.4 571.7h0.9v0.9h-0.9zM300.7 556.9h0.9v0.9h-0.9zM306.6 568.8h0.9v0.9h-0.9zM311.4 562.6h0.9v0.9h-0.9zM299.0 566.8h0.9v0.9h-0.9zM307.5 558.8h0.9v0.9h-0.9zM295.1 550.2h0.9v0.9h-0.9zM312.3 560.8h0.9v0.9h-0.9zM305.8 566.1h0.9v0.9h-0.9zM317.1 561.2h0.9v0.9h-0.9zM302.5 560.4h0.9v0.9h-0.9zM310.9 560.4h0.9v0.9h-0.9zM305.2 569.6h0.9v0.9h-0.9zM301.5 561.8h0.9v0.9h-0.9zM306.5 547.3h0.9v0.9h-0.9zM299.0 559.3h0.9v0.9h-0.9zM293.4 569.3h0.9v0.9h-0.9zM298.7 567.7h0.9v0.9h-0.9zM306.8 555.7h0.9v0.9h-0.9zM301.9 562.5h0.9v0.9h-0.9zM307.2 568.9h0.9v0.9h-0.9zM298.3 559.6h0.9v0.9h-0.9zM311.4 564.7h0.9v0.9h-0.9zM302.6 558.5h0.9v0.9h-0.9zM301.8 572.4h0.9v0.9h-0.9zM298.9 568.5h0.9v0.9h-0.9zM303.1 555.8h0.9v0.9h-0.9zM304.7 551.7h0.9v0.9h-0.9zM317.0 584.1h0.9v0.9h-0.9zM301.4 568.8h0.9v0.9h-0.9zM301.2 553.8h0.9v0.9h-0.9zM293.9 547.8h0.9v0.9h-0.9zM310.7 563.7h0.9v0.9h-0.9zM300.3 555.2h0.9v0.9h-0.9zM312.1 564.8h0.9v0.9h-0.9zM309.0 563.2h0.9v0.9h-0.9zM307.7 582.4h0.9v0.9h-0.9zM293.7 565.5h0.9v0.9h-0.9zM298.6 561.7h0.9v0.9h-0.9zM295.9 554.1h0.9v0.9h-0.9zM307.6 565.6h0.9v0.9h-0.9zM308.2 558.3h0.9v0.9h-0.9zM309.7 559.2h0.9v0.9h-0.9zM301.2 563.1h0.9v0.9h-0.9zM317.2 565.2h0.9v0.9h-0.9zM291.4 562.8h0.9v0.9h-0.9zM301.1 548.8h0.9v0.9h-0.9zM305.9 563.7h0.9v0.9h-0.9zM300.9 552.7h0.9v0.9h-0.9zM305.9 567.2h0.9v0.9h-0.9zM305.3 561.5h0.9v0.9h-0.9zM296.1 553.4h0.9v0.9h-0.9zM307.5 555.6h0.9v0.9h-0.9zM304.0 571.9h0.9v0.9h-0.9zM310.0 563.1h0.9v0.9h-0.9zM298.7 563.6h0.9v0.9h-0.9zM293.8 557.4h0.9v0.9h-0.9zM294.8 564.0h0.9v0.9h-0.9zM304.6 569.2h0.9v0.9h-0.9zM302.7 564.0h0.9v0.9h-0.9zM295.3 569.6h0.9v0.9h-0.9zM309.6 571.6h0.9v0.9h-0.9zM310.2 558.4h0.9v0.9h-0.9zM309.9 560.2h0.9v0.9h-0.9zM315.8 558.3h0.9v0.9h-0.9zM301.1 561.7h0.9v0.9h-0.9zM301.2 565.1h0.9v0.9h-0.9zM297.3 563.0h0.9v0.9h-0.9zM296.7 572.7h0.9v0.9h-0.9zM304.2 552.9h0.9v0.9h-0.9zM306.8 556.8h0.9v0.9h-0.9zM303.0 557.7h0.9v0.9h-0.9zM315.1 569.5h0.9v0.9h-0.9zM290.8 558.8h0.9v0.9h-0.9zM298.4 553.4h0.9v0.9h-0.9zM310.7 552.1h0.9v0.9h-0.9zM293.4 561.9h0.9v0.9h-0.9zM299.1 561.6h0.9v0.9h-0.9zM306.8 563.4h0.9v0.9h-0.9zM298.8 560.2h0.9v0.9h-0.9zM306.2 547.0h0.9v0.9h-0.9zM305.4 560.0h0.9v0.9h-0.9zM314.8 562.6h0.9v0.9h-0.9zM296.2 557.6h0.9v0.9h-0.9zM302.4 557.8h0.9v0.9h-0.9zM297.9 570.2h0.9v0.9h-0.9zM303.5 552.7h0.9v0.9h-0.9zM315.3 557.5h0.9v0.9h-0.9zM301.1 559.6h0.9v0.9h-0.9zM302.2 567.5h0.9v0.9h-0.9zM316.5 549.7h0.9v0.9h-0.9zM307.5 563.7h0.9v0.9h-0.9zM311.6 563.0h0.9v0.9h-0.9zM315.8 556.3h0.9v0.9h-0.9zM301.6 558.4h0.9v0.9h-0.9zM307.7 564.6h0.9v0.9h-0.9zM313.9 560.7h0.9v0.9h-0.9zM307.6 556.2h0.9v0.9h-0.9zM309.3 568.9h0.9v0.9h-0.9zM304.6 546.6h0.9v0.9h-0.9zM314.2 560.6h0.9v0.9h-0.9zM298.5 558.0h0.9v0.9h-0.9zM307.6 566.5h0.9v0.9h-0.9zM310.6 559.9h0.9v0.9h-0.9zM302.8 557.7h0.9v0.9h-0.9zM305.5 556.8h0.9v0.9h-0.9zM301.7 555.8h0.9v0.9h-0.9zM295.9 556.3h0.9v0.9h-0.9zM308.3 566.2h0.9v0.9h-0.9zM307.0 552.8h0.9v0.9h-0.9zM297.5 574.3h0.9v0.9h-0.9zM317.5 567.7h0.9v0.9h-0.9zM302.1 551.9h0.9v0.9h-0.9zM302.8 558.8h0.9v0.9h-0.9zM310.0 560.6h0.9v0.9h-0.9zM298.2 553.7h0.9v0.9h-0.9zM308.0 567.9h0.9v0.9h-0.9zM309.5 560.8h0.9v0.9h-0.9zM308.5 551.2h0.9v0.9h-0.9zM303.6 553.9h0.9v0.9h-0.9zM303.9 558.5h0.9v0.9h-0.9zM299.5 566.8h0.9v0.9h-0.9zM304.5 571.1h0.9v0.9h-0.9zM305.4 559.7h0.9v0.9h-0.9zM299.5 556.8h0.9v0.9h-0.9zM308.3 562.5h0.9v0.9h-0.9zM315.6 565.7h0.9v0.9h-0.9zM301.3 554.9h0.9v0.9h-0.9zM302.4 569.7h0.9v0.9h-0.9zM312.2 541.0h0.9v0.9h-0.9zM301.4 574.8h0.9v0.9h-0.9zM298.0 561.7h0.9v0.9h-0.9zM307.9 563.2h0.9v0.9h-0.9zM302.3 560.3h0.9v0.9h-0.9zM301.6 561.4h0.9v0.9h-0.9zM303.1 574.0h0.9v0.9h-0.9zM311.3 554.4h0.9v0.9h-0.9zM304.4 574.1h0.9v0.9h-0.9zM303.2 563.7h0.9v0.9h-0.9zM314.3 556.1h0.9v0.9h-0.9zM309.4 560.1h0.9v0.9h-0.9zM309.0 560.2h0.9v0.9h-0.9zM309.5 567.3h0.9v0.9h-0.9zM316.3 555.5h0.9v0.9h-0.9zM310.3 566.0h0.9v0.9h-0.9zM296.6 571.6h0.9v0.9h-0.9zM317.4 574.2h0.9v0.9h-0.9zM300.2 555.7h0.9v0.9h-0.9zM314.9 560.9h0.9v0.9h-0.9zM303.8 554.2h0.9v0.9h-0.9zM311.5 545.6h0.9v0.9h-0.9zM301.0 565.4h0.9v0.9h-0.9zM294.0 568.4h0.9v0.9h-0.9zM304.3 562.4h0.9v0.9h-0.9zM304.8 562.9h0.9v0.9h-0.9zM302.5 554.4h0.9v0.9h-0.9zM305.0 571.0h0.9v0.9h-0.9zM308.7 563.2h0.9v0.9h-0.9zM300.9 562.4h0.9v0.9h-0.9zM315.3 560.7h0.9v0.9h-0.9zM304.8 556.1h0.9v0.9h-0.9zM318.5 561.1h0.9v0.9h-0.9zM309.9 548.1h0.9v0.9h-0.9zM308.8 564.5h0.9v0.9h-0.9z" fill="#4a58b0" opacity="0.45"/>
<path d="M290.8 573.6h0.9v0.9h-0.9zM298.0 585.6h0.9v0.9h-0.9zM303.8 570.6h0.9v0.9h-0.9zM295.9 597.7h0.9v0.9h-0.9zM305.2 576.6h0.9v0.9h-0.9zM303.1 579.2h0.9v0.9h-0.9zM302.1 571.5h0.9v0.9h-0.9zM312.8 569.5h0.9v0.9h-0.9zM293.2 564.3h0.9v0.9h-0.9zM299.1 569.9h0.9v0.9h-0.9zM297.7 574.8h0.9v0.9h-0.9zM299.8 582.3h0.9v0.9h-0.9zM296.8 567.7h0.9v0.9h-0.9zM297.8 566.2h0.9v0.9h-0.9zM302.7 561.8h0.9v0.9h-0.9zM286.5 593.2h0.9v0.9h-0.9zM277.6 560.4h0.9v0.9h-0.9zM303.5 569.1h0.9v0.9h-0.9zM306.6 542.8h0.9v0.9h-0.9zM298.6 593.7h0.9v0.9h-0.9zM305.7 567.8h0.9v0.9h-0.9zM312.1 573.1h0.9v0.9h-0.9zM315.9 564.7h0.9v0.9h-0.9zM300.2 573.9h0.9v0.9h-0.9zM300.3 596.4h0.9v0.9h-0.9zM312.6 585.5h0.9v0.9h-0.9zM305.0 573.4h0.9v0.9h-0.9zM297.6 582.4h0.9v0.9h-0.9zM297.1 587.4h0.9v0.9h-0.9zM297.5 561.0h0.9v0.9h-0.9zM293.0 587.1h0.9v0.9h-0.9zM306.3 574.9h0.9v0.9h-0.9zM282.3 573.2h0.9v0.9h-0.9zM285.0 583.5h0.9v0.9h-0.9zM307.4 571.6h0.9v0.9h-0.9zM299.8 575.6h0.9v0.9h-0.9zM295.4 566.3h0.9v0.9h-0.9zM296.9 590.4h0.9v0.9h-0.9zM321.1 560.8h0.9v0.9h-0.9zM288.9 562.9h0.9v0.9h-0.9zM292.0 578.0h0.9v0.9h-0.9zM297.4 568.9h0.9v0.9h-0.9zM304.9 565.1h0.9v0.9h-0.9zM294.3 582.7h0.9v0.9h-0.9zM296.5 571.8h0.9v0.9h-0.9zM322.2 572.7h0.9v0.9h-0.9zM289.6 561.3h0.9v0.9h-0.9zM311.6 586.4h0.9v0.9h-0.9zM312.9 578.2h0.9v0.9h-0.9zM317.9 598.8h0.9v0.9h-0.9zM309.9 576.7h0.9v0.9h-0.9zM298.3 589.3h0.9v0.9h-0.9zM318.7 579.2h0.9v0.9h-0.9zM292.5 580.0h0.9v0.9h-0.9zM287.5 575.3h0.9v0.9h-0.9zM315.3 569.3h0.9v0.9h-0.9zM302.8 586.3h0.9v0.9h-0.9zM287.2 575.5h0.9v0.9h-0.9zM310.5 570.3h0.9v0.9h-0.9zM291.2 574.3h0.9v0.9h-0.9zM312.2 580.1h0.9v0.9h-0.9zM298.6 574.8h0.9v0.9h-0.9zM311.5 612.4h0.9v0.9h-0.9zM297.0 592.2h0.9v0.9h-0.9zM300.8 580.3h0.9v0.9h-0.9zM305.2 584.3h0.9v0.9h-0.9zM308.9 606.1h0.9v0.9h-0.9zM298.9 557.8h0.9v0.9h-0.9zM315.8 573.2h0.9v0.9h-0.9zM296.4 582.8h0.9v0.9h-0.9zM295.3 581.3h0.9v0.9h-0.9zM299.3 586.6h0.9v0.9h-0.9zM292.9 567.4h0.9v0.9h-0.9zM299.4 554.8h0.9v0.9h-0.9zM301.2 543.5h0.9v0.9h-0.9zM290.3 549.6h0.9v0.9h-0.9zM295.3 588.1h0.9v0.9h-0.9zM312.2 554.9h0.9v0.9h-0.9zM287.9 568.1h0.9v0.9h-0.9zM309.6 578.5h0.9v0.9h-0.9zM292.9 558.9h0.9v0.9h-0.9zM314.0 566.7h0.9v0.9h-0.9zM290.7 595.3h0.9v0.9h-0.9zM301.7 567.4h0.9v0.9h-0.9zM303.8 570.1h0.9v0.9h-0.9zM303.6 586.6h0.9v0.9h-0.9zM285.0 592.6h0.9v0.9h-0.9zM296.8 581.7h0.9v0.9h-0.9zM308.9 575.5h0.9v0.9h-0.9zM300.0 571.3h0.9v0.9h-0.9z" fill="#a09cc8" opacity="0.3"/>
<path d="M313.4 568.3h0.9v0.9h-0.9zM314.1 564.4h0.9v0.9h-0.9zM311.2 570.3h0.9v0.9h-0.9zM309.6 567.3h0.9v0.9h-0.9zM313.2 560.5h0.9v0.9h-0.9zM311.6 563.1h0.9v0.9h-0.9zM312.0 561.6h0.9v0.9h-0.9zM314.8 572.1h0.9v0.9h-0.9zM313.8 570.3h0.9v0.9h-0.9zM308.6 571.8h0.9v0.9h-0.9zM315.1 568.9h0.9v0.9h-0.9zM312.8 573.4h0.9v0.9h-0.9zM312.2 568.1h0.9v0.9h-0.9zM314.2 575.3h0.9v0.9h-0.9zM316.4 571.5h0.9v0.9h-0.9zM315.6 568.3h0.9v0.9h-0.9zM308.9 561.3h0.9v0.9h-0.9zM310.7 569.8h0.9v0.9h-0.9zM307.9 574.3h0.9v0.9h-0.9zM314.2 570.4h0.9v0.9h-0.9zM314.7 568.8h0.9v0.9h-0.9zM315.2 560.5h0.9v0.9h-0.9zM308.0 565.1h0.9v0.9h-0.9zM312.9 553.3h0.9v0.9h-0.9zM314.0 558.1h0.9v0.9h-0.9zM310.7 566.8h0.9v0.9h-0.9zM307.7 580.2h0.9v0.9h-0.9zM309.6 565.2h0.9v0.9h-0.9zM306.6 569.0h0.9v0.9h-0.9zM313.8 564.1h0.9v0.9h-0.9zM308.2 572.7h0.9v0.9h-0.9zM308.1 564.2h0.9v0.9h-0.9zM313.6 564.4h0.9v0.9h-0.9zM310.8 561.2h0.9v0.9h-0.9zM312.1 558.9h0.9v0.9h-0.9zM314.5 560.4h0.9v0.9h-0.9zM308.9 577.8h0.9v0.9h-0.9zM314.4 562.3h0.9v0.9h-0.9zM305.7 559.4h0.9v0.9h-0.9zM309.2 573.6h0.9v0.9h-0.9zM308.8 564.9h0.9v0.9h-0.9zM311.4 575.4h0.9v0.9h-0.9zM312.7 569.4h0.9v0.9h-0.9zM309.6 567.6h0.9v0.9h-0.9zM315.1 571.5h0.9v0.9h-0.9zM307.8 568.7h0.9v0.9h-0.9zM313.5 568.6h0.9v0.9h-0.9zM316.8 565.9h0.9v0.9h-0.9zM318.3 562.7h0.9v0.9h-0.9zM313.0 563.2h0.9v0.9h-0.9zM312.8 566.9h0.9v0.9h-0.9zM311.6 560.9h0.9v0.9h-0.9zM313.5 570.1h0.9v0.9h-0.9zM312.5 577.8h0.9v0.9h-0.9zM311.6 555.3h0.9v0.9h-0.9zM314.9 575.9h0.9v0.9h-0.9zM308.8 564.8h0.9v0.9h-0.9zM308.2 556.5h0.9v0.9h-0.9zM311.7 553.0h0.9v0.9h-0.9zM307.2 571.5h0.9v0.9h-0.9zM317.8 566.2h0.9v0.9h-0.9zM308.8 568.8h0.9v0.9h-0.9zM310.0 559.9h0.9v0.9h-0.9zM314.5 570.4h0.9v0.9h-0.9zM311.6 571.0h0.9v0.9h-0.9zM308.4 570.4h0.9v0.9h-0.9zM310.8 559.5h0.9v0.9h-0.9zM306.6 572.9h0.9v0.9h-0.9zM308.9 570.5h0.9v0.9h-0.9zM308.4 562.3h0.9v0.9h-0.9zM311.4 549.6h0.9v0.9h-0.9zM311.0 567.7h0.9v0.9h-0.9zM311.7 564.5h0.9v0.9h-0.9zM314.1 568.1h0.9v0.9h-0.9zM310.4 566.4h0.9v0.9h-0.9zM310.0 557.4h0.9v0.9h-0.9zM318.8 571.6h0.9v0.9h-0.9zM314.8 564.4h0.9v0.9h-0.9zM317.0 574.2h0.9v0.9h-0.9zM313.8 565.3h0.9v0.9h-0.9z" fill="#3a50b0" opacity="0.5"/>
<path d="M302,553 Q310,546 318,552 Q320,560 317,566 Q315,573 311,573 Q306,571 304,566 Q298,561 302,553Z" fill="#3c56b8" opacity="0.7" filter="url(#bl1)"/>
<g filter="url(#bl05)"><ellipse cx="311.2" cy="557.6" rx="7.0" ry="6.6" fill="#3e6cc8"/><ellipse cx="311.2" cy="557.4" rx="6.0" ry="5.6" fill="#5cb4d8"/><ellipse cx="311.2" cy="557.3" rx="5.0" ry="4.6" fill="#8ccc5a"/><ellipse cx="311.2" cy="557.3" rx="3.6" ry="3.3" fill="#d4d63e"/><ellipse cx="311.4" cy="557.2" rx="2.0" ry="1.8" fill="#e8d834"/></g>
</g>
<rect x="282.9" y="542.3" width="54.8" height="54.0" fill="none" stroke="#8a8a8a" stroke-width="0.8"/>
<path d="M289.8 596.3v-1.2M282.9 549.0h1.2M296.6 596.3v-1.2M282.9 555.8h1.2M303.4 596.3v-1.2M282.9 562.5h1.2M310.3 596.3v-1.2M282.9 569.3h1.2M317.1 596.3v-1.2M282.9 576.0h1.2M324.0 596.3v-1.2M282.9 582.8h1.2M330.8 596.3v-1.2M282.9 589.5h1.2" stroke="#8a8a8a" stroke-width="0.5"/>
<text x="335.60" y="547.80" font-size="5.0" font-weight="bold" fill="#000" text-anchor="end" textLength="23" lengthAdjust="spacingAndGlyphs">Mast - 90%</text>
<path d="M277.7,520.0 L277.7,534.0 L291.4,534.0" stroke="#000" stroke-width="1.2" fill="none"/>
<path d="M277.7,517.4 L275.9,521.6 L279.5,521.6Z" fill="#000"/>
<path d="M294.0,534.0 L289.8,532.2 L289.8,535.8Z" fill="#000"/>
<text x="280.22" y="488.50" font-size="7.0" font-weight="normal" fill="#000" text-anchor="middle" textLength="54" lengthAdjust="spacingAndGlyphs" transform="rotate(-90 280.22 488.50)" style="stroke-width:0.3px">B220 / Gr-1 / Mac-1</text>
<text x="295.40" y="536.52" font-size="7.0" font-weight="normal" fill="#000" textLength="50.5" lengthAdjust="spacingAndGlyphs" style="stroke-width:0.3px">B220 / CD4 / CD8</text>
<path d="M277.7,587.0 L277.7,602.1 L291.4,602.1" stroke="#000" stroke-width="1.2" fill="none"/>
<path d="M277.7,584.4 L275.9,588.6 L279.5,588.6Z" fill="#000"/>
<path d="M294.0,602.1 L289.8,600.3 L289.8,603.9Z" fill="#000"/>
<text x="280.22" y="575.90" font-size="7.0" font-weight="normal" fill="#000" text-anchor="middle" textLength="12.5" lengthAdjust="spacingAndGlyphs" transform="rotate(-90 280.22 575.90)" style="stroke-width:0.3px">c-Kit</text>
<text x="297.50" y="604.62" font-size="7.0" font-weight="normal" fill="#000" textLength="12.7" lengthAdjust="spacingAndGlyphs" style="stroke-width:0.3px">FcεR1</text>
<line x1="258.60" y1="535.80" x2="271.60" y2="522.20" stroke="#a02838" stroke-width="0.8"/>
<line x1="258.60" y1="535.80" x2="272.40" y2="550.20" stroke="#a02838" stroke-width="0.8"/>
<text x="404.80" y="502.80" font-size="10.2" font-weight="bold" fill="#000" text-anchor="middle" textLength="25" lengthAdjust="spacingAndGlyphs">T-ALL</text>
<clipPath id="c16"><rect x="378.8" y="522.4" width="54.3" height="53.8"/></clipPath>
<g clip-path="url(#c16)">
<line x1="393.80" y1="522.40" x2="393.80" y2="576.20" stroke="#b4b4b4" stroke-width="0.6"/>
<line x1="378.80" y1="561.20" x2="433.10" y2="561.20" stroke="#b4b4b4" stroke-width="0.6"/>
<path d="M394.3 548.2h0.9v0.9h-0.9zM390.7 566.4h0.9v0.9h-0.9zM388.1 543.5h0.9v0.9h-0.9zM381.9 552.3h0.9v0.9h-0.9zM385.7 552.2h0.9v0.9h-0.9zM383.9 556.2h0.9v0.9h-0.9zM392.8 549.5h0.9v0.9h-0.9zM384.4 560.2h0.9v0.9h-0.9zM388.7 556.5h0.9v0.9h-0.9zM387.6 555.9h0.9v0.9h-0.9zM387.4 552.3h0.9v0.9h-0.9zM384.4 557.2h0.9v0.9h-0.9zM386.6 555.4h0.9v0.9h-0.9zM382.1 547.3h0.9v0.9h-0.9zM383.6 559.6h0.9v0.9h-0.9zM391.1 558.9h0.9v0.9h-0.9zM385.1 553.4h0.9v0.9h-0.9zM388.0 551.8h0.9v0.9h-0.9zM394.8 550.4h0.9v0.9h-0.9zM389.0 550.8h0.9v0.9h-0.9zM386.7 555.0h0.9v0.9h-0.9zM381.7 551.9h0.9v0.9h-0.9zM387.5 561.2h0.9v0.9h-0.9zM383.6 552.8h0.9v0.9h-0.9zM384.7 560.6h0.9v0.9h-0.9zM385.6 569.0h0.9v0.9h-0.9zM388.5 551.2h0.9v0.9h-0.9zM385.0 558.7h0.9v0.9h-0.9zM384.2 551.5h0.9v0.9h-0.9zM386.3 554.8h0.9v0.9h-0.9zM392.0 556.3h0.9v0.9h-0.9zM387.0 559.6h0.9v0.9h-0.9zM388.5 559.2h0.9v0.9h-0.9zM390.8 542.4h0.9v0.9h-0.9zM388.4 566.1h0.9v0.9h-0.9zM382.7 554.4h0.9v0.9h-0.9zM389.5 553.9h0.9v0.9h-0.9zM384.2 557.4h0.9v0.9h-0.9zM385.8 549.2h0.9v0.9h-0.9zM385.2 551.6h0.9v0.9h-0.9zM384.4 543.9h0.9v0.9h-0.9zM389.1 554.0h0.9v0.9h-0.9zM385.3 554.3h0.9v0.9h-0.9zM388.6 553.4h0.9v0.9h-0.9zM382.3 550.2h0.9v0.9h-0.9zM381.5 553.1h0.9v0.9h-0.9zM390.3 558.0h0.9v0.9h-0.9zM386.9 548.6h0.9v0.9h-0.9zM385.4 553.6h0.9v0.9h-0.9zM384.8 543.9h0.9v0.9h-0.9zM388.4 554.0h0.9v0.9h-0.9zM391.2 550.9h0.9v0.9h-0.9zM387.4 559.3h0.9v0.9h-0.9zM389.5 556.4h0.9v0.9h-0.9zM382.7 558.2h0.9v0.9h-0.9zM383.4 554.4h0.9v0.9h-0.9zM381.2 546.3h0.9v0.9h-0.9zM384.7 554.7h0.9v0.9h-0.9zM388.7 554.9h0.9v0.9h-0.9zM387.5 548.5h0.9v0.9h-0.9zM388.4 542.0h0.9v0.9h-0.9zM384.6 550.9h0.9v0.9h-0.9zM393.1 554.4h0.9v0.9h-0.9zM385.1 549.0h0.9v0.9h-0.9zM385.7 556.3h0.9v0.9h-0.9zM387.6 552.6h0.9v0.9h-0.9zM387.2 563.1h0.9v0.9h-0.9zM387.7 560.3h0.9v0.9h-0.9zM382.3 553.6h0.9v0.9h-0.9zM387.1 556.0h0.9v0.9h-0.9zM384.5 547.2h0.9v0.9h-0.9zM390.7 547.1h0.9v0.9h-0.9zM386.3 554.1h0.9v0.9h-0.9zM388.0 549.3h0.9v0.9h-0.9zM380.5 556.5h0.9v0.9h-0.9zM387.3 547.7h0.9v0.9h-0.9zM386.4 545.3h0.9v0.9h-0.9zM387.0 552.1h0.9v0.9h-0.9zM388.3 542.8h0.9v0.9h-0.9zM389.5 557.2h0.9v0.9h-0.9zM389.6 555.3h0.9v0.9h-0.9zM383.2 544.5h0.9v0.9h-0.9zM392.5 556.4h0.9v0.9h-0.9zM376.8 550.3h0.9v0.9h-0.9zM390.1 541.5h0.9v0.9h-0.9zM388.6 546.9h0.9v0.9h-0.9zM384.2 539.8h0.9v0.9h-0.9zM386.2 550.5h0.9v0.9h-0.9zM388.1 554.4h0.9v0.9h-0.9zM388.8 566.0h0.9v0.9h-0.9zM391.5 542.3h0.9v0.9h-0.9zM385.0 545.4h0.9v0.9h-0.9zM387.8 554.4h0.9v0.9h-0.9zM393.0 547.0h0.9v0.9h-0.9zM388.3 551.8h0.9v0.9h-0.9zM380.8 559.3h0.9v0.9h-0.9zM386.7 542.4h0.9v0.9h-0.9zM389.4 548.8h0.9v0.9h-0.9zM387.7 547.3h0.9v0.9h-0.9zM387.2 551.9h0.9v0.9h-0.9zM392.0 547.5h0.9v0.9h-0.9zM390.2 551.4h0.9v0.9h-0.9zM388.2 554.4h0.9v0.9h-0.9zM381.7 550.1h0.9v0.9h-0.9zM382.8 555.6h0.9v0.9h-0.9zM389.9 557.6h0.9v0.9h-0.9zM382.2 545.3h0.9v0.9h-0.9zM384.5 553.4h0.9v0.9h-0.9zM387.7 553.1h0.9v0.9h-0.9zM386.3 552.3h0.9v0.9h-0.9zM389.8 549.5h0.9v0.9h-0.9zM382.4 561.7h0.9v0.9h-0.9zM381.7 551.8h0.9v0.9h-0.9zM389.0 556.3h0.9v0.9h-0.9zM388.7 564.6h0.9v0.9h-0.9zM391.4 546.2h0.9v0.9h-0.9zM385.2 564.8h0.9v0.9h-0.9zM389.1 552.7h0.9v0.9h-0.9zM391.9 553.7h0.9v0.9h-0.9zM389.1 557.2h0.9v0.9h-0.9z" fill="#4a5ab8" opacity="0.45"/>
<path d="M389.6 566.3h0.9v0.9h-0.9zM390.6 566.8h0.9v0.9h-0.9zM384.7 570.7h0.9v0.9h-0.9zM389.5 563.9h0.9v0.9h-0.9zM388.7 565.8h0.9v0.9h-0.9zM388.1 572.0h0.9v0.9h-0.9zM390.2 563.3h0.9v0.9h-0.9zM383.4 564.3h0.9v0.9h-0.9zM384.0 570.3h0.9v0.9h-0.9zM393.1 563.1h0.9v0.9h-0.9zM386.1 567.1h0.9v0.9h-0.9zM389.7 571.5h0.9v0.9h-0.9zM386.4 568.1h0.9v0.9h-0.9zM385.3 564.8h0.9v0.9h-0.9zM385.4 567.7h0.9v0.9h-0.9zM389.3 562.8h0.9v0.9h-0.9zM389.4 560.8h0.9v0.9h-0.9zM390.1 571.8h0.9v0.9h-0.9zM391.7 560.9h0.9v0.9h-0.9zM388.9 565.0h0.9v0.9h-0.9zM388.2 571.9h0.9v0.9h-0.9zM384.2 566.6h0.9v0.9h-0.9zM383.2 564.9h0.9v0.9h-0.9zM379.5 566.8h0.9v0.9h-0.9zM378.9 565.4h0.9v0.9h-0.9zM388.8 573.0h0.9v0.9h-0.9zM383.0 570.7h0.9v0.9h-0.9zM384.7 559.1h0.9v0.9h-0.9zM390.6 568.1h0.9v0.9h-0.9zM388.5 569.0h0.9v0.9h-0.9zM389.0 564.0h0.9v0.9h-0.9zM388.3 566.4h0.9v0.9h-0.9zM387.0 564.8h0.9v0.9h-0.9zM389.8 571.7h0.9v0.9h-0.9zM387.9 572.2h0.9v0.9h-0.9zM384.3 574.9h0.9v0.9h-0.9zM384.8 566.6h0.9v0.9h-0.9zM386.8 572.3h0.9v0.9h-0.9zM388.2 569.4h0.9v0.9h-0.9zM384.6 572.0h0.9v0.9h-0.9zM390.5 563.0h0.9v0.9h-0.9zM386.0 570.9h0.9v0.9h-0.9zM389.5 561.8h0.9v0.9h-0.9zM384.7 568.7h0.9v0.9h-0.9zM386.1 569.1h0.9v0.9h-0.9zM384.5 564.2h0.9v0.9h-0.9zM388.2 568.9h0.9v0.9h-0.9zM383.8 571.5h0.9v0.9h-0.9zM388.3 567.8h0.9v0.9h-0.9zM387.2 571.1h0.9v0.9h-0.9zM387.7 567.3h0.9v0.9h-0.9zM386.8 573.0h0.9v0.9h-0.9zM391.7 556.6h0.9v0.9h-0.9zM384.5 557.8h0.9v0.9h-0.9zM384.8 566.0h0.9v0.9h-0.9zM384.0 569.6h0.9v0.9h-0.9zM387.3 568.9h0.9v0.9h-0.9zM382.5 566.7h0.9v0.9h-0.9zM388.5 561.5h0.9v0.9h-0.9zM381.5 567.5h0.9v0.9h-0.9z" fill="#4a5ab8" opacity="0.45"/>
<ellipse cx="403.3" cy="550.4" rx="11" ry="5.5" fill="#4a60c0" opacity="0.5" transform="rotate(-50 403.3 550.4)" filter="url(#bl1)"/>
<ellipse cx="387.8" cy="550.9" rx="4.6" ry="6.6" fill="#4a60c0" opacity="0.5" filter="url(#bl1)"/>
<g filter="url(#bl05)"><ellipse cx="387.6" cy="550.4" rx="3.4" ry="5.2" fill="#2c48ac"/><ellipse cx="387.6" cy="550.4" rx="1.9" ry="3.0" fill="#7aa8d8"/><ellipse cx="386.0" cy="567.9" rx="2.6" ry="4.2" fill="#3a58b6"/><path d="M395.8,557.4 Q395.8,550.4 402.8,546.4 L410.8,540.9 Q412.8,542.4 409.8,548.4 Q404.8,557.4 398.8,558.9 Q395.8,559.4 395.8,557.4Z" fill="#2a46aa"/><ellipse cx="402.3" cy="550.9" rx="6" ry="3.6" fill="#56b0d8" transform="rotate(-45 402.3 550.9)"/><ellipse cx="401.8" cy="551.4" rx="4.4" ry="2.6" fill="#90cc50" transform="rotate(-45 401.8 551.4)"/><ellipse cx="401.1" cy="551.9" rx="2.2" ry="1.8" fill="#e8d030"/><ellipse cx="401.1" cy="551.9" rx="1.2" ry="1.1" fill="#d02818"/></g>
</g>
<rect x="378.8" y="522.4" width="54.3" height="53.8" fill="none" stroke="#8a8a8a" stroke-width="0.8"/>
<path d="M385.6 576.2v-1.2M378.8 529.1h1.2M392.4 576.2v-1.2M378.8 535.9h1.2M399.2 576.2v-1.2M378.8 542.6h1.2M405.9 576.2v-1.2M378.8 549.3h1.2M412.7 576.2v-1.2M378.8 556.0h1.2M419.5 576.2v-1.2M378.8 562.8h1.2M426.3 576.2v-1.2M378.8 569.5h1.2" stroke="#8a8a8a" stroke-width="0.5"/>
<rect x="393.60" y="522.30" width="39.90" height="38.90" fill="none" stroke="#b42834" stroke-width="1.3"/>
<text x="431.60" y="529.80" font-size="6.6" font-weight="bold" fill="#000" text-anchor="end" textLength="12.5" lengthAdjust="spacingAndGlyphs">87%</text>
<path d="M372.8,567.2 L372.8,581.9 L387.6,581.9" stroke="#000" stroke-width="1.2" fill="none"/>
<path d="M372.8,564.6 L371.0,568.8 L374.6,568.8Z" fill="#000"/>
<path d="M390.2,581.9 L386.0,580.1 L386.0,583.7Z" fill="#000"/>
<text x="375.39" y="551.00" font-size="7.2" font-weight="normal" fill="#000" text-anchor="middle" textLength="19.5" lengthAdjust="spacingAndGlyphs" transform="rotate(-90 375.39 551.00)" style="stroke-width:0.3px">CD45.2</text>
<text x="392.30" y="584.49" font-size="7.2" font-weight="normal" fill="#000" textLength="12.4" lengthAdjust="spacingAndGlyphs" style="stroke-width:0.3px">GFP</text>
<clipPath id="c17"><rect x="458.3" y="474.8" width="53.3" height="53.9"/></clipPath>
<g clip-path="url(#c17)">
<line x1="458.30" y1="509.30" x2="511.60" y2="509.30" stroke="#b4b4b4" stroke-width="0.6"/>
<line x1="478.80" y1="509.30" x2="496.50" y2="480.50" stroke="#b4b4b4" stroke-width="0.6"/>
<line x1="496.50" y1="480.50" x2="511.60" y2="480.50" stroke="#b4b4b4" stroke-width="0.6"/>
<line x1="486.60" y1="509.30" x2="507.50" y2="495.60" stroke="#b4b4b4" stroke-width="0.6"/>
<line x1="507.50" y1="495.60" x2="511.60" y2="495.60" stroke="#b4b4b4" stroke-width="0.6"/>
<path d="M502.5 487.5h0.9v0.9h-0.9zM474.1 498.0h0.9v0.9h-0.9zM486.8 497.7h0.9v0.9h-0.9zM472.9 493.1h0.9v0.9h-0.9zM479.7 494.3h0.9v0.9h-0.9zM480.8 487.7h0.9v0.9h-0.9zM478.2 489.7h0.9v0.9h-0.9zM470.2 491.9h0.9v0.9h-0.9zM483.6 494.1h0.9v0.9h-0.9zM477.6 493.5h0.9v0.9h-0.9zM475.7 491.6h0.9v0.9h-0.9zM473.0 476.2h0.9v0.9h-0.9zM477.5 487.7h0.9v0.9h-0.9zM470.8 485.9h0.9v0.9h-0.9zM480.2 491.7h0.9v0.9h-0.9zM477.7 495.3h0.9v0.9h-0.9zM479.0 494.7h0.9v0.9h-0.9zM482.2 501.6h0.9v0.9h-0.9zM482.0 495.8h0.9v0.9h-0.9zM484.4 489.5h0.9v0.9h-0.9zM466.5 492.0h0.9v0.9h-0.9zM461.4 487.6h0.9v0.9h-0.9zM477.1 504.7h0.9v0.9h-0.9zM478.5 488.3h0.9v0.9h-0.9zM480.2 497.2h0.9v0.9h-0.9zM477.8 499.8h0.9v0.9h-0.9zM469.6 501.6h0.9v0.9h-0.9zM462.7 492.9h0.9v0.9h-0.9zM481.0 497.3h0.9v0.9h-0.9zM471.5 477.5h0.9v0.9h-0.9zM464.4 484.6h0.9v0.9h-0.9zM477.1 508.2h0.9v0.9h-0.9zM471.1 504.0h0.9v0.9h-0.9zM469.7 493.2h0.9v0.9h-0.9zM477.8 510.8h0.9v0.9h-0.9zM477.8 476.8h0.9v0.9h-0.9zM470.9 498.5h0.9v0.9h-0.9zM473.8 499.1h0.9v0.9h-0.9zM474.1 495.5h0.9v0.9h-0.9zM481.1 511.8h0.9v0.9h-0.9zM474.8 487.3h0.9v0.9h-0.9zM482.6 499.3h0.9v0.9h-0.9zM462.4 498.9h0.9v0.9h-0.9zM470.7 493.9h0.9v0.9h-0.9zM484.8 502.9h0.9v0.9h-0.9zM470.9 496.5h0.9v0.9h-0.9zM471.5 475.0h0.9v0.9h-0.9zM474.5 480.0h0.9v0.9h-0.9zM469.2 495.9h0.9v0.9h-0.9zM467.2 488.2h0.9v0.9h-0.9zM463.9 483.8h0.9v0.9h-0.9zM478.9 498.9h0.9v0.9h-0.9zM459.9 500.4h0.9v0.9h-0.9zM474.7 488.3h0.9v0.9h-0.9zM466.2 496.3h0.9v0.9h-0.9zM470.5 486.8h0.9v0.9h-0.9zM476.6 496.9h0.9v0.9h-0.9zM463.4 496.6h0.9v0.9h-0.9zM475.5 499.5h0.9v0.9h-0.9zM483.6 494.0h0.9v0.9h-0.9zM468.0 502.1h0.9v0.9h-0.9zM480.4 486.4h0.9v0.9h-0.9zM469.7 491.8h0.9v0.9h-0.9zM482.6 494.4h0.9v0.9h-0.9zM489.9 483.5h0.9v0.9h-0.9zM483.9 487.3h0.9v0.9h-0.9zM473.5 490.6h0.9v0.9h-0.9zM487.0 504.5h0.9v0.9h-0.9zM461.8 496.3h0.9v0.9h-0.9zM480.4 497.0h0.9v0.9h-0.9zM478.3 483.2h0.9v0.9h-0.9zM483.6 502.0h0.9v0.9h-0.9zM469.9 497.5h0.9v0.9h-0.9zM481.5 496.8h0.9v0.9h-0.9zM480.4 484.4h0.9v0.9h-0.9zM471.0 495.8h0.9v0.9h-0.9zM481.0 501.8h0.9v0.9h-0.9zM468.4 487.1h0.9v0.9h-0.9zM471.1 488.7h0.9v0.9h-0.9zM488.2 504.4h0.9v0.9h-0.9zM476.4 503.7h0.9v0.9h-0.9zM472.2 494.8h0.9v0.9h-0.9zM475.9 493.9h0.9v0.9h-0.9zM470.3 482.6h0.9v0.9h-0.9zM480.8 489.8h0.9v0.9h-0.9zM469.4 485.5h0.9v0.9h-0.9zM459.2 484.9h0.9v0.9h-0.9zM476.9 486.4h0.9v0.9h-0.9zM460.4 485.7h0.9v0.9h-0.9zM458.4 496.7h0.9v0.9h-0.9zM455.6 492.8h0.9v0.9h-0.9zM487.3 493.8h0.9v0.9h-0.9zM479.2 482.3h0.9v0.9h-0.9zM491.5 490.9h0.9v0.9h-0.9zM481.9 513.1h0.9v0.9h-0.9zM465.2 493.2h0.9v0.9h-0.9zM467.8 494.1h0.9v0.9h-0.9zM472.7 495.7h0.9v0.9h-0.9zM475.5 489.8h0.9v0.9h-0.9zM480.4 498.3h0.9v0.9h-0.9zM468.6 498.3h0.9v0.9h-0.9zM467.9 487.7h0.9v0.9h-0.9zM480.5 501.2h0.9v0.9h-0.9zM477.9 513.2h0.9v0.9h-0.9zM468.8 496.1h0.9v0.9h-0.9zM473.8 478.6h0.9v0.9h-0.9zM480.7 494.5h0.9v0.9h-0.9zM477.7 493.7h0.9v0.9h-0.9zM478.5 492.0h0.9v0.9h-0.9zM462.7 495.4h0.9v0.9h-0.9zM475.1 488.6h0.9v0.9h-0.9zM461.7 494.2h0.9v0.9h-0.9zM478.2 506.8h0.9v0.9h-0.9zM473.5 497.5h0.9v0.9h-0.9zM477.5 490.1h0.9v0.9h-0.9zM471.2 488.6h0.9v0.9h-0.9zM477.1 500.5h0.9v0.9h-0.9zM480.3 477.8h0.9v0.9h-0.9zM471.2 500.3h0.9v0.9h-0.9zM475.5 501.9h0.9v0.9h-0.9zM479.7 496.4h0.9v0.9h-0.9zM481.5 504.2h0.9v0.9h-0.9zM473.1 487.5h0.9v0.9h-0.9zM465.8 496.4h0.9v0.9h-0.9zM486.9 496.2h0.9v0.9h-0.9zM474.7 496.7h0.9v0.9h-0.9zM469.1 496.3h0.9v0.9h-0.9zM486.4 495.7h0.9v0.9h-0.9zM471.4 495.9h0.9v0.9h-0.9zM484.2 495.5h0.9v0.9h-0.9zM484.4 494.6h0.9v0.9h-0.9zM475.2 488.0h0.9v0.9h-0.9zM477.7 498.1h0.9v0.9h-0.9zM484.5 501.3h0.9v0.9h-0.9zM472.4 481.2h0.9v0.9h-0.9zM470.8 506.0h0.9v0.9h-0.9zM459.1 490.3h0.9v0.9h-0.9zM479.6 502.2h0.9v0.9h-0.9zM469.8 496.1h0.9v0.9h-0.9zM472.3 493.8h0.9v0.9h-0.9zM471.4 495.5h0.9v0.9h-0.9zM478.3 487.4h0.9v0.9h-0.9zM481.6 482.5h0.9v0.9h-0.9zM459.5 483.3h0.9v0.9h-0.9zM479.8 486.1h0.9v0.9h-0.9zM479.5 492.7h0.9v0.9h-0.9zM476.1 492.3h0.9v0.9h-0.9zM488.1 496.5h0.9v0.9h-0.9zM463.7 485.1h0.9v0.9h-0.9zM478.3 495.0h0.9v0.9h-0.9zM480.8 503.4h0.9v0.9h-0.9zM475.2 484.6h0.9v0.9h-0.9zM480.9 486.1h0.9v0.9h-0.9zM475.6 485.4h0.9v0.9h-0.9zM479.5 506.3h0.9v0.9h-0.9zM465.3 490.7h0.9v0.9h-0.9zM483.9 496.2h0.9v0.9h-0.9zM494.8 498.8h0.9v0.9h-0.9zM482.2 501.7h0.9v0.9h-0.9zM476.0 491.5h0.9v0.9h-0.9z" fill="#8a90c8" opacity="0.35"/>
<path d="M472.5 522.9h0.9v0.9h-0.9zM477.1 513.8h0.9v0.9h-0.9zM473.0 523.8h0.9v0.9h-0.9zM473.8 517.2h0.9v0.9h-0.9zM474.2 515.4h0.9v0.9h-0.9zM470.2 509.5h0.9v0.9h-0.9zM470.7 525.8h0.9v0.9h-0.9zM472.8 510.5h0.9v0.9h-0.9zM464.3 514.6h0.9v0.9h-0.9zM463.4 516.6h0.9v0.9h-0.9zM469.3 522.7h0.9v0.9h-0.9zM464.6 505.2h0.9v0.9h-0.9zM473.2 531.3h0.9v0.9h-0.9zM475.6 514.1h0.9v0.9h-0.9zM477.2 519.9h0.9v0.9h-0.9zM469.4 517.8h0.9v0.9h-0.9zM472.3 533.4h0.9v0.9h-0.9zM475.1 520.0h0.9v0.9h-0.9zM477.5 528.9h0.9v0.9h-0.9zM480.3 507.0h0.9v0.9h-0.9zM471.9 517.9h0.9v0.9h-0.9zM477.8 519.0h0.9v0.9h-0.9zM479.0 516.7h0.9v0.9h-0.9zM466.0 514.3h0.9v0.9h-0.9zM470.1 519.9h0.9v0.9h-0.9zM472.0 523.3h0.9v0.9h-0.9zM478.7 530.3h0.9v0.9h-0.9zM470.7 519.1h0.9v0.9h-0.9zM484.3 511.3h0.9v0.9h-0.9zM474.0 513.8h0.9v0.9h-0.9zM466.8 528.1h0.9v0.9h-0.9zM465.0 513.7h0.9v0.9h-0.9zM482.0 515.1h0.9v0.9h-0.9zM479.2 523.5h0.9v0.9h-0.9zM478.3 512.8h0.9v0.9h-0.9zM487.6 515.8h0.9v0.9h-0.9zM468.0 521.7h0.9v0.9h-0.9zM471.7 518.6h0.9v0.9h-0.9zM465.1 525.4h0.9v0.9h-0.9zM472.9 537.4h0.9v0.9h-0.9zM486.2 525.7h0.9v0.9h-0.9zM476.5 515.8h0.9v0.9h-0.9zM471.6 526.0h0.9v0.9h-0.9zM469.7 515.3h0.9v0.9h-0.9zM469.7 521.8h0.9v0.9h-0.9zM476.0 522.7h0.9v0.9h-0.9zM473.0 512.8h0.9v0.9h-0.9zM472.4 519.0h0.9v0.9h-0.9zM469.5 520.8h0.9v0.9h-0.9zM478.2 516.8h0.9v0.9h-0.9zM468.3 519.6h0.9v0.9h-0.9zM474.8 515.0h0.9v0.9h-0.9zM476.0 520.1h0.9v0.9h-0.9zM468.8 513.5h0.9v0.9h-0.9zM479.3 519.2h0.9v0.9h-0.9zM473.7 531.9h0.9v0.9h-0.9zM470.4 516.8h0.9v0.9h-0.9zM476.0 514.8h0.9v0.9h-0.9zM473.2 521.6h0.9v0.9h-0.9zM462.2 517.4h0.9v0.9h-0.9zM467.4 526.3h0.9v0.9h-0.9zM462.4 522.4h0.9v0.9h-0.9zM479.1 527.0h0.9v0.9h-0.9zM485.2 520.5h0.9v0.9h-0.9zM467.4 518.5h0.9v0.9h-0.9zM468.1 525.4h0.9v0.9h-0.9zM474.6 524.7h0.9v0.9h-0.9zM474.8 523.5h0.9v0.9h-0.9zM467.1 518.4h0.9v0.9h-0.9zM475.7 512.1h0.9v0.9h-0.9zM470.2 521.8h0.9v0.9h-0.9zM470.6 512.4h0.9v0.9h-0.9zM473.5 516.0h0.9v0.9h-0.9zM474.5 513.2h0.9v0.9h-0.9zM476.5 520.6h0.9v0.9h-0.9zM476.4 504.8h0.9v0.9h-0.9zM470.3 513.3h0.9v0.9h-0.9zM472.8 525.9h0.9v0.9h-0.9zM473.6 517.1h0.9v0.9h-0.9zM474.4 510.6h0.9v0.9h-0.9zM473.4 513.0h0.9v0.9h-0.9zM478.9 517.3h0.9v0.9h-0.9zM471.0 525.8h0.9v0.9h-0.9zM474.2 512.8h0.9v0.9h-0.9zM468.4 519.5h0.9v0.9h-0.9zM476.9 517.6h0.9v0.9h-0.9zM467.4 514.6h0.9v0.9h-0.9zM471.6 514.1h0.9v0.9h-0.9zM468.2 528.9h0.9v0.9h-0.9zM472.4 524.6h0.9v0.9h-0.9zM458.4 527.5h0.9v0.9h-0.9zM469.5 514.2h0.9v0.9h-0.9zM473.1 517.0h0.9v0.9h-0.9zM467.3 517.5h0.9v0.9h-0.9zM474.5 511.4h0.9v0.9h-0.9zM467.5 519.2h0.9v0.9h-0.9zM469.4 521.2h0.9v0.9h-0.9zM479.1 527.4h0.9v0.9h-0.9zM479.9 526.4h0.9v0.9h-0.9zM469.2 518.2h0.9v0.9h-0.9zM478.7 519.4h0.9v0.9h-0.9zM467.7 514.0h0.9v0.9h-0.9zM466.8 527.5h0.9v0.9h-0.9zM467.6 515.1h0.9v0.9h-0.9zM466.8 525.1h0.9v0.9h-0.9zM468.0 516.9h0.9v0.9h-0.9zM468.3 524.8h0.9v0.9h-0.9zM476.3 521.5h0.9v0.9h-0.9zM485.3 521.1h0.9v0.9h-0.9zM482.8 516.8h0.9v0.9h-0.9zM475.1 514.1h0.9v0.9h-0.9zM470.2 527.1h0.9v0.9h-0.9zM472.0 523.0h0.9v0.9h-0.9zM474.9 524.1h0.9v0.9h-0.9zM476.1 513.7h0.9v0.9h-0.9zM471.5 515.8h0.9v0.9h-0.9zM467.5 522.6h0.9v0.9h-0.9zM465.5 518.2h0.9v0.9h-0.9zM481.7 523.1h0.9v0.9h-0.9zM473.0 533.3h0.9v0.9h-0.9zM474.5 507.6h0.9v0.9h-0.9zM470.2 521.4h0.9v0.9h-0.9zM472.2 519.8h0.9v0.9h-0.9zM471.7 515.6h0.9v0.9h-0.9zM463.8 509.4h0.9v0.9h-0.9zM479.3 519.5h0.9v0.9h-0.9zM466.5 518.1h0.9v0.9h-0.9zM475.2 525.5h0.9v0.9h-0.9zM475.2 515.0h0.9v0.9h-0.9zM471.8 516.4h0.9v0.9h-0.9zM471.9 515.9h0.9v0.9h-0.9zM479.3 523.0h0.9v0.9h-0.9zM477.3 527.1h0.9v0.9h-0.9zM480.0 522.1h0.9v0.9h-0.9zM483.5 532.3h0.9v0.9h-0.9zM465.9 517.0h0.9v0.9h-0.9zM479.7 533.3h0.9v0.9h-0.9zM478.0 518.2h0.9v0.9h-0.9zM471.0 520.6h0.9v0.9h-0.9zM474.1 510.7h0.9v0.9h-0.9zM481.9 520.1h0.9v0.9h-0.9zM468.0 519.1h0.9v0.9h-0.9zM471.6 513.1h0.9v0.9h-0.9zM470.9 530.8h0.9v0.9h-0.9zM477.4 507.9h0.9v0.9h-0.9zM458.5 513.5h0.9v0.9h-0.9zM466.9 523.5h0.9v0.9h-0.9zM476.4 524.9h0.9v0.9h-0.9zM468.4 514.5h0.9v0.9h-0.9zM468.1 518.2h0.9v0.9h-0.9zM472.9 519.6h0.9v0.9h-0.9zM475.4 520.5h0.9v0.9h-0.9zM473.2 519.5h0.9v0.9h-0.9zM455.9 515.2h0.9v0.9h-0.9zM463.4 521.7h0.9v0.9h-0.9zM481.7 510.2h0.9v0.9h-0.9zM479.0 519.2h0.9v0.9h-0.9zM476.5 514.6h0.9v0.9h-0.9zM471.7 518.3h0.9v0.9h-0.9zM480.3 523.0h0.9v0.9h-0.9zM458.5 515.7h0.9v0.9h-0.9zM468.5 511.0h0.9v0.9h-0.9zM473.6 507.6h0.9v0.9h-0.9zM466.2 504.8h0.9v0.9h-0.9zM467.1 512.3h0.9v0.9h-0.9zM473.1 524.0h0.9v0.9h-0.9zM473.1 517.9h0.9v0.9h-0.9zM472.4 516.0h0.9v0.9h-0.9zM473.2 517.4h0.9v0.9h-0.9zM482.6 521.4h0.9v0.9h-0.9zM471.1 512.9h0.9v0.9h-0.9zM469.3 523.6h0.9v0.9h-0.9zM473.7 512.6h0.9v0.9h-0.9zM471.2 516.8h0.9v0.9h-0.9zM471.5 512.5h0.9v0.9h-0.9zM467.8 521.7h0.9v0.9h-0.9zM478.3 530.4h0.9v0.9h-0.9zM468.1 513.4h0.9v0.9h-0.9zM468.2 518.8h0.9v0.9h-0.9zM466.8 517.2h0.9v0.9h-0.9zM467.6 509.6h0.9v0.9h-0.9zM469.5 511.8h0.9v0.9h-0.9zM468.8 514.6h0.9v0.9h-0.9zM475.4 515.1h0.9v0.9h-0.9zM467.8 513.3h0.9v0.9h-0.9zM474.1 516.7h0.9v0.9h-0.9zM479.1 521.6h0.9v0.9h-0.9zM470.0 514.4h0.9v0.9h-0.9zM467.3 513.0h0.9v0.9h-0.9zM466.7 518.1h0.9v0.9h-0.9zM472.7 514.0h0.9v0.9h-0.9zM476.9 509.4h0.9v0.9h-0.9zM464.0 514.0h0.9v0.9h-0.9zM466.2 512.5h0.9v0.9h-0.9zM479.5 527.4h0.9v0.9h-0.9zM479.9 512.2h0.9v0.9h-0.9zM472.7 516.1h0.9v0.9h-0.9zM466.5 521.8h0.9v0.9h-0.9zM472.2 526.2h0.9v0.9h-0.9zM474.9 519.4h0.9v0.9h-0.9z" fill="#3a50b0" opacity="0.45"/>
<g filter="url(#bl05)"><path d="M464.3,528.8 L464.8,512.8 Q472.3,509.8 479.3,511.8 L481.8,496.8 L483.3,497.8 L482.3,514.8 L481.3,528.8Z" fill="#2a46aa"/><rect x="466.8" y="514.8" width="11" height="14" rx="3" fill="#4e98d4"/><ellipse cx="471.8" cy="520.8" rx="4.2" ry="6" fill="#86c860"/><ellipse cx="471.8" cy="520.8" rx="2.6" ry="4" fill="#e0d838"/></g>
</g>
<rect x="458.3" y="474.8" width="53.3" height="53.9" fill="none" stroke="#8a8a8a" stroke-width="0.8"/>
<path d="M465.0 528.7v-1.2M458.3 481.5h1.2M471.6 528.7v-1.2M458.3 488.3h1.2M478.3 528.7v-1.2M458.3 495.0h1.2M484.9 528.7v-1.2M458.3 501.8h1.2M491.6 528.7v-1.2M458.3 508.5h1.2M498.3 528.7v-1.2M458.3 515.2h1.2M504.9 528.7v-1.2M458.3 522.0h1.2" stroke="#8a8a8a" stroke-width="0.5"/>
<text x="460.30" y="481.10" font-size="5.0" font-weight="bold" fill="#000" textLength="16" lengthAdjust="spacingAndGlyphs">M -1.5%</text>
<text x="507.50" y="492.60" font-size="5.0" font-weight="bold" fill="#000" text-anchor="end" textLength="16.7" lengthAdjust="spacingAndGlyphs">B -1.5%</text>
<text x="509.80" y="526.40" font-size="5.0" font-weight="bold" fill="#000" text-anchor="end" textLength="14.3" lengthAdjust="spacingAndGlyphs">T -97%</text>
<clipPath id="c18"><rect x="458.5" y="542.5" width="53.4" height="53.8"/></clipPath>
<g clip-path="url(#c18)">
<line x1="479.60" y1="542.50" x2="479.60" y2="596.30" stroke="#b4b4b4" stroke-width="0.6"/>
<line x1="479.60" y1="569.40" x2="511.90" y2="569.40" stroke="#b4b4b4" stroke-width="0.6"/>
<path d="M494.1 590.4h0.9v0.9h-0.9zM490.4 584.5h0.9v0.9h-0.9zM495.1 586.0h0.9v0.9h-0.9zM494.3 592.7h0.9v0.9h-0.9zM500.8 585.1h0.9v0.9h-0.9zM485.8 593.9h0.9v0.9h-0.9zM499.1 586.9h0.9v0.9h-0.9zM489.1 588.9h0.9v0.9h-0.9zM485.9 589.8h0.9v0.9h-0.9zM490.0 585.0h0.9v0.9h-0.9zM490.8 582.9h0.9v0.9h-0.9zM488.8 587.6h0.9v0.9h-0.9zM488.1 588.2h0.9v0.9h-0.9zM487.5 587.7h0.9v0.9h-0.9zM483.1 590.3h0.9v0.9h-0.9zM487.8 583.5h0.9v0.9h-0.9zM493.5 585.7h0.9v0.9h-0.9zM492.8 584.4h0.9v0.9h-0.9zM494.7 585.7h0.9v0.9h-0.9zM490.0 580.7h0.9v0.9h-0.9zM490.4 588.9h0.9v0.9h-0.9zM496.9 587.2h0.9v0.9h-0.9zM498.4 589.5h0.9v0.9h-0.9zM499.5 584.8h0.9v0.9h-0.9zM492.6 587.1h0.9v0.9h-0.9zM493.2 587.8h0.9v0.9h-0.9zM493.7 589.3h0.9v0.9h-0.9zM489.6 580.2h0.9v0.9h-0.9zM495.7 587.0h0.9v0.9h-0.9zM491.5 587.9h0.9v0.9h-0.9zM487.3 586.7h0.9v0.9h-0.9zM493.3 585.1h0.9v0.9h-0.9zM476.7 580.4h0.9v0.9h-0.9zM495.2 582.9h0.9v0.9h-0.9zM491.3 584.1h0.9v0.9h-0.9zM494.7 585.5h0.9v0.9h-0.9zM499.4 588.8h0.9v0.9h-0.9zM493.2 585.4h0.9v0.9h-0.9zM489.2 590.9h0.9v0.9h-0.9zM488.9 584.0h0.9v0.9h-0.9zM487.8 587.7h0.9v0.9h-0.9zM499.7 586.2h0.9v0.9h-0.9zM490.4 586.6h0.9v0.9h-0.9zM487.5 590.3h0.9v0.9h-0.9zM493.6 591.8h0.9v0.9h-0.9zM495.9 587.3h0.9v0.9h-0.9zM487.1 588.4h0.9v0.9h-0.9zM495.2 585.5h0.9v0.9h-0.9zM489.1 584.9h0.9v0.9h-0.9zM488.0 583.8h0.9v0.9h-0.9zM492.6 589.8h0.9v0.9h-0.9zM493.5 582.8h0.9v0.9h-0.9zM501.0 590.8h0.9v0.9h-0.9zM485.9 579.7h0.9v0.9h-0.9zM490.0 583.3h0.9v0.9h-0.9zM495.4 581.5h0.9v0.9h-0.9zM489.0 578.2h0.9v0.9h-0.9zM493.8 592.0h0.9v0.9h-0.9zM489.9 587.7h0.9v0.9h-0.9zM487.2 588.0h0.9v0.9h-0.9z" fill="#9898c8" opacity="0.4"/>
<path d="M471.1 576.0h0.9v0.9h-0.9zM468.5 583.4h0.9v0.9h-0.9zM450.8 585.3h0.9v0.9h-0.9zM461.9 589.9h0.9v0.9h-0.9zM471.6 579.6h0.9v0.9h-0.9zM482.7 589.7h0.9v0.9h-0.9zM462.9 585.7h0.9v0.9h-0.9zM455.8 579.1h0.9v0.9h-0.9zM467.4 593.1h0.9v0.9h-0.9zM464.3 571.2h0.9v0.9h-0.9zM458.3 589.6h0.9v0.9h-0.9zM479.5 580.3h0.9v0.9h-0.9zM466.3 589.1h0.9v0.9h-0.9zM476.1 586.6h0.9v0.9h-0.9zM464.9 596.3h0.9v0.9h-0.9zM454.5 586.7h0.9v0.9h-0.9zM478.0 580.0h0.9v0.9h-0.9zM469.2 587.4h0.9v0.9h-0.9zM472.8 593.4h0.9v0.9h-0.9zM463.0 590.1h0.9v0.9h-0.9zM465.7 582.7h0.9v0.9h-0.9zM468.5 578.6h0.9v0.9h-0.9zM473.2 586.3h0.9v0.9h-0.9zM468.4 583.6h0.9v0.9h-0.9zM466.4 587.8h0.9v0.9h-0.9zM467.6 582.1h0.9v0.9h-0.9zM457.9 586.0h0.9v0.9h-0.9zM477.1 581.7h0.9v0.9h-0.9zM470.8 583.1h0.9v0.9h-0.9zM470.3 581.0h0.9v0.9h-0.9zM447.9 579.6h0.9v0.9h-0.9zM466.4 581.7h0.9v0.9h-0.9zM468.1 584.0h0.9v0.9h-0.9zM456.3 588.4h0.9v0.9h-0.9zM473.2 590.1h0.9v0.9h-0.9zM477.2 594.6h0.9v0.9h-0.9zM470.0 593.2h0.9v0.9h-0.9zM474.5 586.7h0.9v0.9h-0.9zM477.7 581.7h0.9v0.9h-0.9zM450.1 586.5h0.9v0.9h-0.9zM465.2 583.4h0.9v0.9h-0.9zM460.2 587.3h0.9v0.9h-0.9zM476.2 585.4h0.9v0.9h-0.9zM467.9 582.5h0.9v0.9h-0.9zM459.0 588.7h0.9v0.9h-0.9zM462.4 584.6h0.9v0.9h-0.9zM484.1 590.4h0.9v0.9h-0.9zM476.2 584.0h0.9v0.9h-0.9zM471.1 589.3h0.9v0.9h-0.9zM482.1 590.7h0.9v0.9h-0.9zM483.4 591.4h0.9v0.9h-0.9zM483.2 591.4h0.9v0.9h-0.9zM472.3 577.9h0.9v0.9h-0.9zM466.2 587.7h0.9v0.9h-0.9zM465.9 591.0h0.9v0.9h-0.9zM468.1 585.9h0.9v0.9h-0.9zM462.8 592.5h0.9v0.9h-0.9zM468.3 581.1h0.9v0.9h-0.9zM469.5 589.1h0.9v0.9h-0.9zM461.4 594.9h0.9v0.9h-0.9zM467.4 584.4h0.9v0.9h-0.9zM455.7 589.1h0.9v0.9h-0.9zM481.6 584.0h0.9v0.9h-0.9zM465.0 586.6h0.9v0.9h-0.9zM470.1 586.2h0.9v0.9h-0.9zM481.8 585.3h0.9v0.9h-0.9zM456.2 576.5h0.9v0.9h-0.9zM482.4 586.6h0.9v0.9h-0.9zM473.2 580.9h0.9v0.9h-0.9zM470.8 583.7h0.9v0.9h-0.9zM453.4 584.3h0.9v0.9h-0.9zM461.4 580.7h0.9v0.9h-0.9zM465.1 578.6h0.9v0.9h-0.9zM465.5 590.0h0.9v0.9h-0.9zM481.1 587.8h0.9v0.9h-0.9zM455.7 587.6h0.9v0.9h-0.9zM471.7 584.5h0.9v0.9h-0.9zM454.0 575.9h0.9v0.9h-0.9zM456.0 581.3h0.9v0.9h-0.9zM471.1 580.3h0.9v0.9h-0.9zM469.6 578.1h0.9v0.9h-0.9zM478.0 581.0h0.9v0.9h-0.9zM479.8 583.6h0.9v0.9h-0.9zM467.6 574.5h0.9v0.9h-0.9zM467.4 578.6h0.9v0.9h-0.9zM456.0 574.1h0.9v0.9h-0.9zM448.6 589.6h0.9v0.9h-0.9zM470.5 587.2h0.9v0.9h-0.9zM481.2 582.5h0.9v0.9h-0.9zM479.9 584.0h0.9v0.9h-0.9zM467.3 581.1h0.9v0.9h-0.9zM463.8 584.4h0.9v0.9h-0.9zM480.0 582.2h0.9v0.9h-0.9zM464.4 584.0h0.9v0.9h-0.9zM465.4 594.3h0.9v0.9h-0.9zM474.2 595.4h0.9v0.9h-0.9zM460.1 592.7h0.9v0.9h-0.9zM468.1 578.9h0.9v0.9h-0.9zM464.4 572.8h0.9v0.9h-0.9zM464.3 589.7h0.9v0.9h-0.9zM466.7 586.4h0.9v0.9h-0.9zM478.0 576.4h0.9v0.9h-0.9zM475.3 590.6h0.9v0.9h-0.9zM463.3 589.9h0.9v0.9h-0.9zM473.4 588.8h0.9v0.9h-0.9zM475.7 587.6h0.9v0.9h-0.9zM457.6 581.6h0.9v0.9h-0.9zM469.4 593.7h0.9v0.9h-0.9zM461.7 582.9h0.9v0.9h-0.9zM468.7 582.2h0.9v0.9h-0.9zM461.2 580.6h0.9v0.9h-0.9zM473.2 584.1h0.9v0.9h-0.9zM472.8 581.0h0.9v0.9h-0.9zM460.7 576.9h0.9v0.9h-0.9zM474.1 581.5h0.9v0.9h-0.9zM468.4 583.8h0.9v0.9h-0.9zM478.7 580.9h0.9v0.9h-0.9zM458.7 584.4h0.9v0.9h-0.9zM461.0 585.2h0.9v0.9h-0.9zM458.0 584.4h0.9v0.9h-0.9zM472.6 577.7h0.9v0.9h-0.9zM457.5 593.3h0.9v0.9h-0.9zM464.0 587.5h0.9v0.9h-0.9zM458.9 584.6h0.9v0.9h-0.9zM475.2 587.1h0.9v0.9h-0.9zM463.6 578.2h0.9v0.9h-0.9zM469.5 586.9h0.9v0.9h-0.9zM468.9 587.3h0.9v0.9h-0.9zM482.1 585.0h0.9v0.9h-0.9zM465.2 592.2h0.9v0.9h-0.9zM488.5 589.0h0.9v0.9h-0.9zM480.9 575.8h0.9v0.9h-0.9zM460.1 584.3h0.9v0.9h-0.9zM464.9 585.5h0.9v0.9h-0.9zM455.9 596.0h0.9v0.9h-0.9zM473.5 583.0h0.9v0.9h-0.9zM477.1 578.2h0.9v0.9h-0.9zM466.9 582.8h0.9v0.9h-0.9zM467.2 588.2h0.9v0.9h-0.9zM460.7 589.3h0.9v0.9h-0.9zM474.0 586.5h0.9v0.9h-0.9zM476.4 582.9h0.9v0.9h-0.9zM455.4 586.7h0.9v0.9h-0.9zM474.1 591.4h0.9v0.9h-0.9zM466.3 587.2h0.9v0.9h-0.9zM478.6 584.5h0.9v0.9h-0.9zM471.6 583.2h0.9v0.9h-0.9zM465.2 589.3h0.9v0.9h-0.9zM477.8 586.3h0.9v0.9h-0.9zM467.9 584.5h0.9v0.9h-0.9zM464.1 585.4h0.9v0.9h-0.9zM469.0 592.5h0.9v0.9h-0.9zM470.1 585.2h0.9v0.9h-0.9zM467.8 585.4h0.9v0.9h-0.9zM470.5 580.8h0.9v0.9h-0.9zM472.4 587.8h0.9v0.9h-0.9zM482.2 590.1h0.9v0.9h-0.9zM475.4 589.0h0.9v0.9h-0.9zM477.6 586.8h0.9v0.9h-0.9zM472.3 588.4h0.9v0.9h-0.9zM468.1 577.5h0.9v0.9h-0.9zM472.1 590.8h0.9v0.9h-0.9zM468.4 590.0h0.9v0.9h-0.9zM476.4 581.8h0.9v0.9h-0.9zM458.8 577.6h0.9v0.9h-0.9zM478.3 590.3h0.9v0.9h-0.9zM472.4 573.7h0.9v0.9h-0.9zM463.6 585.2h0.9v0.9h-0.9zM462.7 579.5h0.9v0.9h-0.9zM475.7 583.2h0.9v0.9h-0.9zM470.5 590.0h0.9v0.9h-0.9zM468.1 586.3h0.9v0.9h-0.9zM472.1 595.4h0.9v0.9h-0.9zM470.2 588.6h0.9v0.9h-0.9zM476.4 592.5h0.9v0.9h-0.9zM463.9 581.1h0.9v0.9h-0.9zM464.9 580.3h0.9v0.9h-0.9zM455.6 585.5h0.9v0.9h-0.9zM474.1 578.8h0.9v0.9h-0.9zM474.2 589.6h0.9v0.9h-0.9zM461.7 583.6h0.9v0.9h-0.9zM481.3 585.9h0.9v0.9h-0.9zM471.6 591.0h0.9v0.9h-0.9zM469.1 579.6h0.9v0.9h-0.9zM464.3 581.5h0.9v0.9h-0.9zM466.8 586.1h0.9v0.9h-0.9zM478.8 579.7h0.9v0.9h-0.9zM473.9 589.3h0.9v0.9h-0.9zM463.9 584.4h0.9v0.9h-0.9zM465.7 582.8h0.9v0.9h-0.9zM468.7 585.5h0.9v0.9h-0.9zM473.4 582.3h0.9v0.9h-0.9zM471.6 588.4h0.9v0.9h-0.9zM465.8 583.9h0.9v0.9h-0.9zM471.4 578.5h0.9v0.9h-0.9zM478.8 574.4h0.9v0.9h-0.9zM463.7 579.2h0.9v0.9h-0.9zM460.8 576.0h0.9v0.9h-0.9zM475.2 581.9h0.9v0.9h-0.9zM469.9 585.9h0.9v0.9h-0.9z" fill="#3a50b0" opacity="0.45"/>
<rect x="455.5" y="572.0" width="23.5" height="22.5" rx="7" fill="#4a60c0" opacity="0.55" filter="url(#bl1)"/>
<g filter="url(#bl05)"><rect x="456.5" y="574.5" width="20.5" height="18.5" rx="5" fill="#2c4cb0"/><rect x="457.5" y="577.0" width="16" height="14" rx="5" fill="#4e98d4"/><ellipse cx="464.0" cy="585.5" rx="5.8" ry="4.2" fill="#86c860"/><ellipse cx="463.0" cy="585.7" rx="3.8" ry="2.6" fill="#e0d838"/></g>
</g>
<rect x="458.5" y="542.5" width="53.4" height="53.8" fill="none" stroke="#8a8a8a" stroke-width="0.8"/>
<path d="M465.2 596.3v-1.2M458.5 549.2h1.2M471.9 596.3v-1.2M458.5 556.0h1.2M478.5 596.3v-1.2M458.5 562.7h1.2M485.2 596.3v-1.2M458.5 569.4h1.2M491.9 596.3v-1.2M458.5 576.1h1.2M498.6 596.3v-1.2M458.5 582.9h1.2M505.2 596.3v-1.2M458.5 589.6h1.2" stroke="#8a8a8a" stroke-width="0.5"/>
<text x="510.00" y="547.80" font-size="5.0" font-weight="bold" fill="#000" text-anchor="end" textLength="20.5" lengthAdjust="spacingAndGlyphs">Mast &lt;1%</text>
<path d="M452.3,520.0 L452.3,534.0 L466.4,534.0" stroke="#000" stroke-width="1.2" fill="none"/>
<path d="M452.3,517.4 L450.5,521.6 L454.1,521.6Z" fill="#000"/>
<path d="M469.0,534.0 L464.8,532.2 L464.8,535.8Z" fill="#000"/>
<text x="454.82" y="488.50" font-size="7.0" font-weight="normal" fill="#000" text-anchor="middle" textLength="54" lengthAdjust="spacingAndGlyphs" transform="rotate(-90 454.82 488.50)" style="stroke-width:0.3px">B220 / Gr-1 / Mac-1</text>
<text x="471.00" y="536.52" font-size="7.0" font-weight="normal" fill="#000" textLength="50.5" lengthAdjust="spacingAndGlyphs" style="stroke-width:0.3px">B220 / CD4 / CD8</text>
<path d="M452.3,587.0 L452.3,602.1 L466.4,602.1" stroke="#000" stroke-width="1.2" fill="none"/>
<path d="M452.3,584.4 L450.5,588.6 L454.1,588.6Z" fill="#000"/>
<path d="M469.0,602.1 L464.8,600.3 L464.8,603.9Z" fill="#000"/>
<text x="454.82" y="575.90" font-size="7.0" font-weight="normal" fill="#000" text-anchor="middle" textLength="12.5" lengthAdjust="spacingAndGlyphs" transform="rotate(-90 454.82 575.90)" style="stroke-width:0.3px">c-Kit</text>
<text x="472.40" y="604.62" font-size="7.0" font-weight="normal" fill="#000" textLength="12.7" lengthAdjust="spacingAndGlyphs" style="stroke-width:0.3px">FcεR1</text>
<line x1="433.50" y1="536.50" x2="447.00" y2="522.30" stroke="#a02838" stroke-width="0.8"/>
<line x1="433.50" y1="536.50" x2="447.60" y2="549.50" stroke="#a02838" stroke-width="0.8"/>
</svg></body></html>
